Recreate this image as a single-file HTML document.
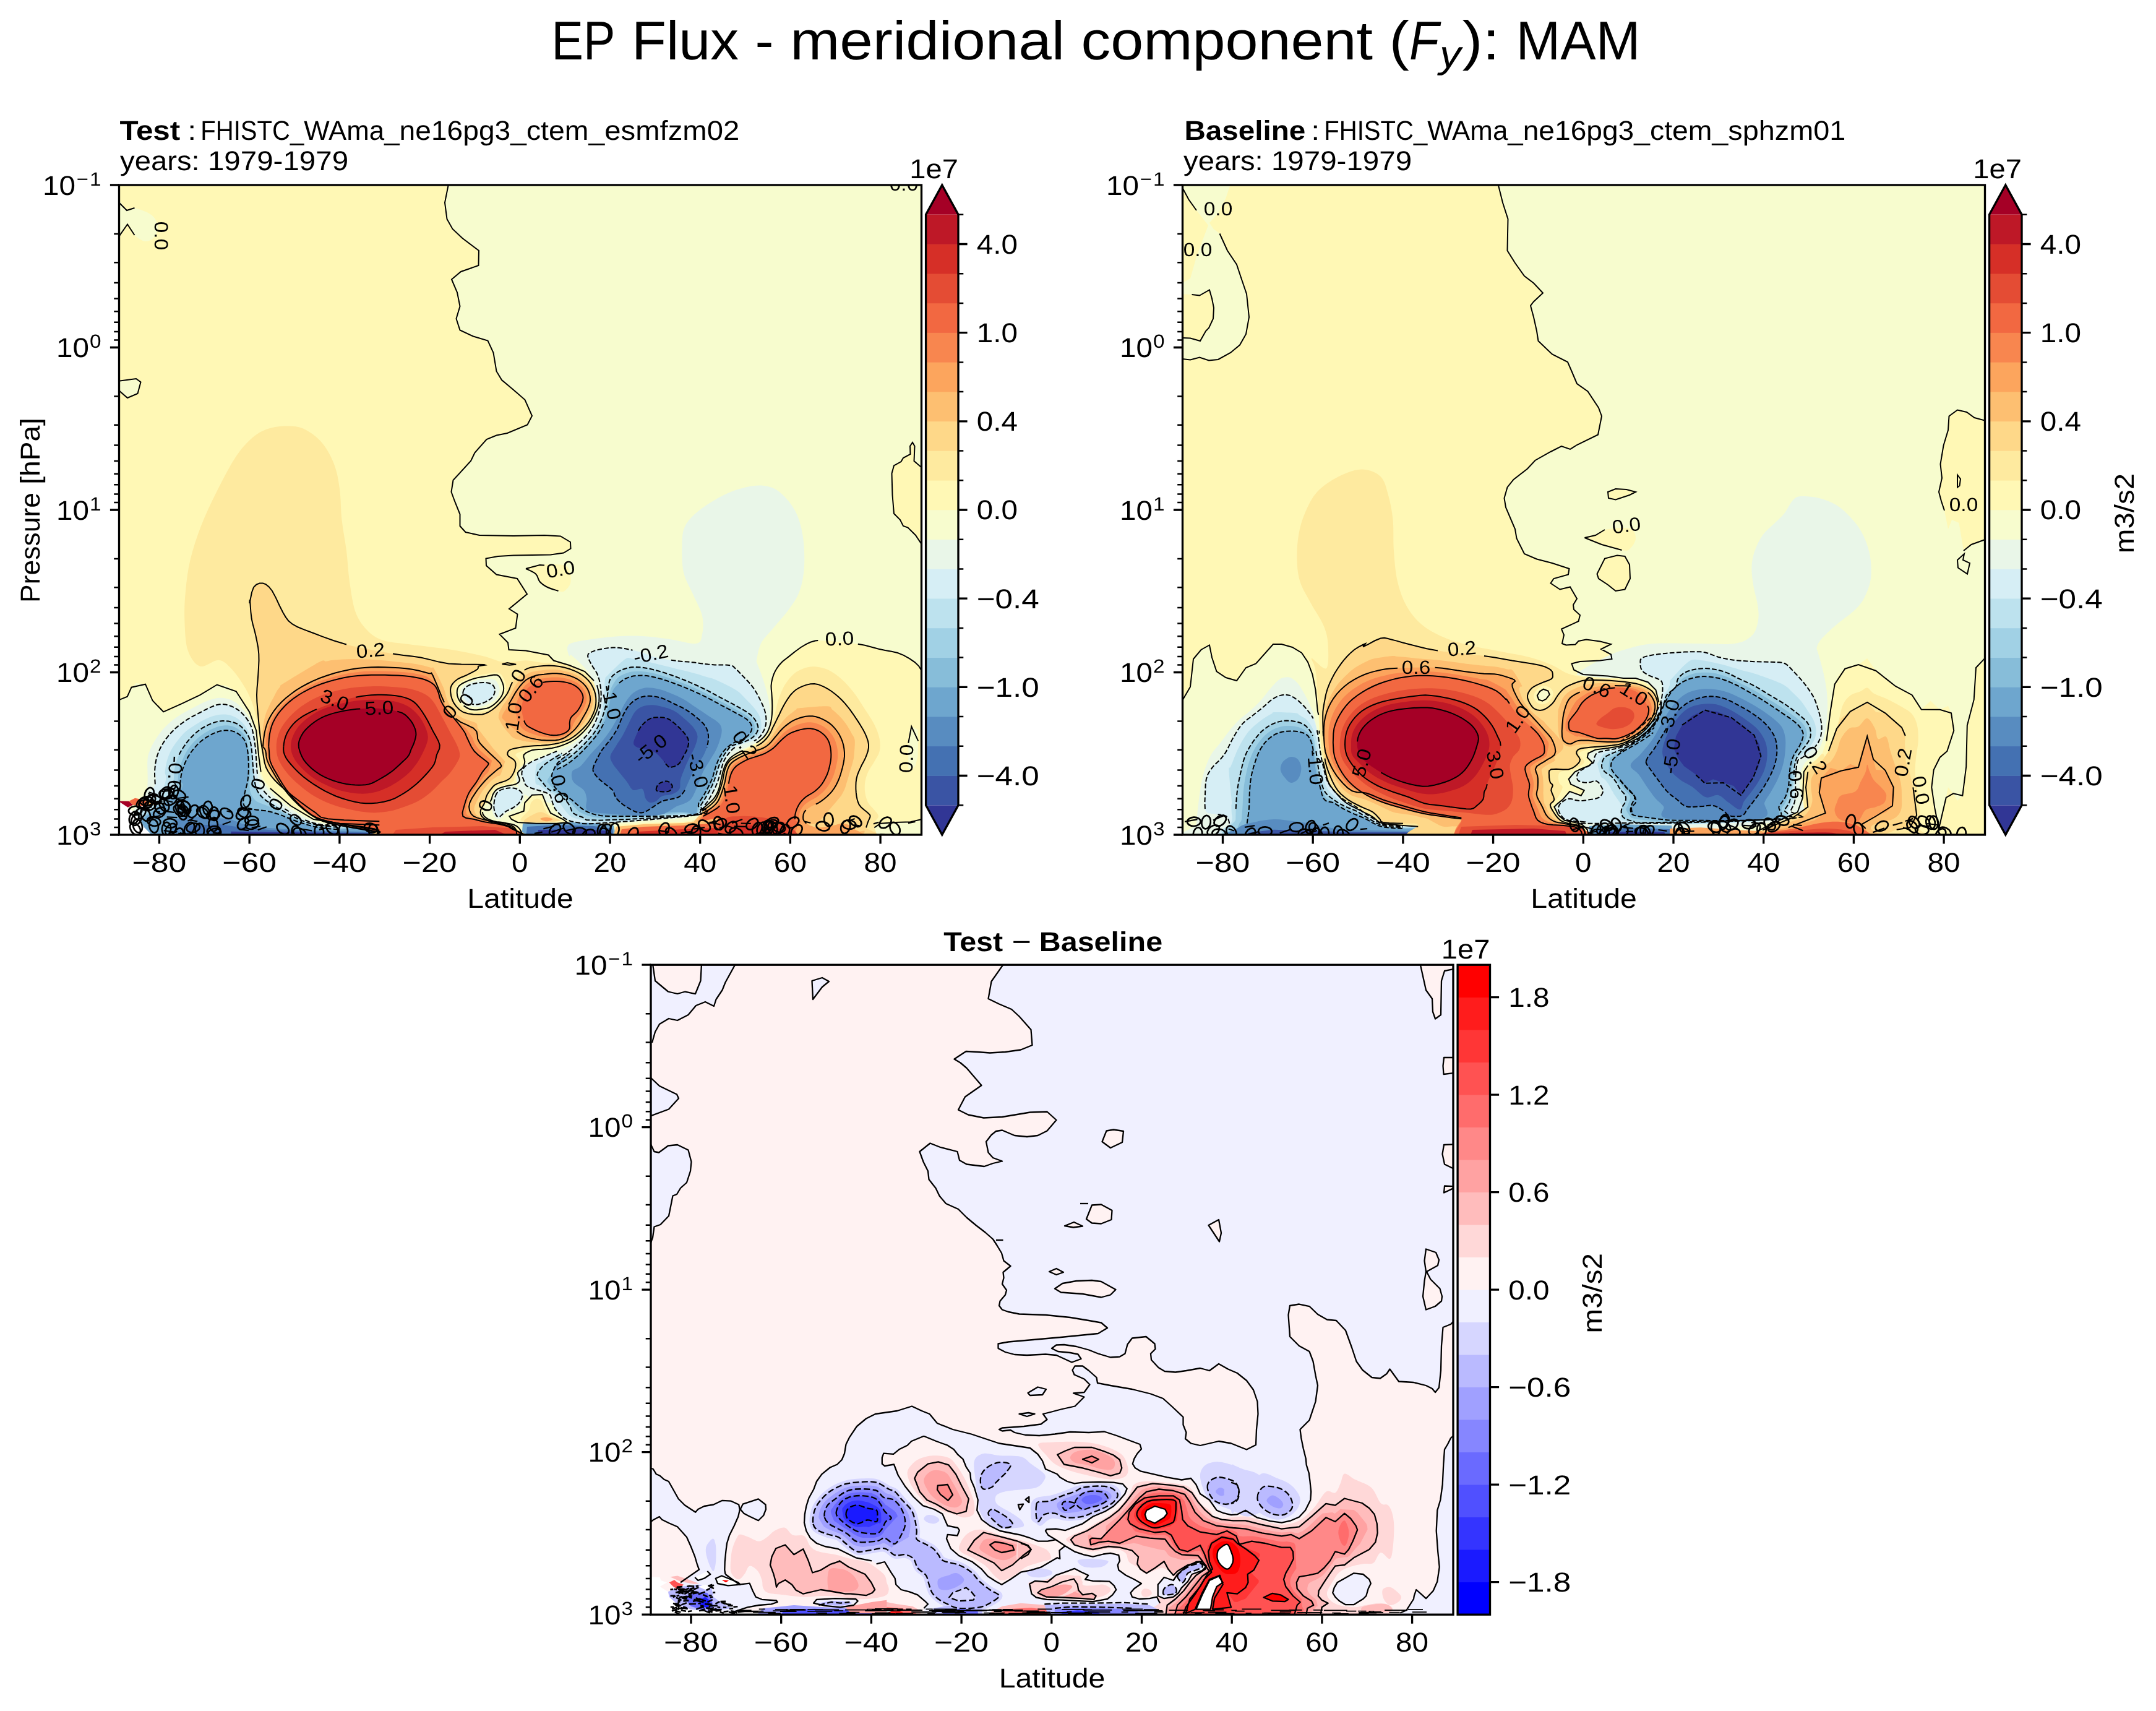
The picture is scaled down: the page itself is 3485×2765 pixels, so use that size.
<!DOCTYPE html>
<html><head><meta charset="utf-8"><title>EP Flux</title><style>html,body{margin:0;padding:0;background:#fff}svg{display:block;will-change:transform}</style></head><body>
<svg width="3485" height="2765" viewBox="0 0 3485 2765" font-family="'Liberation Sans', sans-serif" text-rendering="geometricPrecision">
<rect width="3485" height="2765" fill="#fff"/>
<defs>
<clipPath id="c0"><rect x="192.5" y="299.0" width="1297.0" height="1050.0"/></clipPath>
<clipPath id="c1"><rect x="1911.5" y="299.0" width="1297.0" height="1050.0"/></clipPath>
<clipPath id="c2"><rect x="1052.0" y="1559.2" width="1297.0" height="1050.0"/></clipPath>
</defs>
<text x="891.50" y="95.60" font-size="88.33" textLength="102.91" lengthAdjust="spacingAndGlyphs" fill="#000">EP</text>
<text x="1020.90" y="95.60" font-size="88.33" textLength="173.22" lengthAdjust="spacingAndGlyphs" fill="#000">Flux</text>
<text x="1220.60" y="95.60" font-size="88.33" textLength="30.07" lengthAdjust="spacingAndGlyphs" fill="#000">-</text>
<text x="1277.16" y="95.60" font-size="88.33" textLength="443.93" lengthAdjust="spacingAndGlyphs" fill="#000">meridional</text>
<text x="1747.58" y="95.60" font-size="88.33" textLength="471.44" lengthAdjust="spacingAndGlyphs" fill="#000">component</text>
<text x="2245.51" y="95.60" font-size="88.33" textLength="32.51" lengthAdjust="spacingAndGlyphs" fill="#000">(</text>
<text x="2278.02" y="95.60" font-size="88.33" font-style="italic" textLength="47.93" lengthAdjust="spacingAndGlyphs" fill="#000">F</text>
<text x="2326.96" y="108.60" font-size="61.83" font-style="italic" textLength="34.52" lengthAdjust="spacingAndGlyphs" fill="#000">y</text>
<text x="2363.48" y="95.60" font-size="88.33" textLength="60.59" lengthAdjust="spacingAndGlyphs" fill="#000">):</text>
<text x="2450.56" y="95.60" font-size="88.33" textLength="200.81" lengthAdjust="spacingAndGlyphs" fill="#000">MAM</text>
<g clip-path="url(#c0)">
<rect x="192.5" y="299.0" width="1297.0" height="1050.0" fill="#fff8b5"/>
<path d="M300.0 955.0C301.5 939.2 303.3 922.5 307.5 905.0C311.7 887.5 317.9 868.3 325.0 850.0C332.1 831.7 340.8 813.3 350.0 795.0C359.2 776.7 370.8 754.2 380.0 740.0C389.2 725.8 396.7 717.7 405.0 710.0C413.3 702.3 420.8 697.6 430.0 694.0C439.2 690.4 450.0 688.8 460.0 688.5C470.0 688.2 480.0 688.1 490.0 692.5C500.0 696.9 511.7 705.4 520.0 715.0C528.3 724.6 535.2 737.5 540.0 750.0C544.8 762.5 546.9 775.0 549.0 790.0C551.1 805.0 550.7 823.3 552.5 840.0C554.3 856.7 557.9 873.3 560.0 890.0C562.1 906.7 562.5 923.3 565.0 940.0C567.5 956.7 570.0 976.7 575.0 990.0C580.0 1003.3 587.5 1012.5 595.0 1020.0C602.5 1027.5 609.2 1031.5 620.0 1035.0C630.8 1038.5 641.7 1038.5 660.0 1041.0C678.3 1043.5 710.0 1046.8 730.0 1050.0C750.0 1053.2 765.8 1056.7 780.0 1060.0C794.2 1063.3 803.3 1068.8 815.0 1070.0C826.7 1071.2 840.0 1067.2 850.0 1067.3C860.0 1067.4 865.3 1069.8 875.0 1070.7C884.7 1071.5 898.6 1070.4 908.3 1072.3C918.1 1074.3 926.4 1078.7 933.3 1082.3C940.3 1085.9 945.6 1090.1 950.0 1094.0C954.4 1097.9 957.4 1101.2 960.0 1105.7C962.6 1110.1 964.8 1115.4 965.8 1120.7C966.9 1125.9 967.2 1131.8 966.3 1137.3C965.5 1142.9 963.4 1148.4 960.8 1154.0C958.2 1159.6 954.6 1165.5 950.8 1170.7C947.1 1175.8 943.2 1180.5 938.3 1184.8C933.5 1189.1 928.1 1193.2 921.7 1196.5C915.3 1199.8 907.5 1202.9 900.0 1204.8C892.5 1206.8 883.6 1207.5 876.7 1208.2C869.7 1208.9 863.9 1208.0 858.3 1209.0C852.8 1210.0 847.5 1212.2 843.3 1214.0C839.2 1215.8 833.9 1217.3 833.3 1219.8C832.8 1222.3 838.9 1225.5 840.0 1229.0C841.1 1232.5 841.2 1237.1 840.0 1240.7C838.8 1244.3 834.2 1247.1 832.5 1250.7C830.8 1254.3 832.6 1259.4 830.0 1262.3C827.4 1265.2 821.4 1266.6 816.7 1268.2C811.9 1269.7 805.3 1269.4 801.7 1271.5C798.1 1273.6 796.9 1277.2 795.0 1280.7C793.1 1284.1 792.2 1289.1 790.0 1292.3C787.8 1295.5 783.8 1296.2 781.7 1299.8C779.6 1303.4 777.2 1310.1 777.5 1314.0C777.8 1317.9 779.6 1320.7 783.3 1323.2C787.1 1325.7 794.4 1327.5 800.0 1329.0C805.6 1330.5 811.1 1330.9 816.7 1332.3C822.2 1333.7 829.7 1335.4 833.3 1337.3C836.9 1339.3 837.2 1340.9 838.3 1344.0C839.4 1347.1 877.5 1353.0 840.0 1355.7C802.5 1358.3 651.1 1364.3 613.3 1360.0C575.6 1355.7 626.7 1335.6 613.3 1330.0C600.0 1324.4 549.4 1328.3 533.3 1326.7C517.2 1325.0 522.2 1323.3 516.7 1320.0C511.1 1316.7 507.2 1312.2 500.0 1306.7C492.8 1301.1 481.7 1293.3 473.3 1286.7C465.0 1280.0 456.9 1273.3 450.0 1266.7C443.1 1260.0 435.8 1253.3 431.7 1246.7C427.5 1240.0 426.9 1235.0 425.0 1226.7C423.1 1218.3 421.7 1207.2 420.0 1196.7C418.3 1186.1 417.2 1173.9 415.0 1163.3C412.8 1152.8 410.3 1142.8 406.7 1133.3C403.1 1123.9 398.9 1115.6 393.3 1106.7C387.8 1097.8 380.0 1086.7 373.3 1080.0C366.7 1073.3 361.7 1067.2 353.3 1066.7C345.0 1066.1 331.7 1079.4 323.3 1076.7C315.0 1073.9 307.5 1062.8 303.3 1050.0C299.2 1037.2 298.9 1015.8 298.3 1000.0C297.8 984.2 298.5 970.8 300.0 955.0Z" fill="#feea9f"/>
<path d="M1131.7 1312.3C1133.9 1303.3 1139.6 1305.1 1143.3 1301.5C1147.1 1297.9 1151.2 1294.8 1154.2 1290.7C1157.1 1286.5 1159.0 1281.6 1160.8 1276.5C1162.6 1271.4 1163.6 1265.4 1165.0 1259.8C1166.4 1254.3 1167.2 1248.0 1169.2 1243.2C1171.1 1238.3 1173.5 1234.4 1176.7 1230.7C1179.9 1226.9 1183.9 1223.6 1188.3 1220.7C1192.8 1217.8 1198.1 1215.8 1203.3 1213.2C1208.6 1210.5 1215.0 1207.8 1220.0 1204.8C1225.0 1201.9 1229.4 1199.4 1233.3 1195.7C1237.2 1191.9 1241.0 1187.1 1243.3 1182.3C1245.7 1177.6 1246.1 1171.5 1247.5 1167.3C1248.9 1163.2 1249.9 1163.4 1251.7 1157.3C1253.5 1151.2 1255.6 1139.0 1258.3 1130.7C1261.1 1122.3 1264.2 1114.3 1268.3 1107.3C1272.5 1100.4 1278.1 1093.6 1283.3 1089.0C1288.6 1084.4 1294.4 1081.8 1300.0 1079.8C1305.6 1077.9 1310.3 1076.9 1316.7 1077.3C1323.1 1077.8 1331.1 1079.0 1338.3 1082.3C1345.6 1085.7 1353.1 1091.2 1360.0 1097.3C1366.9 1103.4 1373.9 1111.2 1380.0 1119.0C1386.1 1126.8 1391.1 1135.4 1396.7 1144.0C1402.2 1152.6 1409.2 1162.3 1413.3 1170.7C1417.5 1179.0 1420.3 1186.8 1421.7 1194.0C1423.1 1201.2 1423.1 1207.9 1421.7 1214.0C1420.3 1220.1 1416.4 1225.1 1413.3 1230.7C1410.3 1236.2 1405.8 1241.8 1403.3 1247.3C1400.8 1252.9 1399.2 1258.4 1398.3 1264.0C1397.5 1269.6 1397.5 1275.1 1398.3 1280.7C1399.2 1286.2 1400.8 1292.6 1403.3 1297.3C1405.8 1302.1 1410.6 1305.4 1413.3 1309.0C1416.1 1312.6 1420.0 1315.4 1420.0 1319.0C1420.0 1322.6 1414.7 1324.6 1413.3 1330.7C1411.9 1336.8 1458.9 1351.5 1411.7 1355.7C1364.4 1359.8 1176.7 1362.9 1130.0 1355.7C1083.3 1348.4 1129.4 1321.4 1131.7 1312.3Z" fill="#feea9f"/>
<path d="M725.0 297.5 L719.0 327.5 L722.5 354.0 L731.5 370.0 L747.5 385.0 L774.0 405.0 L773.5 429.0 L745.0 439.0 L730.0 451.5 L739.0 472.5 L743.5 495.0 L737.5 515.0 L743.5 533.5 L765.0 543.5 L788.5 550.5 L797.5 570.0 L802.5 600.0 L811.0 614.0 L830.0 630.0 L848.5 646.0 L860.0 672.0 L852.5 686.5 L820.0 700.0 L802.5 703.5 L786.5 710.0 L767.5 731.5 L761.0 745.0 L732.5 776.0 L729.5 795.0 L735.0 810.0 L743.5 831.0 L743.5 850.0 L752.5 860.0 L775.0 865.0 L830.0 866.0 L880.0 865.0 L906.0 866.5 L922.0 876.0 L922.5 886.5 L911.0 893.5 L890.0 896.5 L830.0 897.5 L805.0 899.0 L785.5 902.5 L786.0 914.0 L802.5 928.5 L836.0 935.0 L852.0 960.0 L823.0 984.0 L836.5 992.5 L833.5 1015.0 L807.5 1025.0 L821.0 1038.5 L822.5 1050.0 L850.0 1051.5 L886.5 1058.5 L895.0 1067.5 L920.0 1075.0 L945.0 1085.0 L960.0 1100.0 L965.0 1107.3 L968.3 1122.3 L967.5 1139.0 L961.7 1155.7 L951.7 1172.3 L938.3 1187.3 L921.7 1199.0 L900.0 1207.3 L876.7 1210.7 L860.0 1212.3 L846.7 1219.8 L848.3 1230.7 L845.0 1240.7 L836.7 1249.0 L840.0 1260.7 L833.3 1267.3 L816.7 1270.7 L803.3 1275.7 L796.7 1284.0 L793.3 1294.0 L783.3 1302.3 L780.0 1314.0 L786.7 1322.3 L800.0 1327.3 L816.7 1329.8 L833.3 1334.0 L841.7 1342.3 L845.0 1354.0 L985.0 1355.0 L989.0 1340.0 L999.0 1333.0 L1039.0 1330.0 L1105.0 1328.0 L1139.0 1323.0 L1133.3 1309.0 L1145.0 1299.0 L1155.0 1289.0 L1161.7 1275.7 L1165.8 1259.0 L1170.0 1242.3 L1176.7 1229.0 L1188.3 1219.0 L1203.3 1211.5 L1220.0 1202.3 L1233.3 1192.3 L1241.7 1180.7 L1246.7 1164.0 L1248.3 1144.0 L1247.5 1122.3 L1246.7 1105.7 L1251.7 1087.3 L1261.7 1072.3 L1273.3 1062.3 L1299.0 1043.3 L1322.3 1035.0 L1359.0 1037.3 L1392.3 1041.7 L1425.7 1050.0 L1455.7 1056.7 L1482.3 1073.3 L1492.3 1090.0 L1493.5 1090.0 L1493.5 295.0 L725.0 295.0Z" fill="#f7fcce"/>
<path d="M1495.0 760.0 L1477.5 745.0 L1478.5 721.0 L1475.0 715.0 L1471.0 721.0 L1471.5 734.0 L1460.0 740.0 L1456.5 746.0 L1445.0 752.5 L1441.5 765.0 L1442.5 800.0 L1445.0 830.0 L1455.0 840.0 L1460.0 850.0 L1467.5 852.5 L1480.0 865.0 L1495.0 887.5Z" fill="#fff8b5"/>
<path d="M850.0 919.0C851.1 916.6 861.7 913.7 872.5 913.0C883.3 912.3 906.7 910.5 915.0 915.0C923.3 919.5 922.9 933.3 922.5 940.0C922.1 946.7 915.8 952.5 912.5 955.0C909.2 957.5 907.1 956.0 902.5 955.0C897.9 954.0 890.0 951.5 885.0 949.0C880.0 946.5 875.7 943.6 872.5 940.0C869.3 936.4 869.8 931.0 866.0 927.5C862.2 924.0 848.9 921.4 850.0 919.0Z" fill="#fff8b5"/>
<path d="M190.0 325.0C192.5 317.5 200.4 338.2 205.0 340.0C209.6 341.8 210.8 334.8 217.5 336.0C224.2 337.2 238.8 342.7 245.0 347.5C251.2 352.3 254.2 359.2 255.0 365.0C255.8 370.8 253.3 378.3 250.0 382.5C246.7 386.7 240.4 390.4 235.0 390.0C229.6 389.6 222.3 384.6 217.5 380.0C212.7 375.4 210.6 361.7 206.0 362.5C201.4 363.3 192.7 391.2 190.0 385.0C187.3 378.8 187.5 332.5 190.0 325.0Z" fill="#f7fcce"/>
<path d="M191.0 616.0 L220.0 612.0 L227.5 617.5 L222.5 636.0 L206.0 643.0 L191.0 630.0Z" fill="#f7fcce"/>
<path d="M1102.5 880.0C1102.9 867.5 1102.9 859.2 1107.5 850.0C1112.1 840.8 1119.6 833.3 1130.0 825.0C1140.4 816.7 1157.5 806.2 1170.0 800.0C1182.5 793.8 1194.2 790.0 1205.0 787.5C1215.8 785.0 1225.8 783.8 1235.0 785.0C1244.2 786.2 1251.7 788.3 1260.0 795.0C1268.3 801.7 1278.8 813.3 1285.0 825.0C1291.2 836.7 1295.0 850.0 1297.5 865.0C1300.0 880.0 1300.8 900.0 1300.0 915.0C1299.2 930.0 1296.7 943.3 1292.5 955.0C1288.3 966.7 1282.1 975.0 1275.0 985.0C1267.9 995.0 1257.5 1005.8 1250.0 1015.0C1242.5 1024.2 1234.6 1030.8 1230.0 1040.0C1225.4 1049.2 1223.6 1064.9 1222.5 1070.0C1221.4 1075.1 1221.5 1066.1 1223.3 1070.7C1225.1 1075.2 1230.3 1087.9 1233.3 1097.3C1236.4 1106.8 1239.7 1118.4 1241.7 1127.3C1243.6 1136.2 1244.6 1143.4 1245.0 1150.7C1245.4 1157.9 1245.3 1165.1 1244.2 1170.7C1243.1 1176.2 1241.0 1179.8 1238.3 1184.0C1235.7 1188.2 1232.5 1192.2 1228.3 1195.7C1224.2 1199.1 1218.6 1202.1 1213.3 1204.8C1208.1 1207.6 1201.7 1209.7 1196.7 1212.3C1191.7 1215.0 1187.2 1217.3 1183.3 1220.7C1179.4 1224.0 1176.1 1227.9 1173.3 1232.3C1170.6 1236.8 1168.5 1242.1 1166.7 1247.3C1164.9 1252.6 1163.9 1258.7 1162.5 1264.0C1161.1 1269.3 1160.1 1274.3 1158.3 1279.0C1156.5 1283.7 1154.4 1288.2 1151.7 1292.3C1148.9 1296.5 1145.3 1300.4 1141.7 1304.0C1138.1 1307.6 1136.9 1311.0 1130.0 1314.0C1123.1 1317.0 1121.7 1320.0 1100.0 1322.0C1078.3 1324.0 1023.3 1328.0 1000.0 1326.0C976.7 1324.0 976.7 1314.3 960.0 1310.0C943.3 1305.7 918.3 1304.2 900.0 1300.0C881.7 1295.8 860.8 1291.3 850.0 1285.0C839.2 1278.7 836.3 1269.5 835.0 1262.0C833.7 1254.5 836.2 1246.2 842.0 1240.0C847.8 1233.8 857.0 1230.8 870.0 1225.0C883.0 1219.2 906.7 1212.5 920.0 1205.0C933.3 1197.5 942.5 1189.2 950.0 1180.0C957.5 1170.8 963.0 1161.7 965.0 1150.0C967.0 1138.3 964.5 1120.8 962.0 1110.0C959.5 1099.2 956.2 1093.3 950.0 1085.0C943.8 1076.7 930.0 1064.2 925.0 1060.0C920.0 1055.8 921.2 1062.5 920.0 1060.0C918.8 1057.5 915.8 1048.8 917.5 1045.0C919.2 1041.2 919.6 1040.0 930.0 1037.5C940.4 1035.0 963.3 1031.7 980.0 1030.0C996.7 1028.3 1013.3 1027.1 1030.0 1027.5C1046.7 1027.9 1064.2 1030.4 1080.0 1032.5C1095.8 1034.6 1115.8 1041.2 1125.0 1040.0C1134.2 1038.8 1133.3 1032.5 1135.0 1025.0C1136.7 1017.5 1137.5 1005.8 1135.0 995.0C1132.5 984.2 1125.0 971.7 1120.0 960.0C1115.0 948.3 1107.9 938.3 1105.0 925.0C1102.1 911.7 1102.1 892.5 1102.5 880.0Z" fill="#e9f6e8"/>
<path d="M900.0 1226.7C902.8 1227.1 911.1 1220.6 916.7 1216.7C922.2 1212.8 928.1 1208.1 933.3 1203.3C938.6 1198.6 943.9 1193.6 948.3 1188.3C952.8 1183.1 956.7 1178.1 960.0 1171.7C963.3 1165.3 966.4 1157.5 968.3 1150.0C970.3 1142.5 971.4 1134.2 971.7 1126.7C971.9 1119.2 971.1 1111.4 970.0 1105.0C968.9 1098.6 967.2 1093.3 965.0 1088.3C962.8 1083.3 959.2 1079.7 956.7 1075.0C954.2 1070.3 950.0 1063.6 950.0 1060.0C950.0 1056.4 952.5 1055.3 956.7 1053.3C960.8 1051.4 967.8 1049.4 975.0 1048.3C982.2 1047.2 990.3 1045.8 1000.0 1046.7C1009.7 1047.5 1023.6 1050.8 1033.3 1053.3C1043.1 1055.8 1048.9 1059.3 1058.3 1061.7C1067.8 1064.0 1080.3 1066.1 1090.0 1067.5C1099.7 1068.9 1106.7 1068.9 1116.7 1070.0C1126.7 1071.1 1139.4 1073.3 1150.0 1074.2C1160.6 1075.0 1173.6 1074.0 1180.0 1075.0C1186.4 1076.0 1185.0 1077.2 1188.3 1080.0C1191.7 1082.8 1195.3 1086.7 1200.0 1091.7C1204.7 1096.7 1211.9 1103.6 1216.7 1110.0C1221.4 1116.4 1225.0 1123.3 1228.3 1130.0C1231.7 1136.7 1235.0 1143.6 1236.7 1150.0C1238.3 1156.4 1238.9 1162.8 1238.3 1168.3C1237.8 1173.9 1235.8 1178.9 1233.3 1183.3C1230.8 1187.8 1227.5 1192.2 1223.3 1195.0C1219.2 1197.8 1213.9 1198.1 1208.3 1200.0C1202.8 1201.9 1194.7 1204.2 1190.0 1206.7C1185.3 1209.2 1183.3 1211.1 1180.0 1215.0C1176.7 1218.9 1172.5 1224.7 1170.0 1230.0C1167.5 1235.3 1166.7 1241.1 1165.0 1246.7C1163.3 1252.2 1161.9 1258.1 1160.0 1263.3C1158.1 1268.6 1155.8 1273.3 1153.3 1278.3C1150.8 1283.3 1147.8 1288.9 1145.0 1293.3C1142.2 1297.8 1138.9 1301.1 1136.7 1305.0C1134.4 1308.9 1137.8 1314.2 1131.7 1316.7C1125.6 1319.2 1119.2 1318.1 1100.0 1320.0C1080.8 1321.9 1038.9 1326.4 1016.7 1328.2C994.4 1329.9 980.6 1330.5 966.7 1330.7C952.8 1330.8 941.9 1330.1 933.3 1329.0C924.7 1327.9 920.6 1327.1 915.0 1324.0C909.4 1320.9 903.3 1314.3 900.0 1310.7C896.7 1307.1 896.4 1305.4 895.0 1302.3C893.6 1299.3 892.8 1295.4 891.7 1292.3C890.6 1289.3 890.8 1286.2 888.3 1284.0C885.8 1281.8 881.4 1280.7 876.7 1279.0C871.9 1277.3 864.4 1275.7 860.0 1274.0C855.6 1272.3 852.2 1271.2 850.0 1269.0C847.8 1266.8 847.8 1263.7 846.7 1260.7C845.6 1257.6 843.3 1254.0 843.3 1250.7C843.3 1247.3 843.9 1244.0 846.7 1240.7C849.4 1237.3 854.4 1233.7 860.0 1230.7C865.6 1227.6 873.3 1225.1 880.0 1222.3C886.7 1219.6 896.7 1213.3 900.0 1214.0C903.3 1214.7 897.2 1226.2 900.0 1226.7Z" fill="#d6eef5"/>
<path d="M900.0 1231.7C900.8 1231.7 903.7 1230.5 906.8 1228.5C909.9 1226.6 915.1 1222.9 918.8 1220.2C922.4 1217.4 925.4 1215.1 928.9 1212.2C932.3 1209.2 936.1 1205.8 939.6 1202.5C943.0 1199.1 946.5 1195.5 949.5 1192.1C952.5 1188.8 955.0 1185.9 957.4 1182.4C959.9 1179.0 962.1 1175.4 964.2 1171.5C966.2 1167.5 968.1 1163.2 969.7 1158.8C971.3 1154.3 972.7 1149.6 973.8 1144.9C974.9 1140.2 975.7 1135.3 976.3 1130.6C976.8 1125.9 977.0 1120.8 977.2 1116.6C977.4 1112.4 977.2 1108.7 977.3 1105.4C977.5 1102.2 977.5 1099.2 978.3 1096.9C979.0 1094.7 976.6 1097.1 981.9 1091.8C987.3 1086.5 1003.5 1069.8 1010.3 1065.3C1017.1 1060.8 1018.1 1064.5 1022.7 1064.8C1027.2 1065.1 1032.9 1066.2 1037.6 1067.1C1042.3 1068.0 1046.0 1069.2 1050.8 1070.3C1055.5 1071.5 1061.1 1072.8 1066.0 1074.0C1071.0 1075.2 1075.8 1076.4 1080.7 1077.6C1085.7 1078.9 1090.6 1080.1 1095.8 1081.4C1101.1 1082.7 1106.9 1083.8 1112.3 1085.2C1117.7 1086.6 1123.0 1088.1 1128.1 1089.6C1133.3 1091.2 1138.2 1092.8 1143.1 1094.3C1148.1 1095.9 1150.0 1095.4 1157.8 1098.9C1165.6 1102.4 1181.9 1110.0 1189.9 1115.2C1197.9 1120.4 1201.3 1125.5 1205.9 1129.9C1210.4 1134.4 1213.7 1137.7 1217.1 1141.7C1220.5 1145.7 1224.0 1150.2 1226.1 1154.1C1228.3 1158.1 1229.4 1161.8 1230.1 1165.3C1230.8 1168.8 1230.8 1172.3 1230.6 1175.2C1230.3 1178.0 1230.1 1179.7 1228.8 1182.2C1227.6 1184.8 1225.7 1188.2 1223.1 1190.5C1220.5 1192.8 1216.8 1194.6 1213.4 1196.3C1210.1 1197.9 1206.6 1199.0 1203.0 1200.3C1199.4 1201.6 1195.1 1202.7 1191.9 1204.0C1188.6 1205.2 1185.7 1206.4 1183.6 1207.8C1181.4 1209.2 1180.5 1210.5 1178.8 1212.4C1177.2 1214.4 1175.4 1216.7 1173.7 1219.3C1172.0 1221.8 1170.2 1224.6 1168.7 1227.7C1167.2 1230.7 1166.0 1234.1 1164.7 1237.6C1163.5 1241.1 1162.5 1245.0 1161.4 1248.5C1160.4 1252.0 1159.7 1255.3 1158.5 1258.6C1157.4 1262.0 1156.1 1265.4 1154.6 1268.7C1153.2 1271.9 1151.7 1275.0 1150.0 1278.2C1148.4 1281.5 1146.5 1285.0 1144.6 1288.1C1142.8 1291.2 1140.8 1294.1 1139.0 1296.8C1137.3 1299.5 1135.5 1301.2 1134.2 1304.2C1132.8 1307.2 1132.7 1312.4 1130.8 1314.7C1128.9 1317.0 1127.2 1317.3 1122.9 1317.8C1118.7 1318.3 1115.9 1317.0 1105.4 1317.7C1094.8 1318.4 1075.5 1320.5 1059.6 1322.0C1043.7 1323.5 1023.8 1325.5 1010.0 1326.6C996.2 1327.6 986.2 1328.0 976.9 1328.2C967.7 1328.3 960.4 1327.9 954.4 1327.4C948.4 1327.0 945.0 1326.0 940.9 1325.2C936.9 1324.4 933.4 1323.7 930.2 1322.6C927.1 1321.6 924.3 1320.5 921.9 1318.8C919.5 1317.2 917.7 1314.7 915.8 1312.6C914.0 1310.6 913.0 1309.3 911.0 1306.5C908.9 1303.7 905.9 1299.1 903.6 1295.8C901.4 1292.5 899.2 1289.0 897.3 1286.8C895.3 1284.5 893.8 1283.5 891.8 1282.1C889.9 1280.8 887.7 1280.1 885.5 1278.7C883.3 1277.3 880.7 1275.4 878.4 1273.8C876.1 1272.2 874.1 1270.6 871.9 1269.0C869.8 1267.4 866.4 1269.5 865.5 1264.3C864.7 1259.1 865.3 1243.1 866.7 1237.8C868.0 1232.5 871.4 1234.1 873.7 1232.5C876.1 1230.9 876.7 1229.5 880.6 1228.2C884.6 1226.9 892.5 1226.0 897.3 1224.5C902.1 1223.0 908.6 1218.6 909.4 1219.2C910.2 1219.8 903.8 1226.2 902.2 1228.2C900.6 1230.3 899.2 1231.6 900.0 1231.7Z" fill="#bde2ee"/>
<path d="M900.0 1236.7C901.4 1238.2 911.1 1230.6 916.7 1226.7C922.2 1222.8 927.8 1218.3 933.3 1213.3C938.9 1208.3 945.0 1202.2 950.0 1196.7C955.0 1191.1 959.4 1186.1 963.3 1180.0C967.2 1173.9 970.6 1167.2 973.3 1160.0C976.1 1152.8 978.3 1144.4 980.0 1136.7C981.7 1128.9 982.2 1120.0 983.3 1113.3C984.4 1106.7 983.9 1101.4 986.7 1096.7C989.4 1091.9 994.4 1088.1 1000.0 1085.0C1005.6 1081.9 1013.1 1079.3 1020.0 1078.3C1026.9 1077.4 1033.9 1078.1 1041.7 1079.2C1049.4 1080.3 1058.3 1082.6 1066.7 1085.0C1075.0 1087.4 1083.3 1090.3 1091.7 1093.3C1100.0 1096.4 1108.3 1099.7 1116.7 1103.3C1125.0 1106.9 1133.3 1110.8 1141.7 1115.0C1150.0 1119.2 1158.3 1123.9 1166.7 1128.3C1175.0 1132.8 1183.9 1137.2 1191.7 1141.7C1199.4 1146.1 1208.1 1150.6 1213.3 1155.0C1218.6 1159.4 1221.4 1164.2 1223.3 1168.3C1225.3 1172.5 1226.1 1176.1 1225.0 1180.0C1223.9 1183.9 1220.8 1188.3 1216.7 1191.7C1212.5 1195.0 1205.6 1197.8 1200.0 1200.0C1194.4 1202.2 1187.5 1202.8 1183.3 1205.0C1179.2 1207.2 1177.8 1209.7 1175.0 1213.3C1172.2 1216.9 1169.2 1221.7 1166.7 1226.7C1164.2 1231.7 1161.9 1237.8 1160.0 1243.3C1158.1 1248.9 1156.9 1254.7 1155.0 1260.0C1153.1 1265.3 1150.8 1270.0 1148.3 1275.0C1145.8 1280.0 1142.8 1285.3 1140.0 1290.0C1137.2 1294.7 1133.9 1298.9 1131.7 1303.3C1129.4 1307.8 1131.9 1314.6 1126.7 1316.7C1121.4 1318.8 1118.3 1314.8 1100.0 1316.0C1081.7 1317.2 1038.9 1322.4 1016.7 1324.0C994.4 1325.6 979.2 1326.2 966.7 1325.7C954.2 1325.1 948.3 1322.6 941.7 1320.7C935.0 1318.7 930.0 1316.8 926.7 1314.0C923.3 1311.2 923.6 1307.3 921.7 1304.0C919.7 1300.7 918.6 1297.6 915.0 1294.0C911.4 1290.4 904.7 1285.4 900.0 1282.3C895.3 1279.3 890.6 1278.7 886.7 1275.7C882.8 1272.6 879.7 1267.9 876.7 1264.0C873.6 1260.1 868.6 1256.2 868.3 1252.3C868.1 1248.4 871.9 1244.3 875.0 1240.7C878.1 1237.1 881.1 1234.6 886.7 1230.7C892.2 1226.8 906.1 1216.3 908.3 1217.3C910.6 1218.3 898.6 1235.1 900.0 1236.7Z" fill="#a1d1e5"/>
<path d="M900.3 1240.1C899.0 1241.6 901.8 1240.2 904.2 1239.0C906.5 1237.7 911.2 1234.7 914.3 1232.5C917.4 1230.4 920.1 1228.5 922.9 1226.2C925.7 1224.0 928.5 1221.8 931.2 1219.3C934.0 1216.9 936.8 1214.3 939.6 1211.6C942.4 1208.8 945.2 1206.0 948.0 1203.0C950.9 1199.9 954.0 1196.6 956.7 1193.3C959.5 1190.0 962.2 1186.6 964.5 1183.3C966.8 1179.9 968.7 1176.7 970.5 1173.3C972.3 1169.8 974.0 1166.5 975.5 1162.6C977.0 1158.6 978.4 1153.9 979.6 1149.7C980.8 1145.5 981.7 1141.3 982.5 1137.5C983.3 1133.7 983.7 1130.3 984.4 1126.7C985.0 1123.1 985.6 1119.0 986.5 1115.9C987.5 1112.7 988.0 1111.1 990.0 1107.7C992.0 1104.3 995.4 1098.5 998.4 1095.5C1001.4 1092.5 1004.5 1091.3 1007.8 1089.7C1011.1 1088.2 1014.5 1087.0 1018.2 1086.1C1022.0 1085.3 1026.3 1084.9 1030.4 1084.8C1034.5 1084.7 1038.5 1085.1 1042.6 1085.6C1046.8 1086.1 1050.7 1086.9 1055.0 1087.8C1059.4 1088.8 1064.4 1090.2 1068.8 1091.4C1073.1 1092.7 1077.1 1094.0 1081.2 1095.4C1085.4 1096.8 1089.6 1098.4 1093.8 1099.9C1097.9 1101.5 1102.1 1103.1 1106.2 1104.8C1110.4 1106.5 1114.6 1108.3 1118.8 1110.1C1122.9 1111.9 1127.1 1113.8 1131.2 1115.8C1135.4 1117.7 1139.6 1119.8 1143.8 1121.9C1147.9 1124.0 1152.1 1126.3 1156.2 1128.5C1160.4 1130.8 1164.5 1133.0 1168.8 1135.3C1173.0 1137.5 1177.3 1139.7 1181.6 1142.0C1185.9 1144.4 1190.9 1147.1 1194.6 1149.2C1198.4 1151.2 1201.3 1152.8 1204.1 1154.5C1206.9 1156.3 1209.4 1157.9 1211.5 1159.7C1213.5 1161.6 1215.3 1163.7 1216.6 1165.6C1217.9 1167.6 1218.9 1168.9 1219.4 1171.3C1219.9 1173.8 1220.2 1177.7 1219.7 1180.2C1219.3 1182.6 1217.9 1184.3 1216.5 1186.2C1215.0 1188.0 1213.2 1189.8 1211.2 1191.3C1209.2 1192.9 1207.1 1194.2 1204.6 1195.5C1202.1 1196.7 1199.0 1197.8 1196.2 1198.8C1193.3 1199.9 1190.1 1200.5 1187.5 1201.6C1184.8 1202.7 1182.2 1204.1 1180.1 1205.7C1178.0 1207.2 1176.6 1208.9 1174.8 1210.8C1173.1 1212.7 1171.3 1215.0 1169.7 1217.3C1168.1 1219.6 1166.7 1221.9 1165.3 1224.4C1164.0 1226.9 1162.8 1229.7 1161.7 1232.4C1160.6 1235.2 1159.5 1238.3 1158.6 1241.0C1157.7 1243.7 1157.0 1246.0 1156.2 1248.7C1155.4 1251.4 1154.7 1254.2 1153.8 1257.0C1152.8 1259.8 1151.6 1262.7 1150.5 1265.3C1149.3 1267.9 1148.2 1270.2 1147.0 1272.7C1145.7 1275.2 1144.3 1277.8 1143.0 1280.3C1141.6 1282.8 1140.1 1285.4 1138.7 1287.7C1137.2 1290.1 1135.7 1292.2 1134.3 1294.5C1132.9 1296.7 1131.2 1298.6 1130.3 1301.1C1129.3 1303.6 1129.8 1306.9 1128.6 1309.5C1127.4 1312.2 1125.1 1315.9 1123.1 1317.0C1121.1 1318.0 1120.2 1316.2 1116.4 1315.7C1112.5 1315.2 1109.6 1313.7 1100.0 1314.0C1090.4 1314.3 1072.7 1316.1 1058.9 1317.3C1045.0 1318.5 1025.5 1320.3 1016.7 1321.1C1007.8 1321.9 1008.3 1321.7 1005.7 1321.9C1003.0 1322.1 1004.3 1322.0 1000.6 1322.0C997.0 1322.1 989.4 1322.3 983.8 1322.2C978.1 1322.1 971.5 1322.0 966.7 1321.5C961.8 1321.0 958.3 1320.3 954.7 1319.3C951.1 1318.4 948.0 1317.1 945.0 1315.9C942.0 1314.7 939.7 1314.1 936.8 1312.0C934.0 1309.9 930.1 1305.6 927.9 1303.2C925.7 1300.8 925.0 1299.5 923.6 1297.8C922.1 1296.1 921.1 1294.9 919.1 1293.2C917.2 1291.6 914.5 1289.7 911.9 1287.9C909.3 1286.1 906.1 1284.0 903.8 1282.3C901.4 1280.6 899.6 1279.2 897.8 1277.7C896.0 1276.3 894.6 1275.4 892.9 1273.5C891.2 1271.7 888.7 1268.9 887.3 1266.7C886.0 1264.6 883.4 1264.8 884.9 1260.8C886.4 1256.9 894.2 1246.7 896.3 1243.2C898.4 1239.8 897.0 1241.4 897.5 1240.3C898.0 1239.3 898.3 1238.6 899.1 1237.1C900.0 1235.5 899.8 1233.2 902.7 1230.9C905.5 1228.7 912.8 1225.6 916.2 1223.6C919.7 1221.6 924.1 1217.8 923.3 1218.9C922.5 1219.9 915.3 1226.5 911.4 1230.1C907.6 1233.6 901.5 1238.6 900.3 1240.1Z" fill="#87bdd9"/>
<path d="M900.0 1243.3C899.2 1246.3 911.1 1238.6 916.7 1235.0C922.2 1231.4 927.8 1226.7 933.3 1221.7C938.9 1216.7 944.4 1211.1 950.0 1205.0C955.6 1198.9 961.9 1191.9 966.7 1185.0C971.4 1178.1 975.3 1171.1 978.3 1163.3C981.4 1155.6 983.1 1146.1 985.0 1138.3C986.9 1130.6 986.9 1122.8 990.0 1116.7C993.1 1110.6 998.3 1105.6 1003.3 1101.7C1008.3 1097.8 1013.6 1095.0 1020.0 1093.3C1026.4 1091.7 1033.9 1091.1 1041.7 1091.7C1049.4 1092.2 1058.3 1094.4 1066.7 1096.7C1075.0 1098.9 1083.3 1101.9 1091.7 1105.0C1100.0 1108.1 1108.3 1111.4 1116.7 1115.0C1125.0 1118.6 1133.3 1122.5 1141.7 1126.7C1150.0 1130.8 1158.3 1135.6 1166.7 1140.0C1175.0 1144.4 1184.7 1149.4 1191.7 1153.3C1198.6 1157.2 1204.4 1160.0 1208.3 1163.3C1212.2 1166.7 1214.2 1170.0 1215.0 1173.3C1215.8 1176.7 1215.3 1180.0 1213.3 1183.3C1211.4 1186.7 1207.8 1190.6 1203.3 1193.3C1198.9 1196.1 1191.7 1197.2 1186.7 1200.0C1181.7 1202.8 1177.2 1206.1 1173.3 1210.0C1169.4 1213.9 1166.1 1218.3 1163.3 1223.3C1160.6 1228.3 1158.6 1234.4 1156.7 1240.0C1154.7 1245.6 1153.6 1251.4 1151.7 1256.7C1149.7 1261.9 1147.5 1266.7 1145.0 1271.7C1142.5 1276.7 1139.4 1281.9 1136.7 1286.7C1133.9 1291.4 1130.6 1295.0 1128.3 1300.0C1126.1 1305.0 1128.1 1314.7 1123.3 1316.7C1118.6 1318.7 1117.8 1311.8 1100.0 1312.0C1082.2 1312.2 1033.3 1317.0 1016.7 1318.2C1000.0 1319.3 1008.3 1319.1 1000.0 1319.0C991.7 1318.9 975.6 1318.7 966.7 1317.3C957.8 1315.9 952.2 1313.4 946.7 1310.7C941.1 1307.9 937.5 1304.0 933.3 1300.7C929.2 1297.3 926.4 1294.0 921.7 1290.7C916.9 1287.3 909.4 1284.3 905.0 1280.7C900.6 1277.1 897.2 1273.2 895.0 1269.0C892.8 1264.8 891.7 1259.8 891.7 1255.7C891.7 1251.5 893.1 1248.2 895.0 1244.0C896.9 1239.8 898.9 1235.1 903.3 1230.7C907.8 1226.2 922.2 1215.2 921.7 1217.3C921.1 1219.4 900.8 1240.4 900.0 1243.3Z" fill="#6ea6ce"/>
<path d="M925.0 1246.7C926.9 1242.5 933.3 1243.1 938.3 1238.3C943.3 1233.6 949.4 1224.7 955.0 1218.3C960.6 1211.9 966.4 1206.4 971.7 1200.0C976.9 1193.6 981.9 1187.2 986.7 1180.0C991.4 1172.8 996.1 1163.9 1000.0 1156.7C1003.9 1149.4 1006.1 1142.8 1010.0 1136.7C1013.9 1130.6 1018.1 1124.2 1023.3 1120.0C1028.6 1115.8 1035.0 1112.8 1041.7 1111.7C1048.3 1110.6 1056.4 1111.9 1063.3 1113.3C1070.3 1114.7 1076.4 1117.2 1083.3 1120.0C1090.3 1122.8 1098.1 1126.1 1105.0 1130.0C1111.9 1133.9 1118.3 1138.9 1125.0 1143.3C1131.7 1147.8 1138.9 1152.5 1145.0 1156.7C1151.1 1160.8 1158.1 1164.4 1161.7 1168.3C1165.3 1172.2 1166.4 1175.3 1166.7 1180.0C1166.9 1184.7 1165.0 1191.1 1163.3 1196.7C1161.7 1202.2 1159.4 1207.8 1156.7 1213.3C1153.9 1218.9 1150.0 1224.4 1146.7 1230.0C1143.3 1235.6 1139.4 1241.1 1136.7 1246.7C1133.9 1252.2 1132.2 1257.8 1130.0 1263.3C1127.8 1268.9 1125.6 1275.3 1123.3 1280.0C1121.1 1284.7 1119.4 1288.6 1116.7 1291.7C1113.9 1294.7 1110.6 1296.4 1106.7 1298.3C1102.8 1300.3 1097.8 1301.1 1093.3 1303.3C1088.9 1305.6 1084.4 1309.4 1080.0 1311.7C1075.6 1313.9 1074.4 1315.6 1066.7 1316.7C1058.9 1317.8 1047.2 1318.6 1033.3 1318.3C1019.4 1318.1 997.2 1316.4 983.3 1315.0C969.4 1313.6 955.8 1314.2 950.0 1310.0C944.2 1305.8 949.4 1295.6 948.3 1290.0C947.2 1284.4 946.9 1281.1 943.3 1276.7C939.7 1272.2 929.7 1268.3 926.7 1263.3C923.6 1258.3 923.1 1250.8 925.0 1246.7Z" fill="#588cc0"/>
<path d="M958.3 1243.3C958.6 1238.9 962.5 1231.9 965.0 1226.7C967.5 1221.4 969.7 1216.9 973.3 1211.7C976.9 1206.4 982.5 1200.8 986.7 1195.0C990.8 1189.2 995.0 1183.1 998.3 1176.7C1001.7 1170.3 1003.6 1162.8 1006.7 1156.7C1009.7 1150.6 1012.5 1144.7 1016.7 1140.0C1020.8 1135.3 1026.1 1130.9 1031.7 1128.3C1037.2 1125.8 1043.6 1124.7 1050.0 1124.7C1056.4 1124.7 1063.6 1126.3 1070.0 1128.3C1076.4 1130.3 1081.9 1133.6 1088.3 1136.7C1094.7 1139.7 1101.9 1142.8 1108.3 1146.7C1114.7 1150.6 1121.4 1155.6 1126.7 1160.0C1131.9 1164.4 1136.9 1168.6 1140.0 1173.3C1143.1 1178.1 1144.4 1183.1 1145.0 1188.3C1145.6 1193.6 1144.7 1199.4 1143.3 1205.0C1141.9 1210.6 1139.7 1216.1 1136.7 1221.7C1133.6 1227.2 1128.3 1232.8 1125.0 1238.3C1121.7 1243.9 1119.2 1249.7 1116.7 1255.0C1114.2 1260.3 1111.9 1265.8 1110.0 1270.0C1108.1 1274.2 1107.2 1276.9 1105.0 1280.0C1102.8 1283.1 1100.3 1286.4 1096.7 1288.3C1093.1 1290.3 1087.8 1290.6 1083.3 1291.7C1078.9 1292.8 1074.4 1293.1 1070.0 1295.0C1065.6 1296.9 1061.1 1300.6 1056.7 1303.3C1052.2 1306.1 1047.2 1310.0 1043.3 1311.7C1039.4 1313.3 1036.7 1313.6 1033.3 1313.3C1030.0 1313.1 1027.8 1312.2 1023.3 1310.0C1018.9 1307.8 1011.4 1303.6 1006.7 1300.0C1001.9 1296.4 997.8 1292.2 995.0 1288.3C992.2 1284.4 993.6 1280.8 990.0 1276.7C986.4 1272.5 977.8 1267.2 973.3 1263.3C968.9 1259.4 965.8 1256.7 963.3 1253.3C960.8 1250.0 958.1 1247.8 958.3 1243.3Z" fill="#4471b2"/>
<path d="M986.7 1221.7C987.5 1217.2 991.7 1212.2 995.0 1206.7C998.3 1201.1 1003.1 1194.7 1006.7 1188.3C1010.3 1181.9 1013.3 1174.7 1016.7 1168.3C1020.0 1161.9 1023.1 1154.4 1026.7 1150.0C1030.3 1145.6 1033.6 1143.5 1038.3 1141.7C1043.1 1139.9 1048.9 1138.9 1055.0 1139.2C1061.1 1139.4 1068.9 1141.5 1075.0 1143.3C1081.1 1145.1 1086.1 1146.7 1091.7 1150.0C1097.2 1153.3 1103.3 1158.9 1108.3 1163.3C1113.3 1167.8 1118.5 1172.2 1121.7 1176.7C1124.9 1181.1 1127.2 1185.0 1127.5 1190.0C1127.8 1195.0 1125.4 1201.1 1123.3 1206.7C1121.2 1212.2 1117.8 1217.5 1115.0 1223.3C1112.2 1229.2 1109.2 1235.6 1106.7 1241.7C1104.2 1247.8 1101.4 1254.4 1100.0 1260.0C1098.6 1265.6 1100.6 1271.1 1098.3 1275.0C1096.1 1278.9 1091.4 1281.4 1086.7 1283.3C1081.9 1285.3 1074.4 1284.7 1070.0 1286.7C1065.6 1288.6 1063.3 1293.3 1060.0 1295.0C1056.7 1296.7 1052.8 1297.5 1050.0 1296.7C1047.2 1295.8 1045.3 1293.6 1043.3 1290.0C1041.4 1286.4 1041.7 1277.2 1038.3 1275.0C1035.0 1272.8 1027.5 1278.6 1023.3 1276.7C1019.2 1274.7 1017.2 1268.3 1013.3 1263.3C1009.4 1258.3 1003.9 1251.7 1000.0 1246.7C996.1 1241.7 992.2 1237.5 990.0 1233.3C987.8 1229.2 985.8 1226.1 986.7 1221.7Z" fill="#3a54a4"/>
<path d="M1024.2 1201.7C1023.6 1198.3 1026.2 1193.1 1028.3 1188.3C1030.4 1183.6 1033.1 1177.8 1036.7 1173.3C1040.3 1168.9 1045.3 1164.0 1050.0 1161.7C1054.7 1159.3 1060.0 1159.2 1065.0 1159.2C1070.0 1159.2 1075.3 1159.6 1080.0 1161.7C1084.7 1163.8 1089.2 1168.1 1093.3 1171.7C1097.5 1175.3 1101.8 1179.4 1105.0 1183.3C1108.2 1187.2 1111.4 1190.8 1112.5 1195.0C1113.6 1199.2 1112.9 1203.9 1111.7 1208.3C1110.4 1212.8 1107.5 1217.2 1105.0 1221.7C1102.5 1226.1 1100.3 1231.9 1096.7 1235.0C1093.1 1238.1 1086.7 1240.0 1083.3 1240.0C1080.0 1240.0 1078.9 1237.2 1076.7 1235.0C1074.4 1232.8 1072.8 1229.7 1070.0 1226.7C1067.2 1223.6 1063.9 1219.2 1060.0 1216.7C1056.1 1214.2 1051.4 1213.1 1046.7 1211.7C1041.9 1210.3 1035.4 1210.0 1031.7 1208.3C1027.9 1206.7 1024.7 1205.0 1024.2 1201.7Z" fill="#313695"/>
<path d="M1060.8 1276.7C1060.3 1274.6 1062.1 1269.0 1065.0 1266.7C1067.9 1264.3 1074.7 1261.9 1078.3 1262.5C1081.9 1263.1 1086.1 1267.4 1086.7 1270.0C1087.2 1272.6 1084.7 1276.8 1081.7 1278.3C1078.6 1279.9 1071.8 1279.4 1068.3 1279.2C1064.9 1278.9 1061.4 1278.8 1060.8 1276.7Z" fill="#313695"/>
<path d="M845.0 1331.0 L900.0 1328.0 L960.0 1330.0 L992.0 1334.0 L996.0 1355.0 L843.0 1355.0Z" fill="#6ea6ce"/>
<path d="M852.0 1336.0 L900.0 1333.0 L960.0 1335.0 L990.0 1339.0 L992.0 1355.0 L850.0 1355.0Z" fill="#4471b2"/>
<path d="M870.0 1341.0 L950.0 1340.0 L985.0 1343.0 L987.0 1355.0 L868.0 1355.0Z" fill="#313695"/>
<path d="M798.3 1285.7C800.0 1280.7 801.4 1278.2 805.0 1275.7C808.6 1273.2 815.0 1271.4 820.0 1270.7C825.0 1270.0 830.8 1270.2 835.0 1271.5C839.2 1272.8 842.9 1275.5 845.0 1278.2C847.1 1280.8 848.1 1283.9 847.5 1287.3C846.9 1290.8 844.3 1295.7 841.7 1299.0C839.0 1302.3 835.6 1304.8 831.7 1307.3C827.8 1309.8 822.2 1311.4 818.3 1314.0C814.4 1316.6 811.4 1322.1 808.3 1323.2C805.3 1324.3 802.2 1323.6 800.0 1320.7C797.8 1317.8 795.3 1311.5 795.0 1305.7C794.7 1299.8 796.7 1290.7 798.3 1285.7Z" fill="#e9f6e8"/>
<path d="M800.8 1286.5C802.2 1282.2 803.5 1280.3 806.7 1278.2C809.9 1276.0 815.6 1274.3 820.0 1273.7C824.4 1273.0 829.6 1273.3 833.3 1274.3C837.1 1275.4 840.7 1277.7 842.5 1279.8C844.3 1282.0 844.7 1284.4 844.2 1287.3C843.6 1290.2 841.5 1294.4 839.2 1297.3C836.8 1300.2 833.8 1302.4 830.0 1304.8C826.2 1307.3 820.4 1309.5 816.7 1312.0C812.9 1314.5 809.9 1318.9 807.5 1319.8C805.1 1320.7 803.5 1320.0 802.0 1317.3C800.5 1314.7 798.5 1309.1 798.3 1304.0C798.1 1298.9 799.4 1290.8 800.8 1286.5Z" fill="#d6eef5"/>
<path d="M846.7 1310.7 L848.3 1297.3 L860.0 1284.8 L876.7 1284.0 L883.3 1300.7 L890.0 1314.0 L910.0 1324.0 L916.7 1329.0 L900.0 1330.7 L866.7 1330.7 L836.7 1329.0 L826.7 1324.0 L823.3 1319.0Z" fill="#fff8b5"/>
<path d="M855.0 1309.0C857.8 1304.3 856.4 1300.4 858.3 1297.3C860.3 1294.3 863.9 1291.2 866.7 1290.7C869.4 1290.1 872.8 1291.5 875.0 1294.0C877.2 1296.5 878.1 1302.1 880.0 1305.7C881.9 1309.3 882.8 1312.3 886.7 1315.7C890.6 1319.0 906.7 1323.6 903.3 1325.7C900.0 1327.8 876.9 1328.2 866.7 1328.2C856.4 1328.2 843.6 1328.9 841.7 1325.7C839.7 1322.5 852.2 1313.7 855.0 1309.0Z" fill="#feea9f"/>
<path d="M860.0 1317.3C864.7 1314.8 869.7 1311.8 875.0 1312.3C880.3 1312.9 886.7 1318.3 891.7 1320.7C896.7 1323.0 909.2 1325.1 905.0 1326.5C900.8 1327.9 876.4 1328.9 866.7 1329.0C856.9 1329.1 847.8 1329.3 846.7 1327.3C845.6 1325.4 855.3 1319.8 860.0 1317.3Z" fill="#fed889"/>
<path d="M873.3 1323.2C873.3 1322.1 880.0 1320.5 883.3 1320.7C886.7 1320.8 893.3 1322.9 893.3 1324.0C893.3 1325.1 886.7 1327.5 883.3 1327.3C880.0 1327.2 873.3 1324.3 873.3 1323.2Z" fill="#fca55d"/>
<path d="M185.0 1134.0 L193.3 1131.5 L205.8 1125.7 L206.7 1122.3 L212.5 1110.7 L220.0 1104.0 L235.0 1105.7 L240.0 1119.0 L246.7 1132.3 L255.0 1142.3 L264.2 1150.3 L278.3 1147.3 L293.3 1137.3 L306.7 1130.7 L323.3 1123.2 L336.7 1115.7 L350.8 1106.5 L365.8 1107.7 L381.7 1117.3 L393.3 1134.0 L403.3 1150.7 L410.0 1164.0 L414.2 1180.7 L415.8 1197.3 L418.3 1222.3 L421.7 1247.3 L426.7 1260.7 L436.7 1274.0 L450.0 1287.3 L470.0 1302.3 L490.0 1315.7 L506.7 1324.0 L523.3 1329.0 L549.0 1330.7 L613.3 1333.2 L613.0 1355.0 L188.5 1355.0Z" fill="#f7fcce"/>
<path d="M238.3 1272.3C239.4 1251.5 237.8 1240.4 238.3 1230.7C238.9 1220.9 239.7 1219.6 241.7 1214.0C243.6 1208.4 246.7 1202.9 250.0 1197.3C253.3 1191.8 257.2 1185.9 261.7 1180.7C266.1 1175.4 271.4 1170.1 276.7 1165.7C281.9 1161.2 287.5 1157.6 293.3 1154.0C299.2 1150.4 305.3 1147.3 311.7 1144.0C318.1 1140.7 325.3 1136.6 331.7 1134.0C338.1 1131.4 344.2 1129.0 350.0 1128.2C355.8 1127.3 361.4 1127.8 366.7 1129.0C371.9 1130.2 376.9 1132.3 381.7 1135.7C386.4 1139.0 391.1 1144.3 395.0 1149.0C398.9 1153.7 402.4 1158.7 405.0 1164.0C407.6 1169.3 409.4 1175.1 410.8 1180.7C412.2 1186.2 412.5 1190.4 413.3 1197.3C414.2 1204.3 414.9 1214.0 415.8 1222.3C416.8 1230.7 417.6 1240.4 419.2 1247.3C420.7 1254.3 422.4 1259.0 425.0 1264.0C427.6 1269.0 431.1 1272.9 435.0 1277.3C438.9 1281.8 442.8 1285.9 448.3 1290.7C453.9 1295.4 461.4 1300.9 468.3 1305.7C475.3 1310.4 483.6 1315.5 490.0 1319.0C496.4 1322.5 501.1 1324.6 506.7 1326.5C512.2 1328.4 516.3 1329.7 523.3 1330.7C530.4 1331.6 534.0 1331.6 549.0 1332.3C564.0 1333.0 602.6 1330.9 613.3 1334.8C624.1 1338.7 676.9 1352.2 613.3 1355.7C549.7 1359.1 294.2 1369.6 231.7 1355.7C169.2 1341.8 237.2 1293.2 238.3 1272.3Z" fill="#e9f6e8"/>
<path d="M250.8 1267.3C253.9 1249.3 249.7 1254.0 250.0 1247.3C250.3 1240.7 251.1 1233.4 252.5 1227.3C253.9 1221.2 255.7 1216.2 258.3 1210.7C261.0 1205.1 264.2 1199.6 268.3 1194.0C272.5 1188.4 277.5 1182.6 283.3 1177.3C289.2 1172.1 296.7 1166.6 303.3 1162.3C310.0 1158.0 317.2 1154.7 323.3 1151.5C329.4 1148.3 334.7 1145.4 340.0 1143.2C345.3 1140.9 350.0 1138.7 355.0 1138.2C360.0 1137.6 365.0 1138.3 370.0 1139.8C375.0 1141.4 380.3 1143.9 385.0 1147.3C389.7 1150.8 394.7 1155.9 398.3 1160.7C401.9 1165.4 404.6 1170.1 406.7 1175.7C408.7 1181.2 409.7 1187.6 410.8 1194.0C411.9 1200.4 412.6 1206.5 413.3 1214.0C414.0 1221.5 414.3 1231.2 415.0 1239.0C415.7 1246.8 416.1 1254.8 417.5 1260.7C418.9 1266.5 420.7 1269.8 423.3 1274.0C426.0 1278.2 429.4 1281.8 433.3 1285.7C437.2 1289.6 441.7 1293.4 446.7 1297.3C451.7 1301.2 457.2 1305.1 463.3 1309.0C469.4 1312.9 476.7 1317.3 483.3 1320.7C490.0 1324.0 496.7 1326.9 503.3 1329.0C510.0 1331.1 515.7 1332.3 523.3 1333.2C530.9 1334.1 534.0 1334.1 549.0 1334.3C564.0 1334.6 602.6 1331.3 613.3 1334.8C624.1 1338.4 676.9 1352.2 613.3 1355.7C549.7 1359.1 292.1 1370.4 231.7 1355.7C171.2 1340.9 247.8 1285.4 250.8 1267.3Z" fill="#d6eef5"/>
<path d="M265.8 1269.0C271.7 1250.9 266.0 1254.0 266.7 1247.3C267.4 1240.7 268.3 1234.8 270.0 1229.0C271.7 1223.2 273.9 1217.6 276.7 1212.3C279.4 1207.1 282.8 1202.3 286.7 1197.3C290.6 1192.3 295.0 1186.8 300.0 1182.3C305.0 1177.9 311.1 1174.1 316.7 1170.7C322.2 1167.2 327.8 1164.0 333.3 1161.5C338.9 1159.0 344.4 1156.8 350.0 1155.7C355.6 1154.6 361.4 1154.1 366.7 1154.8C371.9 1155.5 377.1 1157.2 381.7 1159.8C386.2 1162.5 390.7 1166.6 394.2 1170.7C397.6 1174.7 400.4 1179.0 402.5 1184.0C404.6 1189.0 405.6 1194.3 406.7 1200.7C407.8 1207.1 408.6 1214.6 409.2 1222.3C409.7 1230.1 409.6 1240.4 410.0 1247.3C410.4 1254.3 410.3 1258.7 411.7 1264.0C413.1 1269.3 415.3 1274.6 418.3 1279.0C421.4 1283.4 425.6 1287.1 430.0 1290.7C434.4 1294.3 439.4 1297.1 445.0 1300.7C450.6 1304.3 456.9 1308.7 463.3 1312.3C469.7 1315.9 476.1 1319.3 483.3 1322.3C490.6 1325.4 495.7 1328.4 506.7 1330.7C517.6 1332.9 531.2 1335.3 549.0 1336.0C566.8 1336.7 602.6 1331.6 613.3 1334.8C624.1 1338.1 676.9 1352.2 613.3 1355.7C549.7 1359.1 289.6 1370.1 231.7 1355.7C173.8 1341.2 260.0 1287.1 265.8 1269.0Z" fill="#bde2ee"/>
<path d="M280.0 1277.3C288.2 1261.5 280.4 1266.8 280.8 1260.7C281.2 1254.6 281.2 1247.1 282.5 1240.7C283.8 1234.3 286.0 1227.9 288.3 1222.3C290.7 1216.8 293.3 1212.3 296.7 1207.3C300.0 1202.3 303.9 1197.1 308.3 1192.3C312.8 1187.6 318.1 1182.8 323.3 1179.0C328.6 1175.2 334.4 1172.1 340.0 1169.8C345.6 1167.5 351.4 1165.8 356.7 1165.2C361.9 1164.5 366.9 1165.1 371.7 1166.0C376.4 1166.9 381.0 1168.2 385.0 1170.7C389.0 1173.1 392.8 1176.8 395.8 1180.7C398.9 1184.6 401.5 1189.0 403.3 1194.0C405.1 1199.0 405.8 1204.6 406.7 1210.7C407.5 1216.8 407.8 1224.0 408.3 1230.7C408.9 1237.3 409.3 1244.6 410.0 1250.7C410.7 1256.8 411.2 1262.3 412.5 1267.3C413.8 1272.3 414.9 1276.5 417.5 1280.7C420.1 1284.8 423.8 1288.6 428.3 1292.3C432.9 1296.1 439.2 1299.6 445.0 1303.2C450.8 1306.8 456.9 1310.5 463.3 1314.0C469.7 1317.5 476.1 1321.0 483.3 1324.0C490.6 1327.0 495.7 1329.6 506.7 1331.8C517.6 1334.1 531.2 1336.8 549.0 1337.3C566.8 1337.8 602.6 1331.8 613.3 1334.8C624.1 1337.9 676.9 1352.2 613.3 1355.7C549.7 1359.1 287.2 1368.7 231.7 1355.7C176.1 1342.6 271.8 1293.2 280.0 1277.3Z" fill="#a1d1e5"/>
<path d="M286.7 1277.3C296.0 1261.5 286.9 1266.5 287.5 1260.7C288.1 1254.8 288.5 1248.4 290.0 1242.3C291.5 1236.2 294.2 1229.6 296.7 1224.0C299.2 1218.4 301.7 1213.7 305.0 1209.0C308.3 1204.3 312.2 1199.8 316.7 1195.7C321.1 1191.5 326.4 1187.3 331.7 1184.0C336.9 1180.7 343.1 1177.6 348.3 1175.7C353.6 1173.7 358.6 1172.6 363.3 1172.3C368.1 1172.1 372.5 1172.6 376.7 1174.0C380.8 1175.4 385.0 1177.9 388.3 1180.7C391.7 1183.4 394.6 1186.5 396.7 1190.7C398.7 1194.8 399.7 1200.1 400.8 1205.7C401.9 1211.2 402.8 1217.1 403.3 1224.0C403.9 1230.9 404.2 1240.7 404.2 1247.3C404.2 1254.0 403.2 1258.4 403.3 1264.0C403.5 1269.6 403.3 1275.7 405.0 1280.7C406.7 1285.7 409.4 1290.7 413.3 1294.0C417.2 1297.3 423.1 1298.4 428.3 1300.7C433.6 1302.9 439.2 1304.7 445.0 1307.3C450.8 1310.0 456.9 1313.4 463.3 1316.5C469.7 1319.6 476.1 1322.9 483.3 1325.7C490.6 1328.4 495.7 1331.0 506.7 1333.2C517.6 1335.3 531.2 1338.4 549.0 1338.7C566.8 1338.9 602.6 1332.0 613.3 1334.8C624.1 1337.7 676.9 1352.2 613.3 1355.7C549.7 1359.1 286.1 1368.7 231.7 1355.7C177.2 1342.6 277.4 1293.2 286.7 1277.3Z" fill="#87bdd9"/>
<path d="M290.8 1279.0C300.8 1263.2 291.0 1266.5 291.7 1260.7C292.4 1254.8 293.3 1249.6 295.0 1244.0C296.7 1238.4 299.2 1232.3 301.7 1227.3C304.2 1222.3 306.7 1218.4 310.0 1214.0C313.3 1209.6 317.5 1204.6 321.7 1200.7C325.8 1196.8 330.3 1193.6 335.0 1190.7C339.7 1187.8 345.0 1184.9 350.0 1183.2C355.0 1181.4 360.3 1180.5 365.0 1180.3C369.7 1180.2 374.3 1180.9 378.3 1182.3C382.4 1183.8 386.1 1186.2 389.2 1189.0C392.2 1191.8 394.8 1194.8 396.7 1199.0C398.5 1203.2 399.5 1208.7 400.3 1214.0C401.2 1219.3 401.4 1225.1 401.7 1230.7C401.9 1236.2 401.9 1241.8 401.7 1247.3C401.4 1252.9 401.0 1258.4 400.0 1264.0C399.0 1269.6 396.9 1275.4 395.8 1280.7C394.7 1285.9 393.2 1291.8 393.3 1295.7C393.5 1299.6 393.6 1301.9 396.7 1304.0C399.7 1306.1 405.8 1307.1 411.7 1308.2C417.5 1309.3 425.3 1309.4 431.7 1310.7C438.1 1311.9 444.2 1313.7 450.0 1315.7C455.8 1317.6 460.0 1319.8 466.7 1322.3C473.3 1324.8 481.9 1328.2 490.0 1330.7C498.1 1333.2 505.2 1335.7 515.0 1337.3C524.8 1339.0 532.6 1341.1 549.0 1340.7C565.4 1340.2 602.6 1332.3 613.3 1334.8C624.1 1337.3 676.9 1352.2 613.3 1355.7C549.7 1359.1 285.4 1368.4 231.7 1355.7C177.9 1342.9 280.8 1294.8 290.8 1279.0Z" fill="#6ea6ce"/>
<path d="M283.3 1324.0 L306.7 1319.0 L340.0 1320.7 L373.3 1324.0 L390.0 1330.7 L423.3 1337.3 L473.3 1340.7 L549.0 1343.2 L613.3 1344.0 L613.3 1355.7 L270.0 1355.7Z" fill="#588cc0"/>
<path d="M306.7 1334.0 L356.7 1332.3 L390.0 1337.3 L440.0 1341.5 L549.0 1344.5 L613.3 1345.7 L613.3 1355.7 L298.3 1355.7Z" fill="#4471b2"/>
<path d="M373.3 1343.7 L549.0 1346.0 L613.3 1347.0 L613.3 1355.7 L373.3 1355.7Z" fill="#313695"/>
<path d="M186.7 1294.0 L193.3 1294.8 L206.7 1297.3 L211.7 1302.3 L206.7 1304.8 L215.0 1310.7 L225.0 1324.0 L233.3 1337.3 L245.0 1349.0 L246.7 1357.3 L186.7 1357.3Z" fill="#fff"/>
<path d="M193.3 1294.5 L208.3 1294.8 L215.0 1300.7 L206.7 1304.8 L193.3 1296.0Z" fill="#a50026"/>
<path d="M208.3 1294.8 L218.3 1289.8 L235.0 1293.2 L245.0 1297.3 L236.7 1304.0 L215.0 1300.7Z" fill="#f26841"/>
<path d="M235.0 1293.2 L256.7 1294.8 L265.0 1299.0 L240.0 1302.0Z" fill="#fdbf71"/>
<path d="M403.5 975.0C404.5 971.5 406.4 954.4 410.0 949.0C413.6 943.6 420.0 941.5 425.0 942.5C430.0 943.5 434.6 947.1 440.0 955.0C445.4 962.9 452.1 981.1 457.5 990.0C462.9 998.9 464.6 1003.1 472.5 1008.5C480.4 1013.9 490.4 1017.0 505.0 1022.5C519.6 1028.0 538.3 1035.8 560.0 1041.5C581.7 1047.2 615.0 1053.0 635.0 1056.5C655.0 1060.0 665.0 1059.8 680.0 1062.5C695.0 1065.2 707.9 1070.6 725.0 1072.5C742.1 1074.4 774.4 1073.3 782.5 1074.0C790.6 1074.7 775.1 1075.2 773.3 1076.5C771.5 1077.8 774.7 1079.1 771.7 1081.5C768.6 1083.9 760.3 1088.0 755.0 1090.7C749.7 1093.3 744.2 1094.6 740.0 1097.3C735.8 1100.1 731.9 1103.7 730.0 1107.3C728.1 1110.9 727.8 1114.3 728.3 1119.0C728.9 1123.7 730.0 1130.4 733.3 1135.7C736.7 1140.9 741.7 1147.5 748.3 1150.7C755.0 1153.9 766.4 1154.8 773.3 1154.8C780.3 1154.8 784.4 1153.6 790.0 1150.7C795.6 1147.8 801.7 1142.3 806.7 1137.3C811.7 1132.3 816.4 1126.5 820.0 1120.7C823.6 1114.8 825.3 1107.1 828.3 1102.3C831.4 1097.6 834.7 1095.8 838.3 1092.3C841.9 1088.9 845.3 1084.0 850.0 1081.5C854.7 1079.0 859.7 1078.3 866.7 1077.3C873.6 1076.4 883.3 1075.2 891.7 1075.7C900.0 1076.1 908.9 1077.6 916.7 1079.8C924.4 1082.1 932.2 1085.2 938.3 1089.0C944.4 1092.8 949.4 1097.3 953.3 1102.3C957.2 1107.3 960.0 1113.4 961.7 1119.0C963.3 1124.6 963.6 1130.4 963.3 1135.7C963.1 1140.9 962.2 1145.1 960.0 1150.7C957.8 1156.2 954.4 1163.2 950.0 1169.0C945.6 1174.8 938.9 1181.1 933.3 1185.7C927.8 1190.2 923.6 1193.6 916.7 1196.5C909.7 1199.4 901.4 1201.6 891.7 1203.2C881.9 1204.7 867.2 1204.8 858.3 1205.7C849.4 1206.5 844.2 1207.1 838.3 1208.2C832.5 1209.3 826.2 1210.2 823.3 1212.3C820.4 1214.4 819.4 1217.9 820.8 1220.7C822.2 1223.4 829.6 1225.9 831.7 1229.0C833.8 1232.1 833.9 1235.1 833.3 1239.0C832.8 1242.9 830.6 1248.7 828.3 1252.3C826.1 1255.9 824.4 1258.2 820.0 1260.7C815.6 1263.2 806.1 1264.8 801.7 1267.3C797.2 1269.8 795.8 1272.6 793.3 1275.7C790.8 1278.7 788.3 1282.1 786.7 1285.7C785.0 1289.3 785.0 1293.2 783.3 1297.3C781.7 1301.5 777.2 1306.8 776.7 1310.7C776.1 1314.6 777.2 1317.9 780.0 1320.7C782.8 1323.4 787.2 1325.7 793.3 1327.3C799.4 1329.0 810.0 1328.7 816.7 1330.7C823.3 1332.6 830.3 1334.8 833.3 1339.0C836.4 1343.2 871.7 1352.2 835.0 1355.7C798.3 1359.2 650.3 1364.7 613.3 1360.0C576.4 1355.3 627.2 1333.4 613.3 1327.3C599.4 1321.2 547.2 1325.7 530.0 1323.3C512.8 1321.0 517.2 1317.8 510.0 1313.3C502.8 1308.9 494.4 1302.5 486.7 1296.7C478.9 1290.8 470.6 1284.4 463.3 1278.3C456.1 1272.2 448.9 1266.4 443.3 1260.0C437.8 1253.6 433.1 1247.2 430.0 1240.0C426.9 1232.8 426.6 1225.0 425.0 1216.7C423.4 1208.3 421.9 1200.0 420.7 1190.0C419.4 1180.0 418.3 1167.8 417.3 1156.7C416.4 1145.6 415.0 1134.4 415.0 1123.3C415.0 1112.2 416.8 1101.1 417.3 1090.0C417.9 1078.9 419.0 1067.2 418.3 1056.7C417.7 1046.1 415.3 1036.1 413.3 1026.7C411.4 1017.2 408.2 1009.4 406.7 1000.0C405.1 990.6 404.5 974.2 404.0 970.0C403.5 965.8 402.5 978.5 403.5 975.0Z" fill="#fed889"/>
<path d="M735.8 1111.5C737.4 1107.6 739.9 1104.6 745.0 1101.5C750.1 1098.4 759.7 1095.2 766.7 1093.2C773.6 1091.1 780.1 1090.0 786.7 1089.0C793.2 1088.0 801.1 1085.8 805.8 1087.3C810.6 1088.9 812.9 1094.0 815.0 1098.2C817.1 1102.3 818.3 1107.6 818.3 1112.3C818.3 1117.1 817.4 1121.9 815.0 1126.5C812.6 1131.1 808.1 1136.4 804.2 1139.8C800.3 1143.3 795.7 1145.7 791.7 1147.3C787.6 1149.0 784.4 1149.1 780.0 1149.8C775.6 1150.5 769.6 1151.9 765.0 1151.5C760.4 1151.1 756.4 1149.7 752.5 1147.3C748.6 1145.0 744.5 1141.1 741.7 1137.3C738.8 1133.6 736.3 1129.1 735.3 1124.8C734.4 1120.5 734.2 1115.4 735.8 1111.5Z" fill="#fff8b5"/>
<path d="M740.0 1111.5C741.5 1108.2 743.9 1106.5 748.3 1104.0C752.8 1101.5 760.3 1098.4 766.7 1096.5C773.1 1094.6 780.6 1093.6 786.7 1092.7C792.8 1091.7 799.3 1089.5 803.3 1090.7C807.4 1091.9 809.0 1096.2 810.8 1099.8C812.6 1103.4 814.2 1108.2 814.2 1112.3C814.2 1116.5 813.1 1120.8 810.8 1124.8C808.6 1128.9 804.3 1133.4 800.8 1136.5C797.4 1139.6 793.5 1142.1 790.0 1143.7C786.5 1145.2 783.9 1145.1 780.0 1145.7C776.1 1146.3 770.8 1147.6 766.7 1147.3C762.5 1147.1 758.6 1145.9 755.0 1144.0C751.4 1142.1 747.6 1139.0 745.0 1135.7C742.4 1132.3 740.0 1128.0 739.2 1124.0C738.3 1120.0 738.5 1114.8 740.0 1111.5Z" fill="#f7fcce"/>
<path d="M744.2 1117.3C744.9 1113.4 747.6 1109.4 751.7 1106.5C755.7 1103.6 762.5 1101.4 768.3 1099.8C774.2 1098.3 781.4 1097.5 786.7 1097.3C791.9 1097.2 796.8 1097.3 800.0 1099.0C803.2 1100.7 804.6 1104.6 805.8 1107.3C807.1 1110.1 807.9 1112.3 807.5 1115.7C807.1 1119.0 805.7 1124.0 803.3 1127.3C801.0 1130.7 797.2 1133.3 793.3 1135.7C789.4 1138.0 784.4 1140.4 780.0 1141.5C775.6 1142.6 770.7 1142.9 766.7 1142.3C762.6 1141.8 759.0 1140.2 755.8 1138.2C752.6 1136.1 749.4 1133.3 747.5 1129.8C745.6 1126.4 743.5 1121.2 744.2 1117.3Z" fill="#e9f6e8"/>
<path d="M748.3 1119.0C748.6 1115.1 751.4 1111.5 755.0 1109.0C758.6 1106.5 764.7 1105.0 770.0 1104.0C775.3 1103.0 782.2 1102.6 786.7 1103.2C791.1 1103.7 794.4 1105.2 796.7 1107.3C798.9 1109.4 800.0 1112.6 800.0 1115.7C800.0 1118.7 798.6 1122.9 796.7 1125.7C794.7 1128.4 791.7 1130.4 788.3 1132.3C785.0 1134.3 780.6 1136.4 776.7 1137.3C772.8 1138.3 768.9 1139.0 765.0 1138.2C761.1 1137.3 756.1 1135.5 753.3 1132.3C750.6 1129.1 748.1 1122.9 748.3 1119.0Z" fill="#d6eef5"/>
<path d="M424.1 1206.4C424.0 1205.0 423.8 1202.1 423.8 1199.6C423.8 1197.1 423.9 1194.4 424.0 1191.5C424.1 1188.6 424.1 1184.9 424.3 1182.2C424.5 1179.5 424.8 1177.8 425.2 1175.3C425.5 1172.7 425.9 1169.7 426.4 1166.9C426.9 1164.2 427.5 1161.4 428.3 1158.6C429.0 1155.8 429.8 1152.8 430.8 1150.3C431.7 1147.8 432.8 1145.9 433.9 1143.4C435.1 1140.9 436.3 1138.0 437.6 1135.4C439.0 1132.7 440.5 1130.5 442.0 1127.5C443.6 1124.5 445.3 1120.3 447.1 1117.4C448.8 1114.5 450.7 1112.3 452.7 1110.1C454.6 1107.9 448.1 1111.0 458.6 1104.3C469.1 1097.6 504.4 1076.0 515.7 1070.1C527.0 1064.2 523.1 1069.3 526.4 1068.8C529.7 1068.3 531.9 1067.5 535.5 1067.0C539.1 1066.6 543.7 1066.4 547.9 1066.1C552.2 1065.8 556.7 1065.5 561.0 1065.3C565.4 1065.1 569.9 1065.1 574.2 1065.1C578.6 1065.1 583.3 1065.4 587.1 1065.5C590.9 1065.6 593.1 1065.4 596.9 1065.6C600.7 1065.8 605.5 1066.2 609.8 1066.5C614.0 1066.8 618.2 1067.2 622.3 1067.6C626.3 1067.9 629.9 1068.3 634.1 1068.7C638.2 1069.1 643.0 1069.6 647.1 1070.0C651.3 1070.5 655.0 1070.8 659.1 1071.2C663.1 1071.7 667.3 1072.2 671.5 1072.9C675.7 1073.6 680.4 1074.6 684.2 1075.5C688.0 1076.4 691.8 1077.6 694.2 1078.2C696.6 1078.8 697.8 1079.1 698.6 1079.1C699.4 1079.2 698.6 1078.2 699.3 1078.7C699.9 1079.1 699.5 1076.4 702.4 1081.7C705.3 1087.0 713.3 1102.8 716.6 1110.7C720.0 1118.6 720.2 1123.8 722.3 1129.1C724.3 1134.5 726.9 1139.2 729.0 1142.8C731.2 1146.4 733.2 1148.6 735.1 1150.8C737.1 1153.0 738.5 1154.3 740.8 1156.0C743.2 1157.6 746.1 1159.5 749.2 1160.9C752.4 1162.4 756.5 1163.5 759.8 1164.7C763.0 1165.9 766.9 1166.9 768.9 1168.1C770.8 1169.3 771.0 1170.5 771.5 1171.8C772.0 1173.1 771.3 1174.4 771.7 1175.7C772.2 1177.0 769.7 1173.6 774.1 1179.4C778.5 1185.1 793.5 1204.5 798.1 1210.3C802.7 1216.1 800.2 1212.6 801.5 1214.1C802.8 1215.5 804.1 1217.2 805.8 1219.0C807.4 1220.8 809.8 1223.1 811.4 1224.9C813.0 1226.6 814.7 1228.4 815.4 1229.5C816.1 1230.7 816.8 1228.3 815.8 1231.9C814.7 1235.6 811.1 1247.8 809.2 1251.5C807.2 1255.3 806.0 1253.2 804.3 1254.3C802.6 1255.4 800.7 1256.6 798.9 1258.0C797.1 1259.3 795.1 1260.7 793.3 1262.4C791.5 1264.1 790.0 1265.9 788.1 1268.0C786.2 1270.2 783.9 1273.0 782.1 1275.3C780.3 1277.7 778.9 1279.7 777.5 1282.0C776.1 1284.3 775.3 1286.0 773.7 1289.1C772.2 1292.1 769.4 1297.6 768.2 1300.4C767.0 1303.3 766.8 1304.3 766.5 1306.0C766.3 1307.7 766.6 1309.2 766.9 1310.7C767.3 1312.2 767.9 1313.9 768.6 1315.1C769.4 1316.4 770.2 1317.2 771.3 1318.1C772.4 1319.0 773.8 1319.6 775.3 1320.4C776.9 1321.3 778.7 1322.2 780.7 1323.1C782.7 1324.0 785.1 1325.0 787.5 1325.8C789.9 1326.5 792.4 1327.2 794.9 1327.8C797.5 1328.3 800.0 1328.7 802.6 1329.2C805.3 1329.7 808.2 1330.0 810.8 1330.6C813.3 1331.1 815.9 1331.7 818.1 1332.3C820.3 1333.0 822.5 1333.8 824.2 1334.5C826.0 1335.2 827.3 1335.6 828.7 1336.6C830.1 1337.5 830.0 1338.4 832.4 1339.9C834.8 1341.4 840.2 1343.3 843.2 1345.4C846.1 1347.4 855.1 1350.4 850.0 1352.3C844.9 1354.3 833.4 1355.8 812.4 1357.2C791.5 1358.5 754.7 1359.8 724.1 1360.4C693.4 1361.0 649.3 1361.4 628.7 1360.8C608.1 1360.2 604.0 1358.9 600.3 1356.6C596.7 1354.3 604.8 1349.6 606.8 1346.8C608.8 1344.0 615.1 1342.4 612.4 1339.8C609.7 1337.2 598.9 1333.0 590.8 1331.2C582.6 1329.4 571.9 1329.7 563.5 1329.0C555.2 1328.3 547.1 1327.7 540.9 1327.0C534.6 1326.3 530.3 1325.7 526.0 1324.7C521.7 1323.7 518.7 1322.7 515.0 1320.9C511.3 1319.1 507.7 1316.4 504.1 1313.9C500.4 1311.4 496.4 1308.6 492.9 1305.9C489.4 1303.2 486.3 1300.6 483.0 1297.8C479.8 1295.1 476.5 1292.2 473.4 1289.3C470.3 1286.3 467.3 1283.4 464.3 1280.3C461.3 1277.2 458.0 1273.8 455.2 1270.8C452.5 1267.7 450.1 1264.8 447.9 1261.9C445.6 1258.9 443.6 1256.0 441.6 1253.0C439.6 1250.0 437.5 1246.8 435.9 1243.9C434.2 1241.0 433.0 1238.3 431.9 1235.7C430.9 1233.2 430.1 1230.7 429.5 1228.5C428.9 1226.3 428.7 1224.4 428.4 1222.4C428.1 1220.4 428.0 1218.2 427.7 1216.5C427.4 1214.8 427.1 1213.4 426.8 1212.3C426.4 1211.3 425.9 1211.1 425.5 1210.4C425.1 1209.7 424.7 1208.9 424.4 1208.2C424.2 1207.5 424.3 1207.9 424.1 1206.4Z" fill="#fdbf71"/>
<path d="M425.0 1206.7C424.7 1201.9 426.0 1192.2 427.5 1185.0C429.0 1177.8 430.7 1170.6 434.2 1163.3C437.6 1156.1 442.4 1148.6 448.3 1141.7C454.3 1134.7 461.9 1127.8 470.0 1121.7C478.1 1115.6 486.9 1110.0 496.7 1105.0C506.4 1100.0 516.7 1095.6 528.3 1091.7C540.0 1087.8 554.7 1083.9 566.7 1081.7C578.6 1079.4 588.9 1078.8 600.0 1078.3C611.1 1077.8 622.2 1078.1 633.3 1078.7C644.4 1079.2 656.7 1080.1 666.7 1081.7C676.7 1083.3 687.8 1086.6 693.3 1088.3C698.9 1090.1 695.3 1083.3 700.0 1092.3C704.7 1101.3 715.0 1130.4 721.7 1142.3C728.3 1154.3 732.2 1157.9 740.0 1164.0C747.8 1170.1 762.8 1173.4 768.3 1179.0C773.9 1184.6 770.0 1191.5 773.3 1197.3C776.7 1203.2 782.2 1207.6 788.3 1214.0C794.4 1220.4 807.5 1230.7 810.0 1235.7C812.5 1240.7 807.2 1240.1 803.3 1244.0C799.4 1247.9 792.2 1253.2 786.7 1259.0C781.1 1264.8 774.7 1272.1 770.0 1279.0C765.3 1285.9 759.4 1294.3 758.3 1300.7C757.2 1307.1 759.7 1313.4 763.3 1317.3C766.9 1321.2 773.9 1322.1 780.0 1324.0C786.1 1325.9 793.3 1327.3 800.0 1329.0C806.7 1330.7 814.7 1332.1 820.0 1334.0C825.3 1335.9 829.3 1337.1 831.7 1340.7C834.0 1344.3 870.6 1352.4 834.2 1355.7C797.8 1358.9 650.1 1362.3 613.3 1360.0C576.5 1357.7 624.4 1346.6 613.3 1341.7C602.2 1336.8 563.9 1334.2 546.7 1330.7C529.4 1327.2 520.8 1325.8 510.0 1320.7C499.2 1315.6 490.3 1307.8 481.7 1300.0C473.1 1292.2 465.0 1282.6 458.3 1274.0C451.7 1265.4 446.1 1255.9 441.7 1248.3C437.2 1240.7 433.7 1234.2 431.7 1228.3C429.6 1222.5 430.4 1216.9 429.3 1213.3C428.2 1209.7 425.3 1211.4 425.0 1206.7Z" fill="#fca55d"/>
<path d="M431.2 1209.0C430.9 1206.7 430.0 1201.0 430.1 1197.1C430.2 1193.3 431.0 1189.5 431.7 1185.8C432.3 1182.2 433.0 1178.9 434.1 1175.4C435.1 1171.9 436.3 1168.5 437.9 1165.0C439.6 1161.5 441.6 1158.0 443.9 1154.5C446.2 1151.0 448.8 1147.5 451.7 1144.2C454.6 1140.8 457.9 1137.5 461.3 1134.3C464.8 1131.1 468.6 1127.9 472.5 1125.0C476.4 1122.1 480.5 1119.3 484.8 1116.7C489.1 1114.0 493.6 1111.5 498.3 1109.2C503.0 1106.8 508.1 1104.5 513.0 1102.5C517.9 1100.5 522.2 1098.9 527.7 1097.2C533.2 1095.4 539.9 1093.5 546.1 1091.9C552.3 1090.4 558.9 1088.9 565.1 1087.8C571.4 1086.7 577.8 1086.0 583.6 1085.4C589.4 1084.9 594.5 1084.8 600.0 1084.6C605.5 1084.4 611.2 1084.4 616.8 1084.4C622.3 1084.5 627.8 1084.7 633.3 1084.9C638.8 1085.2 644.6 1085.5 649.7 1085.9C654.8 1086.3 659.1 1086.6 663.7 1087.3C668.4 1088.0 673.5 1089.0 677.6 1089.9C681.7 1090.8 684.8 1091.1 688.4 1092.8C692.0 1094.6 696.4 1097.9 699.0 1100.2C701.6 1102.5 702.6 1104.7 704.0 1106.7C705.3 1108.6 706.1 1110.0 706.9 1111.8C707.8 1113.6 708.5 1115.5 709.2 1117.3C709.9 1119.1 710.2 1120.4 711.0 1122.6C711.8 1124.8 713.0 1128.1 713.9 1130.4C714.8 1132.6 715.5 1134.0 716.6 1136.2C717.8 1138.4 719.1 1141.0 720.8 1143.7C722.5 1146.3 724.7 1149.3 726.9 1152.0C729.1 1154.7 731.3 1157.0 734.1 1159.9C736.8 1162.7 740.2 1166.2 743.3 1169.0C746.4 1171.8 750.5 1174.9 752.5 1176.7C754.5 1178.5 753.4 1177.4 755.2 1179.9C757.1 1182.4 761.5 1188.4 763.4 1191.8C765.3 1195.1 765.1 1197.2 766.6 1200.1C768.1 1202.9 769.9 1206.0 772.6 1209.1C775.3 1212.2 779.7 1215.9 782.8 1218.7C785.9 1221.5 789.5 1224.4 791.4 1226.0C793.3 1227.6 793.5 1227.7 794.0 1228.4C794.6 1229.2 795.6 1227.5 794.8 1230.5C794.1 1233.5 791.4 1242.9 789.7 1246.4C788.1 1250.0 786.5 1249.7 784.8 1251.7C783.1 1253.8 781.4 1256.1 779.5 1258.7C777.6 1261.3 775.3 1264.5 773.3 1267.1C771.3 1269.8 769.5 1272.0 767.6 1274.7C765.7 1277.4 763.4 1280.6 761.7 1283.5C760.0 1286.4 758.6 1289.2 757.4 1292.2C756.2 1295.2 755.2 1298.6 754.5 1301.5C753.8 1304.4 753.3 1307.2 753.3 1309.6C753.3 1312.0 753.2 1314.2 754.3 1315.9C755.3 1317.5 757.2 1318.3 759.4 1319.3C761.5 1320.4 764.7 1321.3 767.3 1322.2C769.9 1323.0 772.2 1323.6 775.0 1324.4C777.7 1325.2 780.5 1326.0 784.0 1326.8C787.6 1327.6 792.1 1328.3 796.2 1329.1C800.3 1330.0 804.8 1330.8 808.5 1331.7C812.3 1332.5 815.5 1333.1 818.6 1334.2C821.8 1335.3 822.9 1335.9 827.3 1338.1C831.6 1340.3 843.7 1344.2 844.8 1347.2C845.9 1350.1 853.9 1353.6 833.8 1355.7C813.6 1357.8 760.6 1359.1 723.8 1359.9C687.1 1360.6 633.4 1361.2 613.3 1360.0C593.3 1358.8 603.8 1355.0 603.7 1352.6C603.7 1350.3 616.7 1348.2 613.1 1345.6C609.5 1343.1 593.3 1339.5 582.2 1337.2C571.1 1335.0 555.7 1333.6 546.7 1332.0C537.7 1330.4 533.8 1329.5 528.2 1327.9C522.6 1326.3 517.8 1324.8 513.0 1322.6C508.2 1320.4 504.0 1317.7 499.6 1314.6C495.1 1311.4 490.6 1307.5 486.3 1303.6C482.0 1299.7 477.8 1295.4 473.8 1291.1C469.9 1286.7 466.0 1282.0 462.6 1277.5C459.1 1273.0 456.0 1268.5 453.1 1264.1C450.2 1259.7 447.7 1255.1 445.3 1251.1C443.0 1247.2 440.9 1243.6 439.1 1240.2C437.4 1236.8 435.8 1233.8 434.7 1230.7C433.7 1227.5 433.2 1223.9 432.8 1221.1C432.3 1218.3 432.5 1215.4 432.3 1213.8C432.1 1212.2 431.9 1212.2 431.7 1211.4C431.5 1210.6 431.5 1211.4 431.2 1209.0Z" fill="#f8864f"/>
<path d="M434.2 1206.7C434.3 1202.2 434.6 1193.3 435.8 1186.7C437.1 1180.0 438.5 1173.3 441.7 1166.7C444.9 1160.0 449.4 1153.1 455.0 1146.7C460.6 1140.3 467.5 1133.9 475.0 1128.3C482.5 1122.8 490.8 1117.8 500.0 1113.3C509.2 1108.9 518.9 1105.0 530.0 1101.7C541.1 1098.3 555.0 1095.1 566.7 1093.3C578.3 1091.5 588.9 1091.2 600.0 1090.8C611.1 1090.5 622.8 1090.8 633.3 1091.2C643.9 1091.6 654.4 1092.1 663.3 1093.3C672.2 1094.5 680.3 1096.1 686.7 1098.3C693.1 1100.6 698.1 1103.3 701.7 1106.7C705.3 1110.0 706.7 1114.4 708.3 1118.3C710.0 1122.2 709.7 1125.6 711.7 1130.0C713.6 1134.4 716.4 1140.0 720.0 1145.0C723.6 1150.0 728.3 1153.9 733.3 1160.0C738.3 1166.1 746.4 1176.3 750.0 1181.7C753.6 1187.1 752.2 1186.9 755.0 1192.3C757.8 1197.7 761.4 1207.6 766.7 1214.0C771.9 1220.4 782.9 1227.1 786.7 1230.7C790.4 1234.3 790.3 1232.9 789.2 1235.7C788.1 1238.4 783.2 1242.6 780.0 1247.3C776.8 1252.1 773.6 1258.4 770.0 1264.0C766.4 1269.6 761.5 1274.6 758.3 1280.7C755.1 1286.8 752.5 1294.3 750.8 1300.7C749.2 1307.1 745.7 1315.1 748.3 1319.0C751.0 1322.9 760.8 1322.5 766.7 1324.0C772.5 1325.5 776.4 1326.8 783.3 1328.2C790.3 1329.6 801.1 1330.5 808.3 1332.3C815.6 1334.1 822.5 1335.1 826.7 1339.0C830.8 1342.9 868.9 1352.2 833.3 1355.7C797.8 1359.2 650.0 1361.8 613.3 1360.0C576.7 1358.2 624.4 1349.4 613.3 1345.0C602.2 1340.6 563.3 1336.9 546.7 1333.3C530.0 1329.7 523.3 1328.3 513.3 1323.3C503.3 1318.3 495.0 1311.1 486.7 1303.3C478.3 1295.6 470.0 1285.6 463.3 1276.7C456.7 1267.8 451.1 1257.8 446.7 1250.0C442.2 1242.2 438.6 1236.1 436.7 1230.0C434.7 1223.9 435.4 1217.2 435.0 1213.3C434.6 1209.4 434.0 1211.1 434.2 1206.7Z" fill="#f26841"/>
<path d="M446.7 1206.7C446.7 1200.0 447.8 1193.1 450.0 1186.7C452.2 1180.3 455.6 1174.4 460.0 1168.3C464.4 1162.2 470.0 1155.8 476.7 1150.0C483.3 1144.2 491.1 1138.3 500.0 1133.3C508.9 1128.3 518.9 1123.6 530.0 1120.0C541.1 1116.4 555.0 1113.5 566.7 1111.7C578.3 1109.9 588.9 1109.4 600.0 1109.2C611.1 1108.9 622.8 1109.3 633.3 1110.0C643.9 1110.7 654.4 1111.4 663.3 1113.3C672.2 1115.3 680.6 1118.3 686.7 1121.7C692.8 1125.0 695.8 1128.1 700.0 1133.3C704.2 1138.6 707.2 1145.3 711.7 1153.3C716.1 1161.4 722.2 1173.3 726.7 1181.7C731.1 1190.0 735.6 1196.9 738.3 1203.3C741.1 1209.7 743.3 1215.0 743.3 1220.0C743.3 1225.0 741.1 1228.3 738.3 1233.3C735.6 1238.3 730.8 1245.0 726.7 1250.0C722.5 1255.0 718.3 1258.3 713.3 1263.3C708.3 1268.3 703.1 1274.7 696.7 1280.0C690.3 1285.3 682.8 1290.8 675.0 1295.0C667.2 1299.2 657.5 1302.4 650.0 1305.0C642.5 1307.6 638.3 1309.4 630.0 1310.8C621.7 1312.2 610.6 1313.8 600.0 1313.3C589.4 1312.9 577.2 1310.6 566.7 1308.3C556.1 1306.1 546.4 1303.6 536.7 1300.0C526.9 1296.4 517.2 1291.9 508.3 1286.7C499.4 1281.4 490.8 1274.7 483.3 1268.3C475.8 1261.9 468.9 1255.3 463.3 1248.3C457.8 1241.4 452.8 1233.6 450.0 1226.7C447.2 1219.7 446.7 1213.3 446.7 1206.7Z" fill="#e44c34"/>
<path d="M458.3 1206.7C458.6 1201.7 459.7 1195.3 461.7 1190.0C463.6 1184.7 466.4 1179.7 470.0 1175.0C473.6 1170.3 477.2 1166.1 483.3 1161.7C489.4 1157.2 496.9 1152.8 506.7 1148.3C516.4 1143.9 530.3 1138.6 541.7 1135.0C553.1 1131.4 565.3 1128.6 575.0 1126.7C584.7 1124.7 593.1 1124.0 600.0 1123.3C606.9 1122.7 610.0 1122.7 616.7 1122.8C623.3 1123.0 632.8 1123.1 640.0 1124.2C647.2 1125.2 654.4 1126.8 660.0 1129.2C665.6 1131.5 668.9 1133.8 673.3 1138.3C677.8 1142.9 682.2 1149.4 686.7 1156.7C691.1 1163.9 696.0 1173.8 700.0 1181.7C704.0 1189.6 709.9 1197.8 710.8 1204.2C711.8 1210.6 707.4 1214.9 705.8 1220.0C704.3 1225.1 704.3 1230.0 701.7 1235.0C699.0 1240.0 694.7 1244.7 690.0 1250.0C685.3 1255.3 679.4 1261.4 673.3 1266.7C667.2 1271.9 660.6 1277.2 653.3 1281.7C646.1 1286.1 638.9 1290.6 630.0 1293.3C621.1 1296.1 609.4 1297.9 600.0 1298.3C590.6 1298.8 582.8 1297.8 573.3 1295.8C563.9 1293.9 552.8 1290.4 543.3 1286.7C533.9 1282.9 525.6 1278.6 516.7 1273.3C507.8 1268.1 497.8 1261.4 490.0 1255.0C482.2 1248.6 475.0 1240.8 470.0 1235.0C465.0 1229.2 461.9 1224.7 460.0 1220.0C458.1 1215.3 458.1 1211.7 458.3 1206.7Z" fill="#d62f27"/>
<path d="M470.0 1206.7C469.9 1201.1 471.1 1195.6 473.3 1190.0C475.6 1184.4 478.9 1178.6 483.3 1173.3C487.8 1168.1 493.9 1162.8 500.0 1158.3C506.1 1153.9 512.2 1150.0 520.0 1146.7C527.8 1143.3 537.5 1140.7 546.7 1138.3C555.8 1136.0 564.7 1133.8 575.0 1132.5C585.3 1131.2 598.1 1130.7 608.3 1130.8C618.6 1131.0 628.1 1131.5 636.7 1133.3C645.3 1135.1 653.3 1137.8 660.0 1141.7C666.7 1145.6 672.2 1151.4 676.7 1156.7C681.1 1161.9 684.2 1167.8 686.7 1173.3C689.2 1178.9 691.3 1185.0 691.7 1190.0C692.1 1195.0 690.6 1198.9 689.2 1203.3C687.8 1207.8 685.7 1211.9 683.3 1216.7C681.0 1221.4 678.6 1226.4 675.0 1231.7C671.4 1236.9 666.7 1243.3 661.7 1248.3C656.7 1253.3 651.1 1257.5 645.0 1261.7C638.9 1265.8 631.9 1270.1 625.0 1273.3C618.1 1276.5 610.8 1279.3 603.3 1280.8C595.8 1282.4 588.3 1282.9 580.0 1282.5C571.7 1282.1 562.2 1280.7 553.3 1278.3C544.4 1276.0 535.0 1272.2 526.7 1268.3C518.3 1264.4 510.3 1260.0 503.3 1255.0C496.4 1250.0 489.9 1243.6 485.0 1238.3C480.1 1233.1 476.7 1228.6 474.2 1223.3C471.7 1218.1 470.1 1212.2 470.0 1206.7Z" fill="#be1827"/>
<path d="M482.8 1206.7C482.1 1201.4 483.2 1197.8 485.0 1193.3C486.8 1188.9 489.4 1184.4 493.3 1180.0C497.2 1175.6 502.8 1170.6 508.3 1166.7C513.9 1162.8 519.7 1159.4 526.7 1156.7C533.6 1153.9 541.7 1151.8 550.0 1150.0C558.3 1148.2 566.1 1146.7 576.7 1145.8C587.2 1145.0 601.7 1144.2 613.3 1145.0C625.0 1145.8 638.9 1148.3 646.7 1150.8C654.4 1153.3 656.4 1156.5 660.0 1160.0C663.6 1163.5 666.2 1167.5 668.3 1171.7C670.4 1175.8 672.2 1180.6 672.5 1185.0C672.8 1189.4 671.2 1194.2 670.0 1198.3C668.8 1202.5 666.7 1206.1 665.0 1210.0C663.3 1213.9 662.8 1217.8 660.0 1221.7C657.2 1225.6 652.8 1229.2 648.3 1233.3C643.9 1237.5 638.9 1242.5 633.3 1246.7C627.8 1250.8 620.8 1255.0 615.0 1258.3C609.2 1261.7 603.6 1264.9 598.3 1266.7C593.1 1268.4 589.2 1268.5 583.3 1268.7C577.5 1268.8 570.3 1268.5 563.3 1267.5C556.4 1266.5 548.9 1264.9 541.7 1262.5C534.4 1260.1 526.7 1257.1 520.0 1253.3C513.3 1249.6 506.8 1244.7 501.7 1240.0C496.5 1235.3 492.3 1230.6 489.2 1225.0C486.0 1219.4 483.5 1211.9 482.8 1206.7Z" fill="#a50026"/>
<path d="M640.0 1341.0 L700.0 1337.0 L780.0 1335.0 L830.0 1339.0 L840.0 1355.0 L630.0 1355.0Z" fill="#e44c34"/>
<path d="M720.0 1344.0 L800.0 1341.0 L834.0 1355.0 L700.0 1355.0Z" fill="#be1827"/>
<path d="M805.9 1158.2C806.1 1156.8 805.9 1154.7 806.9 1151.8C808.0 1148.9 810.7 1143.6 812.3 1141.0C813.8 1138.3 815.0 1137.3 816.1 1135.8C817.2 1134.3 818.0 1133.2 818.9 1132.0C819.8 1130.7 820.7 1129.5 821.6 1128.1C822.5 1126.8 823.4 1125.4 824.4 1123.7C825.4 1122.1 826.5 1120.1 827.6 1118.1C828.7 1116.0 829.4 1114.1 830.9 1111.6C832.4 1109.2 834.5 1105.5 836.4 1103.2C838.2 1100.8 840.1 1099.4 841.9 1097.7C843.7 1096.0 844.6 1094.9 846.9 1093.1C849.3 1091.3 853.1 1088.5 856.0 1087.2C858.9 1085.8 861.9 1085.5 864.1 1085.0C866.2 1084.4 867.7 1084.1 869.2 1083.9C870.7 1083.6 871.6 1083.6 873.2 1083.4C874.8 1083.2 876.8 1083.1 878.9 1082.9C881.0 1082.7 883.1 1082.4 885.8 1082.3C888.5 1082.1 892.2 1082.0 895.2 1082.1C898.2 1082.1 900.6 1082.3 903.5 1082.7C906.5 1083.1 910.0 1083.8 912.9 1084.5C915.8 1085.1 918.3 1085.8 920.8 1086.6C923.4 1087.4 925.7 1088.3 928.1 1089.3C930.6 1090.4 933.3 1091.7 935.5 1093.0C937.7 1094.2 939.3 1095.4 941.2 1096.8C943.1 1098.3 945.1 1100.1 946.8 1101.9C948.5 1103.7 950.1 1105.6 951.5 1107.6C952.8 1109.6 954.0 1111.6 955.0 1113.9C956.0 1116.2 956.9 1119.0 957.6 1121.3C958.2 1123.7 958.5 1125.9 958.7 1128.0C958.8 1130.2 958.8 1132.3 958.6 1134.4C958.4 1136.6 958.0 1138.8 957.4 1141.0C956.9 1143.2 956.1 1145.3 955.3 1147.5C954.4 1149.7 953.3 1151.9 952.3 1154.0C951.2 1156.1 950.1 1158.0 949.0 1160.0C947.8 1161.9 946.6 1163.8 945.3 1165.7C944.1 1167.6 942.6 1169.5 941.3 1171.2C940.0 1172.9 938.9 1174.3 937.6 1175.8C936.3 1177.3 935.0 1178.7 933.4 1180.2C931.9 1181.7 930.1 1183.3 928.5 1184.7C926.8 1186.2 925.3 1187.5 923.6 1188.7C921.9 1189.9 920.3 1191.1 918.4 1192.1C916.6 1193.2 914.4 1194.3 912.5 1195.2C910.6 1196.0 908.8 1196.6 906.9 1197.2C904.9 1197.8 902.8 1198.3 900.8 1198.6C898.9 1199.0 897.7 1199.1 895.3 1199.4C892.8 1199.6 889.2 1200.0 886.2 1200.1C883.1 1200.3 880.2 1200.3 876.9 1200.2C873.6 1200.2 869.2 1200.1 866.3 1200.0C863.4 1199.8 861.9 1199.6 859.7 1199.3C857.4 1199.1 854.9 1198.9 852.7 1198.6C850.6 1198.3 850.4 1198.5 846.6 1197.5C842.8 1196.4 833.9 1194.3 830.0 1192.4C826.1 1190.4 825.3 1187.9 823.2 1185.8C821.1 1183.6 819.3 1181.6 817.4 1179.3C815.5 1176.9 813.4 1174.0 811.9 1171.7C810.4 1169.4 809.2 1166.9 808.3 1165.3C807.4 1163.7 807.0 1162.9 806.6 1162.1C806.2 1161.2 806.0 1160.8 805.9 1160.1C805.8 1159.5 805.7 1159.6 805.9 1158.2Z" fill="#fdbf71"/>
<path d="M811.7 1157.3C812.5 1153.7 817.5 1146.8 820.0 1142.3C822.5 1137.9 823.9 1135.4 826.7 1130.7C829.4 1125.9 832.8 1119.3 836.7 1114.0C840.6 1108.7 845.0 1102.8 850.0 1099.0C855.0 1095.2 861.8 1093.0 866.7 1091.5C871.5 1090.0 873.6 1090.4 879.2 1089.8C884.7 1089.3 892.9 1087.8 900.0 1088.2C907.1 1088.6 915.3 1090.2 921.7 1092.3C928.1 1094.4 933.6 1097.1 938.3 1100.7C943.1 1104.3 947.4 1109.0 950.0 1114.0C952.6 1119.0 954.2 1125.4 954.2 1130.7C954.2 1135.9 952.1 1140.7 950.0 1145.7C947.9 1150.7 944.4 1155.9 941.7 1160.7C938.9 1165.4 936.7 1169.8 933.3 1174.0C930.0 1178.2 925.8 1182.3 921.7 1185.7C917.5 1189.0 913.3 1192.2 908.3 1194.0C903.3 1195.8 898.6 1196.4 891.7 1196.5C884.7 1196.6 874.2 1196.1 866.7 1194.8C859.2 1193.6 852.8 1191.9 846.7 1189.0C840.6 1186.1 835.3 1181.5 830.0 1177.3C824.7 1173.2 818.1 1167.3 815.0 1164.0C811.9 1160.7 810.8 1160.9 811.7 1157.3Z" fill="#fca55d"/>
<path d="M839.8 1123.5C840.5 1121.8 841.5 1119.7 842.1 1118.3C842.8 1116.8 843.0 1116.0 843.7 1114.8C844.4 1113.6 845.3 1112.2 846.4 1110.8C847.5 1109.5 848.9 1107.9 850.3 1106.6C851.7 1105.3 853.1 1104.2 854.9 1103.1C856.6 1102.1 858.8 1101.0 860.9 1100.2C862.9 1099.4 864.9 1098.7 867.2 1098.1C869.5 1097.6 872.6 1097.0 874.8 1096.7C876.9 1096.3 878.2 1096.2 880.1 1096.0C882.1 1095.7 884.3 1095.4 886.5 1095.2C888.6 1095.0 890.8 1094.7 893.2 1094.6C895.6 1094.5 898.6 1094.5 900.9 1094.6C903.2 1094.7 904.7 1094.8 906.8 1095.1C908.9 1095.4 911.3 1095.8 913.7 1096.3C916.1 1096.8 918.9 1097.6 921.2 1098.3C923.4 1098.9 925.1 1099.6 927.1 1100.5C929.1 1101.4 931.1 1102.5 933.0 1103.6C934.8 1104.8 936.5 1106.2 938.0 1107.6C939.5 1108.9 940.6 1110.0 941.8 1111.6C943.1 1113.3 944.6 1115.6 945.6 1117.5C946.5 1119.3 947.0 1120.7 947.4 1122.5C947.9 1124.3 948.3 1126.3 948.3 1128.3C948.3 1130.2 948.0 1132.5 947.6 1134.4C947.2 1136.3 946.4 1138.0 945.8 1139.6C945.1 1141.3 944.5 1142.8 943.7 1144.4C942.9 1145.9 942.0 1147.5 941.1 1149.1C940.1 1150.7 939.1 1152.2 938.0 1153.7C936.9 1155.2 935.6 1156.6 934.5 1158.0C933.4 1159.4 932.2 1160.9 931.3 1162.1C930.4 1163.4 929.9 1164.3 929.2 1165.4C928.6 1166.6 927.8 1168.0 927.3 1169.0C926.8 1170.1 926.6 1170.6 926.2 1171.7C925.8 1172.8 925.3 1174.2 924.8 1175.4C924.4 1176.6 924.0 1178.0 923.4 1179.2C922.7 1180.4 922.0 1181.4 920.9 1182.5C919.8 1183.6 918.4 1184.7 916.8 1185.7C915.3 1186.8 913.4 1188.0 911.6 1188.8C909.8 1189.7 907.9 1190.4 905.8 1190.9C903.7 1191.5 901.1 1191.9 898.8 1192.1C896.4 1192.4 893.9 1192.4 891.7 1192.3C889.5 1192.3 887.7 1192.1 885.6 1191.8C883.5 1191.5 881.5 1191.2 879.2 1190.8C876.9 1190.4 874.0 1189.9 871.8 1189.3C869.6 1188.8 868.0 1188.3 865.9 1187.7C863.9 1187.0 861.7 1186.3 859.7 1185.6C857.8 1184.9 855.9 1184.2 854.2 1183.4C852.4 1182.6 850.7 1181.9 849.2 1180.9C847.6 1180.0 846.0 1178.8 844.7 1177.7C843.4 1176.5 842.5 1175.2 841.5 1173.9C840.4 1172.6 839.4 1171.0 838.6 1169.7C837.8 1168.3 837.6 1170.1 836.6 1165.9C835.7 1161.6 833.4 1148.6 832.9 1144.2C832.5 1139.7 833.6 1140.7 834.0 1139.0C834.5 1137.3 835.0 1135.8 835.6 1134.0C836.2 1132.2 837.1 1130.1 837.8 1128.4C838.5 1126.6 839.1 1125.2 839.8 1123.5Z" fill="#f8864f"/>
<path d="M846.7 1127.3C847.8 1122.9 847.8 1119.0 850.0 1115.7C852.2 1112.3 855.8 1109.4 860.0 1107.3C864.2 1105.2 869.7 1104.2 875.0 1103.2C880.3 1102.1 886.1 1101.3 891.7 1101.0C897.2 1100.7 902.8 1100.7 908.3 1101.5C913.9 1102.3 920.3 1103.6 925.0 1105.7C929.7 1107.8 933.8 1110.7 936.7 1114.0C939.6 1117.3 941.9 1121.8 942.5 1125.7C943.1 1129.6 941.5 1133.4 940.0 1137.3C938.5 1141.2 936.1 1145.4 933.3 1149.0C930.6 1152.6 925.4 1155.9 923.3 1159.0C921.2 1162.1 921.4 1164.0 920.8 1167.3C920.3 1170.7 922.1 1175.8 920.0 1179.0C917.9 1182.2 913.1 1185.0 908.3 1186.5C903.6 1188.0 897.2 1188.6 891.7 1188.2C886.1 1187.8 880.3 1185.8 875.0 1184.0C869.7 1182.2 864.2 1179.6 860.0 1177.3C855.8 1175.1 852.5 1174.0 850.0 1170.7C847.5 1167.3 846.1 1162.1 845.0 1157.3C843.9 1152.6 843.1 1147.3 843.3 1142.3C843.6 1137.3 845.6 1131.8 846.7 1127.3Z" fill="#f26841"/>
<path d="M1135.0 1310.7C1136.9 1301.8 1143.1 1305.4 1146.7 1302.3C1150.3 1299.3 1153.9 1296.5 1156.7 1292.3C1159.4 1288.2 1161.4 1282.6 1163.3 1277.3C1165.3 1272.1 1166.9 1266.2 1168.3 1260.7C1169.7 1255.1 1170.0 1249.0 1171.7 1244.0C1173.3 1239.0 1175.3 1234.3 1178.3 1230.7C1181.4 1227.1 1185.6 1225.0 1190.0 1222.3C1194.4 1219.7 1200.0 1217.3 1205.0 1214.8C1210.0 1212.3 1215.3 1210.0 1220.0 1207.3C1224.7 1204.7 1229.4 1202.3 1233.3 1199.0C1237.2 1195.7 1240.6 1191.5 1243.3 1187.3C1246.1 1183.2 1247.5 1179.0 1250.0 1174.0C1252.5 1169.0 1255.3 1163.4 1258.3 1157.3C1261.4 1151.2 1264.7 1143.4 1268.3 1137.3C1271.9 1131.2 1275.8 1125.1 1280.0 1120.7C1284.2 1116.2 1287.8 1113.3 1293.3 1110.7C1298.9 1108.0 1307.2 1105.1 1313.3 1104.8C1319.4 1104.6 1324.4 1106.6 1330.0 1109.0C1335.6 1111.4 1341.1 1114.8 1346.7 1119.0C1352.2 1123.2 1358.3 1128.7 1363.3 1134.0C1368.3 1139.3 1372.2 1144.6 1376.7 1150.7C1381.1 1156.8 1386.1 1164.3 1390.0 1170.7C1393.9 1177.1 1397.6 1183.2 1400.0 1189.0C1402.4 1194.8 1404.2 1200.1 1404.2 1205.7C1404.2 1211.2 1402.1 1216.8 1400.0 1222.3C1397.9 1227.9 1394.2 1233.4 1391.7 1239.0C1389.2 1244.6 1386.4 1250.1 1385.0 1255.7C1383.6 1261.2 1383.3 1266.8 1383.3 1272.3C1383.3 1277.9 1383.9 1284.0 1385.0 1289.0C1386.1 1294.0 1386.9 1298.2 1390.0 1302.3C1393.1 1306.5 1400.6 1311.2 1403.3 1314.0C1406.1 1316.8 1406.7 1316.8 1406.7 1319.0C1406.7 1321.2 1404.4 1324.3 1403.3 1327.3C1402.2 1330.4 1400.0 1332.6 1400.0 1337.3C1400.0 1342.1 1447.5 1352.6 1403.3 1355.7C1359.2 1358.7 1179.7 1363.2 1135.0 1355.7C1090.3 1348.2 1133.1 1319.6 1135.0 1310.7Z" fill="#fed889"/>
<path d="M1135.2 1313.6C1139.1 1308.9 1140.4 1307.5 1142.6 1305.9C1144.8 1304.3 1146.5 1305.1 1148.3 1304.0C1150.2 1302.9 1152.1 1301.0 1153.7 1299.4C1155.3 1297.8 1156.6 1296.5 1158.0 1294.5C1159.3 1292.5 1160.6 1290.0 1161.7 1287.6C1162.8 1285.1 1163.8 1282.3 1164.8 1279.7C1165.7 1277.0 1166.7 1274.1 1167.5 1271.5C1168.3 1268.8 1169.0 1266.4 1169.6 1263.7C1170.3 1261.0 1170.8 1258.0 1171.4 1255.2C1171.9 1252.4 1172.3 1249.5 1173.0 1247.0C1173.6 1244.4 1174.4 1242.1 1175.3 1240.1C1176.1 1238.0 1176.8 1236.4 1178.1 1234.6C1179.4 1232.8 1181.3 1230.9 1183.1 1229.4C1184.8 1227.8 1186.7 1226.8 1188.9 1225.5C1191.1 1224.2 1193.5 1222.9 1196.0 1221.6C1198.4 1220.3 1201.2 1219.1 1203.7 1218.0C1206.3 1216.8 1208.8 1215.7 1211.3 1214.6C1213.8 1213.5 1216.5 1212.3 1218.8 1211.3C1221.1 1210.3 1223.2 1209.4 1225.3 1208.5C1227.3 1207.5 1229.5 1206.5 1231.3 1205.5C1233.0 1204.5 1234.5 1203.6 1235.9 1202.5C1237.3 1201.5 1238.3 1200.7 1239.7 1199.3C1241.1 1198.0 1242.8 1196.1 1244.3 1194.2C1245.8 1192.3 1247.5 1190.1 1249.0 1188.0C1250.5 1185.8 1251.7 1183.7 1253.3 1181.4C1254.9 1179.0 1256.7 1176.1 1258.5 1173.7C1260.2 1171.4 1261.9 1169.3 1263.8 1167.2C1265.6 1165.0 1267.6 1162.7 1269.6 1160.7C1271.5 1158.8 1273.4 1156.9 1275.3 1155.4C1277.1 1153.8 1278.8 1152.9 1280.7 1151.4C1282.7 1150.0 1285.1 1147.8 1287.1 1146.6C1289.1 1145.4 1284.4 1145.2 1292.7 1144.3C1301.0 1143.4 1328.3 1140.9 1337.1 1141.3C1345.8 1141.8 1342.5 1144.7 1345.4 1146.8C1348.2 1149.0 1351.5 1152.0 1354.0 1154.4C1356.5 1156.7 1358.1 1158.3 1360.3 1160.7C1362.4 1163.2 1364.9 1166.4 1366.9 1169.1C1368.9 1171.9 1370.7 1174.6 1372.3 1177.4C1374.0 1180.1 1375.2 1182.2 1376.7 1185.4C1378.3 1188.6 1381.1 1190.4 1381.7 1196.5C1382.3 1202.6 1380.8 1216.4 1380.4 1221.9C1379.9 1227.3 1379.6 1226.7 1379.0 1229.3C1378.4 1231.9 1377.6 1234.7 1376.8 1237.4C1376.0 1240.1 1375.0 1242.9 1374.2 1245.4C1373.5 1247.9 1372.9 1250.1 1372.2 1252.4C1371.6 1254.7 1371.0 1257.0 1370.3 1259.3C1369.6 1261.6 1368.9 1263.9 1368.2 1266.3C1367.4 1268.8 1366.7 1271.7 1365.8 1273.9C1365.0 1276.1 1364.1 1277.7 1363.2 1279.5C1362.2 1281.4 1361.3 1283.3 1360.3 1284.8C1359.3 1286.4 1363.3 1281.7 1357.2 1288.9C1351.1 1296.1 1329.9 1321.2 1323.7 1328.0C1317.6 1334.8 1321.4 1329.2 1320.3 1329.7C1319.2 1330.3 1320.3 1330.7 1317.0 1331.3C1313.8 1332.0 1303.8 1332.8 1300.7 1333.5C1297.7 1334.3 1299.1 1334.9 1298.6 1335.8C1298.1 1336.7 1297.9 1337.8 1297.7 1338.8C1297.6 1339.7 1297.7 1340.8 1297.8 1341.6C1297.9 1342.4 1298.0 1342.9 1298.4 1343.4C1298.8 1344.0 1297.1 1344.4 1300.3 1345.0C1303.5 1345.5 1313.9 1346.1 1317.7 1346.7C1321.4 1347.2 1321.0 1347.9 1322.9 1348.0C1324.8 1348.2 1325.0 1347.8 1329.2 1347.5C1333.3 1347.2 1344.0 1346.4 1347.9 1346.0C1351.7 1345.6 1349.2 1345.2 1352.4 1344.9C1355.6 1344.5 1364.2 1343.9 1367.3 1344.0C1370.4 1344.0 1369.9 1344.4 1371.0 1344.9C1372.1 1345.5 1369.5 1347.7 1373.9 1347.3C1378.4 1346.9 1397.4 1341.2 1397.6 1342.8C1397.9 1344.3 1397.9 1353.7 1375.6 1356.5C1353.3 1359.2 1303.9 1359.7 1264.0 1359.5C1224.0 1359.4 1160.0 1359.8 1135.8 1355.7C1111.7 1351.5 1119.2 1341.5 1119.1 1334.5C1119.0 1327.5 1131.3 1318.4 1135.2 1313.6Z" fill="#fdbf71"/>
<path d="M1136.7 1314.0C1138.9 1305.7 1146.1 1308.7 1150.0 1305.7C1153.9 1302.6 1157.2 1299.8 1160.0 1295.7C1162.8 1291.5 1164.7 1285.9 1166.7 1280.7C1168.6 1275.4 1170.3 1269.6 1171.7 1264.0C1173.1 1258.4 1173.6 1252.1 1175.0 1247.3C1176.4 1242.6 1177.5 1239.0 1180.0 1235.7C1182.5 1232.3 1185.8 1230.0 1190.0 1227.3C1194.2 1224.7 1200.0 1222.1 1205.0 1219.8C1210.0 1217.6 1215.3 1215.8 1220.0 1214.0C1224.7 1212.2 1229.4 1210.9 1233.3 1209.0C1237.2 1207.1 1240.0 1205.4 1243.3 1202.3C1246.7 1199.3 1249.7 1194.8 1253.3 1190.7C1256.9 1186.5 1260.6 1181.5 1265.0 1177.3C1269.4 1173.2 1274.7 1168.7 1280.0 1165.7C1285.3 1162.6 1291.1 1160.4 1296.7 1159.0C1302.2 1157.6 1307.8 1156.8 1313.3 1157.3C1318.9 1157.9 1324.7 1159.8 1330.0 1162.3C1335.3 1164.8 1340.6 1168.2 1345.0 1172.3C1349.4 1176.5 1353.6 1182.1 1356.7 1187.3C1359.7 1192.6 1361.9 1198.2 1363.3 1204.0C1364.7 1209.8 1365.3 1216.2 1365.0 1222.3C1364.7 1228.4 1363.1 1234.8 1361.7 1240.7C1360.3 1246.5 1358.9 1251.8 1356.7 1257.3C1354.4 1262.9 1351.7 1269.0 1348.3 1274.0C1345.0 1279.0 1340.8 1283.4 1336.7 1287.3C1332.5 1291.2 1327.8 1294.6 1323.3 1297.3C1318.9 1300.1 1313.9 1301.5 1310.0 1304.0C1306.1 1306.5 1301.9 1309.0 1300.0 1312.3C1298.1 1315.7 1297.8 1320.9 1298.3 1324.0C1298.9 1327.1 1299.4 1328.4 1303.3 1330.7C1307.2 1332.9 1314.4 1336.8 1321.7 1337.3C1328.9 1337.9 1339.7 1335.1 1346.7 1334.0C1353.6 1332.9 1358.3 1330.1 1363.3 1330.7C1368.3 1331.2 1373.9 1333.2 1376.7 1337.3C1379.4 1341.5 1420.0 1352.6 1380.0 1355.7C1340.0 1358.7 1177.2 1362.6 1136.7 1355.7C1096.1 1348.7 1134.4 1322.3 1136.7 1314.0Z" fill="#fca55d"/>
<path d="M1136.0 1317.7C1137.9 1314.9 1137.5 1314.3 1139.3 1313.0C1141.2 1311.6 1145.1 1310.5 1147.2 1309.6C1149.2 1308.7 1150.2 1308.5 1151.7 1307.7C1153.1 1306.9 1154.5 1305.8 1155.8 1304.7C1157.1 1303.7 1158.4 1302.7 1159.5 1301.5C1160.7 1300.3 1161.8 1299.0 1162.9 1297.5C1163.9 1296.1 1164.8 1294.5 1165.7 1292.8C1166.6 1291.1 1167.4 1289.3 1168.2 1287.5C1168.9 1285.7 1169.6 1283.9 1170.3 1281.8C1170.9 1279.8 1171.7 1277.3 1172.3 1275.2C1172.9 1273.1 1173.4 1271.2 1173.9 1269.2C1174.3 1267.2 1174.8 1265.2 1175.2 1263.1C1175.6 1261.1 1175.9 1259.1 1176.3 1257.2C1176.7 1255.3 1177.1 1253.4 1177.6 1251.7C1178.0 1250.0 1178.5 1248.6 1179.1 1247.0C1179.7 1245.5 1180.2 1244.0 1181.0 1242.5C1181.9 1240.9 1183.0 1239.1 1184.1 1237.7C1185.3 1236.3 1186.6 1235.3 1188.0 1234.1C1189.4 1233.0 1190.6 1232.1 1192.4 1231.0C1194.3 1229.8 1196.8 1228.4 1198.8 1227.4C1200.8 1226.3 1202.5 1225.5 1204.4 1224.6C1206.4 1223.7 1208.4 1222.8 1210.5 1222.0C1212.5 1221.3 1214.6 1220.6 1216.5 1219.9C1218.3 1219.3 1219.9 1218.8 1221.7 1218.2C1223.4 1217.6 1225.5 1216.9 1227.1 1216.3C1228.8 1215.7 1230.3 1215.2 1231.8 1214.6C1233.4 1214.0 1234.8 1213.3 1236.3 1212.5C1237.8 1211.7 1239.5 1210.8 1241.0 1209.8C1242.5 1208.9 1244.1 1207.8 1245.5 1206.6C1246.9 1205.5 1248.1 1204.3 1249.4 1203.0C1250.7 1201.7 1251.9 1200.3 1253.2 1198.8C1254.6 1197.3 1256.1 1195.5 1257.5 1194.0C1258.9 1192.5 1260.1 1191.2 1261.4 1189.8C1262.8 1188.4 1264.0 1187.1 1265.5 1185.6C1267.0 1184.2 1268.9 1182.6 1270.6 1181.3C1272.3 1180.0 1273.8 1179.0 1275.7 1177.8C1277.6 1176.7 1279.7 1175.4 1281.9 1174.3C1284.1 1173.2 1286.5 1172.1 1288.9 1171.2C1291.4 1170.3 1294.0 1169.5 1296.4 1168.9C1298.8 1168.3 1301.3 1167.9 1303.6 1167.6C1306.0 1167.3 1308.1 1167.1 1310.4 1167.3C1312.8 1167.4 1315.6 1167.9 1317.8 1168.4C1320.0 1168.9 1321.7 1169.6 1323.6 1170.4C1325.5 1171.1 1327.4 1172.1 1329.2 1173.1C1331.0 1174.1 1332.7 1175.2 1334.5 1176.5C1336.3 1177.9 1338.3 1179.7 1339.8 1181.2C1341.3 1182.7 1342.4 1184.0 1343.5 1185.5C1344.7 1187.0 1345.7 1188.4 1346.7 1190.2C1347.7 1191.9 1348.7 1193.9 1349.6 1195.8C1350.4 1197.8 1351.1 1199.7 1351.7 1201.9C1352.4 1204.0 1353.0 1206.6 1353.4 1208.9C1353.8 1211.2 1354.0 1213.2 1354.1 1215.5C1354.3 1217.9 1354.3 1220.6 1354.2 1223.0C1354.0 1225.4 1353.7 1227.6 1353.4 1229.7C1353.0 1231.8 1352.6 1233.7 1352.2 1235.6C1351.8 1237.5 1351.4 1239.3 1350.9 1241.3C1350.4 1243.2 1349.9 1245.4 1349.3 1247.3C1348.8 1249.1 1348.3 1250.5 1347.6 1252.4C1346.9 1254.3 1346.0 1256.5 1345.1 1258.6C1344.1 1260.7 1343.1 1262.8 1341.8 1265.0C1340.6 1267.2 1339.1 1269.6 1337.6 1271.6C1336.1 1273.7 1334.4 1275.6 1332.7 1277.4C1331.0 1279.3 1329.1 1281.0 1327.4 1282.6C1325.6 1284.1 1324.2 1285.3 1322.3 1286.7C1320.3 1288.0 1317.8 1289.6 1315.8 1290.7C1313.8 1291.9 1311.9 1292.6 1310.3 1293.5C1308.8 1294.4 1307.8 1295.0 1306.4 1295.9C1305.1 1296.8 1303.7 1298.0 1302.5 1299.0C1301.3 1299.9 1300.3 1300.8 1299.3 1301.9C1298.3 1302.9 1297.4 1304.0 1296.6 1305.2C1295.7 1306.4 1295.0 1307.6 1294.3 1308.9C1293.7 1310.2 1293.2 1311.5 1292.8 1312.9C1292.3 1314.3 1292.0 1315.7 1291.8 1317.1C1291.6 1318.5 1291.5 1320.1 1291.5 1321.2C1291.5 1322.4 1291.5 1323.3 1291.8 1324.2C1292.1 1325.1 1292.9 1325.9 1293.3 1326.6C1293.8 1327.3 1294.5 1327.7 1294.5 1328.2C1294.6 1328.7 1294.3 1329.3 1293.8 1329.6C1293.3 1329.9 1292.0 1329.8 1291.3 1330.3C1290.7 1330.7 1290.7 1328.7 1289.6 1332.2C1288.5 1335.8 1285.1 1347.7 1284.7 1351.6C1284.2 1355.5 1290.4 1354.5 1286.8 1355.6C1283.2 1356.7 1276.3 1357.5 1263.3 1358.1C1250.2 1358.7 1227.7 1359.4 1208.6 1359.3C1189.6 1359.1 1163.0 1359.0 1149.0 1357.4C1134.9 1355.8 1127.8 1354.2 1124.3 1349.6C1120.8 1345.0 1126.0 1334.9 1128.0 1329.6C1129.9 1324.3 1134.2 1320.5 1136.0 1317.7Z" fill="#f8864f"/>
<path d="M1136.7 1319.0C1139.2 1311.5 1147.2 1313.4 1151.7 1310.7C1156.1 1307.9 1160.0 1305.9 1163.3 1302.3C1166.7 1298.7 1169.4 1294.0 1171.7 1289.0C1173.9 1284.0 1175.3 1277.9 1176.7 1272.3C1178.1 1266.8 1178.6 1260.4 1180.0 1255.7C1181.4 1250.9 1182.8 1247.3 1185.0 1244.0C1187.2 1240.7 1189.4 1238.4 1193.3 1235.7C1197.2 1232.9 1203.3 1229.6 1208.3 1227.3C1213.3 1225.1 1218.6 1224.0 1223.3 1222.3C1228.1 1220.7 1232.2 1219.6 1236.7 1217.3C1241.1 1215.1 1245.8 1212.3 1250.0 1209.0C1254.2 1205.7 1257.8 1200.9 1261.7 1197.3C1265.6 1193.7 1268.9 1190.1 1273.3 1187.3C1277.8 1184.6 1283.1 1182.3 1288.3 1180.7C1293.6 1179.0 1300.0 1177.6 1305.0 1177.3C1310.0 1177.1 1314.2 1177.6 1318.3 1179.0C1322.5 1180.4 1326.7 1182.9 1330.0 1185.7C1333.3 1188.4 1336.2 1191.8 1338.3 1195.7C1340.4 1199.6 1341.7 1204.3 1342.5 1209.0C1343.3 1213.7 1343.6 1219.0 1343.3 1224.0C1343.1 1229.0 1341.9 1234.3 1340.8 1239.0C1339.7 1243.7 1338.8 1247.6 1336.7 1252.3C1334.6 1257.1 1331.7 1262.9 1328.3 1267.3C1325.0 1271.8 1320.8 1275.7 1316.7 1279.0C1312.5 1282.3 1307.2 1284.3 1303.3 1287.3C1299.4 1290.4 1296.1 1293.4 1293.3 1297.3C1290.6 1301.2 1288.1 1306.2 1286.7 1310.7C1285.3 1315.1 1284.4 1320.7 1285.0 1324.0C1285.6 1327.3 1290.8 1328.4 1290.0 1330.7C1289.2 1332.9 1281.7 1333.2 1280.0 1337.3C1278.3 1341.5 1303.9 1352.6 1280.0 1355.7C1256.1 1358.7 1160.6 1361.8 1136.7 1355.7C1112.8 1349.6 1134.2 1326.5 1136.7 1319.0Z" fill="#f26841"/>
<path d="M1171.7 1324.0C1177.2 1317.9 1186.9 1319.6 1196.7 1319.0C1206.4 1318.4 1218.9 1319.3 1230.0 1320.7C1241.1 1322.1 1255.0 1324.6 1263.3 1327.3C1271.7 1330.1 1277.2 1332.6 1280.0 1337.3C1282.8 1342.1 1299.4 1352.6 1280.0 1355.7C1260.6 1358.7 1181.4 1360.9 1163.3 1355.7C1145.3 1350.4 1166.1 1330.1 1171.7 1324.0Z" fill="#e44c34"/>
<path d="M1188.3 1337.3C1196.7 1333.7 1217.5 1333.4 1230.0 1334.0C1242.5 1334.6 1257.2 1337.1 1263.3 1340.7C1269.4 1344.3 1280.6 1353.2 1266.7 1355.7C1252.8 1358.2 1193.1 1358.7 1180.0 1355.7C1166.9 1352.6 1180.0 1340.9 1188.3 1337.3Z" fill="#d62f27"/>
<path d="M996.0 1336.0 L1040.0 1332.0 L1105.0 1330.0 L1139.0 1326.0 L1160.0 1322.0 L1160.0 1355.0 L990.0 1355.0Z" fill="#fdbf71"/>
<path d="M1005.0 1340.0 L1040.0 1336.0 L1105.0 1334.0 L1160.0 1330.0 L1160.0 1355.0 L1000.0 1355.0Z" fill="#f26841"/>
<path d="M1030.0 1344.0 L1105.0 1340.0 L1160.0 1338.0 L1160.0 1355.0 L1020.0 1355.0Z" fill="#d62f27"/>
<path d="M1413.3 1337.3 L1423.3 1330.7 L1446.7 1329.0 L1471.7 1328.2 L1490.0 1324.0 L1490.0 1355.7 L1420.0 1355.7Z" fill="#f7fcce"/>
<path d="M1468.3 1200.7 L1470.0 1180.7 L1473.3 1174.0 L1483.3 1179.0 L1484.2 1197.3 L1483.3 1222.3 L1480.0 1237.3 L1475.0 1242.3 L1468.3 1242.3Z" fill="#f7fcce"/>
<path d="M1495.0 760.0 L1477.5 745.0 L1478.5 721.0 L1475.0 715.0 L1471.0 721.0 L1471.5 734.0 L1460.0 740.0 L1456.5 746.0 L1445.0 752.5 L1441.5 765.0 L1442.5 800.0 L1445.0 830.0 L1455.0 840.0 L1460.0 850.0 L1467.5 852.5 L1480.0 865.0 L1495.0 887.5" fill="none" stroke="#000" stroke-width="2.00"/>
<path d="M725.0 297.5 L719.0 327.5 L722.5 354.0 L731.5 370.0 L747.5 385.0 L774.0 405.0 L773.5 429.0 L745.0 439.0 L730.0 451.5 L739.0 472.5 L743.5 495.0 L737.5 515.0 L743.5 533.5 L765.0 543.5 L788.5 550.5 L797.5 570.0 L802.5 600.0 L811.0 614.0 L830.0 630.0 L848.5 646.0 L860.0 672.0 L852.5 686.5 L820.0 700.0 L802.5 703.5 L786.5 710.0 L767.5 731.5 L761.0 745.0 L732.5 776.0 L729.5 795.0 L735.0 810.0 L743.5 831.0 L743.5 850.0 L752.5 860.0 L775.0 865.0 L830.0 866.0 L880.0 865.0 L906.0 866.5 L922.0 876.0 L922.5 886.5 L911.0 893.5 L890.0 896.5 L830.0 897.5 L805.0 899.0 L785.5 902.5 L786.0 914.0 L802.5 928.5 L836.0 935.0 L852.0 960.0 L823.0 984.0 L836.5 992.5 L833.5 1015.0 L807.5 1025.0 L821.0 1038.5 L822.5 1050.0 L850.0 1051.5 L886.5 1058.5 L895.0 1067.5 L920.0 1075.0 L945.0 1085.0 L960.0 1100.0" fill="none" stroke="#000" stroke-width="2.00"/>
<path d="M965.0 1107.3 L966.0 1111.2 L967.4 1116.7 L968.3 1122.3 L968.5 1127.8 L968.3 1133.4 L967.5 1139.0 L966.1 1144.6 L964.1 1150.1 L961.7 1155.7 L958.8 1161.3 L955.4 1166.9 L951.7 1172.3 L947.6 1177.6 L943.1 1182.6 L938.3 1187.3 L933.2 1191.6 L927.7 1195.5 L921.7 1199.0 L914.9 1202.2 L907.5 1205.0 L900.0 1207.3 L892.1 1208.9 L884.0 1209.9 L876.7 1210.7 L870.5 1211.1 L865.1 1211.4 L860.0 1212.3 L854.8 1214.3 L849.9 1216.9 L846.7 1219.8 L846.3 1223.2 L847.6 1227.0 L848.3 1230.7 L847.8 1234.1 L846.7 1237.5 L845.0 1240.7 L842.2 1243.4 L838.8 1246.0 L836.7 1249.0 L837.3 1252.8 L839.2 1257.0 L840.0 1260.7 L838.9 1263.4 L836.7 1265.5 L833.3 1267.3 L828.4 1268.6 L822.3 1269.6 L816.7 1270.7 L811.7 1272.1 L807.2 1273.7 L803.3 1275.7 L800.5 1278.1 L798.4 1281.0 L796.7 1284.0 L795.6 1287.3 L794.8 1290.7 L793.3 1294.0 L792.0 1295.4 M779.9 1312.2 L780.5 1315.6 L782.3 1318.6 L785.1 1321.2 L788.5 1323.4 L792.7 1325.2 L797.5 1326.7 L802.6 1327.9 L808.1 1328.6 L813.9 1329.3 L819.5 1330.4 L825.5 1331.6 L831.0 1333.0 L835.3 1335.1 L838.3 1337.7 L840.7 1340.7 L842.6 1344.2 L843.9 1348.7 L844.7 1352.7 L845.0 1354.0" fill="none" stroke="#000" stroke-width="2.00"/>
<path d="M1133.3 1309.0 L1136.4 1306.4 L1140.8 1302.7 L1145.0 1299.0 L1148.6 1295.8 L1152.0 1292.6 L1155.0 1289.0 L1157.6 1284.9 L1159.8 1280.5 L1161.7 1275.7 L1163.2 1270.4 L1164.5 1264.7 L1165.8 1259.0 L1167.1 1253.3 L1168.4 1247.6 L1170.0 1242.3 L1171.9 1237.5 L1174.0 1233.1 L1176.7 1229.0 L1180.1 1225.3 L1184.0 1222.0 L1188.3 1219.0 L1193.0 1216.4 L1198.1 1214.0 L1200.7 1212.8 M1222.5 1200.7 L1227.2 1197.5 L1231.4 1194.1 L1235.1 1190.5 L1238.0 1186.9 L1240.5 1182.9 L1242.7 1178.2 L1244.6 1172.9 L1246.1 1167.0 L1247.2 1160.9 L1247.9 1154.3 L1248.2 1147.5 L1248.3 1140.4 L1248.1 1133.0 L1247.7 1125.7 L1247.3 1119.3 L1246.7 1113.8 L1246.5 1108.5 L1247.1 1102.7 L1248.5 1096.4 L1250.5 1090.2 L1253.0 1084.6 L1256.2 1079.3 L1259.8 1074.5 L1263.4 1070.5 L1266.5 1067.6 L1270.6 1064.5 L1276.8 1059.6 L1285.4 1052.7 L1294.7 1046.0 L1302.9 1041.2 L1310.0 1037.8 L1317.7 1035.6 L1322.3 1035.0 M1386.8 1040.7 L1397.9 1042.8 L1409.2 1045.7 L1420.3 1048.7 L1430.9 1051.1 L1441.1 1052.8 L1450.9 1055.0 L1460.5 1058.9 L1470.3 1064.4 L1478.9 1070.4 L1485.1 1076.3 L1489.0 1082.7 L1491.4 1088.2 L1492.3 1090.0" fill="none" stroke="#000" stroke-width="2.00"/>
<path d="M850.0 919.0 L872.5 913.0 L880.0 913.5" fill="none" stroke="#000" stroke-width="2.00"/>
<path d="M850.0 919.0C852.7 920.4 862.2 924.0 866.0 927.5C869.8 931.0 869.3 936.4 872.5 940.0C875.7 943.6 880.0 946.5 885.0 949.0C890.0 951.5 899.6 954.0 902.5 955.0" fill="none" stroke="#000" stroke-width="2.00"/>
<path d="M191.0 326.0 L205.0 340.0 L217.5 336.0" fill="none" stroke="#000" stroke-width="2.00"/>
<path d="M191.0 384.0 L206.0 362.5 L217.5 380.0" fill="none" stroke="#000" stroke-width="2.00"/>
<path d="M191.0 616.0 L220.0 612.0 L227.5 617.5 L222.5 636.0 L206.0 643.0 L191.0 630.0" fill="none" stroke="#000" stroke-width="2.00"/>
<path d="M900.0 1226.7 L904.3 1224.2 L910.5 1220.6 L916.7 1216.7 L922.3 1212.5 L927.9 1208.0 L933.3 1203.3 L938.6 1198.5 L943.6 1193.5 L948.3 1188.3 L952.6 1183.1 L956.5 1177.7 L960.0 1171.7 L963.2 1164.9 L966.0 1157.5 L968.3 1150.0 L970.0 1142.3 L971.1 1134.4 L971.7 1126.7 L971.6 1119.1 L971.0 1111.8 L970.0 1105.0 L968.7 1099.0 L967.0 1093.5 L965.0 1088.3 L962.4 1083.7 L959.4 1079.4 L956.7 1075.0 L953.8 1069.8 L951.2 1064.4 L950.0 1060.0 L950.8 1057.1 L953.1 1055.1 L956.7 1053.3 L961.7 1051.4 L968.0 1049.7 L975.0 1048.3 L982.5 1047.2 L990.8 1046.5 L1000.0 1046.7 L1010.8 1048.2 L1022.5 1050.7 L1022.5 1050.7 M1084.9 1066.7 L1094.7 1068.1 L1103.2 1068.9 L1111.9 1069.5 L1121.9 1070.6 L1133.1 1072.2 L1144.6 1073.6 L1155.4 1074.5 L1166.6 1074.5 L1176.3 1074.7 L1182.6 1075.5 L1185.3 1076.8 L1187.0 1078.7 L1190.0 1081.5 L1193.6 1085.0 L1197.7 1089.3 L1202.5 1094.3 L1208.3 1100.3 L1214.1 1106.8 L1218.9 1113.2 L1223.0 1119.9 L1226.6 1126.6 L1230.0 1133.4 L1233.1 1140.1 L1235.7 1146.8 L1237.4 1153.2 L1238.3 1159.5 L1238.5 1165.5 L1237.9 1171.1 L1236.6 1176.2 L1234.5 1181.1 L1232.0 1185.5 L1229.0 1189.8 L1225.3 1193.5 L1221.2 1196.2 L1218.8 1197.1 M1187.9 1207.9 L1184.5 1210.3 L1181.6 1213.2 L1178.3 1217.1 L1174.7 1222.0 L1171.4 1227.3 L1168.9 1232.7 L1167.2 1238.2 L1165.8 1243.9 L1164.2 1249.5 L1162.6 1255.1 L1160.9 1260.7 L1159.0 1265.9 L1156.9 1270.9 L1154.6 1275.9 L1152.0 1280.9 L1149.3 1286.0 L1146.4 1291.0 L1143.6 1295.5 L1140.6 1299.4 L1137.9 1303.1 L1137.5 1306.9 L1144.0 1310.7 L1141.7 1314.6 L1111.9 1319.0 L1050.9 1324.5 L988.4 1329.2 L953.3 1331.3 L940.8 1331.0 L936.5 1329.7 L929.4 1328.5 L923.0 1327.2 L917.7 1325.4 L912.2 1322.2 L906.7 1317.5 L901.9 1312.7 L898.6 1309.0 L896.8 1306.3 L895.6 1303.8 L894.3 1300.7 L893.2 1297.3 L892.2 1293.9 L891.2 1290.8 L890.5 1287.9 L889.4 1285.2 L886.9 1283.0 L883.3 1281.3 L879.0 1279.8 L874.1 1278.2 L868.2 1276.5 L862.4 1274.8 L857.9 1273.2 L854.2 1271.7 L851.2 1270.0 L849.1 1267.8 L847.9 1265.1 L847.1 1262.2 L846.0 1259.1 L844.6 1255.8 L843.5 1252.4 L843.4 1249.0 L844.0 1245.7 L845.5 1242.3 L848.2 1239.0 L852.3 1235.6 L857.3 1232.2 L862.9 1229.2 L869.6 1226.4 L876.6 1223.7 L883.6 1220.8 L891.2 1217.6 L897.8 1214.9 L900.0 1214.0" fill="none" stroke="#000" stroke-width="2.00" stroke-dasharray="7.7 3.3"/>
<path d="M900.0 1236.7 L904.3 1234.2 L910.5 1230.6 L916.7 1226.7 L922.2 1222.6 L927.8 1218.1 L933.3 1213.3 L939.0 1208.0 L944.7 1202.3 L950.0 1196.7 L954.8 1191.2 L959.3 1185.8 L963.3 1180.0 L967.0 1173.7 L970.4 1167.0 L973.3 1160.0 L975.9 1152.5 L978.1 1144.6 L980.0 1136.7 L981.4 1128.6 L982.3 1120.6 L983.3 1113.3 L984.1 1107.1 L984.8 1101.6 L986.7 1096.7 L990.1 1092.2 L994.7 1088.3 L1000.0 1085.0 L1006.1 1082.1 L1013.0 1079.8 L1020.0 1078.3 L1027.0 1077.9 L1034.1 1078.2 L1041.7 1079.2 L1049.8 1080.6 L1058.2 1082.7 L1066.7 1085.0 L1075.0 1087.5 L1083.3 1090.3 L1091.7 1093.3 L1100.0 1096.5 L1108.3 1099.8 L1116.7 1103.3 L1125.0 1107.0 L1133.3 1110.9 L1141.7 1115.0 L1150.0 1119.3 L1158.3 1123.8 L1166.7 1128.3 L1175.1 1132.8 L1183.6 1137.2 L1191.7 1141.7 L1199.6 1146.1 L1207.1 1150.6 L1213.3 1155.0 L1217.8 1159.5 L1221.0 1164.0 L1223.3 1168.3 L1224.9 1172.3 L1225.5 1176.2 L1225.0 1180.0 L1223.3 1184.0 L1220.4 1188.0 L1216.7 1191.7 L1211.7 1194.8 L1205.9 1197.6 L1200.0 1200.0 L1194.1 1201.8 L1188.3 1203.2 L1183.3 1205.0 L1179.9 1207.3 L1177.5 1210.1 L1175.0 1213.3 L1172.2 1217.3 L1169.3 1221.8 L1166.7 1226.7 L1164.3 1232.0 L1162.0 1237.7 L1160.0 1243.3 L1158.3 1249.0 L1156.7 1254.6 L1155.0 1260.0 L1153.0 1265.1 L1150.7 1270.1 L1148.3 1275.0 L1145.7 1280.1 L1142.8 1285.1 L1140.0 1290.0 L1137.1 1294.6 L1134.2 1299.0 L1131.7 1303.3 L1135.5 1307.9 L1139.7 1312.5 L1126.7 1316.7 L1079.8 1320.5 L1015.7 1323.9 L966.7 1325.7 L948.0 1325.1 L944.3 1323.0 L941.7 1320.7 L935.6 1318.7 L930.6 1316.5 L926.7 1314.0 L924.3 1310.9 L923.1 1307.5 L921.7 1304.0 L919.9 1300.7 L917.9 1297.5 L915.0 1294.0 L910.6 1290.0 L910.6 1290.0 M890.8 1278.1 L886.7 1275.7 L883.0 1272.1 L879.8 1268.1 L876.7 1264.0 L873.2 1260.1 L869.9 1256.2 L868.3 1252.3 L869.3 1248.4 L871.9 1244.4 L875.0 1240.7 L878.1 1237.3 L881.9 1234.2 L886.7 1230.7 L894.0 1226.0 L902.3 1220.9 L908.3 1217.3 L908.3 1217.3" fill="none" stroke="#000" stroke-width="2.00" stroke-dasharray="7.7 3.3"/>
<path d="M900.0 1243.3 L904.3 1241.4 L910.5 1238.5 L916.7 1235.0 L922.2 1231.0 L927.8 1226.5 L933.3 1221.7 L938.9 1216.5 L944.4 1210.9 L950.0 1205.0 L955.7 1198.6 L961.5 1191.9 L966.7 1185.0 L971.1 1178.0 L975.0 1170.9 L976.7 1167.2 M1000.8 1103.7 L1005.9 1099.8 L1011.1 1096.7 L1016.9 1094.3 L1023.3 1092.6 L1030.3 1091.7 L1037.8 1091.5 L1045.6 1092.1 L1054.0 1093.5 L1062.5 1095.6 L1070.8 1097.8 L1079.2 1100.5 L1087.5 1103.5 L1095.8 1106.6 L1104.2 1109.8 L1112.5 1113.2 L1120.8 1116.8 L1129.2 1120.6 L1137.5 1124.6 L1145.8 1128.8 L1154.2 1133.2 L1162.5 1137.8 L1170.9 1142.3 L1179.7 1146.9 L1188.0 1151.3 L1195.0 1155.2 L1201.1 1158.5 L1206.2 1161.7 L1210.1 1165.0 L1212.8 1168.3 L1214.5 1171.7 L1215.3 1175.0 L1215.2 1178.3 L1214.2 1181.7 L1212.2 1185.0 L1209.3 1188.5 L1205.5 1191.9 L1200.9 1194.6 L1195.2 1196.7 L1189.3 1198.7 L1184.2 1201.4 L1179.6 1204.6 L1175.3 1208.1 L1171.4 1212.0 L1167.9 1216.3 L1164.8 1220.9 L1162.0 1225.9 L1159.7 1231.5 L1157.6 1237.2 L1155.8 1242.8 L1154.2 1248.4 L1152.6 1254.0 L1150.7 1259.3 L1148.5 1264.3 L1146.2 1269.2 L1143.7 1274.2 L1140.9 1279.3 L1138.1 1284.3 L1135.2 1288.9 L1132.3 1293.2 L1129.5 1297.6 L1128.7 1302.8 L1133.0 1309.0 L1131.0 1314.7 L1108.6 1317.9 L1063.4 1319.0 L1016.7 1319.0 L989.1 1319.0 L976.9 1318.7 L970.4 1317.9 L962.5 1316.6 L955.4 1314.5 L949.5 1312.0 L944.0 1309.2 L939.5 1305.9 L935.4 1302.4 L931.4 1299.0 L927.7 1295.7 L923.9 1292.3 L919.1 1289.0 L913.2 1285.8 L907.4 1282.4 L902.9 1278.8 L899.2 1275.0 L896.2 1271.1 L894.0 1266.9 L892.5 1262.3 L891.8 1257.8 L891.8 1253.6 L892.6 1249.8 L894.1 1246.0 L896.0 1241.9 L898.2 1237.4 L901.3 1232.9 L906.0 1228.3 L913.0 1223.2 L919.6 1218.8 L921.7 1217.3" fill="none" stroke="#000" stroke-width="2.00" stroke-dasharray="7.7 3.3"/>
<path d="M958.3 1243.3 L959.6 1238.2 L962.2 1232.3 L965.0 1226.7 L967.5 1221.6 L970.1 1216.7 L973.3 1211.7 L977.5 1206.3 L982.2 1200.7 L986.7 1195.0 L990.8 1189.1 L994.8 1183.0 L998.3 1176.7 L1001.3 1170.0 L1003.9 1163.1 L1006.7 1156.7 L1009.7 1150.7 L1012.9 1145.1 L1016.7 1140.0 L1021.2 1135.4 L1026.2 1131.4 L1031.7 1128.3 L1037.5 1126.2 L1043.6 1125.0 L1050.0 1124.7 L1056.6 1125.2 L1063.4 1126.5 L1070.0 1128.3 L1076.2 1130.7 L1082.2 1133.6 L1088.3 1136.7 L1094.9 1139.8 L1101.7 1143.0 L1108.3 1146.7 L1114.8 1150.9 L1121.0 1155.4 L1126.7 1160.0 L1131.8 1164.4 L1136.4 1168.8 L1140.0 1173.3 L1142.5 1178.1 L1144.1 1183.1 L1145.0 1188.3 L1145.1 1193.8 L1144.5 1199.4 L1143.3 1205.0 L1142.6 1207.8 M1106.9 1277.0 L1105.0 1280.0 L1102.7 1283.1 L1099.9 1286.0 L1096.7 1288.3 L1092.6 1289.8 L1088.0 1290.7 L1083.3 1291.7 L1078.9 1292.6 L1074.4 1293.5 L1070.0 1295.0 L1065.6 1297.4 L1061.1 1300.4 L1056.7 1303.3 L1052.1 1306.4 L1047.5 1309.4 L1043.3 1311.7 L1039.8 1312.9 L1036.5 1313.4 L1033.3 1313.3 L1030.2 1312.8 L1027.2 1311.8 L1023.3 1310.0 L1018.1 1307.2 L1012.1 1303.7 L1006.7 1300.0 L1002.2 1296.2 L998.2 1292.3 L995.0 1288.3 L993.3 1284.5 L992.3 1280.7 L990.0 1276.7 L985.1 1272.2 L978.8 1267.6 L973.3 1263.3 L969.3 1259.8 L966.0 1256.5 L963.3 1253.3 L960.9 1250.2 L959.0 1247.2 L958.3 1243.3 L958.3 1243.3" fill="none" stroke="#000" stroke-width="2.00" stroke-dasharray="7.7 3.3"/>
<path d="M1031.9 1180.7 L1034.9 1175.7 L1038.6 1171.1 L1042.9 1166.7 L1047.6 1163.0 L1052.4 1160.7 L1057.4 1159.5 L1062.5 1159.2 L1067.5 1159.2 L1072.6 1159.6 L1077.6 1160.8 L1082.3 1162.9 L1086.9 1166.1 L1091.2 1169.8 L1095.4 1173.5 L1099.5 1177.4 L1103.3 1181.4 L1106.6 1185.3 L1109.5 1189.1 L1111.8 1193.0 L1112.9 1197.1 L1113.0 1201.6 L1112.2 1206.1 L1110.9 1210.6 L1108.8 1215.0 L1106.3 1219.4 L1103.8 1224.0 L1101.2 1228.9 L1098.4 1233.3 L1094.7 1236.4 L1089.9 1238.6 L1085.2 1239.8 L1081.8 1239.8 L1079.6 1238.3 L1077.7 1236.1 L1075.6 1233.8 L1073.5 1231.1 L1073.5 1231.1" fill="none" stroke="#000" stroke-width="2.00" stroke-dasharray="7.7 3.3"/>
<path d="M1060.8 1276.7C1060.3 1274.6 1062.1 1269.0 1065.0 1266.7C1067.9 1264.3 1074.7 1261.9 1078.3 1262.5C1081.9 1263.1 1086.1 1267.4 1086.7 1270.0C1087.2 1272.6 1084.7 1276.8 1081.7 1278.3C1078.6 1279.9 1071.8 1279.4 1068.3 1279.2C1064.9 1278.9 1061.4 1278.8 1060.8 1276.7Z" fill="none" stroke="#000" stroke-width="2.00" stroke-dasharray="7.7 3.3"/>
<path d="M800.8 1286.5C802.2 1282.2 803.5 1280.3 806.7 1278.2C809.9 1276.0 815.6 1274.3 820.0 1273.7C824.4 1273.0 829.6 1273.3 833.3 1274.3C837.1 1275.4 840.7 1277.7 842.5 1279.8C844.3 1282.0 844.7 1284.4 844.2 1287.3C843.6 1290.2 841.5 1294.4 839.2 1297.3C836.8 1300.2 833.8 1302.4 830.0 1304.8C826.2 1307.3 820.4 1309.5 816.7 1312.0C812.9 1314.5 809.9 1318.9 807.5 1319.8C805.1 1320.7 803.5 1320.0 802.0 1317.3C800.5 1314.7 798.5 1309.1 798.3 1304.0C798.1 1298.9 799.4 1290.8 800.8 1286.5Z" fill="none" stroke="#000" stroke-width="2.00" stroke-dasharray="7.7 3.3"/>
<path d="M846.7 1310.7 L848.3 1297.3 L860.0 1284.8 L876.7 1284.0 L883.3 1300.7 L890.0 1314.0 L910.0 1324.0 L916.7 1329.0 L900.0 1330.7 L866.7 1330.7 L836.7 1329.0 L826.7 1324.0 L823.3 1319.0Z" fill="none" stroke="#000" stroke-width="2.00"/>
<path d="M185.0 1134.0 L205.8 1125.7 L212.5 1110.7 L235.0 1105.7 L246.7 1132.3 L264.2 1150.3 L293.3 1137.3 L323.3 1123.2 L350.8 1106.5 L381.7 1117.3 L403.3 1150.7 L414.2 1180.7 L418.3 1222.3 L421.7 1247.3 M436.7 1274.0 L470.0 1302.3 L506.7 1324.0 L549.0 1330.7 L613.3 1333.2" fill="none" stroke="#000" stroke-width="2.00"/>
<path d="M250.8 1267.3 L250.5 1262.1 L250.1 1254.7 L250.0 1247.3 L250.5 1240.5 L251.3 1233.8 L252.5 1227.3 L254.0 1221.5 L256.0 1216.1 L258.3 1210.7 L261.2 1205.1 L264.5 1199.6 L268.3 1194.0 L272.8 1188.4 L277.8 1182.8 L283.3 1177.3 L289.6 1172.1 L296.5 1167.0 L303.3 1162.3 L310.1 1158.3 L316.9 1154.8 L323.3 1151.5 L329.2 1148.4 L334.7 1145.6 L340.0 1143.2 L345.1 1141.0 L350.1 1139.2 L355.0 1138.2 L360.0 1138.0 L365.0 1138.6 L370.0 1139.8 L375.1 1141.7 L380.1 1144.2 L385.0 1147.3 L389.8 1151.3 L394.3 1155.9 L398.3 1160.7 L401.6 1165.4 L404.4 1170.4 L406.7 1175.7 L408.4 1181.5 L409.7 1187.6 L410.8 1194.0 L411.8 1200.4 L412.6 1206.9 L413.3 1214.0 L413.9 1222.1 L414.4 1230.7 L415.0 1239.0 L415.6 1246.8 L416.0 1250.6 M426.2 1278.0 L429.6 1281.8 L433.3 1285.7 L437.4 1289.6 L437.4 1289.6 M460.3 1307.1 L466.5 1311.0 L469.8 1313.0 M493.3 1325.3 L500.0 1327.9 L506.6 1330.0 L513.0 1331.5 L519.7 1332.7 L527.6 1333.5 L537.4 1334.0 L546.1 1334.2 L549.0 1334.3" fill="none" stroke="#000" stroke-width="2.00" stroke-dasharray="7.7 3.3"/>
<path d="M289.5 1219.6 L292.1 1214.6 L295.1 1209.8 L298.4 1204.8 L302.1 1199.7 L306.2 1194.7 L310.6 1190.0 L315.5 1185.3 L320.7 1181.0 L326.0 1177.2 L331.6 1173.9 L337.2 1171.1 L342.8 1168.7 L348.4 1166.9 L354.0 1165.6 L359.3 1164.9 L364.4 1165.0 L369.3 1165.6 L374.0 1166.5 L378.6 1167.8 L382.9 1169.5 L387.0 1172.0 L390.8 1175.1 L394.2 1178.7 L397.3 1182.7 L400.1 1186.9 L402.4 1191.5 L404.1 1196.5 L405.4 1201.9 L406.3 1207.7 L407.0 1213.8 L407.6 1220.5 L408.1 1227.3 L408.6 1234.0 L409.1 1240.9 L409.7 1247.5 L410.3 1253.7 L411.0 1259.4 L411.9 1264.8 L413.1 1269.8 L414.5 1274.3 L416.3 1278.6 L418.9 1282.7 L422.2 1286.7 L426.1 1290.5 L430.8 1294.2 L436.2 1297.8 L442.1 1301.4 L447.9 1305.0 L454.0 1308.6 L460.2 1312.2 L466.5 1315.7 L473.0 1319.2 L479.8 1322.5 L486.8 1325.5 L493.6 1328.2 L501.6 1330.7 L513.1 1332.9 L529.3 1335.1 L544.2 1336.8 L549.0 1337.3" fill="none" stroke="#000" stroke-width="2.00" stroke-dasharray="7.7 3.3"/>
<path d="M290.8 1279.0C291.0 1275.9 291.0 1266.5 291.7 1260.7C292.4 1254.8 293.3 1249.6 295.0 1244.0C296.7 1238.4 299.2 1232.3 301.7 1227.3C304.2 1222.3 306.7 1218.4 310.0 1214.0C313.3 1209.6 317.5 1204.6 321.7 1200.7C325.8 1196.8 330.3 1193.6 335.0 1190.7C339.7 1187.8 345.0 1184.9 350.0 1183.2C355.0 1181.4 360.3 1180.5 365.0 1180.3C369.7 1180.2 374.3 1180.9 378.3 1182.3C382.4 1183.8 386.1 1186.2 389.2 1189.0C392.2 1191.8 394.8 1194.8 396.7 1199.0C398.5 1203.2 399.5 1208.7 400.3 1214.0C401.2 1219.3 401.4 1225.1 401.7 1230.7C401.9 1236.2 401.9 1241.8 401.7 1247.3C401.4 1252.9 401.0 1258.4 400.0 1264.0C399.0 1269.6 396.9 1275.4 395.8 1280.7C394.7 1285.9 393.2 1291.8 393.3 1295.7C393.5 1299.6 393.6 1301.9 396.7 1304.0C399.7 1306.1 405.8 1307.1 411.7 1308.2C417.5 1309.3 425.3 1309.4 431.7 1310.7C438.1 1311.9 444.2 1313.7 450.0 1315.7C455.8 1317.6 460.0 1319.8 466.7 1322.3C473.3 1324.8 481.9 1328.2 490.0 1330.7C498.1 1333.2 505.2 1335.7 515.0 1337.3C524.8 1339.0 543.3 1340.1 549.0 1340.7" fill="none" stroke="#000" stroke-width="2.00" stroke-dasharray="7.7 3.3"/>
<path d="M403.5 975.0 L404.9 967.5 L407.0 957.2 L410.0 949.0 L414.4 944.7 L419.7 942.5 L425.0 942.5 L429.9 944.4 L434.8 948.5 L440.0 955.0 L445.7 965.6 L451.8 978.7 L457.5 990.0 L462.0 997.6 L466.3 1003.3 L472.5 1008.5 L481.2 1013.3 L491.9 1017.6 L505.0 1022.5 L520.9 1028.6 L539.4 1035.3 L560.0 1041.5 L560.0 1041.5 M635.0 1056.5 L652.2 1059.0 L666.1 1060.5 L680.0 1062.5 L694.5 1065.9 L709.1 1069.6 L725.0 1072.5 L745.7 1073.6 L767.8 1073.7 L782.5 1074.0 L784.1 1074.7 L778.3 1075.4 L773.3 1076.5 L772.8 1077.8 L773.1 1079.4 L771.7 1081.5 L767.2 1084.3 L761.0 1087.6 L755.0 1090.7 L749.7 1093.0 L744.6 1095.0 L740.0 1097.3 L736.0 1100.4 L732.5 1103.8 L730.0 1107.3 L728.6 1110.9 L728.1 1114.7 L728.3 1119.0 L729.1 1124.2 L730.7 1130.0 L733.3 1135.7 L737.2 1141.2 L742.2 1146.5 L748.3 1150.7 L756.2 1153.2 L765.2 1154.5 L773.3 1154.8 L779.5 1154.4 L784.8 1153.0 L790.0 1150.7 L795.7 1147.0 L801.4 1142.4 L806.7 1137.3 L811.5 1132.1 L816.0 1126.5 L820.0 1120.7 L823.1 1114.4 L825.6 1107.9 L828.3 1102.3 L828.3 1102.3 M847.7 1082.9 L852.4 1080.4 L857.5 1078.8 L863.3 1077.8 L870.4 1076.8 L878.6 1076.0 L887.4 1075.6 L895.9 1076.0 L904.4 1077.1 L912.7 1078.8 L920.5 1081.0 L928.1 1083.8 L935.1 1087.2 L941.3 1090.9 L946.7 1095.2 L951.3 1099.9 L955.2 1104.9 L958.3 1110.5 L960.7 1116.2 L962.4 1121.8 L963.2 1127.4 L963.4 1133.0 L963.1 1138.2 L962.4 1143.1 L961.0 1148.0 L958.8 1153.5 L955.8 1159.7 L952.1 1166.0 L947.6 1171.9 L942.1 1177.8 L936.2 1183.2 L930.7 1187.9 L925.5 1191.7 L919.9 1195.0 L913.1 1197.9 L905.2 1200.4 L896.4 1202.3 L886.4 1203.8 L874.7 1204.7 L863.2 1205.3 L854.2 1206.1 L847.2 1206.8 L841.2 1207.7 L835.4 1208.7 L829.7 1209.9 L825.1 1211.4 L822.0 1213.5 L820.5 1216.2 L820.3 1219.2 L822.0 1222.0 L826.0 1224.7 L830.2 1227.5 L832.6 1230.5 L833.5 1233.7 L833.5 1237.1 L832.9 1241.1 L831.5 1245.8 L829.4 1250.4 L827.3 1254.0 L825.0 1256.9 L822.0 1259.4 L817.4 1261.9 L810.8 1264.0 L804.3 1266.1 L799.7 1268.6 L796.8 1271.3 L794.5 1274.2 L792.1 1277.2 L789.7 1280.5 L787.6 1283.9 L786.0 1287.5 L785.0 1291.3 L784.0 1295.3 L782.3 1299.5 L779.6 1304.1 L777.2 1308.6 L776.5 1312.6 L777.1 1316.1 L778.8 1319.2 L781.5 1322.0 L785.4 1324.4 L790.4 1326.5 L796.7 1328.0 L804.8 1328.9 L813.0 1329.9 L820.0 1331.7 L826.4 1334.0 L831.5 1337.1 L834.5 1341.5 L835.2 1347.9 L835.0 1353.8 L835.0 1355.7" fill="none" stroke="#000" stroke-width="2.00"/>
<path d="M613.3 1327.3 L589.4 1326.5 L556.2 1325.3 L530.0 1323.3 L518.8 1320.7 L514.6 1317.4 L510.0 1313.3 L502.5 1308.3 L494.6 1302.6 L486.7 1296.7 L478.8 1290.7 L470.9 1284.5 L463.3 1278.3 L456.2 1272.3 L449.4 1266.2 L443.3 1260.0 L438.1 1253.6 L433.6 1247.0 L430.0 1240.0 L427.7 1232.6 L426.3 1224.8 L425.0 1216.7 L423.5 1208.3 L422.0 1199.5 L420.7 1190.0 L419.4 1179.4 L418.3 1168.0 L417.3 1156.7 L416.3 1145.6 L415.4 1134.4 L415.0 1123.3 L415.5 1112.2 L416.5 1101.1 L417.3 1090.0 L418.0 1078.8 L418.5 1067.5 L418.3 1056.7 L417.2 1046.3 L415.3 1036.3 L413.3 1026.7 L411.1 1017.7 L408.7 1009.0 L406.7 1000.0 L405.4 989.0 L404.6 977.5 L404.0 970.0 L403.7 969.3 L403.5 972.4 L403.5 975.0 L403.5 975.0" fill="none" stroke="#000" stroke-width="2.00"/>
<path d="M740.0 1111.5 L741.9 1108.6 L744.5 1106.3 L748.3 1104.0 L753.6 1101.4 L760.1 1098.7 L766.7 1096.5 L773.3 1094.9 L780.2 1093.7 L786.7 1092.7 L792.8 1091.5 L798.6 1090.4 L803.3 1090.7 L806.7 1092.8 L809.0 1096.1 L810.8 1099.8 L812.5 1103.8 L813.7 1108.0 L814.2 1112.3 L813.8 1116.5 L812.7 1120.7 L810.8 1124.8 L808.0 1129.0 L804.5 1133.0 L800.8 1136.5 L797.3 1139.4 L793.6 1141.8 L790.0 1143.7 L786.7 1144.7 L783.5 1145.2 L780.0 1145.7 L775.7 1146.4 L771.1 1147.2 L766.7 1147.3 L762.6 1146.8 L758.7 1145.7 L755.0 1144.0 L751.4 1141.7 L749.6 1140.4 M745.0 1135.7 L742.5 1132.1 L740.5 1128.1 L739.2 1124.0 L738.7 1119.7 L738.9 1115.3 L740.0 1111.5 L740.0 1111.5" fill="none" stroke="#000" stroke-width="2.00"/>
<path d="M748.3 1119.0 L749.4 1115.2 L751.7 1111.8 L755.0 1109.0 L759.3 1106.8 L764.6 1105.2 L770.0 1104.0 L775.7 1103.2 L781.5 1102.9 L786.7 1103.2 L790.7 1104.0 L794.1 1105.5 L796.7 1107.3 L798.5 1109.7 L799.6 1112.6 L800.0 1115.7 L799.6 1119.0 L798.4 1122.5 L796.7 1125.7 L794.4 1128.2 L791.5 1130.4 L788.3 1132.3 L784.7 1134.3 L780.7 1136.0 L776.7 1137.3 L772.8 1138.2 L768.9 1138.5 L765.0 1138.2 L763.0 1137.7 M748.4 1121.1 L748.3 1119.0" fill="none" stroke="#000" stroke-width="2.00" stroke-dasharray="7.7 3.3"/>
<path d="M811.7 1073.2 L820.0 1071.0 L834.2 1073.7 L823.3 1074.8Z" fill="none" stroke="#000" stroke-width="2.00"/>
<path d="M434.2 1206.7 L434.4 1201.5 L434.9 1194.1 L435.8 1186.7 L437.2 1180.0 L439.0 1173.3 L441.7 1166.7 L445.3 1159.9 L449.8 1153.2 L455.0 1146.7 L461.0 1140.3 L467.7 1134.1 L475.0 1128.3 L482.8 1123.0 L491.1 1118.0 L500.0 1113.3 L509.4 1109.1 L519.3 1105.2 L530.0 1101.7 L541.9 1098.4 L554.4 1095.6 L566.7 1093.3 L578.0 1092.0 L589.0 1091.2 L600.0 1090.8 L611.2 1090.7 L622.5 1090.8 L633.3 1091.2 L643.8 1091.6 L654.0 1092.3 L663.3 1093.3 L671.9 1094.7 L679.8 1096.3 L686.7 1098.3 L692.6 1100.7 L697.6 1103.5 L701.7 1106.7 L704.6 1110.3 L706.7 1114.3 L708.3 1118.3 L709.5 1122.1 L710.3 1125.9 L711.7 1130.0 L713.9 1134.8 L716.7 1139.9 L720.0 1145.0 L724.0 1149.8 L728.5 1154.5 L733.3 1160.0 L739.1 1167.1 L745.2 1175.0 L750.0 1181.7 L752.3 1185.6 L753.3 1188.4 L755.0 1192.3 L758.1 1198.9 L761.9 1206.7 L766.7 1214.0 L773.4 1220.4 L781.0 1226.2 L786.7 1230.7 L789.2 1233.0 L789.8 1233.9 L789.2 1235.7 L787.0 1238.9 L783.5 1242.8 L780.0 1247.3 L776.8 1252.5 L773.5 1258.3 L770.0 1264.0 L766.1 1269.4 L762.0 1274.9 L758.3 1280.7 L755.3 1287.1 L752.8 1294.0 L750.8 1300.7 L748.9 1307.4 L747.4 1313.9 L748.3 1319.0 L753.0 1321.7 L759.9 1322.9 L766.7 1324.0 L772.0 1325.5 L777.2 1326.8 L783.3 1328.2 L791.3 1329.5 L800.2 1330.8 L808.3 1332.3 L815.4 1334.0 L821.7 1335.9 L826.7 1339.0 L838.1 1344.3 L848.3 1350.7 L833.3 1355.7 L768.6 1358.7 L678.8 1360.4 L613.3 1360.0 L599.5 1356.3 L610.1 1350.5 L613.3 1345.0 L594.8 1340.8 L568.9 1337.0 L546.7 1333.3 L532.8 1330.2 L522.7 1327.3 L513.3 1323.3 L503.0 1316.7 L493.3 1308.9 L486.7 1303.3 L486.7 1303.3" fill="none" stroke="#000" stroke-width="2.00"/>
<path d="M613.3 1345.0 L594.8 1341.9 L568.9 1337.5 L546.7 1333.3 L532.8 1330.2 L522.7 1327.3 L513.3 1323.3 L503.8 1317.7 L495.1 1310.9 L486.7 1303.3 L478.4 1294.9 L470.5 1285.8 L463.3 1276.7 L457.0 1267.5 L451.5 1258.4 L446.7 1250.0 L442.5 1242.7 L439.1 1236.2 L436.7 1230.0 L435.5 1223.8 L435.2 1218.0 L435.0 1213.3 L434.6 1210.1 L434.4 1208.0 L434.2 1206.7 L434.2 1206.7" fill="none" stroke="#000" stroke-width="2.00"/>
<path d="M425.0 1206.7 L425.5 1201.0 L426.3 1193.0 L427.5 1185.0 L429.1 1177.8 L431.2 1170.6 L434.2 1163.3 L438.1 1156.0 L442.8 1148.8 L448.3 1141.7 L454.8 1134.8 L462.1 1128.0 L470.0 1121.7 L478.3 1115.7 L487.2 1110.2 L496.7 1105.0 L506.6 1100.2 L517.1 1095.7 L528.3 1091.7 L540.8 1087.8 L554.0 1084.4 L566.7 1081.7 L578.1 1079.9 L589.1 1078.9 L600.0 1078.3 L611.1 1078.1 L622.2 1078.2 L633.3 1078.7 L644.7 1079.3 L656.0 1080.3 L666.7 1081.7 L676.8 1083.7 L686.2 1086.2 L693.3 1088.3 L696.5 1088.2 L697.4 1087.7 L700.0 1092.3 L706.2 1106.6 L714.1 1126.1 L718.1 1135.1 M736.4 1161.1 L744.4 1166.8 L755.0 1171.7 L764.8 1176.4 L770.4 1181.9 L771.7 1188.1 L772.2 1194.3 L775.2 1200.1 L779.8 1205.5 L785.3 1211.0 L791.9 1217.5 L800.5 1225.4 L808.0 1232.8 L810.6 1237.8 L809.1 1240.2 L805.4 1242.4 L801.1 1246.1 L795.6 1250.8 L789.6 1256.1 L783.8 1262.0 L778.0 1268.6 L772.5 1275.5 L767.6 1282.6 L762.8 1290.0 L759.3 1297.3 L758.1 1303.8 L759.1 1309.9 L761.6 1315.2 L765.4 1319.0 L770.7 1321.4 L776.9 1323.1 L783.1 1324.9 L789.8 1326.6 L796.6 1328.2 L803.4 1329.8 L810.5 1331.4 L817.1 1333.1 L822.5 1334.9 L826.9 1336.7 L830.3 1339.1 L835.2 1342.8 L847.4 1348.3 L846.8 1353.7 L807.7 1357.3 L723.9 1359.9 L639.9 1360.7 L601.3 1358.2 L603.7 1351.8 L614.6 1344.6 L605.7 1339.4 L582.3 1335.6 L556.8 1332.4 L538.7 1329.1 L525.9 1326.3 L515.3 1322.9 L504.5 1317.6 L493.5 1309.7 L484.7 1302.4 L481.7 1300.0" fill="none" stroke="#000" stroke-width="2.00"/>
<path d="M613.3 1341.7 L594.9 1338.8 L569.1 1334.7 L546.7 1330.7 L531.9 1327.7 L520.5 1324.8 L510.0 1320.7 L499.8 1314.8 L490.4 1307.7 L481.7 1300.0 L473.3 1291.7 L465.4 1282.8 L458.3 1274.0 L452.0 1265.2 L446.5 1256.5 L441.7 1248.3 L437.6 1241.1 L434.2 1234.4 L431.7 1228.3 L430.4 1222.7 L430.0 1217.5 L429.3 1213.3 L427.9 1210.2 L426.2 1208.1 L425.0 1206.7 L425.0 1206.7" fill="none" stroke="#000" stroke-width="2.00"/>
<path d="M458.3 1206.7 L458.9 1201.3 L460.0 1195.6 L461.7 1190.0 L463.9 1184.8 L466.7 1179.8 L470.0 1175.0 L473.7 1170.4 L478.0 1166.0 L483.3 1161.7 L489.9 1157.2 L497.7 1152.8 L506.7 1148.3 L511.8 1146.1 M575.0 1126.7 L584.3 1125.1 L592.6 1124.0 L600.0 1123.3 L605.9 1122.9 L610.9 1122.8 L616.7 1122.8 L624.1 1123.0 L632.2 1123.4 L640.0 1124.2 L647.2 1125.4 L654.0 1127.1 L660.0 1129.2 L664.9 1131.6 L669.1 1134.4 L673.3 1138.3 L677.8 1143.5 L682.2 1149.7 L686.7 1156.7 L691.2 1164.6 L695.7 1173.3 L700.0 1181.7 L704.4 1189.6 L708.5 1197.3 L710.8 1204.2 L710.3 1210.0 L708.0 1215.0 L705.8 1220.0 L704.7 1225.1 L703.6 1230.0 L701.7 1235.0 L698.5 1239.9 L694.5 1244.9 L690.0 1250.0 L684.9 1255.5 L679.3 1261.2 L673.3 1266.7 L667.0 1271.9 L660.4 1277.0 L653.3 1281.7 L646.0 1286.0 L638.4 1290.1 L630.0 1293.3 L620.4 1295.8 L610.0 1297.5 L600.0 1298.3 L591.0 1298.3 L582.3 1297.4 L573.3 1295.8 L563.5 1293.4 L553.2 1290.3 L543.3 1286.7 L534.2 1282.7 L525.4 1278.3 L516.7 1273.3 L507.5 1267.7 L498.4 1261.4 L490.0 1255.0 L482.5 1248.3 L475.7 1241.4 L470.0 1235.0 L465.6 1229.6 L462.3 1224.7 L460.0 1220.0 L458.6 1215.6 L458.2 1211.3 L458.3 1206.7 L458.3 1206.7" fill="none" stroke="#000" stroke-width="2.00"/>
<path d="M482.8 1206.7 L482.7 1201.9 L483.5 1197.6 L485.0 1193.3 L487.1 1188.9 L489.8 1184.4 L493.3 1180.0 L497.7 1175.4 L502.8 1170.9 L508.3 1166.7 L514.0 1163.0 L520.1 1159.6 L526.7 1156.7 L534.0 1154.1 L541.8 1151.9 L550.0 1150.0 L558.3 1148.3 L566.9 1146.9 L576.7 1145.8 L582.2 1145.4 M642.3 1149.6 L650.1 1152.1 L654.9 1155.1 L658.3 1158.3 L661.7 1161.8 L664.7 1165.6 L667.2 1169.6 L669.3 1173.8 L671.1 1178.2 L672.2 1182.8 L672.5 1187.2 L671.8 1191.8 L670.6 1196.2 L669.3 1200.4 L667.7 1204.3 L665.9 1208.1 L664.2 1211.9 L662.9 1215.8 L661.2 1219.7 L658.5 1223.6 L654.8 1227.4 L650.5 1231.3 L646.1 1235.5 L641.2 1240.0 L636.1 1244.5 L630.5 1248.7 L624.3 1252.8 L618.0 1256.6 L612.1 1260.0 L606.5 1263.1 L601.0 1265.7 L595.8 1267.4 L591.0 1268.3 L586.1 1268.6 L580.3 1268.7 L573.8 1268.5 L566.8 1268.0 L559.8 1266.9 L552.6 1265.5 L545.3 1263.6 L538.0 1261.3 L530.6 1258.4 L523.4 1255.2 L516.7 1251.4 L510.3 1247.0 L504.3 1242.4 L499.2 1237.6 L494.7 1232.8 L490.8 1227.7 L487.7 1222.1 L485.1 1215.7 L483.3 1209.5 L482.8 1206.7" fill="none" stroke="#000" stroke-width="2.00"/>
<path d="M877.7 1102.7 L883.2 1101.8 L888.9 1101.2 L894.4 1100.9 L900.0 1100.9 L905.6 1101.2 L911.2 1101.9 L917.0 1103.1 L922.5 1104.7 L927.3 1106.8 L931.5 1109.4 L935.1 1112.4 L938.1 1115.8 L940.5 1119.6 L942.1 1123.7 L942.6 1127.6 L942.0 1131.5 L940.8 1135.4 L939.2 1139.3 L937.1 1143.3 L934.7 1147.2 L931.8 1150.8 L928.1 1154.2 L924.6 1157.4 L922.5 1160.4 L921.5 1163.1 L921.1 1165.8 L920.7 1169.1 L921.0 1173.2 L920.7 1177.3 L918.7 1180.6 L915.2 1183.4 L910.7 1185.6 L905.8 1187.2 L900.3 1188.1 L894.5 1188.3 L888.9 1187.8 L883.2 1186.6 L877.7 1184.9 L872.3 1183.0 L867.1 1180.8 L862.2 1178.5 L858.0 1176.3 L854.4 1174.4 L851.3 1172.2 L848.8 1168.8 L847.0 1164.5 L847.0 1164.5" fill="none" stroke="#000" stroke-width="2.00"/>
<path d="M822.2 1138.4 L824.3 1134.8 L826.7 1130.7 L829.6 1125.4 L833.0 1119.6 L836.7 1114.0 L840.7 1108.6 L845.2 1103.4 L850.0 1099.0 L855.5 1095.7 L861.3 1093.3 L866.7 1091.5 L870.8 1090.5 L874.5 1090.2 L879.2 1089.8 L885.5 1089.1 L892.7 1088.3 L900.0 1088.2 L907.3 1089.0 L914.8 1090.4 L921.7 1092.3 L927.8 1094.6 L933.3 1097.4 L938.3 1100.7 L942.9 1104.6 L946.9 1109.1 L950.0 1114.0 L952.3 1119.4 L953.7 1125.1 L954.2 1130.7 L953.5 1135.8 L952.0 1140.7 L950.0 1145.7 L947.5 1150.7 L944.6 1155.8 L941.7 1160.7 L939.0 1165.3 L936.4 1169.7 L933.3 1174.0 L929.8 1178.1 L925.8 1182.1 L921.7 1185.7 L917.5 1188.9 L913.1 1191.8 L908.3 1194.0 L903.3 1195.4 L898.0 1196.2 L891.7 1196.5 L883.8 1196.4 L874.9 1195.9 L866.7 1194.8 L859.5 1193.4 L852.9 1191.5 L846.7 1189.0 L840.8 1185.6 L835.3 1181.6 L835.3 1181.6" fill="none" stroke="#000" stroke-width="2.00"/>
<path d="M1135.0 1310.7 L1138.1 1308.6 L1142.5 1305.5 L1146.7 1302.3 L1150.2 1299.3 L1153.6 1296.1 L1156.7 1292.3 L1159.2 1287.8 L1161.4 1282.6 L1163.3 1277.3 L1165.2 1271.9 L1166.9 1266.3 L1168.3 1260.7 L1169.4 1255.0 L1170.4 1249.3 L1171.7 1244.0 L1173.5 1239.1 L1175.6 1234.6 L1178.3 1230.7 L1181.7 1227.5 L1185.7 1224.9 L1190.0 1222.3 L1194.8 1219.8 L1199.9 1217.3 L1202.5 1216.1 M1222.4 1206.0 L1227.0 1203.4 L1231.3 1200.6 L1235.2 1197.3 L1238.8 1193.5 L1241.9 1189.4 L1244.6 1185.2 L1246.8 1181.0 L1248.8 1176.4 L1251.3 1171.5 L1254.0 1166.1 L1256.8 1160.3 L1259.9 1154.2 L1263.1 1147.3 L1266.6 1140.5 L1270.2 1134.3 L1274.0 1128.4 L1277.9 1123.0 L1282.0 1118.6 L1286.1 1115.0 L1290.7 1112.0 L1296.3 1109.3 L1303.1 1106.9 L1310.1 1105.2 L1316.3 1104.9 L1321.9 1105.9 L1327.3 1107.9 L1332.8 1110.3 L1338.3 1113.3 L1343.9 1117.0 L1349.5 1121.2 L1355.2 1126.1 L1360.7 1131.3 L1365.7 1136.6 L1370.2 1142.0 L1374.5 1147.7 L1378.9 1153.8 L1383.5 1160.6 L1388.0 1167.4 L1391.9 1173.8 L1395.6 1180.0 L1398.7 1186.1 L1401.1 1191.9 L1403.0 1197.4 L1404.0 1202.9 L1404.0 1208.4 L1402.9 1214.0 L1401.0 1219.6 L1398.8 1225.1 L1396.0 1230.7 L1393.0 1236.2 L1390.4 1241.8 L1387.9 1247.3 L1385.8 1252.9 L1384.4 1258.4 L1383.6 1264.0 L1383.4 1269.6 L1383.4 1275.1 L1383.8 1280.9 L1384.5 1286.4 L1385.5 1291.4 L1386.8 1296.0 L1388.6 1300.2 L1391.9 1304.5 L1396.8 1308.7 L1401.6 1312.5 L1404.5 1315.2 L1406.0 1316.7 L1406.6 1318.1 L1406.5 1320.2 L1405.4 1322.9 L1404.0 1325.8 L1402.7 1329.0 L1401.5 1332.9 L1400.4 1336.2 L1400.0 1337.3" fill="none" stroke="#000" stroke-width="2.00"/>
<path d="M1136.7 1314.0 L1140.2 1311.9 L1145.3 1308.9 L1150.0 1305.7 L1153.7 1302.6 L1157.0 1299.4 L1160.0 1295.7 L1162.5 1291.1 L1164.7 1286.0 L1166.7 1280.7 L1168.5 1275.2 L1170.2 1269.6 L1171.7 1264.0 L1172.8 1258.3 L1173.8 1252.5 L1175.0 1247.3 L1176.4 1243.0 L1177.9 1239.1 L1180.0 1235.7 L1182.8 1232.6 L1186.1 1229.9 L1190.0 1227.3 L1194.6 1224.7 L1199.8 1222.2 L1205.0 1219.8 L1210.1 1217.7 L1215.1 1215.8 L1220.0 1214.0 L1224.7 1212.3 L1229.2 1210.8 L1233.3 1209.0 L1236.9 1207.1 L1240.1 1205.0 L1243.3 1202.3 L1246.6 1198.9 L1249.9 1194.9 L1253.3 1190.7 L1257.0 1186.3 L1260.8 1181.7 L1265.0 1177.3 L1269.7 1173.1 L1274.8 1169.1 L1280.0 1165.7 L1285.4 1162.9 L1291.0 1160.7 L1296.7 1159.0 L1302.2 1157.8 L1307.8 1157.2 L1313.3 1157.3 L1319.0 1158.3 L1324.6 1160.0 L1330.0 1162.3 L1335.2 1165.1 L1340.3 1168.4 L1345.0 1172.3 L1349.3 1176.9 L1353.3 1182.0 L1356.7 1187.3 L1359.4 1192.7 L1361.7 1198.3 L1363.3 1204.0 L1364.4 1210.0 L1365.0 1216.2 L1365.0 1222.3 L1364.3 1228.5 L1363.1 1234.7 L1361.7 1240.7 L1360.2 1246.3 L1358.6 1251.8 L1356.7 1257.3 L1354.3 1263.0 L1351.5 1268.7 L1348.3 1274.0 L1344.8 1278.8 L1340.8 1283.3 L1336.7 1287.3 L1332.3 1291.0 L1327.8 1294.4 L1323.3 1297.3 L1318.8 1299.7 L1318.8 1299.7 M1302.6 1309.2 L1300.0 1312.3 L1298.6 1316.2 L1298.1 1320.4 L1298.3 1324.0 L1299.7 1326.8 L1301.8 1329.1 L1303.3 1330.7 L1303.3 1330.7" fill="none" stroke="#000" stroke-width="2.00"/>
<path d="M1136.7 1319.0 L1140.7 1316.8 L1146.4 1313.8 L1151.7 1310.7 L1155.9 1308.1 L1159.8 1305.5 L1163.3 1302.3 L1163.3 1302.3 M1177.8 1266.6 L1178.8 1260.9 L1180.0 1255.7 L1181.4 1251.3 L1183.0 1247.5 L1185.0 1244.0 L1187.3 1241.0 L1189.9 1238.3 L1193.3 1235.7 L1197.8 1232.8 L1203.1 1229.9 L1208.3 1227.3 L1213.4 1225.4 L1218.5 1223.9 L1223.3 1222.3 L1227.9 1220.8 L1232.3 1219.2 L1236.7 1217.3 L1241.2 1214.9 L1245.7 1212.1 L1250.0 1209.0 L1254.0 1205.3 L1257.8 1201.2 L1261.7 1197.3 L1265.4 1193.8 L1269.2 1190.4 L1273.3 1187.3 L1278.0 1184.7 L1283.1 1182.5 L1288.3 1180.7 L1293.9 1179.1 L1299.6 1178.0 L1305.0 1177.3 L1309.8 1177.3 L1314.1 1177.9 L1318.3 1179.0 L1322.5 1180.7 L1326.4 1183.0 L1330.0 1185.7 L1333.2 1188.6 L1336.0 1192.0 L1338.3 1195.7 L1340.2 1199.8 L1341.5 1204.3 L1342.5 1209.0 L1343.1 1213.9 L1343.4 1218.9 L1343.3 1224.0 L1342.8 1229.1 L1341.9 1234.1 L1340.8 1239.0 L1339.7 1243.5 L1338.4 1247.8 L1336.7 1252.3 L1334.3 1257.3 L1331.5 1262.5 L1328.3 1267.3 L1324.8 1271.6 L1320.8 1275.5 L1316.7 1279.0 L1312.2 1282.0 L1307.6 1284.6 L1303.3 1287.3 L1299.6 1290.4 L1296.3 1293.7 L1293.3 1297.3 L1290.7 1301.5 L1288.4 1306.1 L1286.7 1310.7 L1285.5 1315.4 L1284.9 1320.0 L1285.0 1324.0 L1285.0 1324.0" fill="none" stroke="#000" stroke-width="2.00"/>
<path d="M1413.3 1337.3 L1423.3 1330.7 L1446.7 1329.0 L1471.7 1328.2 L1490.0 1324.0" fill="none" stroke="#000" stroke-width="2.00"/>
<path d="M1468.3 1200.7 L1473.3 1174.0 L1484.2 1197.3 L1484.2 1197.3" fill="none" stroke="#000" stroke-width="2.00"/>
<g transform="translate(906.0 920.0) rotate(-10.0)"><text x="-23.22" y="10.66" font-size="30.95" textLength="46.44" lengthAdjust="spacingAndGlyphs" fill="#000">0.0</text></g>
<g transform="translate(260.5 381.0) rotate(90.0)"><text x="-23.22" y="10.66" font-size="30.95" textLength="46.44" lengthAdjust="spacingAndGlyphs" fill="#000">0.0</text></g>
<g transform="translate(1052.0 1057.0) rotate(-12.0)"><text x="-28.49" y="10.66" font-size="30.95" textLength="56.97" lengthAdjust="spacingAndGlyphs" fill="#000">-0.2</text></g>
<g transform="translate(988.0 1135.0) rotate(78.0)"><text x="-28.49" y="10.66" font-size="30.95" textLength="56.97" lengthAdjust="spacingAndGlyphs" fill="#000">-1.0</text></g>
<g transform="translate(1052.0 1210.0) rotate(-38.0)"><text x="-28.49" y="10.66" font-size="30.95" textLength="56.97" lengthAdjust="spacingAndGlyphs" fill="#000">-5.0</text></g>
<g transform="translate(1128.0 1245.0) rotate(75.0)"><text x="-28.49" y="10.66" font-size="30.95" textLength="56.97" lengthAdjust="spacingAndGlyphs" fill="#000">-3.0</text></g>
<g transform="translate(1204.0 1203.0) rotate(55.0)"><text x="-23.22" y="10.66" font-size="30.95" textLength="46.44" lengthAdjust="spacingAndGlyphs" fill="#000">0.2</text></g>
<g transform="translate(905.0 1275.0) rotate(80.0)"><text x="-23.22" y="10.66" font-size="30.95" textLength="46.44" lengthAdjust="spacingAndGlyphs" fill="#000">0.6</text></g>
<g transform="translate(283.0 1250.0) rotate(93.0)"><text x="-28.49" y="10.66" font-size="30.95" textLength="56.97" lengthAdjust="spacingAndGlyphs" fill="#000">-0.6</text></g>
<g transform="translate(599.0 1051.0) rotate(-5.0)"><text x="-23.22" y="10.66" font-size="30.95" textLength="46.44" lengthAdjust="spacingAndGlyphs" fill="#000">0.2</text></g>
<g transform="translate(417.0 1267.0) rotate(-75.0)"><text x="-9.29" y="10.66" font-size="30.95" textLength="18.58" lengthAdjust="spacingAndGlyphs" fill="#000">0</text></g>
<g transform="translate(446.0 1300.0) rotate(-60.0)"><text x="-9.29" y="10.66" font-size="30.95" textLength="18.58" lengthAdjust="spacingAndGlyphs" fill="#000">0</text></g>
<g transform="translate(478.0 1325.0) rotate(-50.0)"><text x="-9.29" y="10.66" font-size="30.95" textLength="18.58" lengthAdjust="spacingAndGlyphs" fill="#000">0</text></g>
<g transform="translate(838.0 1092.0) rotate(-60.0)"><text x="-9.29" y="10.66" font-size="30.95" textLength="18.58" lengthAdjust="spacingAndGlyphs" fill="#000">0</text></g>
<g transform="translate(785.0 1302.0) rotate(-70.0)"><text x="-9.29" y="10.66" font-size="30.95" textLength="18.58" lengthAdjust="spacingAndGlyphs" fill="#000">0</text></g>
<g transform="translate(727.0 1150.0) rotate(-50.0)"><text x="-9.29" y="10.66" font-size="30.95" textLength="18.58" lengthAdjust="spacingAndGlyphs" fill="#000">0</text></g>
<g transform="translate(754.0 1131.0) rotate(-55.0)"><text x="-9.29" y="10.66" font-size="30.95" textLength="18.58" lengthAdjust="spacingAndGlyphs" fill="#000">0</text></g>
<g transform="translate(541.0 1131.0) rotate(22.0)"><text x="-23.22" y="10.66" font-size="30.95" textLength="46.44" lengthAdjust="spacingAndGlyphs" fill="#000">3.0</text></g>
<g transform="translate(613.0 1144.0) rotate(-3.0)"><text x="-23.22" y="10.66" font-size="30.95" textLength="46.44" lengthAdjust="spacingAndGlyphs" fill="#000">5.0</text></g>
<g transform="translate(858.0 1113.0) rotate(-52.0)"><text x="-23.22" y="10.66" font-size="30.95" textLength="46.44" lengthAdjust="spacingAndGlyphs" fill="#000">0.6</text></g>
<g transform="translate(830.0 1158.0) rotate(-82.0)"><text x="-23.22" y="10.66" font-size="30.95" textLength="46.44" lengthAdjust="spacingAndGlyphs" fill="#000">1.0</text></g>
<g transform="translate(1183.0 1292.0) rotate(82.0)"><text x="-23.22" y="10.66" font-size="30.95" textLength="46.44" lengthAdjust="spacingAndGlyphs" fill="#000">1.0</text></g>
<g transform="translate(1465.0 1226.0) rotate(-88.0)"><text x="-23.22" y="10.66" font-size="30.95" textLength="46.44" lengthAdjust="spacingAndGlyphs" fill="#000">0.0</text></g>
<g transform="translate(1357.0 1032.0) rotate(-3.0)"><text x="-23.22" y="10.66" font-size="30.95" textLength="46.44" lengthAdjust="spacingAndGlyphs" fill="#000">0.0</text></g>
<g transform="translate(1461.0 297.0) rotate(0.0)"><text x="-23.22" y="10.66" font-size="30.95" textLength="46.44" lengthAdjust="spacingAndGlyphs" fill="#000">0.0</text></g>
<g fill="none" stroke="#000" stroke-width="2.7"><ellipse cx="235.2" cy="1316.6" rx="7.2" ry="10.8" transform="rotate(-23 235.2 1316.6)"/><ellipse cx="268.2" cy="1282.7" rx="7.2" ry="10.8" transform="rotate(-88 268.2 1282.7)"/><ellipse cx="237.0" cy="1294.6" rx="7.2" ry="10.8" transform="rotate(89 237.0 1294.6)"/><ellipse cx="269.0" cy="1339.6" rx="7.2" ry="10.8" transform="rotate(4 269.0 1339.6)"/><ellipse cx="272.1" cy="1282.5" rx="7.2" ry="10.8" transform="rotate(46 272.1 1282.5)"/><ellipse cx="276.1" cy="1340.4" rx="7.2" ry="10.8" transform="rotate(39 276.1 1340.4)"/><ellipse cx="248.6" cy="1334.9" rx="7.2" ry="10.8" transform="rotate(-10 248.6 1334.9)"/><ellipse cx="289.7" cy="1284.9" rx="7.2" ry="10.8" transform="rotate(-66 289.7 1284.9)"/><ellipse cx="258.1" cy="1305.4" rx="7.2" ry="10.8" transform="rotate(-27 258.1 1305.4)"/><ellipse cx="287.8" cy="1348.4" rx="7.2" ry="10.8" transform="rotate(31 287.8 1348.4)"/><ellipse cx="275.7" cy="1293.0" rx="7.2" ry="10.8" transform="rotate(60 275.7 1293.0)"/><ellipse cx="222.5" cy="1334.8" rx="7.2" ry="10.8" transform="rotate(-16 222.5 1334.8)"/><ellipse cx="267.2" cy="1281.2" rx="7.2" ry="10.8" transform="rotate(39 267.2 1281.2)"/><ellipse cx="241.3" cy="1283.5" rx="7.2" ry="10.8" transform="rotate(18 241.3 1283.5)"/><ellipse cx="218.6" cy="1339.6" rx="7.2" ry="10.8" transform="rotate(-34 218.6 1339.6)"/><ellipse cx="291.2" cy="1304.8" rx="7.2" ry="10.8" transform="rotate(-7 291.2 1304.8)"/><ellipse cx="295.0" cy="1314.0" rx="7.2" ry="10.8" transform="rotate(-12 295.0 1314.0)"/><ellipse cx="235.2" cy="1299.4" rx="7.2" ry="10.8" transform="rotate(86 235.2 1299.4)"/><ellipse cx="216.7" cy="1321.7" rx="7.2" ry="10.8" transform="rotate(24 216.7 1321.7)"/><ellipse cx="275.1" cy="1330.4" rx="7.2" ry="10.8" transform="rotate(-86 275.1 1330.4)"/><ellipse cx="265.4" cy="1300.7" rx="7.2" ry="10.8" transform="rotate(-24 265.4 1300.7)"/><ellipse cx="280.6" cy="1279.9" rx="7.2" ry="10.8" transform="rotate(12 280.6 1279.9)"/><ellipse cx="241.4" cy="1293.8" rx="7.2" ry="10.8" transform="rotate(55 241.4 1293.8)"/><ellipse cx="242.4" cy="1301.7" rx="7.2" ry="10.8" transform="rotate(60 242.4 1301.7)"/><ellipse cx="290.2" cy="1310.0" rx="7.2" ry="10.8" transform="rotate(-49 290.2 1310.0)"/><ellipse cx="230.6" cy="1297.8" rx="7.2" ry="10.8" transform="rotate(55 230.6 1297.8)"/><ellipse cx="394.8" cy="1313.6" rx="7.2" ry="10.8" transform="rotate(-67 394.8 1313.6)"/><ellipse cx="344.6" cy="1317.1" rx="7.2" ry="10.8" transform="rotate(76 344.6 1317.1)"/><ellipse cx="346.5" cy="1346.3" rx="7.2" ry="10.8" transform="rotate(77 346.5 1346.3)"/><ellipse cx="327.6" cy="1313.4" rx="7.2" ry="10.8" transform="rotate(-49 327.6 1313.4)"/><ellipse cx="407.5" cy="1332.5" rx="7.2" ry="10.8" transform="rotate(76 407.5 1332.5)"/><ellipse cx="407.0" cy="1326.2" rx="7.2" ry="10.8" transform="rotate(-88 407.0 1326.2)"/><ellipse cx="312.3" cy="1311.2" rx="7.2" ry="10.8" transform="rotate(29 312.3 1311.2)"/><ellipse cx="322.8" cy="1341.5" rx="7.2" ry="10.8" transform="rotate(-4 322.8 1341.5)"/><ellipse cx="335.7" cy="1305.7" rx="7.2" ry="10.8" transform="rotate(6 335.7 1305.7)"/><ellipse cx="312.3" cy="1337.8" rx="7.2" ry="10.8" transform="rotate(76 312.3 1337.8)"/><ellipse cx="397.1" cy="1295.4" rx="7.2" ry="10.8" transform="rotate(23 397.1 1295.4)"/><ellipse cx="296.5" cy="1309.7" rx="7.2" ry="10.8" transform="rotate(-42 296.5 1309.7)"/><ellipse cx="297.1" cy="1301.9" rx="7.2" ry="10.8" transform="rotate(-68 297.1 1301.9)"/><ellipse cx="331.1" cy="1312.0" rx="7.2" ry="10.8" transform="rotate(-27 331.1 1312.0)"/><ellipse cx="366.3" cy="1314.5" rx="7.2" ry="10.8" transform="rotate(-56 366.3 1314.5)"/><ellipse cx="300.4" cy="1304.6" rx="7.2" ry="10.8" transform="rotate(-23 300.4 1304.6)"/><ellipse cx="391.7" cy="1315.5" rx="7.2" ry="10.8" transform="rotate(54 391.7 1315.5)"/><ellipse cx="346.1" cy="1315.1" rx="7.2" ry="10.8" transform="rotate(-1 346.1 1315.1)"/><ellipse cx="344.7" cy="1332.5" rx="7.2" ry="10.8" transform="rotate(-7 344.7 1332.5)"/><ellipse cx="345.4" cy="1342.5" rx="7.2" ry="10.8" transform="rotate(79 345.4 1342.5)"/><ellipse cx="306.0" cy="1338.9" rx="7.2" ry="10.8" transform="rotate(29 306.0 1338.9)"/><ellipse cx="393.0" cy="1331.0" rx="7.2" ry="10.8" transform="rotate(42 393.0 1331.0)"/><ellipse cx="249.8" cy="1291.8" rx="7.2" ry="10.8" transform="rotate(-73 249.8 1291.8)"/><ellipse cx="220.5" cy="1323.8" rx="7.2" ry="10.8" transform="rotate(31 220.5 1323.8)"/><ellipse cx="257.9" cy="1313.2" rx="7.2" ry="10.8" transform="rotate(54 257.9 1313.2)"/><ellipse cx="248.7" cy="1327.4" rx="7.2" ry="10.8" transform="rotate(-79 248.7 1327.4)"/><ellipse cx="226.2" cy="1314.6" rx="7.2" ry="10.8" transform="rotate(46 226.2 1314.6)"/><ellipse cx="218.7" cy="1310.0" rx="7.2" ry="10.8" transform="rotate(85 218.7 1310.0)"/><ellipse cx="554.8" cy="1342.7" rx="7.2" ry="10.8" transform="rotate(-3 554.8 1342.7)"/><ellipse cx="599.5" cy="1337.9" rx="7.2" ry="10.8" transform="rotate(-73 599.5 1337.9)"/><ellipse cx="603.3" cy="1342.7" rx="7.2" ry="10.8" transform="rotate(-10 603.3 1342.7)"/><ellipse cx="457.2" cy="1339.5" rx="7.2" ry="10.8" transform="rotate(-54 457.2 1339.5)"/><ellipse cx="479.2" cy="1345.2" rx="7.2" ry="10.8" transform="rotate(-16 479.2 1345.2)"/><ellipse cx="536.9" cy="1339.5" rx="7.2" ry="10.8" transform="rotate(-51 536.9 1339.5)"/><ellipse cx="484.4" cy="1346.1" rx="7.2" ry="10.8" transform="rotate(-64 484.4 1346.1)"/><ellipse cx="515.9" cy="1343.8" rx="7.2" ry="10.8" transform="rotate(-6 515.9 1343.8)"/><ellipse cx="973.2" cy="1343.2" rx="7.2" ry="10.8" transform="rotate(-3 973.2 1343.2)"/><ellipse cx="978.5" cy="1341.2" rx="7.2" ry="10.8" transform="rotate(42 978.5 1341.2)"/><ellipse cx="920.1" cy="1339.0" rx="7.2" ry="10.8" transform="rotate(-48 920.1 1339.0)"/><ellipse cx="951.3" cy="1348.5" rx="7.2" ry="10.8" transform="rotate(64 951.3 1348.5)"/><ellipse cx="978.8" cy="1347.7" rx="7.2" ry="10.8" transform="rotate(-44 978.8 1347.7)"/><ellipse cx="897.0" cy="1341.5" rx="7.2" ry="10.8" transform="rotate(41 897.0 1341.5)"/><ellipse cx="937.0" cy="1344.8" rx="7.2" ry="10.8" transform="rotate(-89 937.0 1344.8)"/><ellipse cx="993.3" cy="1341.1" rx="7.2" ry="10.8" transform="rotate(8 993.3 1341.1)"/><ellipse cx="1118.1" cy="1339.1" rx="7.2" ry="10.8" transform="rotate(79 1118.1 1339.1)"/><ellipse cx="1085.0" cy="1346.9" rx="7.2" ry="10.8" transform="rotate(-42 1085.0 1346.9)"/><ellipse cx="1125.0" cy="1345.4" rx="7.2" ry="10.8" transform="rotate(7 1125.0 1345.4)"/><ellipse cx="1073.6" cy="1340.0" rx="7.2" ry="10.8" transform="rotate(26 1073.6 1340.0)"/><ellipse cx="1023.3" cy="1347.8" rx="7.2" ry="10.8" transform="rotate(28 1023.3 1347.8)"/><ellipse cx="1231.6" cy="1338.8" rx="7.2" ry="10.8" transform="rotate(27 1231.6 1338.8)"/><ellipse cx="1258.3" cy="1338.5" rx="7.2" ry="10.8" transform="rotate(43 1258.3 1338.5)"/><ellipse cx="1215.8" cy="1331.7" rx="7.2" ry="10.8" transform="rotate(48 1215.8 1331.7)"/><ellipse cx="1190.0" cy="1345.5" rx="7.2" ry="10.8" transform="rotate(-70 1190.0 1345.5)"/><ellipse cx="1161.4" cy="1330.4" rx="7.2" ry="10.8" transform="rotate(-15 1161.4 1330.4)"/><ellipse cx="1268.7" cy="1343.2" rx="7.2" ry="10.8" transform="rotate(17 1268.7 1343.2)"/><ellipse cx="1164.4" cy="1331.8" rx="7.2" ry="10.8" transform="rotate(51 1164.4 1331.8)"/><ellipse cx="1223.9" cy="1339.4" rx="7.2" ry="10.8" transform="rotate(24 1223.9 1339.4)"/><ellipse cx="1246.7" cy="1332.9" rx="7.2" ry="10.8" transform="rotate(65 1246.7 1332.9)"/><ellipse cx="1242.5" cy="1337.3" rx="7.2" ry="10.8" transform="rotate(4 1242.5 1337.3)"/><ellipse cx="1239.8" cy="1336.2" rx="7.2" ry="10.8" transform="rotate(12 1239.8 1336.2)"/><ellipse cx="1281.6" cy="1329.1" rx="7.2" ry="10.8" transform="rotate(53 1281.6 1329.1)"/><ellipse cx="1138.6" cy="1334.3" rx="7.2" ry="10.8" transform="rotate(-48 1138.6 1334.3)"/><ellipse cx="1248.1" cy="1329.1" rx="7.2" ry="10.8" transform="rotate(64 1248.1 1329.1)"/><ellipse cx="1287.6" cy="1342.5" rx="7.2" ry="10.8" transform="rotate(43 1287.6 1342.5)"/><ellipse cx="1258.7" cy="1337.2" rx="7.2" ry="10.8" transform="rotate(-70 1258.7 1337.2)"/><ellipse cx="1248.9" cy="1338.4" rx="7.2" ry="10.8" transform="rotate(-14 1248.9 1338.4)"/><ellipse cx="1181.8" cy="1336.7" rx="7.2" ry="10.8" transform="rotate(46 1181.8 1336.7)"/><ellipse cx="1366.8" cy="1336.3" rx="7.2" ry="10.8" transform="rotate(17 1366.8 1336.3)"/><ellipse cx="1382.8" cy="1327.3" rx="7.2" ry="10.8" transform="rotate(-52 1382.8 1327.3)"/><ellipse cx="1330.3" cy="1335.2" rx="7.2" ry="10.8" transform="rotate(-79 1330.3 1335.2)"/><ellipse cx="1372.6" cy="1332.7" rx="7.2" ry="10.8" transform="rotate(-85 1372.6 1332.7)"/><ellipse cx="1339.4" cy="1324.5" rx="7.2" ry="10.8" transform="rotate(-5 1339.4 1324.5)"/><ellipse cx="1431.0" cy="1329.4" rx="7.2" ry="10.8" transform="rotate(52 1431.0 1329.4)"/><ellipse cx="1446.6" cy="1339.0" rx="7.2" ry="10.8" transform="rotate(-28 1446.6 1339.0)"/></g>
<path d="M286.1 1311.8 l10.0 1.1 M240.6 1280.2 l14.0 4.2 M297.1 1309.0 l12.2 1.2 M264.7 1342.2 l20.8 3.0 M288.2 1346.5 l15.1 5.1 M239.2 1282.5 l21.0 6.1 M240.0 1332.6 l8.2 2.5 M289.9 1347.6 l22.0 0.1 M231.8 1307.0 l10.1 0.9 M269.7 1320.3 l16.7 0.8 M261.6 1278.8 l16.1 -1.1 M268.3 1311.1 l12.8 1.8 M272.5 1346.4 l14.1 -2.8 M246.4 1320.3 l13.1 -2.1 M230.9 1308.9 l9.3 1.5 M287.7 1290.0 l17.0 -2.2 M260.0 1291.5 l19.1 4.8 M393.2 1309.6 l13.7 -1.7 M290.6 1345.9 l20.8 6.5 M386.9 1340.2 l15.1 2.0 M366.5 1310.5 l8.4 2.1 M343.8 1345.7 l12.7 1.1 M345.0 1320.5 l7.8 1.8 M416.7 1341.1 l14.2 -4.9 M306.1 1325.0 l13.1 2.3 M359.7 1332.5 l13.1 -4.7 M406.7 1337.7 l14.2 -2.7 M303.4 1326.7 l9.2 -3.9 M254.6 1297.2 l18.4 -7.4 M249.5 1310.5 l9.4 1.6 M240.4 1323.1 l10.3 -2.2 M231.5 1305.9 l13.8 -1.7 M248.6 1296.4 l18.4 2.8 M483.0 1339.0 l21.1 3.3 M515.9 1341.0 l12.6 -3.4 M878.4 1339.4 l17.3 -4.4 M863.9 1346.8 l12.8 -2.2 M915.4 1342.3 l15.8 -3.7 M891.2 1344.7 l19.4 -6.2 M1100.4 1346.3 l17.2 -2.8 M1064.2 1341.9 l17.2 3.0 M1121.1 1339.6 l17.9 -2.4 M1183.1 1330.1 l17.0 -6.1 M1175.2 1334.8 l8.2 2.5 M1186.6 1335.3 l18.8 0.6 M1146.9 1328.6 l17.7 4.0 M1197.7 1330.5 l16.0 0.4 M1266.5 1346.5 l12.5 4.7 M1232.2 1342.7 l17.3 -7.3 M1162.9 1338.2 l14.0 -5.4 M1221.6 1347.4 l20.0 -2.8 M1267.1 1347.4 l13.5 4.0 M1143.3 1330.6 l14.4 -4.0 M1160.7 1346.7 l12.9 2.3 M1300.5 1327.6 l9.8 2.2 M1372.7 1326.5 l8.9 -3.5 M1380.6 1333.0 l8.6 1.4 M1412.0 1331.4 l8.3 -2.6 M1467.9 1330.1 l11.5 -2.3 M1422.8 1348.2 l8.0 0.6" fill="none" stroke="#000" stroke-width="2.2"/>
</g>
<rect x="192.5" y="299.0" width="1297.0" height="1050.0" fill="none" stroke="#000" stroke-width="3.33"/>
<text x="213.53" y="1409.00" font-size="44.17" textLength="87.93" lengthAdjust="spacingAndGlyphs" fill="#000">−80</text>
<text x="359.23" y="1409.00" font-size="44.17" textLength="87.93" lengthAdjust="spacingAndGlyphs" fill="#000">−60</text>
<text x="504.93" y="1409.00" font-size="44.17" textLength="87.93" lengthAdjust="spacingAndGlyphs" fill="#000">−40</text>
<text x="650.63" y="1409.00" font-size="44.17" textLength="87.93" lengthAdjust="spacingAndGlyphs" fill="#000">−20</text>
<text x="827.05" y="1409.00" font-size="44.17" textLength="26.51" lengthAdjust="spacingAndGlyphs" fill="#000">0</text>
<text x="959.49" y="1409.00" font-size="44.17" textLength="53.02" lengthAdjust="spacingAndGlyphs" fill="#000">20</text>
<text x="1105.19" y="1409.00" font-size="44.17" textLength="53.02" lengthAdjust="spacingAndGlyphs" fill="#000">40</text>
<text x="1250.89" y="1409.00" font-size="44.17" textLength="53.02" lengthAdjust="spacingAndGlyphs" fill="#000">60</text>
<text x="1396.59" y="1409.00" font-size="44.17" textLength="53.02" lengthAdjust="spacingAndGlyphs" fill="#000">80</text>
<path d="M257.5 1349.0 v14.6 M403.2 1349.0 v14.6 M548.9 1349.0 v14.6 M694.6 1349.0 v14.6 M840.3 1349.0 v14.6 M986.0 1349.0 v14.6 M1131.7 1349.0 v14.6 M1277.4 1349.0 v14.6 M1423.1 1349.0 v14.6" stroke="#000" stroke-width="3.33" fill="none"/>
<text x="68.98" y="314.50" font-size="44.17" textLength="53.02" lengthAdjust="spacingAndGlyphs" fill="#000">10</text>
<text x="123.70" y="299.50" font-size="30.92" textLength="19.10" lengthAdjust="spacingAndGlyphs" fill="#000">−</text>
<text x="145.00" y="299.50" font-size="30.92" textLength="18.56" lengthAdjust="spacingAndGlyphs" fill="#000">1</text>
<text x="90.98" y="577.00" font-size="44.17" textLength="53.02" lengthAdjust="spacingAndGlyphs" fill="#000">10</text>
<text x="145.00" y="562.00" font-size="30.92" textLength="18.56" lengthAdjust="spacingAndGlyphs" fill="#000">0</text>
<text x="90.98" y="839.50" font-size="44.17" textLength="53.02" lengthAdjust="spacingAndGlyphs" fill="#000">10</text>
<text x="145.00" y="824.50" font-size="30.92" textLength="18.56" lengthAdjust="spacingAndGlyphs" fill="#000">1</text>
<text x="90.98" y="1102.00" font-size="44.17" textLength="53.02" lengthAdjust="spacingAndGlyphs" fill="#000">10</text>
<text x="145.00" y="1087.00" font-size="30.92" textLength="18.56" lengthAdjust="spacingAndGlyphs" fill="#000">2</text>
<text x="90.98" y="1364.50" font-size="44.17" textLength="53.02" lengthAdjust="spacingAndGlyphs" fill="#000">10</text>
<text x="145.00" y="1349.50" font-size="30.92" textLength="18.56" lengthAdjust="spacingAndGlyphs" fill="#000">3</text>
<path d="M192.5 299.0 h-14.6 M192.5 561.5 h-14.6 M192.5 824.0 h-14.6 M192.5 1086.5 h-14.6 M192.5 1349.0 h-14.6" stroke="#000" stroke-width="3.33" fill="none"/>
<path d="M192.5 378.0 h-8.3 M192.5 424.2 h-8.3 M192.5 457.0 h-8.3 M192.5 482.5 h-8.3 M192.5 503.3 h-8.3 M192.5 520.8 h-8.3 M192.5 536.1 h-8.3 M192.5 549.5 h-8.3 M192.5 640.5 h-8.3 M192.5 686.7 h-8.3 M192.5 719.5 h-8.3 M192.5 745.0 h-8.3 M192.5 765.8 h-8.3 M192.5 783.3 h-8.3 M192.5 798.6 h-8.3 M192.5 812.0 h-8.3 M192.5 903.0 h-8.3 M192.5 949.2 h-8.3 M192.5 982.0 h-8.3 M192.5 1007.5 h-8.3 M192.5 1028.3 h-8.3 M192.5 1045.8 h-8.3 M192.5 1061.1 h-8.3 M192.5 1074.5 h-8.3 M192.5 1165.5 h-8.3 M192.5 1211.7 h-8.3 M192.5 1244.5 h-8.3 M192.5 1270.0 h-8.3 M192.5 1290.8 h-8.3 M192.5 1308.3 h-8.3 M192.5 1323.6 h-8.3 M192.5 1337.0 h-8.3" stroke="#000" stroke-width="2.50" fill="none"/>
<text x="755.26" y="1466.90" font-size="44.17" textLength="171.49" lengthAdjust="spacingAndGlyphs" fill="#000">Latitude</text>
<rect x="1496.6" y="1253.25" width="52.4" height="48.33" fill="#3a54a4"/>
<rect x="1496.6" y="1205.52" width="52.4" height="48.33" fill="#4471b2"/>
<rect x="1496.6" y="1157.79" width="52.4" height="48.33" fill="#588cc0"/>
<rect x="1496.6" y="1110.06" width="52.4" height="48.33" fill="#6ea6ce"/>
<rect x="1496.6" y="1062.34" width="52.4" height="48.33" fill="#87bdd9"/>
<rect x="1496.6" y="1014.61" width="52.4" height="48.33" fill="#a1d1e5"/>
<rect x="1496.6" y="966.88" width="52.4" height="48.33" fill="#bde2ee"/>
<rect x="1496.6" y="919.15" width="52.4" height="48.33" fill="#d6eef5"/>
<rect x="1496.6" y="871.43" width="52.4" height="48.33" fill="#e9f6e8"/>
<rect x="1496.6" y="823.70" width="52.4" height="48.33" fill="#f7fcce"/>
<rect x="1496.6" y="775.97" width="52.4" height="48.33" fill="#fff8b5"/>
<rect x="1496.6" y="728.25" width="52.4" height="48.33" fill="#feea9f"/>
<rect x="1496.6" y="680.52" width="52.4" height="48.33" fill="#fed889"/>
<rect x="1496.6" y="632.79" width="52.4" height="48.33" fill="#fdbf71"/>
<rect x="1496.6" y="585.06" width="52.4" height="48.33" fill="#fca55d"/>
<rect x="1496.6" y="537.34" width="52.4" height="48.33" fill="#f8864f"/>
<rect x="1496.6" y="489.61" width="52.4" height="48.33" fill="#f26841"/>
<rect x="1496.6" y="441.88" width="52.4" height="48.33" fill="#e44c34"/>
<rect x="1496.6" y="394.15" width="52.4" height="48.33" fill="#d62f27"/>
<rect x="1496.6" y="346.43" width="52.4" height="48.33" fill="#be1827"/>
<path d="M1496.6 1301.6 L1549.0 1301.6 L1522.8 1349.0 Z" fill="#313695"/>
<path d="M1496.6 346.4 L1549.0 346.4 L1522.8 299.0 Z" fill="#a50026"/>
<path d="M1496.6 1301.3 L1522.8 1349.0 L1549.0 1301.3 L1549.0 346.7 L1522.8 299.0 L1496.6 346.7 Z" fill="none" stroke="#000" stroke-width="3.33" stroke-linejoin="miter"/>
<text x="1578.67" y="1268.95" font-size="44.17" textLength="101.18" lengthAdjust="spacingAndGlyphs" fill="#000">−4.0</text>
<text x="1578.67" y="1125.76" font-size="44.17" textLength="101.18" lengthAdjust="spacingAndGlyphs" fill="#000">−1.0</text>
<text x="1578.67" y="982.58" font-size="44.17" textLength="101.18" lengthAdjust="spacingAndGlyphs" fill="#000">−0.4</text>
<text x="1578.67" y="839.40" font-size="44.17" textLength="66.26" lengthAdjust="spacingAndGlyphs" fill="#000">0.0</text>
<text x="1578.67" y="696.22" font-size="44.17" textLength="66.26" lengthAdjust="spacingAndGlyphs" fill="#000">0.4</text>
<text x="1578.67" y="553.04" font-size="44.17" textLength="66.26" lengthAdjust="spacingAndGlyphs" fill="#000">1.0</text>
<text x="1578.67" y="409.85" font-size="44.17" textLength="66.26" lengthAdjust="spacingAndGlyphs" fill="#000">4.0</text>
<path d="M1549.0 1253.5 h14.6 M1549.0 1110.4 h14.6 M1549.0 967.2 h14.6 M1549.0 824.0 h14.6 M1549.0 680.8 h14.6 M1549.0 537.6 h14.6 M1549.0 394.5 h14.6" stroke="#000" stroke-width="3.33" fill="none"/>
<path d="M1549.0 1301.3 h8.3 M1549.0 1205.8 h8.3 M1549.0 1158.1 h8.3 M1549.0 1062.6 h8.3 M1549.0 1014.9 h8.3 M1549.0 919.5 h8.3 M1549.0 871.7 h8.3 M1549.0 776.3 h8.3 M1549.0 728.5 h8.3 M1549.0 633.1 h8.3 M1549.0 585.4 h8.3 M1549.0 489.9 h8.3 M1549.0 442.2 h8.3 M1549.0 346.7 h8.3" stroke="#000" stroke-width="2.50" fill="none"/>
<text x="1470.35" y="288.40" font-size="44.17" textLength="78.65" lengthAdjust="spacingAndGlyphs" fill="#000">1e7</text>
<g clip-path="url(#c1)">
<rect x="1911.5" y="299.0" width="1297.0" height="1050.0" fill="#fff8b5"/>
<path d="M2096.5 905.0C2096.1 892.5 2096.9 877.5 2099.0 865.0C2101.1 852.5 2104.0 841.7 2109.0 830.0C2114.0 818.3 2119.8 805.0 2129.0 795.0C2138.2 785.0 2151.9 776.1 2164.0 770.0C2176.1 763.9 2190.2 758.5 2201.5 758.5C2212.8 758.5 2224.4 763.1 2231.5 770.0C2238.6 776.9 2240.7 788.3 2244.0 800.0C2247.3 811.7 2250.0 825.0 2251.5 840.0C2253.0 855.0 2251.8 873.3 2253.0 890.0C2254.2 906.7 2255.5 925.0 2259.0 940.0C2262.5 955.0 2267.3 968.3 2274.0 980.0C2280.7 991.7 2289.0 1001.7 2299.0 1010.0C2309.0 1018.3 2321.5 1024.6 2334.0 1030.0C2346.5 1035.4 2359.0 1038.8 2374.0 1042.5C2389.0 1046.2 2407.3 1049.2 2424.0 1052.5C2440.7 1055.8 2459.8 1058.8 2474.0 1062.5C2488.2 1066.2 2498.7 1070.6 2509.0 1075.0C2519.3 1079.4 2525.7 1085.6 2535.7 1089.0C2545.7 1092.4 2557.9 1094.3 2569.0 1095.7C2580.1 1097.1 2591.2 1096.5 2602.3 1097.3C2613.4 1098.2 2626.5 1099.1 2635.7 1100.7C2644.8 1102.2 2651.2 1104.0 2657.3 1106.5C2663.4 1109.0 2668.4 1111.9 2672.3 1115.7C2676.2 1119.4 2679.0 1124.3 2680.7 1129.0C2682.3 1133.7 2682.6 1139.0 2682.3 1144.0C2682.1 1149.0 2681.2 1154.0 2679.0 1159.0C2676.8 1164.0 2672.9 1169.3 2669.0 1174.0C2665.1 1178.7 2660.7 1183.4 2655.7 1187.3C2650.7 1191.2 2645.1 1194.3 2639.0 1197.3C2632.9 1200.4 2626.8 1203.9 2619.0 1205.7C2611.2 1207.5 2600.7 1207.3 2592.3 1208.2C2584.0 1209.0 2574.8 1209.7 2569.0 1210.7C2563.2 1211.6 2560.1 1212.6 2557.3 1214.0C2554.6 1215.4 2551.8 1216.2 2552.3 1219.0C2552.9 1221.8 2560.7 1227.3 2560.7 1230.7C2560.7 1234.0 2555.9 1236.6 2552.3 1239.0C2548.7 1241.4 2544.0 1243.4 2539.0 1244.8C2534.0 1246.2 2525.7 1245.5 2522.3 1247.3C2519.0 1249.1 2519.3 1252.6 2519.0 1255.7C2518.7 1258.7 2519.6 1262.9 2520.7 1265.7C2521.8 1268.4 2525.9 1268.7 2525.7 1272.3C2525.4 1275.9 2521.5 1283.2 2519.0 1287.3C2516.5 1291.5 2512.3 1294.6 2510.7 1297.3C2509.0 1300.1 2508.2 1300.7 2509.0 1304.0C2509.8 1307.3 2512.9 1313.6 2515.7 1317.3C2518.4 1321.1 2521.5 1324.4 2525.7 1326.5C2529.8 1328.6 2535.9 1328.7 2540.7 1329.8C2545.4 1330.9 2550.4 1331.4 2554.0 1333.2C2557.6 1335.0 2560.4 1336.9 2562.3 1340.7C2564.3 1344.4 2613.4 1353.2 2565.7 1355.7C2517.9 1358.2 2324.0 1359.0 2275.7 1355.7C2227.3 1352.3 2278.4 1339.4 2275.7 1335.7C2272.9 1331.9 2265.9 1334.3 2259.0 1333.2C2252.1 1332.1 2240.9 1331.6 2234.0 1329.0C2227.1 1326.4 2223.2 1320.7 2217.3 1317.3C2211.5 1314.0 2205.9 1312.6 2199.0 1309.0C2192.1 1305.4 2182.3 1300.7 2175.7 1295.7C2169.0 1290.7 2163.7 1284.6 2159.0 1279.0C2154.3 1273.4 2150.2 1269.0 2147.3 1262.3C2144.4 1255.7 2143.3 1247.1 2141.5 1239.0C2139.7 1230.9 2137.8 1223.7 2136.5 1214.0C2135.2 1204.3 2134.7 1190.1 2134.0 1180.7C2133.3 1171.2 2132.9 1164.8 2132.3 1157.3C2131.8 1149.8 2131.2 1143.4 2130.7 1135.7C2130.1 1127.9 2129.6 1118.4 2129.0 1110.7C2128.4 1102.9 2128.2 1095.1 2127.3 1089.0C2126.5 1082.9 2125.1 1078.2 2124.0 1074.0C2122.9 1069.8 2117.3 1063.0 2120.7 1064.0C2124.0 1065.0 2139.7 1084.0 2144.0 1080.0C2148.3 1076.0 2147.3 1051.7 2146.5 1040.0C2145.7 1028.3 2143.6 1020.8 2139.0 1010.0C2134.4 999.2 2125.2 986.7 2119.0 975.0C2112.8 963.3 2105.2 951.7 2101.5 940.0C2097.8 928.3 2096.9 917.5 2096.5 905.0Z" fill="#feea9f"/>
<path d="M2421.5 297.5 L2429.0 327.5 L2437.5 354.0 L2436.5 405.0 L2449.0 425.0 L2464.0 446.0 L2479.0 457.5 L2494.0 473.5 L2479.0 487.5 L2474.0 494.0 L2479.0 512.5 L2484.0 535.0 L2486.5 551.0 L2509.0 572.5 L2534.0 585.0 L2540.5 600.0 L2549.0 620.0 L2566.5 632.5 L2584.0 659.0 L2589.0 672.5 L2583.0 702.5 L2549.0 719.0 L2538.0 726.0 L2524.0 721.0 L2506.5 730.0 L2481.5 744.0 L2469.0 757.5 L2446.5 775.0 L2436.5 787.5 L2431.5 805.0 L2434.0 820.0 L2441.5 837.5 L2449.0 855.0 L2451.5 870.0 L2464.0 895.0 L2484.0 903.5 L2509.0 910.0 L2536.5 919.0 L2535.0 928.5 L2511.5 935.0 L2506.5 942.5 L2521.5 952.5 L2538.0 948.5 L2549.0 967.5 L2543.0 977.5 L2544.0 985.0 L2554.0 994.0 L2551.5 1004.0 L2524.0 1016.5 L2528.0 1026.0 L2525.0 1040.0 L2531.5 1042.5 L2546.5 1041.5 L2551.5 1036.0 L2564.0 1033.5 L2586.5 1036.5 L2604.0 1041.0 L2588.0 1049.0 L2604.0 1057.5 L2605.5 1065.0 L2586.5 1067.5 L2554.0 1069.0 L2540.5 1072.5 L2544.0 1082.5 L2559.0 1090.0 L2599.0 1092.5 L2624.0 1096.0 L2644.0 1096.0 L2664.0 1102.5 L2676.5 1115.0 L2681.5 1135.0 L2685.7 1134.0 L2684.0 1150.7 L2675.7 1167.3 L2664.0 1180.7 L2649.0 1192.3 L2632.3 1200.7 L2615.7 1206.5 L2599.0 1209.0 L2579.0 1211.5 L2567.3 1217.3 L2565.7 1224.0 L2574.0 1232.3 L2569.0 1237.3 L2555.7 1242.3 L2545.7 1247.3 L2535.7 1259.0 L2539.0 1267.3 L2560.7 1277.3 L2555.7 1285.7 L2537.3 1279.0 L2525.7 1292.3 L2517.3 1299.0 L2512.3 1304.0 L2519.0 1317.3 L2529.0 1325.7 L2545.7 1329.0 L2557.3 1332.3 L2565.7 1340.7 L2569.0 1355.7 L3212.5 1355.0 L3212.5 295.0 L2421.5 295.0Z" fill="#f7fcce"/>
<path d="M2599.0 795.0 L2611.5 790.0 L2629.0 791.0 L2644.0 795.0 L2634.0 800.0 L2611.5 807.5 L2600.0 805.0Z" fill="#fff8b5"/>
<path d="M2581.5 927.5 L2594.0 902.5 L2614.0 897.5 L2626.5 899.0 L2634.0 912.5 L2635.0 935.0 L2626.5 952.5 L2611.5 955.0 L2599.0 945.0 L2584.0 935.0Z" fill="#fff8b5"/>
<path d="M2561.5 869.0C2559.8 866.5 2573.6 867.2 2579.0 865.0C2584.4 862.8 2584.8 857.8 2594.0 856.0C2603.2 854.2 2625.7 851.7 2634.0 854.0C2642.3 856.3 2644.0 864.4 2644.0 870.0C2644.0 875.6 2637.8 884.3 2634.0 887.5C2630.2 890.7 2629.0 890.2 2621.5 889.0C2614.0 887.8 2599.0 883.3 2589.0 880.0C2579.0 876.7 2563.2 871.5 2561.5 869.0Z" fill="#fff8b5"/>
<path d="M2842.3 1342.3 L2849.0 1339.0 L2865.7 1330.7 L2890.7 1320.7 L2905.7 1312.3 L2912.3 1305.7 L2914.0 1289.0 L2912.3 1264.0 L2915.7 1247.3 L2922.3 1237.3 L2935.7 1227.3 L2945.7 1217.3 L2952.3 1197.3 L2955.7 1172.3 L2959.0 1147.3 L2962.3 1122.3 L2965.7 1105.7 L2972.3 1090.7 L2982.3 1080.7 L2990.7 1076.5 L3004.0 1074.0 L3018.2 1064.0 L3032.3 1084.0 L3049.0 1095.7 L3064.0 1109.0 L3079.0 1117.3 L3090.7 1123.2 L3099.0 1135.7 L3105.7 1146.5 L3120.7 1132.7 L3135.7 1146.8 L3149.0 1140.7 L3154.0 1152.3 L3158.2 1167.3 L3158.2 1180.7 L3154.0 1197.3 L3147.3 1214.0 L3142.3 1220.7 L3135.7 1224.0 L3130.7 1232.3 L3125.7 1244.0 L3122.3 1257.3 L3122.3 1272.3 L3124.0 1289.0 L3127.3 1305.7 L3130.7 1322.3 L3134.0 1339.0 L3134.8 1357.3 L2842.3 1357.3Z" fill="#fff8b5"/>
<path d="M3134.0 1339.0 L3139.0 1314.0 L3145.7 1289.0 L3149.0 1272.3 L3157.3 1282.3 L3164.0 1294.0 L3172.3 1285.7 L3175.7 1264.0 L3178.2 1239.0 L3178.2 1205.7 L3179.8 1172.3 L3185.7 1155.7 L3190.7 1130.7 L3193.2 1105.7 L3194.0 1079.0 L3202.3 1074.0 L3209.8 1062.3 L3210.7 1357.3 L3134.0 1357.3Z" fill="#fff8b5"/>
<path d="M3214.0 681.0 L3191.5 675.0 L3179.0 666.0 L3164.0 662.5 L3150.5 672.5 L3149.0 695.0 L3141.5 720.0 L3136.5 750.0 L3139.0 772.5 L3134.0 795.0 L3138.0 810.0 L3143.0 825.0 L3149.0 855.0 L3155.0 840.0 L3166.5 845.0 L3174.0 890.0 L3186.5 880.0 L3214.0 870.0Z" fill="#fff8b5"/>
<path d="M1906.5 297.5 L1989.0 297.5 L1981.5 320.0 L1969.0 345.0 L1955.0 360.0 L1961.5 370.0 L1971.5 377.5 L1984.0 405.0 L1999.0 427.5 L2006.5 450.0 L2015.0 475.0 L2019.0 512.5 L2014.0 540.0 L2004.0 557.5 L1989.0 570.0 L1969.0 581.0 L1954.0 582.5 L1939.0 577.5 L1924.0 581.5 L1906.5 580.0 L1906.5 546.0 L1924.0 546.5 L1940.0 551.0 L1949.0 535.0 L1954.0 530.0 L1961.0 515.0 L1962.0 497.5 L1959.0 482.5 L1955.0 468.5 L1939.0 477.5 L1926.5 476.0 L1906.5 475.0 L1906.5 460.0 L1924.0 450.0 L1934.0 415.0 L1953.0 364.0 L1934.0 340.0 L1921.5 322.5 L1910.0 301.0Z" fill="#f7fcce"/>
<path d="M2831.5 915.0C2831.9 905.8 2833.6 898.3 2836.5 890.0C2839.4 881.7 2843.6 872.5 2849.0 865.0C2854.4 857.5 2863.2 850.8 2869.0 845.0C2874.8 839.2 2878.6 836.7 2884.0 830.0C2889.4 823.3 2894.8 809.6 2901.5 805.0C2908.2 800.4 2916.1 802.1 2924.0 802.5C2931.9 802.9 2940.7 804.6 2949.0 807.5C2957.3 810.4 2965.7 813.8 2974.0 820.0C2982.3 826.2 2992.3 836.7 2999.0 845.0C3005.7 853.3 3010.0 860.8 3014.0 870.0C3018.0 879.2 3021.3 889.2 3023.0 900.0C3024.7 910.8 3025.5 924.2 3024.0 935.0C3022.5 945.8 3018.2 956.7 3014.0 965.0C3009.8 973.3 3005.7 978.3 2999.0 985.0C2992.3 991.7 2981.5 998.8 2974.0 1005.0C2966.5 1011.2 2959.8 1016.7 2954.0 1022.5C2948.2 1028.3 2942.3 1033.8 2939.0 1040.0C2935.7 1046.2 2934.6 1058.9 2934.0 1060.0C2933.4 1061.1 2933.7 1043.3 2935.7 1046.7C2937.6 1050.0 2942.9 1068.9 2945.7 1080.0C2948.4 1091.1 2950.9 1102.2 2952.3 1113.3C2953.7 1124.4 2954.3 1135.6 2954.0 1146.7C2953.7 1157.8 2952.6 1170.0 2950.7 1180.0C2948.7 1190.0 2945.7 1199.7 2942.3 1206.7C2939.0 1213.6 2934.8 1217.2 2930.7 1221.7C2926.5 1226.1 2920.7 1228.6 2917.3 1233.3C2914.0 1238.1 2912.1 1243.6 2910.7 1250.0C2909.3 1256.4 2908.7 1265.0 2909.0 1271.7C2909.3 1278.3 2911.2 1284.4 2912.3 1290.0C2913.4 1295.6 2915.4 1299.4 2915.7 1305.0C2915.9 1310.6 2971.8 1314.6 2914.0 1323.3C2856.2 1332.1 2627.1 1354.4 2569.0 1357.3C2510.9 1360.2 2567.3 1344.7 2565.7 1340.7C2564.0 1336.6 2562.3 1335.0 2559.0 1333.2C2555.7 1331.4 2550.7 1330.9 2545.7 1329.8C2540.7 1328.7 2533.4 1328.4 2529.0 1326.5C2524.6 1324.6 2521.6 1321.9 2519.0 1318.2C2516.4 1314.4 2513.2 1307.5 2513.2 1304.0C2513.2 1300.5 2516.6 1299.4 2519.0 1297.3C2521.4 1295.2 2524.0 1294.4 2527.3 1291.5C2530.7 1288.6 2534.3 1280.8 2539.0 1279.8C2543.7 1278.9 2552.1 1286.1 2555.7 1285.7C2559.3 1285.2 2563.2 1280.4 2560.7 1277.3C2558.2 1274.3 2544.6 1270.4 2540.7 1267.3C2536.8 1264.3 2536.2 1262.3 2537.3 1259.0C2538.4 1255.7 2544.0 1250.1 2547.3 1247.3C2550.7 1244.6 2553.7 1244.0 2557.3 1242.3C2560.9 1240.7 2566.2 1239.0 2569.0 1237.3C2571.8 1235.7 2574.4 1234.6 2574.0 1232.3C2573.6 1230.1 2567.5 1226.4 2566.5 1224.0C2565.5 1221.6 2566.1 1220.0 2568.2 1218.2C2570.2 1216.4 2573.9 1214.6 2579.0 1213.2C2584.1 1211.8 2592.9 1210.8 2599.0 1209.8C2605.1 1208.9 2610.1 1208.7 2615.7 1207.3C2621.2 1205.9 2626.8 1203.9 2632.3 1201.5C2637.9 1199.1 2643.7 1196.5 2649.0 1193.2C2654.3 1189.8 2659.6 1185.7 2664.0 1181.5C2668.4 1177.3 2672.6 1173.3 2675.7 1168.2C2678.7 1163.0 2680.9 1156.4 2682.3 1150.7C2683.7 1145.0 2684.4 1139.0 2684.0 1134.0C2683.6 1129.0 2682.3 1124.8 2679.8 1120.7C2677.3 1116.5 2673.6 1112.5 2669.0 1109.0C2664.4 1105.5 2659.3 1101.9 2652.3 1099.8C2645.4 1097.8 2635.7 1097.2 2627.3 1096.5C2619.0 1095.8 2610.7 1096.1 2602.3 1095.7C2594.0 1095.2 2584.3 1094.6 2577.3 1094.0C2570.4 1093.4 2565.1 1093.4 2560.7 1092.3C2556.2 1091.2 2544.3 1092.7 2550.7 1087.3C2557.1 1081.9 2585.1 1066.6 2599.0 1060.0C2612.9 1053.4 2621.5 1050.8 2634.0 1047.5C2646.5 1044.2 2654.8 1041.2 2674.0 1040.0C2693.2 1038.8 2727.3 1040.0 2749.0 1040.0C2770.7 1040.0 2790.2 1042.1 2804.0 1040.0C2817.8 1037.9 2825.2 1033.3 2831.5 1027.5C2837.8 1021.7 2839.8 1012.9 2841.5 1005.0C2843.2 997.1 2842.8 990.0 2841.5 980.0C2840.2 970.0 2835.7 955.8 2834.0 945.0C2832.3 934.2 2831.1 924.2 2831.5 915.0Z" fill="#e9f6e8"/>
<path d="M2619.0 1198.3C2611.2 1204.1 2632.1 1190.3 2639.0 1185.0C2645.9 1179.7 2654.3 1172.5 2660.7 1166.7C2667.1 1160.8 2673.2 1156.1 2677.3 1150.0C2681.5 1143.9 2684.0 1137.2 2685.7 1130.0C2687.3 1122.8 2687.9 1111.9 2687.3 1106.7C2686.8 1101.4 2685.9 1100.8 2682.3 1098.3C2678.7 1095.8 2670.4 1094.2 2665.7 1091.7C2660.9 1089.2 2656.4 1086.7 2654.0 1083.3C2651.6 1080.0 2651.5 1075.0 2651.5 1071.7C2651.5 1068.3 2650.5 1065.6 2654.0 1063.3C2657.5 1061.1 2664.3 1059.7 2672.3 1058.3C2680.4 1056.9 2692.3 1055.8 2702.3 1055.0C2712.3 1054.2 2723.4 1053.5 2732.3 1053.3C2741.2 1053.2 2748.2 1052.8 2755.7 1054.2C2763.2 1055.6 2769.6 1059.6 2777.3 1061.7C2785.1 1063.8 2792.6 1065.4 2802.3 1066.7C2812.1 1067.9 2824.6 1068.6 2835.7 1069.2C2846.8 1069.7 2860.7 1069.4 2869.0 1070.0C2877.3 1070.6 2880.7 1070.0 2885.7 1072.5C2890.7 1075.0 2894.0 1079.9 2899.0 1085.0C2904.0 1090.1 2910.4 1096.7 2915.7 1103.3C2920.9 1110.0 2926.8 1117.8 2930.7 1125.0C2934.6 1132.2 2936.8 1139.4 2939.0 1146.7C2941.2 1153.9 2943.2 1161.9 2944.0 1168.3C2944.8 1174.7 2944.8 1179.7 2944.0 1185.0C2943.2 1190.3 2941.8 1195.3 2939.0 1200.0C2936.2 1204.7 2931.8 1209.2 2927.3 1213.3C2922.9 1217.5 2915.9 1222.2 2912.3 1225.0C2908.7 1227.8 2907.3 1225.0 2905.7 1230.0C2904.0 1235.0 2902.9 1246.7 2902.3 1255.0C2901.8 1263.3 2902.6 1273.1 2902.3 1280.0C2902.1 1286.9 2902.1 1291.4 2900.7 1296.7C2899.3 1301.9 2895.4 1307.2 2894.0 1311.7C2892.6 1316.1 2916.3 1319.9 2892.3 1323.3C2868.3 1326.7 2801.1 1330.8 2750.0 1332.0C2698.9 1333.2 2617.2 1331.3 2585.7 1330.7C2554.1 1330.0 2569.0 1329.0 2560.7 1328.2C2552.3 1327.3 2541.5 1326.9 2535.7 1325.7C2529.8 1324.4 2528.4 1323.4 2525.7 1320.7C2522.9 1317.9 2519.8 1312.3 2519.0 1309.0C2518.2 1305.7 2519.6 1302.9 2520.7 1300.7C2521.8 1298.4 2523.2 1297.3 2525.7 1295.7C2528.2 1294.0 2531.2 1290.9 2535.7 1290.7C2540.1 1290.4 2546.8 1293.7 2552.3 1294.0C2557.9 1294.3 2563.7 1293.2 2569.0 1292.3C2574.3 1291.5 2580.4 1290.9 2584.0 1289.0C2587.6 1287.1 2589.8 1283.4 2590.7 1280.7C2591.5 1277.9 2590.7 1275.4 2589.0 1272.3C2587.3 1269.3 2584.6 1263.6 2580.7 1262.3C2576.8 1261.1 2570.4 1264.8 2565.7 1264.8C2560.9 1264.8 2555.1 1263.9 2552.3 1262.3C2549.6 1260.8 2549.0 1258.2 2549.0 1255.7C2549.0 1253.2 2549.6 1250.1 2552.3 1247.3C2555.1 1244.6 2561.8 1241.5 2565.7 1239.0C2569.6 1236.5 2573.7 1234.8 2575.7 1232.3C2577.6 1229.8 2576.2 1226.6 2577.3 1224.0C2578.4 1221.4 2578.7 1218.4 2582.3 1216.5C2585.9 1214.6 2593.4 1213.6 2599.0 1212.3C2604.6 1211.1 2609.8 1210.7 2615.7 1209.0C2621.5 1207.3 2628.2 1205.1 2634.0 1202.3C2639.8 1199.6 2645.4 1195.9 2650.7 1192.3C2655.9 1188.7 2661.2 1184.8 2665.7 1180.7C2670.1 1176.5 2674.0 1172.3 2677.3 1167.3C2680.7 1162.3 2695.4 1145.5 2685.7 1150.7C2675.9 1155.8 2626.8 1192.6 2619.0 1198.3Z" fill="#d6eef5"/>
<path d="M2618.8 1207.4C2617.2 1208.2 2624.3 1205.0 2628.8 1202.4C2633.4 1199.8 2641.8 1196.1 2646.0 1191.7C2650.3 1187.4 2650.8 1180.7 2654.3 1176.6C2657.7 1172.4 2662.9 1170.0 2666.8 1166.8C2670.7 1163.6 2674.8 1161.3 2677.7 1157.3C2680.6 1153.4 2682.3 1147.3 2684.0 1142.9C2685.8 1138.5 2687.3 1134.4 2688.4 1131.0C2689.4 1127.6 2689.3 1125.4 2690.5 1122.6C2691.7 1119.8 2694.2 1116.7 2695.7 1114.2C2697.1 1111.6 2698.3 1109.6 2698.9 1107.4C2699.5 1105.1 2698.5 1102.7 2699.1 1100.9C2699.7 1099.1 2697.3 1101.9 2702.4 1096.5C2707.6 1091.1 2722.4 1073.6 2730.1 1068.7C2737.9 1063.7 2742.4 1066.6 2749.1 1066.9C2755.8 1067.2 2763.9 1069.4 2770.3 1070.7C2776.7 1072.0 2781.9 1073.3 2787.4 1074.7C2792.9 1076.2 2798.1 1078.0 2803.2 1079.5C2808.2 1081.0 2812.5 1082.4 2817.7 1083.8C2822.9 1085.3 2829.1 1086.5 2834.1 1087.9C2839.1 1089.4 2839.7 1089.5 2847.8 1092.6C2855.9 1095.6 2874.3 1101.9 2882.7 1106.4C2891.1 1111.0 2893.6 1115.3 2898.4 1119.8C2903.2 1124.3 2907.8 1128.9 2911.7 1133.6C2915.6 1138.3 2918.9 1144.0 2921.8 1148.2C2924.6 1152.4 2926.8 1155.5 2928.8 1158.8C2930.7 1162.2 2932.2 1165.1 2933.3 1168.4C2934.5 1171.6 2935.1 1174.9 2935.4 1178.4C2935.6 1181.8 2935.5 1185.6 2934.8 1189.1C2934.0 1192.5 2932.6 1196.1 2930.8 1199.2C2929.0 1202.4 2926.6 1205.0 2924.1 1207.8C2921.7 1210.5 2919.1 1213.1 2916.2 1215.9C2913.3 1218.6 2908.8 1221.7 2906.7 1224.3C2904.6 1226.8 2904.5 1228.1 2903.6 1231.4C2902.8 1234.7 2902.2 1238.9 2901.7 1243.9C2901.2 1248.8 2901.0 1256.3 2900.7 1261.0C2900.4 1265.7 2900.2 1268.8 2899.9 1272.2C2899.6 1275.7 2899.2 1278.4 2898.8 1281.9C2898.4 1285.4 2898.3 1289.8 2897.4 1293.4C2896.4 1297.1 2894.4 1300.9 2893.1 1303.8C2891.7 1306.7 2889.4 1308.0 2889.0 1310.8C2888.6 1313.7 2896.1 1318.5 2890.7 1321.1C2885.3 1323.6 2875.6 1324.7 2856.4 1326.2C2837.2 1327.8 2800.2 1329.4 2775.5 1330.3C2750.7 1331.2 2727.0 1331.5 2708.0 1331.7C2689.0 1331.8 2671.9 1331.5 2661.4 1331.2C2651.0 1331.0 2650.2 1330.5 2645.4 1330.1C2640.5 1329.7 2635.1 1329.2 2632.3 1328.6C2629.4 1328.1 2630.4 1327.7 2628.3 1327.0C2626.2 1326.2 2621.1 1325.3 2619.5 1324.4C2618.0 1323.4 2619.0 1322.5 2619.0 1321.4C2619.0 1320.4 2618.2 1319.2 2619.7 1318.2C2621.2 1317.3 2626.3 1316.6 2627.9 1315.7C2629.5 1314.8 2632.4 1318.3 2629.3 1313.0C2626.2 1307.8 2613.0 1289.5 2609.4 1284.1C2605.9 1278.7 2608.6 1281.9 2607.8 1280.6C2607.1 1279.4 2605.8 1278.2 2605.0 1276.8C2604.1 1275.4 2603.6 1273.8 2602.7 1272.1C2601.9 1270.5 2600.9 1268.6 2599.7 1266.8C2598.5 1265.0 2597.1 1262.9 2595.7 1261.4C2594.4 1259.8 2592.8 1258.8 2591.5 1257.7C2590.2 1256.6 2589.3 1258.3 2587.8 1254.9C2586.3 1251.4 2583.4 1240.7 2582.6 1236.9C2581.8 1233.1 2581.5 1235.0 2583.0 1232.2C2584.4 1229.4 2588.8 1222.4 2591.1 1219.9C2593.4 1217.4 2594.3 1218.1 2596.8 1217.1C2599.3 1216.2 2602.5 1215.3 2606.2 1214.1C2610.0 1212.9 2614.9 1211.5 2619.2 1210.0C2623.5 1208.4 2627.6 1206.8 2631.8 1204.8C2636.0 1202.8 2640.5 1200.3 2644.3 1198.0C2648.0 1195.8 2650.4 1194.1 2654.2 1191.3C2657.9 1188.5 2663.6 1184.1 2666.7 1181.4C2669.9 1178.7 2677.7 1172.3 2673.0 1175.0C2668.2 1177.7 2647.5 1192.4 2638.5 1197.8C2629.5 1203.2 2620.4 1206.6 2618.8 1207.4Z" fill="#bde2ee"/>
<path d="M2619.0 1206.7C2613.2 1209.6 2632.3 1198.3 2639.0 1193.3C2645.7 1188.3 2652.9 1181.9 2659.0 1176.7C2665.1 1171.4 2670.7 1168.1 2675.7 1161.7C2680.7 1155.3 2685.9 1144.7 2689.0 1138.3C2692.1 1131.9 2690.7 1128.1 2694.0 1123.3C2697.3 1118.6 2705.9 1114.4 2709.0 1110.0C2712.1 1105.6 2709.3 1100.8 2712.3 1096.7C2715.4 1092.5 2720.1 1087.8 2727.3 1085.0C2734.6 1082.2 2745.9 1080.0 2755.7 1080.0C2765.4 1080.0 2776.5 1082.2 2785.7 1085.0C2794.8 1087.8 2802.3 1092.8 2810.7 1096.7C2819.0 1100.6 2827.3 1103.9 2835.7 1108.3C2844.0 1112.8 2852.3 1118.3 2860.7 1123.3C2869.0 1128.3 2878.2 1133.3 2885.7 1138.3C2893.2 1143.3 2899.8 1148.6 2905.7 1153.3C2911.5 1158.1 2917.2 1162.2 2920.7 1166.7C2924.1 1171.1 2925.7 1175.6 2926.5 1180.0C2927.3 1184.4 2927.2 1188.9 2925.7 1193.3C2924.1 1197.8 2920.7 1201.9 2917.3 1206.7C2914.0 1211.4 2908.4 1216.4 2905.7 1221.7C2902.9 1226.9 2901.8 1231.4 2900.7 1238.3C2899.6 1245.3 2899.8 1256.4 2899.0 1263.3C2898.2 1270.3 2896.8 1274.4 2895.7 1280.0C2894.6 1285.6 2894.3 1291.7 2892.3 1296.7C2890.4 1301.7 2886.2 1305.6 2884.0 1310.0C2881.8 1314.4 2899.7 1320.0 2879.0 1323.3C2858.3 1326.7 2795.0 1328.8 2760.0 1330.0C2725.0 1331.2 2688.9 1331.1 2669.0 1330.7C2649.1 1330.2 2647.9 1328.7 2640.7 1327.3C2633.4 1325.9 2629.0 1324.6 2625.7 1322.3C2622.3 1320.1 2621.2 1317.1 2620.7 1314.0C2620.1 1310.9 2621.2 1307.1 2622.3 1304.0C2623.4 1300.9 2626.5 1298.7 2627.3 1295.7C2628.2 1292.6 2628.7 1289.0 2627.3 1285.7C2625.9 1282.3 2621.5 1279.3 2619.0 1275.7C2616.5 1272.1 2614.8 1267.6 2612.3 1264.0C2609.8 1260.4 2607.1 1256.8 2604.0 1254.0C2600.9 1251.2 2596.5 1249.8 2594.0 1247.3C2591.5 1244.8 2589.3 1242.6 2589.0 1239.0C2588.7 1235.4 2590.1 1229.0 2592.3 1225.7C2594.6 1222.3 2597.3 1221.5 2602.3 1219.0C2607.3 1216.5 2615.7 1213.7 2622.3 1210.7C2629.0 1207.6 2636.2 1204.3 2642.3 1200.7C2648.4 1197.1 2653.7 1193.2 2659.0 1189.0C2664.3 1184.8 2680.7 1172.7 2674.0 1175.7C2667.3 1178.6 2624.8 1203.7 2619.0 1206.7Z" fill="#a1d1e5"/>
<path d="M2618.0 1214.0C2614.6 1215.8 2620.9 1212.4 2624.6 1210.2C2628.4 1208.0 2636.2 1203.7 2640.7 1200.8C2645.2 1197.9 2648.7 1195.7 2651.8 1192.9C2654.9 1190.0 2656.7 1186.5 2659.4 1183.8C2662.1 1181.2 2665.8 1179.9 2668.0 1177.2C2670.3 1174.4 2671.4 1169.6 2672.9 1167.1C2674.4 1164.7 2675.7 1164.1 2677.0 1162.3C2678.4 1160.6 2679.4 1159.2 2680.9 1156.4C2682.4 1153.7 2684.4 1149.6 2686.2 1145.7C2687.9 1141.8 2689.8 1137.0 2691.6 1133.0C2693.5 1129.0 2694.9 1125.1 2697.3 1121.9C2699.6 1118.6 2703.2 1116.0 2705.8 1113.3C2708.3 1110.6 2710.0 1108.5 2712.3 1105.7C2714.7 1102.8 2716.3 1098.9 2720.0 1096.2C2723.7 1093.5 2729.9 1090.9 2734.7 1089.4C2739.4 1087.8 2743.6 1087.2 2748.6 1086.9C2753.5 1086.5 2759.4 1086.7 2764.4 1087.1C2769.5 1087.6 2774.5 1088.6 2779.1 1089.7C2783.8 1090.9 2788.0 1092.4 2792.2 1094.1C2796.4 1095.7 2800.3 1097.9 2804.4 1099.8C2808.6 1101.8 2812.6 1103.7 2816.9 1105.9C2821.3 1108.0 2826.1 1110.4 2830.5 1112.8C2834.8 1115.1 2838.8 1117.5 2843.0 1120.0C2847.1 1122.5 2851.3 1125.1 2855.5 1127.7C2859.7 1130.3 2863.8 1132.9 2868.2 1135.6C2872.5 1138.4 2877.3 1141.4 2881.5 1144.2C2885.7 1147.0 2889.9 1149.9 2893.5 1152.5C2897.1 1155.1 2900.2 1157.5 2903.1 1159.8C2905.9 1162.0 2908.4 1163.9 2910.6 1166.1C2912.9 1168.3 2914.9 1170.3 2916.5 1172.8C2918.0 1175.3 2919.5 1178.3 2920.2 1181.1C2920.9 1183.9 2921.2 1186.7 2920.6 1189.7C2920.0 1192.7 2918.2 1196.2 2916.7 1199.2C2915.2 1202.2 2913.4 1205.0 2911.7 1207.6C2910.1 1210.2 2908.2 1212.4 2906.6 1214.9C2904.9 1217.5 2903.0 1220.3 2901.7 1223.0C2900.4 1225.6 2899.6 1228.5 2898.9 1231.0C2898.2 1233.6 2897.7 1235.8 2897.3 1238.3C2896.9 1240.9 2896.7 1243.7 2896.4 1246.5C2896.2 1249.3 2896.1 1252.2 2895.9 1255.2C2895.7 1258.1 2895.6 1261.3 2895.2 1264.2C2894.9 1267.1 2894.4 1269.8 2893.9 1272.6C2893.4 1275.3 2892.7 1278.0 2892.0 1280.8C2891.4 1283.5 2891.0 1286.2 2889.9 1289.1C2888.8 1292.1 2887.0 1295.7 2885.4 1298.5C2883.8 1301.3 2881.0 1303.8 2880.1 1306.1C2879.2 1308.5 2882.4 1309.6 2879.9 1312.6C2877.5 1315.6 2875.1 1321.8 2865.6 1324.1C2856.0 1326.5 2838.6 1326.1 2822.6 1326.7C2806.7 1327.3 2783.2 1327.6 2769.6 1327.8C2756.1 1328.1 2750.2 1328.2 2741.5 1328.3C2732.9 1328.4 2724.7 1328.3 2718.0 1328.3C2711.2 1328.2 2706.2 1328.1 2700.9 1328.0C2695.6 1327.9 2690.8 1327.7 2686.2 1327.5C2681.6 1327.2 2677.6 1326.9 2673.3 1326.6C2669.1 1326.3 2664.8 1326.0 2660.6 1325.5C2656.4 1325.1 2651.6 1324.5 2648.1 1324.0C2644.6 1323.4 2641.9 1322.8 2639.8 1322.2C2637.7 1321.5 2637.4 1322.4 2635.6 1320.2C2633.7 1317.9 2629.4 1311.5 2628.6 1308.5C2627.8 1305.6 2630.3 1303.9 2630.9 1302.2C2631.5 1300.6 2631.7 1300.0 2632.2 1298.5C2632.7 1297.1 2633.6 1295.1 2634.1 1293.6C2634.6 1292.1 2635.2 1290.7 2635.3 1289.5C2635.3 1288.2 2634.8 1287.0 2634.3 1286.0C2633.8 1284.9 2633.1 1284.2 2632.3 1283.2C2631.6 1282.2 2630.8 1281.2 2629.6 1280.0C2628.5 1278.7 2627.1 1277.6 2625.5 1275.7C2623.9 1273.9 2621.8 1271.0 2620.2 1268.8C2618.6 1266.7 2617.6 1265.0 2616.0 1262.8C2614.3 1260.6 2612.0 1257.9 2610.2 1255.9C2608.4 1253.8 2606.6 1251.9 2605.3 1250.3C2603.9 1248.8 2603.0 1247.7 2602.2 1246.6C2601.4 1245.4 2600.6 1246.8 2600.5 1243.4C2600.5 1240.1 2601.0 1229.9 2601.9 1226.5C2602.7 1223.0 2604.0 1224.1 2605.5 1222.9C2607.0 1221.6 2608.9 1220.4 2611.0 1219.1C2613.1 1217.8 2615.2 1216.6 2618.0 1215.1C2620.9 1213.6 2624.7 1211.7 2628.0 1209.9C2631.4 1208.1 2635.1 1206.3 2638.3 1204.5C2641.5 1202.7 2644.4 1201.0 2647.2 1199.3C2649.9 1197.6 2651.3 1196.7 2654.7 1194.4C2658.1 1192.0 2664.9 1187.1 2667.5 1185.2C2670.2 1183.2 2674.3 1180.3 2670.6 1182.7C2666.9 1185.0 2654.1 1194.1 2645.3 1199.3C2636.6 1204.5 2621.5 1212.1 2618.0 1214.0Z" fill="#87bdd9"/>
<path d="M2619.0 1215.0C2613.7 1217.7 2633.7 1205.3 2640.7 1200.0C2647.6 1194.7 2655.1 1188.6 2660.7 1183.3C2666.2 1178.1 2670.4 1172.8 2674.0 1168.3C2677.6 1163.9 2679.3 1162.5 2682.3 1156.7C2685.4 1150.8 2688.4 1140.6 2692.3 1133.3C2696.2 1126.1 2700.4 1118.9 2705.7 1113.3C2710.9 1107.8 2716.8 1103.3 2724.0 1100.0C2731.2 1096.7 2740.1 1094.0 2749.0 1093.3C2757.9 1092.6 2768.4 1093.9 2777.3 1095.8C2786.2 1097.8 2794.0 1101.2 2802.3 1105.0C2810.7 1108.8 2819.0 1113.6 2827.3 1118.3C2835.7 1123.1 2844.0 1128.1 2852.3 1133.3C2860.7 1138.6 2869.6 1144.7 2877.3 1150.0C2885.1 1155.3 2893.4 1160.6 2899.0 1165.0C2904.6 1169.4 2908.0 1172.8 2910.7 1176.7C2913.3 1180.6 2915.1 1183.6 2914.8 1188.3C2914.6 1193.1 2911.6 1199.4 2909.0 1205.0C2906.4 1210.6 2901.5 1216.1 2899.0 1221.7C2896.5 1227.2 2895.1 1232.8 2894.0 1238.3C2892.9 1243.9 2892.9 1249.4 2892.3 1255.0C2891.8 1260.6 2891.8 1266.1 2890.7 1271.7C2889.6 1277.2 2888.2 1283.1 2885.7 1288.3C2883.2 1293.6 2879.0 1297.5 2875.7 1303.3C2872.3 1309.2 2883.3 1319.6 2865.7 1323.3C2848.1 1327.1 2794.4 1325.6 2770.0 1326.0C2745.6 1326.4 2733.1 1326.0 2719.0 1325.7C2704.9 1325.3 2695.4 1324.8 2685.7 1324.0C2675.9 1323.2 2668.2 1321.8 2660.7 1320.7C2653.2 1319.6 2644.8 1319.0 2640.7 1317.3C2636.5 1315.7 2636.2 1313.4 2635.7 1310.7C2635.1 1307.9 2636.2 1304.3 2637.3 1300.7C2638.4 1297.1 2642.3 1292.3 2642.3 1289.0C2642.3 1285.7 2639.6 1283.4 2637.3 1280.7C2635.1 1277.9 2632.1 1275.7 2629.0 1272.3C2625.9 1269.0 2622.6 1264.8 2619.0 1260.7C2615.4 1256.5 2609.8 1251.2 2607.3 1247.3C2604.8 1243.4 2604.0 1240.7 2604.0 1237.3C2604.0 1234.0 2604.8 1230.7 2607.3 1227.3C2609.8 1224.0 2613.7 1220.9 2619.0 1217.3C2624.3 1213.7 2632.9 1209.3 2639.0 1205.7C2645.1 1202.1 2650.1 1199.3 2655.7 1195.7C2661.2 1192.1 2678.4 1180.8 2672.3 1184.0C2666.2 1187.2 2624.3 1212.3 2619.0 1215.0Z" fill="#6ea6ce"/>
<path d="M2635.7 1236.7C2636.2 1231.1 2646.2 1225.6 2652.3 1218.3C2658.4 1211.1 2666.2 1202.5 2672.3 1193.3C2678.4 1184.2 2683.4 1172.5 2689.0 1163.3C2694.6 1154.2 2699.3 1145.6 2705.7 1138.3C2712.1 1131.1 2719.0 1124.2 2727.3 1120.0C2735.7 1115.8 2745.9 1113.9 2755.7 1113.3C2765.4 1112.8 2776.5 1114.4 2785.7 1116.7C2794.8 1118.9 2802.3 1122.8 2810.7 1126.7C2819.0 1130.6 2827.3 1135.0 2835.7 1140.0C2844.0 1145.0 2853.4 1151.1 2860.7 1156.7C2867.9 1162.2 2874.8 1167.5 2879.0 1173.3C2883.2 1179.2 2884.6 1185.0 2885.7 1191.7C2886.8 1198.3 2886.2 1206.1 2885.7 1213.3C2885.1 1220.6 2884.3 1227.5 2882.3 1235.0C2880.4 1242.5 2877.3 1250.8 2874.0 1258.3C2870.7 1265.8 2865.9 1273.6 2862.3 1280.0C2858.7 1286.4 2855.4 1289.4 2852.3 1296.7C2849.3 1303.9 2869.6 1318.9 2844.0 1323.3C2818.4 1327.8 2724.8 1326.7 2699.0 1323.3C2673.2 1320.0 2692.9 1308.9 2689.0 1303.3C2685.1 1297.8 2680.1 1295.3 2675.7 1290.0C2671.2 1284.7 2666.8 1278.1 2662.3 1271.7C2657.9 1265.3 2653.4 1257.5 2649.0 1251.7C2644.6 1245.8 2635.1 1242.2 2635.7 1236.7Z" fill="#588cc0"/>
<path d="M2660.7 1230.0C2661.5 1224.2 2669.3 1217.5 2674.0 1210.0C2678.7 1202.5 2684.3 1193.1 2689.0 1185.0C2693.7 1176.9 2697.9 1168.3 2702.3 1161.7C2706.8 1155.0 2710.1 1150.0 2715.7 1145.0C2721.2 1140.0 2728.2 1134.9 2735.7 1131.7C2743.2 1128.4 2752.3 1126.1 2760.7 1125.5C2769.0 1124.9 2777.3 1125.9 2785.7 1128.3C2794.0 1130.8 2802.3 1135.6 2810.7 1140.0C2819.0 1144.4 2828.2 1149.7 2835.7 1155.0C2843.2 1160.3 2850.1 1165.6 2855.7 1171.7C2861.2 1177.8 2866.2 1184.7 2869.0 1191.7C2871.8 1198.6 2872.3 1206.1 2872.3 1213.3C2872.3 1220.6 2870.9 1228.1 2869.0 1235.0C2867.1 1241.9 2864.0 1248.3 2860.7 1255.0C2857.3 1261.7 2853.2 1268.6 2849.0 1275.0C2844.8 1281.4 2839.8 1287.8 2835.7 1293.3C2831.5 1298.9 2827.3 1304.2 2824.0 1308.3C2820.7 1312.5 2820.4 1316.7 2815.7 1318.3C2810.9 1320.0 2800.7 1319.7 2795.7 1318.3C2790.7 1316.9 2790.1 1312.8 2785.7 1310.0C2781.2 1307.2 2775.1 1302.8 2769.0 1301.7C2762.9 1300.6 2756.2 1303.1 2749.0 1303.3C2741.8 1303.6 2731.8 1305.0 2725.7 1303.3C2719.6 1301.7 2717.3 1297.2 2712.3 1293.3C2707.3 1289.4 2700.7 1285.0 2695.7 1280.0C2690.7 1275.0 2686.8 1269.2 2682.3 1263.3C2677.9 1257.5 2672.6 1250.6 2669.0 1245.0C2665.4 1239.4 2659.8 1235.8 2660.7 1230.0Z" fill="#4471b2"/>
<path d="M2687.3 1218.3C2686.2 1210.0 2689.3 1201.7 2692.3 1193.3C2695.4 1185.0 2700.1 1176.1 2705.7 1168.3C2711.2 1160.6 2718.4 1151.7 2725.7 1146.7C2732.9 1141.7 2740.9 1139.7 2749.0 1138.3C2757.1 1136.9 2765.7 1136.7 2774.0 1138.3C2782.3 1140.0 2790.9 1144.2 2799.0 1148.3C2807.1 1152.5 2815.1 1158.1 2822.3 1163.3C2829.6 1168.6 2837.1 1173.9 2842.3 1180.0C2847.6 1186.1 2851.6 1193.1 2854.0 1200.0C2856.4 1206.9 2856.8 1214.4 2856.5 1221.7C2856.2 1228.9 2854.7 1236.4 2852.3 1243.3C2850.0 1250.3 2845.9 1257.2 2842.3 1263.3C2838.7 1269.4 2834.6 1274.7 2830.7 1280.0C2826.8 1285.3 2822.1 1290.3 2819.0 1295.0C2815.9 1299.7 2816.5 1308.1 2812.3 1308.3C2808.2 1308.6 2799.8 1300.6 2794.0 1296.7C2788.2 1292.8 2783.4 1286.4 2777.3 1285.0C2771.2 1283.6 2764.3 1290.6 2757.3 1288.3C2750.4 1286.1 2742.6 1276.4 2735.7 1271.7C2728.7 1266.9 2721.8 1264.7 2715.7 1260.0C2709.6 1255.3 2703.7 1250.3 2699.0 1243.3C2694.3 1236.4 2688.4 1226.7 2687.3 1218.3Z" fill="#3a54a4"/>
<path d="M2705.7 1210.0 L2709.0 1190.0 L2719.0 1171.7 L2735.7 1156.7 L2755.7 1147.5 L2775.7 1150.0 L2799.0 1160.0 L2819.0 1173.3 L2835.7 1188.3 L2844.0 1203.3 L2846.5 1221.7 L2842.3 1240.0 L2834.0 1256.7 L2824.0 1271.7 L2814.0 1285.0 L2802.3 1270.0 L2785.7 1265.0 L2769.0 1259.2 L2755.7 1265.8 L2739.0 1250.0 L2722.3 1238.3 L2712.3 1225.0Z" fill="#313695"/>
<path d="M2569.0 1335.0 L2620.0 1332.0 L2702.0 1334.0 L2706.0 1355.0 L2567.0 1355.0Z" fill="#6ea6ce"/>
<path d="M2580.0 1340.0 L2640.0 1338.0 L2700.0 1340.0 L2702.0 1355.0 L2578.0 1355.0Z" fill="#4471b2"/>
<path d="M2600.0 1344.0 L2690.0 1344.0 L2695.0 1355.0 L2598.0 1355.0Z" fill="#313695"/>
<path d="M1906.5 1140.0 L1924.0 1110.0 L1929.0 1065.0 L1941.5 1050.0 L1955.0 1042.5 L1959.0 1062.5 L1966.5 1085.0 L1981.5 1095.0 L1999.0 1100.0 L2014.0 1079.0 L2030.0 1072.5 L2058.0 1041.0 L2071.5 1041.0 L2089.0 1046.0 L2104.0 1055.0 L2114.0 1070.0 L2121.5 1090.0 L2126.5 1115.0 L2130.0 1150.0 L2131.5 1157.3 L2132.3 1180.7 L2135.7 1214.0 L2140.7 1239.0 L2147.3 1264.0 L2159.0 1280.7 L2175.7 1297.3 L2200.7 1310.7 L2217.3 1319.0 L2225.7 1325.7 L2235.7 1330.7 L2268.0 1334.0 L2292.3 1335.7 L2292.0 1355.0 L1907.5 1355.0 L1907.5 1164.0Z" fill="#f7fcce"/>
<path d="M1934.0 1357.3C1874.3 1352.9 1933.4 1340.7 1934.0 1330.7C1934.6 1320.7 1935.9 1308.4 1937.3 1297.3C1938.7 1286.2 1940.4 1273.7 1942.3 1264.0C1944.3 1254.3 1946.2 1246.8 1949.0 1239.0C1951.8 1231.2 1955.1 1223.7 1959.0 1217.3C1962.9 1210.9 1967.6 1206.8 1972.3 1200.7C1977.1 1194.6 1982.3 1186.8 1987.3 1180.7C1992.3 1174.6 1996.5 1169.6 2002.3 1164.0C2008.2 1158.4 2016.2 1152.9 2022.3 1147.3C2028.4 1141.8 2034.0 1136.2 2039.0 1130.7C2044.0 1125.1 2047.9 1119.1 2052.3 1114.0C2056.8 1108.9 2061.8 1103.0 2065.7 1099.8C2069.6 1096.6 2072.1 1095.5 2075.7 1094.8C2079.3 1094.1 2083.4 1093.9 2087.3 1095.7C2091.2 1097.5 2095.4 1101.2 2099.0 1105.7C2102.6 1110.1 2105.9 1116.8 2109.0 1122.3C2112.1 1127.9 2114.8 1133.2 2117.3 1139.0C2119.8 1144.8 2122.1 1150.4 2124.0 1157.3C2125.9 1164.3 2127.5 1171.2 2129.0 1180.7C2130.5 1190.1 2131.6 1204.3 2133.2 1214.0C2134.7 1223.7 2136.2 1230.7 2138.2 1239.0C2140.1 1247.3 2141.6 1256.8 2144.8 1264.0C2148.0 1271.2 2152.5 1276.5 2157.3 1282.3C2162.2 1288.2 2167.1 1294.0 2174.0 1299.0C2180.9 1304.0 2191.8 1308.7 2199.0 1312.3C2206.2 1315.9 2211.2 1317.5 2217.3 1320.7C2223.4 1323.9 2227.2 1329.1 2235.7 1331.5C2244.1 1333.9 2258.6 1334.0 2268.0 1334.8C2277.4 1335.7 2288.3 1332.8 2292.3 1336.5C2296.4 1340.2 2352.1 1353.9 2292.3 1357.3C2232.6 1360.8 1993.7 1361.8 1934.0 1357.3Z" fill="#e9f6e8"/>
<path d="M1989.0 1357.3C1938.2 1352.9 1988.4 1337.1 1987.3 1330.7C1986.2 1324.3 1985.9 1321.5 1982.3 1319.0C1978.7 1316.5 1971.2 1317.1 1965.7 1315.7C1960.1 1314.3 1951.9 1316.5 1949.0 1310.7C1946.1 1304.8 1947.9 1289.8 1948.2 1280.7C1948.4 1271.5 1948.6 1262.6 1950.7 1255.7C1952.8 1248.7 1957.1 1243.7 1960.7 1239.0C1964.3 1234.3 1968.7 1231.5 1972.3 1227.3C1975.9 1223.2 1979.0 1219.6 1982.3 1214.0C1985.7 1208.4 1988.2 1201.2 1992.3 1194.0C1996.5 1186.8 2001.8 1177.1 2007.3 1170.7C2012.9 1164.3 2019.8 1160.4 2025.7 1155.7C2031.5 1150.9 2037.3 1146.5 2042.3 1142.3C2047.3 1138.2 2051.2 1133.7 2055.7 1130.7C2060.1 1127.6 2064.6 1125.2 2069.0 1124.0C2073.4 1122.8 2078.2 1122.3 2082.3 1123.2C2086.5 1124.0 2090.1 1126.4 2094.0 1129.0C2097.9 1131.6 2102.1 1135.4 2105.7 1139.0C2109.3 1142.6 2112.6 1146.5 2115.7 1150.7C2118.7 1154.8 2121.5 1157.6 2124.0 1164.0C2126.5 1170.4 2129.0 1180.7 2130.7 1189.0C2132.3 1197.3 2132.6 1205.7 2134.0 1214.0C2135.4 1222.3 2137.1 1230.9 2139.0 1239.0C2140.9 1247.1 2142.6 1255.7 2145.7 1262.3C2148.7 1269.0 2152.9 1274.0 2157.3 1279.0C2161.8 1284.0 2166.5 1288.2 2172.3 1292.3C2178.2 1296.5 2186.8 1300.4 2192.3 1304.0C2197.9 1307.6 2201.2 1310.9 2205.7 1314.0C2210.1 1317.1 2214.0 1319.3 2219.0 1322.3C2224.0 1325.4 2227.5 1330.1 2235.7 1332.3C2243.8 1334.6 2258.6 1334.8 2268.0 1335.7C2277.4 1336.5 2288.3 1333.7 2292.3 1337.3C2296.4 1340.9 2342.9 1354.0 2292.3 1357.3C2241.8 1360.7 2039.8 1361.8 1989.0 1357.3Z" fill="#d6eef5"/>
<path d="M2001.0 1357.8C1992.8 1355.4 1976.4 1348.9 1974.3 1344.5C1972.3 1340.2 1985.9 1335.4 1988.8 1331.7C1991.7 1328.0 1991.4 1325.0 1991.7 1322.3C1992.1 1319.6 1991.2 1317.6 1991.0 1315.6C1990.8 1313.5 1990.7 1311.9 1990.6 1310.1C1990.5 1308.3 1990.5 1306.7 1990.5 1305.0C1990.4 1303.3 1990.3 1301.6 1990.4 1300.0C1990.5 1298.4 1991.7 1304.4 1991.0 1295.4C1990.3 1286.4 1986.8 1255.4 1986.4 1246.1C1986.0 1236.9 1987.8 1242.2 1988.7 1239.9C1989.7 1237.7 1990.9 1235.1 1991.9 1232.7C1992.9 1230.3 1993.7 1228.0 1994.6 1225.6C1995.6 1223.2 1996.5 1220.7 1997.6 1218.2C1998.6 1215.7 1999.6 1213.4 2000.9 1210.6C2002.3 1207.8 2004.1 1204.2 2005.7 1201.2C2007.4 1198.2 2009.2 1195.3 2011.0 1192.4C2012.9 1189.5 2014.5 1186.7 2016.9 1183.7C2019.4 1180.7 2023.1 1177.0 2025.7 1174.5C2028.3 1172.0 2030.6 1170.3 2032.6 1168.7C2034.6 1167.0 2036.0 1165.9 2037.9 1164.5C2039.7 1163.1 2041.9 1161.6 2043.9 1160.3C2045.9 1159.0 2048.0 1157.7 2050.0 1156.5C2051.9 1155.4 2054.0 1154.2 2055.9 1153.3C2057.8 1152.3 2054.7 1151.1 2061.1 1151.0C2067.4 1150.8 2087.3 1151.5 2093.8 1152.2C2100.3 1152.9 2098.0 1154.3 2099.8 1155.3C2101.7 1156.3 2103.5 1157.5 2105.0 1158.4C2106.6 1159.2 2107.6 1159.4 2109.1 1160.6C2110.7 1161.8 2112.8 1163.8 2114.2 1165.4C2115.7 1167.0 2116.7 1168.5 2117.8 1170.1C2118.8 1171.7 2119.7 1173.5 2120.6 1175.0C2121.4 1176.6 2122.1 1177.9 2122.8 1179.3C2123.5 1180.8 2124.1 1182.1 2124.7 1183.8C2125.4 1185.5 2126.1 1187.6 2126.7 1189.6C2127.2 1191.5 2127.7 1193.4 2128.1 1195.7C2128.6 1198.0 2128.9 1201.0 2129.3 1203.4C2129.6 1205.9 2129.8 1207.9 2130.2 1210.5C2130.5 1213.1 2130.9 1216.0 2131.4 1219.0C2131.9 1222.1 2132.5 1225.9 2133.0 1229.1C2133.5 1232.2 2134.0 1234.8 2134.6 1238.0C2135.2 1241.1 2136.0 1244.8 2136.6 1247.9C2137.3 1251.1 2137.9 1254.0 2138.6 1256.7C2139.4 1259.5 2140.2 1262.2 2141.0 1264.4C2141.8 1266.7 2142.5 1268.3 2143.3 1270.1C2144.2 1271.9 2144.9 1273.4 2146.1 1275.1C2147.2 1276.8 2148.8 1278.7 2150.1 1280.2C2151.5 1281.8 2152.7 1282.9 2154.3 1284.3C2155.8 1285.7 2157.6 1287.2 2159.4 1288.6C2161.1 1290.0 2163.1 1291.5 2164.8 1292.7C2166.6 1294.0 2168.1 1295.0 2170.1 1296.2C2172.1 1297.4 2174.4 1298.7 2176.8 1299.9C2179.1 1301.1 2181.6 1302.2 2184.2 1303.4C2186.7 1304.6 2189.5 1305.9 2191.8 1307.2C2194.1 1308.5 2196.0 1309.8 2198.0 1311.1C2199.9 1312.4 2201.4 1313.6 2203.4 1314.9C2205.4 1316.2 2207.6 1317.6 2210.0 1319.1C2212.5 1320.6 2215.2 1322.2 2218.2 1324.1C2221.2 1326.0 2224.6 1328.7 2227.9 1330.4C2231.2 1332.0 2234.0 1333.0 2237.9 1333.9C2241.7 1334.7 2246.7 1335.1 2251.2 1335.5C2255.7 1335.9 2260.8 1336.1 2264.8 1336.3C2268.9 1336.5 2271.8 1336.6 2275.3 1336.6C2278.8 1336.6 2283.0 1336.1 2285.9 1336.4C2288.7 1336.6 2288.6 1336.7 2292.3 1338.2C2296.1 1339.7 2304.6 1342.9 2308.2 1345.4C2311.8 1348.0 2320.0 1351.3 2313.9 1353.5C2307.9 1355.6 2300.7 1357.1 2272.1 1358.3C2243.6 1359.4 2184.2 1360.3 2142.8 1360.4C2101.4 1360.5 2047.5 1359.5 2023.9 1359.1C2000.2 1358.7 2009.3 1360.3 2001.0 1357.8Z" fill="#bde2ee"/>
<path d="M1997.3 1357.3C1948.2 1351.8 1997.2 1334.0 1997.3 1324.0C1997.5 1314.0 1997.6 1305.9 1998.2 1297.3C1998.7 1288.7 1999.4 1280.7 2000.7 1272.3C2001.9 1264.0 2003.7 1255.7 2005.7 1247.3C2007.6 1239.0 2009.3 1230.1 2012.3 1222.3C2015.4 1214.6 2019.6 1207.3 2024.0 1200.7C2028.4 1194.0 2033.7 1187.3 2039.0 1182.3C2044.3 1177.3 2049.8 1173.6 2055.7 1170.7C2061.5 1167.8 2067.9 1165.7 2074.0 1164.8C2080.1 1164.0 2086.8 1164.7 2092.3 1165.7C2097.9 1166.6 2103.2 1168.2 2107.3 1170.7C2111.5 1173.2 2114.6 1176.8 2117.3 1180.7C2120.1 1184.6 2122.3 1188.4 2124.0 1194.0C2125.7 1199.6 2126.2 1206.5 2127.3 1214.0C2128.4 1221.5 2129.3 1230.7 2130.7 1239.0C2132.1 1247.3 2133.7 1257.1 2135.7 1264.0C2137.6 1270.9 2139.0 1275.9 2142.3 1280.7C2145.7 1285.4 2150.7 1288.7 2155.7 1292.3C2160.7 1295.9 2166.2 1299.3 2172.3 1302.3C2178.4 1305.4 2186.2 1307.6 2192.3 1310.7C2198.4 1313.7 2202.1 1316.8 2209.0 1320.7C2215.9 1324.6 2224.2 1331.2 2234.0 1334.0C2243.8 1336.8 2258.3 1336.5 2268.0 1337.3C2277.7 1338.2 2288.3 1335.7 2292.3 1339.0C2296.4 1342.3 2341.5 1354.3 2292.3 1357.3C2243.2 1360.4 2046.5 1362.9 1997.3 1357.3Z" fill="#a1d1e5"/>
<path d="M2014.1 1357.9C2000.4 1356.8 1998.2 1357.6 1996.3 1353.3C1994.4 1349.0 2000.9 1336.8 2002.7 1332.2C2004.4 1327.7 2005.9 1328.2 2006.6 1325.7C2007.4 1323.3 2007.1 1320.3 2007.4 1317.4C2007.6 1314.6 2007.9 1311.6 2008.2 1308.4C2008.4 1305.2 2008.6 1301.5 2008.8 1298.4C2008.9 1295.2 2009.0 1292.6 2009.1 1289.5C2009.3 1286.3 2009.5 1282.9 2009.8 1279.6C2010.1 1276.3 2010.5 1273.0 2010.9 1269.7C2011.3 1266.4 2011.8 1263.0 2012.4 1259.8C2012.9 1256.7 2013.4 1254.1 2014.1 1251.0C2014.8 1247.8 2015.6 1244.2 2016.4 1240.9C2017.3 1237.5 2018.2 1234.1 2019.2 1231.0C2020.2 1227.8 2021.2 1224.8 2022.4 1221.9C2023.6 1219.0 2024.9 1216.1 2026.2 1213.5C2027.5 1210.9 2028.6 1208.9 2030.1 1206.5C2031.6 1204.1 2033.4 1201.4 2035.3 1199.0C2037.1 1196.6 2039.0 1194.1 2041.0 1192.0C2043.0 1189.9 2044.9 1188.0 2047.1 1186.2C2049.3 1184.3 2051.8 1182.5 2054.3 1181.0C2056.8 1179.5 2059.3 1178.2 2061.9 1177.1C2064.5 1176.0 2067.0 1175.1 2069.8 1174.4C2072.6 1173.8 2075.9 1173.3 2078.8 1173.1C2081.6 1172.9 2084.3 1173.1 2086.8 1173.3C2089.3 1173.4 2091.2 1173.5 2093.7 1173.9C2096.2 1174.4 2099.4 1175.0 2101.9 1175.9C2104.3 1176.8 2106.7 1178.3 2108.5 1179.4C2110.3 1180.5 2111.4 1181.5 2112.7 1182.5C2114.0 1183.6 2115.0 1184.5 2116.1 1185.7C2117.1 1187.0 2118.2 1188.6 2119.1 1190.3C2120.0 1192.0 2120.8 1194.0 2121.5 1196.0C2122.2 1197.9 2122.7 1199.8 2123.1 1202.0C2123.6 1204.1 2124.0 1206.4 2124.4 1208.8C2124.7 1211.2 2125.1 1213.7 2125.4 1216.4C2125.8 1219.0 2126.1 1221.6 2126.5 1224.6C2126.9 1227.7 2127.3 1231.5 2127.7 1234.6C2128.2 1237.8 2128.5 1240.7 2129.1 1243.7C2129.6 1246.8 2130.2 1249.7 2130.9 1252.9C2131.6 1256.0 2132.4 1259.6 2133.3 1262.8C2134.1 1266.0 2135.1 1269.3 2136.0 1272.1C2136.9 1274.9 2137.6 1277.3 2138.5 1279.6C2139.4 1281.8 2140.1 1283.9 2141.3 1285.7C2142.4 1287.5 2143.8 1289.1 2145.3 1290.3C2146.7 1291.4 2148.2 1291.8 2149.8 1292.6C2151.5 1293.4 2153.7 1294.1 2155.4 1294.9C2157.1 1295.8 2158.3 1296.5 2159.9 1297.5C2161.6 1298.5 2163.5 1299.8 2165.1 1300.8C2166.8 1301.8 2168.1 1302.6 2169.9 1303.6C2171.7 1304.6 2174.0 1305.7 2176.0 1306.6C2178.0 1307.6 2179.5 1308.2 2181.8 1309.2C2184.0 1310.2 2186.9 1311.4 2189.4 1312.5C2191.8 1313.6 2194.1 1314.6 2196.4 1315.8C2198.8 1317.0 2201.0 1318.1 2203.6 1319.5C2206.2 1320.9 2209.1 1322.4 2212.1 1324.2C2215.2 1325.9 2218.4 1328.3 2222.0 1330.1C2225.5 1331.9 2229.3 1333.7 2233.2 1334.8C2237.1 1336.0 2240.8 1336.3 2245.3 1336.8C2249.7 1337.3 2255.3 1337.4 2259.8 1337.7C2264.3 1337.9 2268.6 1338.3 2272.3 1338.4C2276.1 1338.4 2279.3 1338.0 2282.3 1338.1C2285.4 1338.2 2287.8 1338.1 2290.9 1339.0C2293.9 1339.9 2296.8 1341.4 2300.7 1343.5C2304.7 1345.6 2315.8 1349.5 2314.4 1351.8C2313.0 1354.1 2311.3 1356.0 2292.3 1357.3C2273.4 1358.7 2236.5 1359.4 2200.8 1359.8C2165.1 1360.3 2109.4 1360.4 2078.3 1360.0C2047.2 1359.7 2027.8 1359.1 2014.1 1357.9Z" fill="#87bdd9"/>
<path d="M2015.7 1357.3C1969.6 1352.9 2015.1 1339.3 2015.7 1330.7C2016.2 1322.1 2018.3 1314.0 2019.0 1305.7C2019.7 1297.3 2019.3 1289.0 2019.8 1280.7C2020.4 1272.3 2020.8 1264.0 2022.3 1255.7C2023.9 1247.3 2026.5 1238.2 2029.0 1230.7C2031.5 1223.2 2033.7 1216.8 2037.3 1210.7C2040.9 1204.6 2045.7 1198.4 2050.7 1194.0C2055.7 1189.6 2061.5 1186.1 2067.3 1184.0C2073.2 1181.9 2079.8 1181.6 2085.7 1181.5C2091.5 1181.4 2097.6 1181.9 2102.3 1183.2C2107.1 1184.4 2110.9 1185.8 2114.0 1189.0C2117.1 1192.2 2119.0 1196.8 2120.7 1202.3C2122.3 1207.9 2122.9 1214.8 2124.0 1222.3C2125.1 1229.8 2125.7 1239.0 2127.3 1247.3C2129.0 1255.7 2131.8 1264.8 2134.0 1272.3C2136.2 1279.8 2137.1 1288.2 2140.7 1292.3C2144.3 1296.5 2150.9 1295.1 2155.7 1297.3C2160.4 1299.6 2164.0 1302.9 2169.0 1305.7C2174.0 1308.4 2179.6 1311.2 2185.7 1314.0C2191.8 1316.8 2197.9 1318.7 2205.7 1322.3C2213.4 1325.9 2221.9 1332.9 2232.3 1335.7C2242.7 1338.4 2258.0 1338.2 2268.0 1339.0C2278.0 1339.8 2288.3 1337.6 2292.3 1340.7C2296.4 1343.7 2338.4 1354.6 2292.3 1357.3C2246.2 1360.1 2061.8 1361.8 2015.7 1357.3Z" fill="#6ea6ce"/>
<path d="M2069.8 1240.7C2070.2 1237.6 2071.4 1233.6 2074.0 1230.7C2076.6 1227.8 2081.8 1223.9 2085.7 1223.2C2089.6 1222.5 2094.4 1223.9 2097.3 1226.5C2100.2 1229.1 2102.5 1234.7 2103.2 1239.0C2103.9 1243.3 2102.8 1248.6 2101.5 1252.3C2100.2 1256.1 2098.3 1259.4 2095.7 1261.5C2093.0 1263.6 2088.7 1265.5 2085.7 1264.8C2082.6 1264.1 2079.7 1260.0 2077.3 1257.3C2075.0 1254.7 2072.8 1251.8 2071.5 1249.0C2070.2 1246.2 2069.4 1243.7 2069.8 1240.7Z" fill="#588cc0"/>
<path d="M2002.3 1337.3C2007.3 1332.6 2016.2 1331.2 2025.7 1329.0C2035.1 1326.8 2047.9 1324.3 2059.0 1324.0C2070.1 1323.7 2081.2 1325.9 2092.3 1327.3C2103.4 1328.7 2114.6 1330.4 2125.7 1332.3C2136.8 1334.3 2145.1 1337.5 2159.0 1339.0C2172.9 1340.5 2190.8 1340.9 2209.0 1341.5C2227.2 1342.1 2254.1 1342.4 2268.0 1342.7C2281.9 1343.0 2288.3 1340.9 2292.3 1343.3C2296.4 1345.8 2341.8 1355.0 2292.3 1357.3C2242.9 1359.7 2044.0 1360.7 1995.7 1357.3C1947.3 1354.0 1997.3 1342.1 2002.3 1337.3Z" fill="#588cc0"/>
<path d="M2017.3 1345.7 L2059.0 1340.7 L2109.0 1342.3 L2159.0 1344.0 L2268.0 1345.0 L2292.3 1345.3 L2292.3 1357.3 L2012.3 1357.3Z" fill="#3a54a4"/>
<path d="M2012.3 1347.3 L2292.3 1347.0 L2292.3 1357.3 L2009.0 1357.3Z" fill="#313695"/>
<path d="M2139.0 1190.0C2139.0 1188.8 2138.0 1165.0 2138.2 1156.7C2138.3 1148.3 2138.6 1147.2 2139.8 1140.0C2141.1 1132.8 2142.8 1121.9 2145.7 1113.3C2148.6 1104.7 2152.9 1096.1 2157.3 1088.3C2161.8 1080.6 2167.1 1073.1 2172.3 1066.7C2177.6 1060.3 2183.2 1054.4 2189.0 1050.0C2194.8 1045.6 2204.8 1040.8 2207.3 1040.0C2209.8 1039.2 2200.0 1046.4 2204.0 1045.0C2208.0 1043.6 2224.0 1033.4 2231.5 1031.5C2239.0 1029.6 2241.1 1031.8 2249.0 1033.5C2256.9 1035.2 2266.5 1038.5 2279.0 1041.5C2291.5 1044.5 2304.0 1048.4 2324.0 1051.5C2344.0 1054.6 2379.0 1057.3 2399.0 1060.0C2419.0 1062.7 2429.0 1065.0 2444.0 1067.5C2459.0 1070.0 2478.6 1072.5 2489.0 1075.0C2499.4 1077.5 2503.0 1079.9 2506.5 1082.5C2510.0 1085.1 2509.7 1088.2 2509.8 1090.7C2510.0 1093.1 2510.8 1095.0 2507.3 1097.3C2503.9 1099.7 2494.3 1102.3 2489.0 1104.8C2483.7 1107.3 2479.0 1109.1 2475.7 1112.3C2472.3 1115.5 2469.6 1120.1 2469.0 1124.0C2468.4 1127.9 2470.4 1132.1 2472.3 1135.7C2474.3 1139.3 2477.1 1143.7 2480.7 1145.7C2484.3 1147.6 2489.3 1148.7 2494.0 1147.3C2498.7 1145.9 2504.8 1141.5 2509.0 1137.3C2513.2 1133.2 2515.4 1126.8 2519.0 1122.3C2522.6 1117.9 2525.1 1114.1 2530.7 1110.7C2536.2 1107.2 2545.9 1103.4 2552.3 1101.5C2558.7 1099.6 2560.7 1099.3 2569.0 1099.0C2577.3 1098.7 2591.2 1099.1 2602.3 1099.8C2613.4 1100.5 2626.8 1101.8 2635.7 1103.2C2644.6 1104.6 2649.8 1105.8 2655.7 1108.2C2661.5 1110.5 2666.9 1113.6 2670.7 1117.3C2674.4 1121.1 2676.8 1126.2 2678.2 1130.7C2679.6 1135.1 2679.4 1139.6 2679.0 1144.0C2678.6 1148.4 2677.9 1152.6 2675.7 1157.3C2673.4 1162.1 2669.6 1167.6 2665.7 1172.3C2661.8 1177.1 2657.3 1181.8 2652.3 1185.7C2647.3 1189.6 2641.8 1192.8 2635.7 1195.7C2629.6 1198.6 2624.0 1201.4 2615.7 1203.2C2607.3 1205.0 2594.0 1205.7 2585.7 1206.5C2577.3 1207.3 2571.2 1207.5 2565.7 1208.2C2560.1 1208.9 2555.2 1209.1 2552.3 1210.7C2549.4 1212.2 2547.9 1214.6 2548.2 1217.3C2548.4 1220.1 2553.9 1224.3 2554.0 1227.3C2554.1 1230.4 2552.1 1233.0 2549.0 1235.7C2545.9 1238.3 2542.6 1241.9 2535.7 1243.2C2528.7 1244.4 2512.6 1241.6 2507.3 1243.2C2502.1 1244.7 2504.3 1248.9 2504.0 1252.3C2503.7 1255.8 2504.7 1261.2 2505.7 1264.0C2506.6 1266.8 2509.6 1266.8 2509.8 1269.0C2510.1 1271.2 2506.9 1273.4 2507.3 1277.3C2507.8 1281.2 2512.6 1288.4 2512.3 1292.3C2512.1 1296.2 2505.7 1297.1 2505.7 1300.7C2505.7 1304.3 2509.6 1309.8 2512.3 1314.0C2515.1 1318.2 2518.4 1322.9 2522.3 1325.7C2526.2 1328.4 2530.7 1329.3 2535.7 1330.7C2540.7 1332.1 2548.2 1332.3 2552.3 1334.0C2556.5 1335.7 2558.7 1337.1 2560.7 1340.7C2562.6 1344.3 2608.7 1353.2 2564.0 1355.7C2519.3 1358.2 2337.6 1359.4 2292.3 1355.7C2247.1 1351.9 2296.4 1337.3 2292.3 1333.2C2288.3 1329.0 2277.4 1331.4 2268.0 1330.7C2258.6 1330.0 2241.9 1330.1 2235.7 1329.0C2229.4 1327.9 2233.4 1326.8 2230.7 1324.0C2227.9 1321.2 2224.0 1315.7 2219.0 1312.3C2214.0 1309.0 2207.3 1307.3 2200.7 1304.0C2194.0 1300.7 2185.4 1296.8 2179.0 1292.3C2172.6 1287.9 2167.1 1283.4 2162.3 1277.3C2157.6 1271.2 2154.0 1263.4 2150.7 1255.7C2147.3 1247.9 2144.3 1240.4 2142.3 1230.7C2140.4 1220.9 2139.7 1208.4 2139.0 1197.3C2138.3 1186.2 2138.2 1165.2 2138.2 1164.0C2138.2 1162.8 2139.0 1191.2 2139.0 1190.0Z" fill="#fed889"/>
<path d="M2479.0 1124.8C2479.1 1121.4 2482.2 1116.8 2484.8 1114.0C2487.5 1111.2 2491.2 1108.4 2494.8 1108.2C2498.4 1107.9 2503.9 1110.0 2506.5 1112.3C2509.1 1114.7 2511.2 1118.7 2510.7 1122.3C2510.1 1125.9 2506.1 1131.4 2503.2 1134.0C2500.2 1136.6 2496.4 1138.0 2493.2 1138.2C2490.0 1138.3 2486.4 1137.1 2484.0 1134.8C2481.6 1132.6 2478.9 1128.3 2479.0 1124.8Z" fill="#fff8b5"/>
<path d="M2484.8 1124.0 L2489.0 1117.3 L2494.8 1113.7 L2502.3 1116.5 L2504.8 1122.3 L2499.0 1129.8 L2493.2 1132.7 L2487.3 1130.7Z" fill="#f7fcce"/>
<path d="M2139.5 1190.0C2139.3 1186.0 2139.2 1182.7 2139.2 1178.8C2139.2 1174.9 2139.3 1170.4 2139.5 1166.4C2139.8 1162.4 2140.2 1158.8 2141.0 1154.8C2141.7 1150.8 2142.7 1146.6 2143.8 1142.6C2145.0 1138.6 2146.4 1134.8 2148.0 1131.0C2149.6 1127.2 2151.1 1123.8 2153.3 1119.9C2155.5 1116.1 2158.2 1111.5 2160.9 1107.8C2163.7 1104.0 2166.5 1100.9 2169.7 1097.5C2172.9 1094.1 2176.3 1090.7 2180.0 1087.4C2183.7 1084.2 2186.5 1081.4 2191.9 1078.1C2197.3 1074.7 2207.2 1069.7 2212.4 1067.3C2217.5 1065.0 2216.9 1065.1 2222.8 1064.0C2228.8 1062.8 2242.3 1060.7 2248.3 1060.2C2254.3 1059.7 2254.5 1060.6 2258.9 1061.0C2263.2 1061.3 2268.6 1061.7 2274.4 1062.2C2280.1 1062.7 2287.3 1063.6 2293.4 1064.2C2299.4 1064.8 2304.9 1065.2 2310.6 1065.6C2316.3 1066.1 2321.5 1066.4 2327.3 1067.1C2333.1 1067.7 2339.8 1068.6 2345.4 1069.3C2351.0 1070.0 2355.3 1070.7 2361.0 1071.4C2366.7 1072.2 2373.8 1073.0 2379.6 1073.7C2385.5 1074.3 2391.2 1075.1 2396.2 1075.6C2401.3 1076.1 2405.6 1076.4 2409.7 1076.8C2413.8 1077.2 2417.5 1077.5 2421.0 1078.0C2424.4 1078.5 2427.7 1079.3 2430.5 1079.9C2433.3 1080.5 2435.3 1081.1 2437.8 1081.8C2440.3 1082.5 2441.9 1079.6 2445.6 1083.9C2449.2 1088.1 2457.6 1102.8 2459.6 1107.1C2461.7 1111.4 2458.5 1108.6 2457.8 1109.5C2457.2 1110.5 2455.9 1111.3 2455.8 1113.0C2455.7 1114.7 2456.4 1117.3 2457.1 1119.6C2457.8 1121.9 2458.9 1124.5 2459.8 1126.7C2460.7 1128.9 2461.5 1130.6 2462.7 1132.7C2463.9 1134.9 2465.3 1137.4 2467.1 1139.7C2468.8 1142.1 2470.9 1144.8 2473.0 1147.1C2475.1 1149.4 2477.4 1151.4 2479.7 1153.4C2482.0 1155.4 2484.5 1157.2 2486.7 1159.0C2489.0 1160.8 2491.1 1162.4 2492.9 1164.1C2494.8 1165.7 2492.3 1162.2 2498.0 1168.9C2503.7 1175.5 2524.3 1194.9 2526.9 1204.0C2529.4 1213.0 2515.4 1218.9 2513.2 1223.0C2511.0 1227.1 2514.4 1227.2 2513.6 1228.7C2512.7 1230.3 2510.2 1231.2 2508.3 1232.4C2506.4 1233.5 2504.2 1234.4 2502.2 1235.6C2500.2 1236.7 2498.0 1237.9 2496.3 1239.2C2494.6 1240.4 2492.7 1241.7 2492.0 1243.2C2491.4 1244.6 2492.0 1245.8 2492.3 1247.9C2492.6 1249.9 2493.6 1253.0 2493.9 1255.5C2494.3 1257.9 2494.3 1260.3 2494.4 1262.5C2494.5 1264.7 2494.6 1266.0 2494.7 1268.6C2494.7 1271.2 2494.7 1275.9 2494.7 1278.2C2494.7 1280.6 2494.4 1279.3 2494.6 1282.4C2494.8 1285.4 2495.1 1293.2 2495.8 1296.5C2496.4 1299.8 2497.5 1300.0 2498.4 1302.0C2499.3 1304.1 2500.1 1306.5 2501.3 1308.8C2502.4 1311.1 2503.8 1313.8 2505.3 1315.8C2506.7 1317.8 2508.2 1319.4 2509.9 1320.9C2511.5 1322.5 2513.4 1324.0 2515.2 1325.1C2516.9 1326.2 2518.4 1326.8 2520.5 1327.6C2522.6 1328.4 2524.6 1329.0 2527.9 1329.8C2531.2 1330.6 2535.9 1331.4 2540.0 1332.3C2544.2 1333.2 2549.8 1334.1 2552.8 1335.1C2555.8 1336.1 2556.8 1337.0 2558.2 1338.1C2559.6 1339.3 2558.4 1340.4 2561.3 1342.0C2564.1 1343.7 2575.0 1345.8 2575.3 1348.0C2575.6 1350.3 2582.3 1353.5 2563.1 1355.7C2543.8 1357.9 2492.4 1360.2 2459.8 1361.2C2427.1 1362.2 2385.5 1363.6 2367.1 1361.8C2348.8 1360.0 2349.7 1354.2 2349.7 1350.2C2349.7 1346.2 2367.1 1340.4 2367.1 1338.0C2367.1 1335.5 2355.5 1335.8 2349.5 1335.4C2343.5 1335.0 2337.9 1337.4 2330.9 1335.3C2323.9 1333.3 2312.8 1325.5 2307.2 1323.1C2301.6 1320.7 2301.0 1321.8 2297.3 1320.9C2293.6 1320.1 2289.9 1318.8 2285.1 1317.8C2280.3 1316.9 2274.2 1316.1 2268.6 1315.2C2262.9 1314.2 2258.0 1314.4 2251.3 1312.2C2244.7 1310.0 2234.4 1304.4 2228.7 1301.8C2223.1 1299.2 2221.4 1298.4 2217.3 1296.6C2213.3 1294.9 2208.6 1292.7 2204.5 1291.3C2200.4 1289.9 2196.6 1289.4 2192.8 1288.2C2189.1 1287.0 2185.7 1286.4 2182.0 1284.1C2178.2 1281.9 2173.9 1278.4 2170.4 1274.7C2166.9 1271.1 2163.5 1266.2 2160.9 1262.4C2158.2 1258.6 2156.5 1255.5 2154.5 1251.9C2152.6 1248.3 2150.8 1244.8 2149.2 1240.8C2147.5 1236.8 2145.8 1232.3 2144.5 1228.0C2143.2 1223.6 2142.1 1219.0 2141.4 1214.8C2140.6 1210.6 2140.3 1206.8 2139.9 1202.7C2139.6 1198.5 2139.6 1194.0 2139.5 1190.0Z" fill="#fdbf71"/>
<path d="M2139.8 1190.0C2139.6 1181.9 2139.4 1174.4 2140.7 1166.7C2141.9 1158.9 2144.0 1150.8 2147.3 1143.3C2150.7 1135.8 2155.1 1128.3 2160.7 1121.7C2166.2 1115.0 2173.2 1108.6 2180.7 1103.3C2188.2 1098.1 2197.1 1093.5 2205.7 1090.0C2214.3 1086.5 2224.3 1084.2 2232.3 1082.5C2240.4 1080.8 2244.6 1080.6 2254.0 1080.0C2263.4 1079.4 2277.1 1078.8 2289.0 1078.7C2300.9 1078.5 2313.7 1078.2 2325.7 1079.2C2337.6 1080.1 2349.3 1082.6 2360.7 1084.2C2372.1 1085.7 2384.3 1087.4 2394.0 1088.3C2403.7 1089.2 2412.1 1088.7 2419.0 1089.7C2425.9 1090.6 2430.7 1092.3 2435.7 1094.0C2440.7 1095.7 2447.6 1097.6 2449.0 1099.8C2450.4 1102.1 2443.4 1102.8 2444.0 1107.3C2444.6 1111.9 2449.3 1121.5 2452.3 1127.3C2455.4 1133.2 2458.2 1137.1 2462.3 1142.3C2466.5 1147.6 2472.1 1153.2 2477.3 1159.0C2482.6 1164.8 2488.7 1171.2 2494.0 1177.3C2499.3 1183.4 2505.7 1189.0 2509.0 1195.7C2512.3 1202.3 2515.7 1211.8 2514.0 1217.3C2512.3 1222.9 2504.3 1225.1 2499.0 1229.0C2493.7 1232.9 2484.6 1236.2 2482.3 1240.7C2480.1 1245.1 2485.1 1250.4 2485.7 1255.7C2486.2 1260.9 2485.9 1267.3 2485.7 1272.3C2485.4 1277.3 2482.9 1280.7 2484.0 1285.7C2485.1 1290.7 2489.6 1296.8 2492.3 1302.3C2495.1 1307.9 2497.3 1314.8 2500.7 1319.0C2504.0 1323.2 2507.9 1325.4 2512.3 1327.3C2516.8 1329.3 2520.7 1329.3 2527.3 1330.7C2534.0 1332.1 2546.8 1333.7 2552.3 1335.7C2557.9 1337.6 2559.0 1339.0 2560.7 1342.3C2562.3 1345.7 2595.4 1351.9 2562.3 1355.7C2529.3 1359.4 2395.7 1370.7 2362.3 1365.0C2329.0 1359.3 2366.8 1329.6 2362.3 1321.7C2357.9 1313.8 2345.7 1319.2 2335.7 1317.5C2325.7 1315.8 2313.4 1314.2 2302.3 1311.7C2291.2 1309.2 2280.1 1305.7 2269.0 1302.5C2257.9 1299.3 2245.7 1296.0 2235.7 1292.5C2225.7 1289.0 2217.3 1284.0 2209.0 1281.7C2200.7 1279.3 2192.9 1281.9 2185.7 1278.3C2178.4 1274.7 2171.2 1266.4 2165.7 1260.0C2160.1 1253.6 2156.2 1247.5 2152.3 1240.0C2148.4 1232.5 2144.4 1223.3 2142.3 1215.0C2140.2 1206.7 2140.1 1198.1 2139.8 1190.0Z" fill="#fca55d"/>
<path d="M2147.5 1200.1C2147.3 1196.0 2147.3 1192.1 2147.4 1188.1C2147.4 1184.2 2147.5 1180.5 2148.1 1176.5C2148.7 1172.5 2149.5 1168.4 2150.8 1164.2C2152.1 1160.0 2153.7 1155.4 2155.7 1151.1C2157.7 1146.8 2160.0 1142.5 2162.8 1138.4C2165.5 1134.4 2168.7 1130.3 2172.1 1126.7C2175.5 1123.1 2178.9 1120.0 2183.0 1116.9C2187.0 1113.7 2191.9 1110.4 2196.5 1107.7C2201.1 1105.0 2205.4 1102.8 2210.4 1100.6C2215.3 1098.4 2220.8 1096.4 2226.4 1094.7C2231.9 1093.0 2238.0 1091.5 2243.5 1090.4C2249.1 1089.2 2254.3 1088.5 2259.9 1087.8C2265.4 1087.0 2271.2 1086.4 2277.0 1086.0C2282.7 1085.6 2288.9 1085.3 2294.5 1085.1C2300.1 1085.0 2305.0 1085.0 2310.5 1085.2C2316.1 1085.4 2322.2 1085.8 2328.0 1086.4C2333.8 1087.0 2339.5 1087.8 2345.1 1088.7C2350.8 1089.5 2356.4 1090.5 2362.1 1091.4C2367.8 1092.4 2373.8 1093.5 2379.3 1094.5C2384.8 1095.5 2390.5 1096.7 2395.2 1097.6C2399.9 1098.5 2401.5 1097.5 2407.6 1100.2C2413.7 1102.8 2426.9 1110.1 2431.8 1113.3C2436.7 1116.6 2435.5 1117.3 2437.2 1119.5C2438.9 1121.6 2441.1 1125.1 2441.9 1126.2C2442.8 1127.3 2442.1 1125.8 2442.3 1126.1C2442.5 1126.3 2442.1 1125.6 2443.2 1127.4C2444.3 1129.2 2446.6 1133.3 2449.1 1136.9C2451.5 1140.5 2454.6 1145.0 2457.9 1148.8C2461.1 1152.6 2465.0 1156.3 2468.4 1159.7C2471.8 1163.1 2475.6 1166.7 2478.4 1169.5C2481.2 1172.3 2483.4 1174.5 2485.3 1176.5C2487.2 1178.5 2488.2 1179.6 2489.8 1181.5C2491.4 1183.4 2493.3 1185.6 2495.0 1187.8C2496.6 1190.1 2498.6 1192.5 2500.0 1194.9C2501.4 1197.3 2503.2 1198.3 2503.3 1202.1C2503.4 1206.0 2501.2 1215.0 2500.7 1218.1C2500.1 1221.2 2500.5 1219.9 2499.9 1220.9C2499.3 1221.8 2499.1 1222.6 2497.2 1223.9C2495.3 1225.3 2491.4 1227.5 2488.7 1229.0C2486.0 1230.6 2483.3 1231.9 2481.2 1233.3C2479.2 1234.6 2477.6 1236.0 2476.3 1237.2C2475.1 1238.4 2474.2 1239.1 2473.8 1240.4C2473.3 1241.7 2473.5 1243.2 2473.6 1244.7C2473.8 1246.3 2474.2 1247.1 2474.9 1249.5C2475.6 1251.8 2477.3 1255.9 2478.0 1259.0C2478.7 1262.1 2479.1 1264.8 2479.1 1267.8C2479.1 1270.9 2478.3 1274.8 2478.0 1277.4C2477.6 1280.0 2477.2 1281.7 2477.2 1283.6C2477.2 1285.6 2477.7 1287.2 2478.1 1288.9C2478.6 1290.7 2479.3 1292.3 2480.0 1294.2C2480.8 1296.0 2481.7 1298.1 2482.7 1300.3C2483.7 1302.5 2485.0 1304.8 2486.0 1307.2C2487.0 1309.6 2487.9 1312.6 2488.9 1314.9C2490.0 1317.2 2490.9 1319.4 2492.4 1321.2C2493.8 1322.9 2495.6 1324.2 2497.6 1325.4C2499.7 1326.6 2501.8 1327.6 2504.7 1328.5C2507.6 1329.4 2511.2 1330.2 2515.0 1330.9C2518.7 1331.5 2523.1 1331.8 2527.3 1332.3C2531.6 1332.9 2536.3 1333.4 2540.6 1334.3C2544.9 1335.1 2548.2 1335.5 2553.0 1337.6C2557.8 1339.7 2568.1 1343.7 2569.4 1346.7C2570.6 1349.8 2578.6 1352.8 2560.7 1355.7C2542.7 1358.5 2494.8 1362.4 2461.8 1363.9C2428.7 1365.5 2380.7 1368.2 2362.3 1365.0C2344.0 1361.8 2351.6 1351.5 2351.6 1344.6C2351.6 1337.7 2362.6 1328.1 2362.5 1323.7C2362.4 1319.3 2355.6 1319.1 2351.1 1318.3C2346.6 1317.5 2340.9 1319.1 2335.7 1318.8C2330.4 1318.4 2325.0 1317.3 2319.4 1316.4C2313.9 1315.5 2308.0 1314.5 2302.3 1313.3C2296.7 1312.1 2291.2 1310.7 2285.7 1309.2C2280.1 1307.8 2274.6 1306.2 2269.0 1304.6C2263.4 1303.0 2257.5 1301.4 2251.9 1299.7C2246.4 1298.1 2240.5 1296.3 2235.7 1294.6C2230.8 1292.9 2227.3 1291.3 2222.8 1289.5C2218.4 1287.6 2213.3 1285.1 2209.0 1283.3C2204.7 1281.6 2201.2 1280.8 2196.8 1278.8C2192.5 1276.9 2186.9 1274.4 2183.0 1271.6C2179.1 1268.8 2176.4 1265.4 2173.4 1262.0C2170.3 1258.5 2167.4 1254.8 2164.8 1251.0C2162.2 1247.2 2159.9 1243.2 2157.8 1238.9C2155.7 1234.7 2153.5 1229.9 2152.0 1225.6C2150.5 1221.3 2149.5 1217.5 2148.8 1213.3C2148.1 1209.0 2147.8 1204.3 2147.5 1200.1Z" fill="#f8864f"/>
<path d="M2154.8 1200.0C2154.7 1192.2 2154.7 1184.2 2156.5 1176.7C2158.3 1169.2 2161.6 1161.9 2165.7 1155.0C2169.7 1148.1 2174.6 1141.1 2180.7 1135.0C2186.8 1128.9 2194.3 1123.3 2202.3 1118.3C2210.4 1113.3 2219.3 1108.8 2229.0 1105.0C2238.7 1101.2 2249.8 1098.1 2260.7 1095.8C2271.5 1093.6 2282.9 1092.1 2294.0 1091.7C2305.1 1091.2 2316.2 1092.2 2327.3 1093.3C2338.4 1094.4 2349.6 1096.1 2360.7 1098.3C2371.8 1100.6 2384.3 1103.6 2394.0 1106.7C2403.7 1109.7 2412.3 1112.8 2419.0 1116.7C2425.7 1120.6 2431.2 1127.7 2434.0 1130.0C2436.8 1132.3 2432.6 1126.7 2435.7 1130.7C2438.7 1134.7 2445.9 1146.8 2452.3 1154.0C2458.7 1161.2 2468.4 1168.7 2474.0 1174.0C2479.6 1179.3 2482.3 1181.5 2485.7 1185.7C2489.0 1189.8 2492.2 1194.8 2494.0 1199.0C2495.8 1203.2 2496.5 1207.2 2496.5 1210.7C2496.5 1214.1 2497.2 1216.8 2494.0 1219.8C2490.8 1222.9 2482.1 1225.8 2477.3 1229.0C2472.6 1232.2 2467.3 1235.1 2465.7 1239.0C2464.0 1242.9 2466.2 1247.6 2467.3 1252.3C2468.4 1257.1 2471.8 1262.1 2472.3 1267.3C2472.9 1272.6 2470.4 1279.0 2470.7 1284.0C2470.9 1289.0 2472.6 1292.9 2474.0 1297.3C2475.4 1301.8 2477.1 1305.9 2479.0 1310.7C2480.9 1315.4 2481.8 1322.1 2485.7 1325.7C2489.6 1329.3 2495.4 1330.9 2502.3 1332.3C2509.3 1333.7 2519.0 1332.9 2527.3 1334.0C2535.7 1335.1 2547.1 1335.4 2552.3 1339.0C2557.6 1342.6 2590.7 1351.3 2559.0 1355.7C2527.3 1360.0 2395.1 1370.4 2362.3 1365.0C2329.6 1359.6 2366.8 1330.8 2362.3 1323.3C2357.9 1315.8 2345.7 1321.4 2335.7 1320.0C2325.7 1318.6 2313.4 1317.2 2302.3 1315.0C2291.2 1312.8 2280.1 1309.7 2269.0 1306.7C2257.9 1303.6 2245.7 1300.3 2235.7 1296.7C2225.7 1293.1 2217.3 1289.7 2209.0 1285.0C2200.7 1280.3 2192.3 1274.4 2185.7 1268.3C2179.0 1262.2 2173.7 1255.8 2169.0 1248.3C2164.3 1240.8 2159.7 1231.4 2157.3 1223.3C2155.0 1215.3 2155.0 1207.8 2154.8 1200.0Z" fill="#f26841"/>
<path d="M2165.7 1203.3C2165.9 1196.7 2166.8 1187.2 2169.0 1180.0C2171.2 1172.8 2174.6 1166.4 2179.0 1160.0C2183.4 1153.6 2189.0 1146.9 2195.7 1141.7C2202.3 1136.4 2209.6 1132.2 2219.0 1128.3C2228.4 1124.4 2241.2 1120.8 2252.3 1118.3C2263.4 1115.8 2274.6 1114.3 2285.7 1113.3C2296.8 1112.4 2307.9 1111.9 2319.0 1112.5C2330.1 1113.1 2341.8 1114.6 2352.3 1116.7C2362.9 1118.8 2373.4 1121.7 2382.3 1125.0C2391.2 1128.3 2398.7 1131.9 2405.7 1136.7C2412.6 1141.4 2418.4 1147.8 2424.0 1153.3C2429.6 1158.9 2434.3 1164.4 2439.0 1170.0C2443.7 1175.6 2449.3 1181.9 2452.3 1186.7C2455.4 1191.4 2456.8 1194.2 2457.3 1198.3C2457.9 1202.5 2457.6 1207.5 2455.7 1211.7C2453.7 1215.8 2448.2 1219.2 2445.7 1223.3C2443.2 1227.5 2441.2 1231.7 2440.7 1236.7C2440.1 1241.7 2441.5 1247.2 2442.3 1253.3C2443.2 1259.4 2445.4 1266.7 2445.7 1273.3C2445.9 1280.0 2445.7 1287.8 2444.0 1293.3C2442.3 1298.9 2439.8 1303.1 2435.7 1306.7C2431.5 1310.3 2424.6 1313.3 2419.0 1315.0C2413.4 1316.7 2410.7 1316.9 2402.3 1316.7C2394.0 1316.4 2380.1 1314.4 2369.0 1313.3C2357.9 1312.2 2346.8 1311.1 2335.7 1310.0C2324.6 1308.9 2313.4 1308.9 2302.3 1306.7C2291.2 1304.4 2279.0 1300.0 2269.0 1296.7C2259.0 1293.3 2251.2 1290.6 2242.3 1286.7C2233.4 1282.8 2223.7 1278.3 2215.7 1273.3C2207.6 1268.3 2200.7 1262.8 2194.0 1256.7C2187.3 1250.6 2180.1 1242.8 2175.7 1236.7C2171.2 1230.6 2169.0 1225.6 2167.3 1220.0C2165.7 1214.4 2165.4 1210.0 2165.7 1203.3Z" fill="#e44c34"/>
<path d="M2174.0 1203.3C2173.9 1196.9 2174.6 1189.7 2176.5 1183.3C2178.4 1176.9 2181.4 1170.8 2185.7 1165.0C2190.0 1159.2 2195.7 1153.1 2202.3 1148.3C2209.0 1143.6 2217.3 1139.7 2225.7 1136.7C2234.0 1133.6 2243.4 1131.8 2252.3 1130.0C2261.2 1128.2 2270.4 1126.9 2279.0 1125.8C2287.6 1124.7 2295.1 1123.2 2304.0 1123.3C2312.9 1123.5 2323.2 1125.0 2332.3 1126.7C2341.5 1128.3 2350.7 1130.6 2359.0 1133.3C2367.3 1136.1 2375.7 1139.4 2382.3 1143.3C2389.0 1147.2 2394.0 1151.7 2399.0 1156.7C2404.0 1161.7 2408.7 1167.8 2412.3 1173.3C2415.9 1178.9 2418.4 1184.7 2420.7 1190.0C2422.9 1195.3 2425.9 1198.1 2425.7 1205.0C2425.4 1211.9 2422.3 1222.2 2419.0 1231.7C2415.7 1241.1 2408.4 1254.7 2405.7 1261.7C2402.9 1268.6 2403.4 1270.3 2402.3 1273.3C2401.2 1276.4 2399.8 1276.9 2399.0 1280.0C2398.2 1283.1 2399.3 1288.1 2397.3 1291.7C2395.4 1295.3 2390.7 1299.0 2387.3 1301.7C2384.0 1304.3 2383.2 1306.9 2377.3 1307.5C2371.5 1308.1 2360.7 1306.0 2352.3 1305.0C2344.0 1304.0 2335.7 1302.8 2327.3 1301.7C2319.0 1300.6 2310.7 1300.6 2302.3 1298.3C2294.0 1296.1 2285.7 1291.4 2277.3 1288.3C2269.0 1285.3 2260.7 1283.1 2252.3 1280.0C2244.0 1276.9 2235.1 1273.9 2227.3 1270.0C2219.6 1266.1 2212.1 1261.7 2205.7 1256.7C2199.3 1251.7 2193.7 1245.8 2189.0 1240.0C2184.3 1234.2 2179.8 1227.8 2177.3 1221.7C2174.8 1215.6 2174.1 1209.7 2174.0 1203.3Z" fill="#d62f27"/>
<path d="M2184.0 1206.7C2184.0 1201.1 2183.7 1193.1 2185.7 1186.7C2187.6 1180.3 2191.2 1173.9 2195.7 1168.3C2200.1 1162.8 2205.7 1157.8 2212.3 1153.3C2219.0 1148.9 2226.8 1144.7 2235.7 1141.7C2244.6 1138.6 2254.6 1136.7 2265.7 1135.0C2276.8 1133.3 2291.2 1131.7 2302.3 1131.7C2313.4 1131.7 2322.9 1133.1 2332.3 1135.0C2341.8 1136.9 2350.7 1139.7 2359.0 1143.3C2367.3 1146.9 2375.9 1151.7 2382.3 1156.7C2388.7 1161.7 2393.4 1167.8 2397.3 1173.3C2401.2 1178.9 2404.0 1184.4 2405.7 1190.0C2407.3 1195.6 2407.9 1201.1 2407.3 1206.7C2406.8 1212.2 2404.6 1217.8 2402.3 1223.3C2400.1 1228.9 2397.3 1234.4 2394.0 1240.0C2390.7 1245.6 2387.1 1251.7 2382.3 1256.7C2377.6 1261.7 2372.1 1266.4 2365.7 1270.0C2359.3 1273.6 2351.8 1276.1 2344.0 1278.3C2336.2 1280.6 2327.3 1282.8 2319.0 1283.3C2310.7 1283.9 2302.9 1283.3 2294.0 1281.7C2285.1 1280.0 2274.8 1276.4 2265.7 1273.3C2256.5 1270.3 2247.3 1267.2 2239.0 1263.3C2230.7 1259.4 2222.9 1255.3 2215.7 1250.0C2208.4 1244.7 2200.7 1236.7 2195.7 1231.7C2190.7 1226.7 2187.6 1224.2 2185.7 1220.0C2183.7 1215.8 2184.0 1212.2 2184.0 1206.7Z" fill="#be1827"/>
<path d="M2194.0 1206.7C2193.4 1201.4 2194.0 1195.3 2195.7 1190.0C2197.3 1184.7 2200.1 1179.7 2204.0 1175.0C2207.9 1170.3 2213.2 1165.6 2219.0 1161.7C2224.8 1157.8 2231.2 1154.3 2239.0 1151.7C2246.8 1149.0 2255.1 1147.2 2265.7 1145.8C2276.2 1144.4 2292.1 1143.2 2302.3 1143.3C2312.6 1143.5 2319.0 1144.7 2327.3 1146.7C2335.7 1148.6 2344.8 1151.7 2352.3 1155.0C2359.8 1158.3 2367.1 1162.8 2372.3 1166.7C2377.6 1170.6 2381.1 1174.2 2384.0 1178.3C2386.9 1182.5 2389.3 1187.2 2389.8 1191.7C2390.4 1196.1 2388.6 1200.3 2387.3 1205.0C2386.1 1209.7 2384.3 1215.3 2382.3 1220.0C2380.4 1224.7 2378.4 1228.9 2375.7 1233.3C2372.9 1237.8 2369.6 1242.8 2365.7 1246.7C2361.8 1250.6 2357.9 1253.6 2352.3 1256.7C2346.8 1259.7 2340.4 1262.6 2332.3 1265.0C2324.3 1267.4 2313.2 1270.6 2304.0 1270.8C2294.8 1271.1 2285.9 1268.8 2277.3 1266.7C2268.7 1264.6 2259.8 1261.4 2252.3 1258.3C2244.8 1255.3 2239.0 1252.2 2232.3 1248.3C2225.7 1244.4 2217.9 1239.4 2212.3 1235.0C2206.8 1230.6 2202.1 1226.4 2199.0 1221.7C2195.9 1216.9 2194.6 1211.9 2194.0 1206.7Z" fill="#a50026"/>
<path d="M2362.0 1336.0 L2450.0 1333.0 L2540.0 1335.0 L2558.0 1340.0 L2562.0 1355.0 L2355.0 1355.0Z" fill="#e44c34"/>
<path d="M2380.0 1341.0 L2480.0 1339.0 L2530.0 1343.0 L2535.0 1355.0 L2375.0 1355.0Z" fill="#be1827"/>
<path d="M2518.1 1168.8C2518.0 1166.3 2518.0 1163.4 2518.0 1160.8C2518.1 1158.2 2518.2 1155.6 2518.4 1153.1C2518.6 1150.6 2518.1 1149.5 2519.2 1145.8C2520.2 1142.1 2523.6 1134.0 2524.9 1130.8C2526.3 1127.7 2526.1 1128.4 2527.2 1126.8C2528.3 1125.2 2529.7 1123.2 2531.5 1121.5C2533.3 1119.8 2535.8 1118.1 2537.9 1116.8C2540.0 1115.4 2542.0 1114.6 2544.3 1113.5C2546.6 1112.4 2548.8 1111.3 2551.7 1110.2C2554.7 1109.1 2558.8 1107.7 2562.1 1106.9C2565.4 1106.0 2568.3 1105.7 2571.6 1105.2C2574.8 1104.8 2578.4 1104.6 2581.6 1104.3C2584.7 1104.1 2587.7 1103.9 2590.8 1103.9C2593.8 1103.8 2596.6 1103.7 2599.8 1103.8C2603.0 1103.8 2607.1 1104.1 2610.0 1104.2C2612.9 1104.3 2614.6 1104.4 2617.1 1104.6C2619.6 1104.7 2622.6 1104.9 2625.1 1105.1C2627.6 1105.3 2630.2 1105.5 2632.3 1105.7C2634.5 1105.9 2635.8 1106.1 2637.8 1106.4C2639.9 1106.7 2642.6 1107.1 2644.8 1107.6C2646.9 1108.0 2648.8 1108.4 2650.9 1109.1C2653.0 1109.8 2655.3 1110.8 2657.3 1111.7C2659.2 1112.6 2660.8 1113.4 2662.6 1114.6C2664.3 1115.7 2666.1 1117.0 2667.7 1118.5C2669.3 1120.1 2670.9 1122.1 2672.1 1123.9C2673.3 1125.8 2674.2 1127.6 2675.0 1129.5C2675.8 1131.4 2676.4 1133.5 2676.8 1135.4C2677.2 1137.2 2677.2 1138.9 2677.3 1140.6C2677.3 1142.4 2677.2 1144.1 2676.9 1145.9C2676.7 1147.7 2676.4 1149.4 2675.8 1151.3C2675.3 1153.3 2674.3 1155.7 2673.4 1157.6C2672.6 1159.6 2671.7 1161.1 2670.6 1162.9C2669.4 1164.8 2668.0 1166.9 2666.7 1168.7C2665.4 1170.5 2664.2 1172.0 2662.8 1173.6C2661.4 1175.2 2660.1 1176.7 2658.4 1178.3C2656.7 1179.9 2654.6 1181.7 2652.7 1183.2C2650.9 1184.7 2649.2 1185.9 2647.2 1187.3C2645.2 1188.6 2642.9 1190.0 2640.8 1191.2C2638.7 1192.4 2636.8 1193.3 2634.7 1194.4C2632.5 1195.4 2629.8 1196.6 2627.7 1197.4C2625.6 1198.2 2624.4 1198.7 2622.3 1199.3C2620.3 1199.8 2617.9 1200.5 2615.5 1200.9C2613.2 1201.3 2611.2 1201.5 2608.3 1201.7C2605.4 1201.9 2601.4 1202.1 2598.2 1202.2C2595.1 1202.3 2592.5 1202.2 2589.4 1202.2C2586.4 1202.2 2582.8 1202.4 2579.9 1202.4C2576.9 1202.4 2574.1 1202.3 2571.6 1202.3C2569.1 1202.3 2566.9 1202.2 2564.8 1202.3C2562.7 1202.4 2560.8 1202.6 2558.9 1202.8C2557.1 1203.0 2555.6 1203.3 2553.6 1203.5C2551.7 1203.7 2549.1 1203.9 2547.3 1204.3C2545.6 1204.6 2544.6 1205.2 2543.2 1205.6C2541.8 1206.0 2540.6 1206.5 2539.0 1206.6C2537.4 1206.7 2535.7 1206.8 2533.5 1206.0C2531.4 1205.2 2527.8 1203.4 2526.0 1201.7C2524.1 1200.1 2523.3 1198.8 2522.3 1196.4C2521.2 1193.9 2520.3 1190.5 2519.7 1187.1C2519.1 1183.6 2518.7 1178.8 2518.4 1175.8C2518.1 1172.7 2518.1 1171.3 2518.1 1168.8Z" fill="#fdbf71"/>
<path d="M2525.7 1167.3C2526.2 1159.6 2527.3 1153.4 2529.0 1147.3C2530.7 1141.2 2532.6 1135.0 2535.7 1130.7C2538.7 1126.4 2541.8 1124.6 2547.3 1121.5C2552.9 1118.4 2561.2 1114.6 2569.0 1112.3C2576.8 1110.1 2585.9 1108.9 2594.0 1108.2C2602.1 1107.5 2610.4 1108.0 2617.3 1108.2C2624.3 1108.3 2629.8 1108.3 2635.7 1109.0C2641.5 1109.7 2647.3 1110.4 2652.3 1112.3C2657.3 1114.3 2662.1 1117.1 2665.7 1120.7C2669.3 1124.3 2672.5 1129.6 2674.0 1134.0C2675.5 1138.4 2675.7 1142.6 2674.8 1147.3C2674.0 1152.1 2671.6 1157.6 2669.0 1162.3C2666.4 1167.1 2663.2 1171.5 2659.0 1175.7C2654.8 1179.8 2649.3 1184.0 2644.0 1187.3C2638.7 1190.7 2632.9 1193.7 2627.3 1195.7C2621.8 1197.6 2617.6 1198.6 2610.7 1199.0C2603.7 1199.4 2593.4 1198.6 2585.7 1198.2C2577.9 1197.8 2570.1 1196.6 2564.0 1196.5C2557.9 1196.4 2553.4 1196.4 2549.0 1197.3C2544.6 1198.3 2541.2 1202.9 2537.3 1202.3C2533.4 1201.8 2527.6 1199.8 2525.7 1194.0C2523.7 1188.2 2525.1 1175.1 2525.7 1167.3Z" fill="#fca55d"/>
<path d="M2531.7 1163.8C2532.2 1162.2 2533.1 1159.9 2534.0 1157.7C2535.0 1155.6 2536.3 1153.1 2537.3 1150.8C2538.4 1148.6 2538.8 1147.1 2540.5 1144.2C2542.2 1141.4 2545.5 1136.0 2547.3 1133.5C2549.2 1131.0 2550.2 1130.7 2551.7 1129.3C2553.3 1128.0 2555.2 1126.7 2556.8 1125.6C2558.5 1124.4 2560.1 1123.4 2561.8 1122.4C2563.5 1121.4 2565.3 1120.5 2567.0 1119.6C2568.8 1118.8 2570.5 1118.0 2572.3 1117.4C2574.1 1116.7 2575.9 1116.1 2577.8 1115.5C2579.8 1114.9 2581.9 1114.3 2584.0 1113.7C2586.2 1113.1 2588.1 1112.5 2590.7 1111.9C2593.4 1111.3 2596.9 1110.7 2599.8 1110.4C2602.7 1110.0 2605.2 1109.9 2608.2 1109.8C2611.2 1109.7 2614.5 1109.7 2617.7 1109.8C2620.8 1109.9 2624.0 1110.0 2627.1 1110.4C2630.3 1110.7 2633.6 1111.1 2636.6 1111.8C2639.5 1112.4 2642.1 1112.9 2644.9 1114.0C2647.8 1115.1 2650.7 1116.2 2653.6 1118.3C2656.5 1120.4 2660.0 1123.5 2662.4 1126.6C2664.8 1129.7 2666.9 1133.9 2668.2 1136.8C2669.4 1139.8 2669.6 1142.5 2669.9 1144.4C2670.1 1146.4 2669.9 1147.2 2669.7 1148.5C2669.6 1149.8 2669.4 1150.7 2669.0 1152.1C2668.6 1153.5 2668.0 1155.3 2667.4 1156.8C2666.8 1158.4 2666.0 1160.0 2665.2 1161.5C2664.4 1163.0 2663.6 1164.5 2662.6 1165.9C2661.7 1167.3 2660.5 1168.7 2659.5 1170.0C2658.4 1171.2 2657.5 1172.2 2656.3 1173.4C2655.1 1174.6 2653.6 1176.0 2652.1 1177.3C2650.6 1178.7 2649.0 1180.0 2647.4 1181.3C2645.7 1182.5 2644.1 1183.7 2642.3 1184.8C2640.6 1186.0 2638.9 1187.0 2636.9 1188.0C2635.0 1189.1 2632.5 1190.2 2630.5 1191.1C2628.5 1192.0 2626.8 1192.7 2624.9 1193.3C2622.9 1194.0 2620.9 1194.7 2618.8 1195.2C2616.7 1195.7 2614.4 1196.1 2612.4 1196.3C2610.5 1196.6 2608.7 1196.6 2607.1 1196.6C2605.5 1196.6 2604.3 1196.5 2602.6 1196.3C2600.9 1196.2 2598.6 1196.0 2596.8 1196.0C2595.0 1195.9 2593.7 1196.0 2591.9 1195.9C2590.1 1195.9 2587.9 1195.9 2586.0 1195.8C2584.0 1195.7 2582.1 1195.6 2580.1 1195.3C2578.1 1195.0 2576.2 1194.5 2574.1 1194.1C2572.0 1193.7 2569.6 1193.1 2567.4 1192.7C2565.3 1192.3 2563.3 1192.0 2561.4 1191.7C2559.5 1191.3 2557.6 1191.0 2556.0 1190.7C2554.3 1190.4 2553.0 1190.1 2551.5 1190.0C2550.1 1189.8 2550.3 1191.2 2547.2 1189.8C2544.0 1188.4 2535.3 1183.3 2532.6 1181.5C2529.9 1179.8 2531.4 1180.2 2531.1 1179.4C2530.7 1178.6 2530.6 1177.8 2530.5 1176.6C2530.4 1175.5 2530.5 1173.6 2530.5 1172.5C2530.5 1171.4 2530.5 1170.7 2530.5 1169.9C2530.6 1169.1 2530.5 1168.5 2530.7 1167.5C2530.9 1166.5 2531.1 1165.4 2531.7 1163.8Z" fill="#f8864f"/>
<path d="M2537.3 1164.0C2539.6 1160.1 2545.7 1153.7 2549.0 1149.0C2552.3 1144.3 2554.0 1139.6 2557.3 1135.7C2560.7 1131.8 2564.8 1128.4 2569.0 1125.7C2573.2 1122.9 2576.8 1121.2 2582.3 1119.0C2587.9 1116.8 2594.8 1113.4 2602.3 1112.3C2609.8 1111.2 2619.6 1110.9 2627.3 1112.3C2635.1 1113.7 2643.0 1115.9 2649.0 1120.7C2655.0 1125.4 2660.5 1135.7 2663.2 1140.7C2665.8 1145.7 2665.2 1147.1 2664.8 1150.7C2664.4 1154.3 2662.8 1158.7 2660.7 1162.3C2658.6 1165.9 2655.7 1169.0 2652.3 1172.3C2649.0 1175.7 2645.1 1179.4 2640.7 1182.3C2636.2 1185.2 2630.7 1187.9 2625.7 1189.8C2620.7 1191.8 2615.4 1193.4 2610.7 1194.0C2605.9 1194.6 2602.1 1193.3 2597.3 1193.2C2592.6 1193.0 2587.6 1194.0 2582.3 1193.2C2577.1 1192.3 2570.9 1189.8 2565.7 1188.2C2560.4 1186.5 2555.2 1184.4 2550.7 1183.2C2546.1 1181.9 2540.7 1182.5 2538.2 1180.7C2535.7 1178.9 2535.8 1175.1 2535.7 1172.3C2535.5 1169.6 2535.1 1167.9 2537.3 1164.0Z" fill="#f26841"/>
<path d="M2580.7 1170.7C2579.6 1168.4 2582.6 1165.4 2585.7 1162.3C2588.7 1159.3 2594.8 1155.4 2599.0 1152.3C2603.2 1149.3 2605.9 1145.5 2610.7 1144.0C2615.4 1142.5 2622.6 1142.3 2627.3 1143.2C2632.1 1144.0 2636.6 1146.4 2639.0 1149.0C2641.4 1151.6 2642.1 1155.7 2641.5 1159.0C2640.9 1162.3 2638.6 1166.2 2635.7 1169.0C2632.8 1171.8 2628.7 1174.1 2624.0 1175.7C2619.3 1177.2 2612.6 1178.2 2607.3 1178.2C2602.1 1178.2 2596.8 1176.9 2592.3 1175.7C2587.9 1174.4 2581.8 1172.9 2580.7 1170.7Z" fill="#e44c34"/>
<path d="M2915.7 1314.0C2917.3 1303.0 2914.6 1260.0 2915.7 1247.3C2916.8 1234.7 2919.0 1241.4 2922.3 1238.2C2925.7 1235.0 2931.6 1231.5 2935.7 1228.2C2939.7 1224.8 2943.2 1217.8 2946.5 1218.2C2949.8 1218.6 2952.5 1235.5 2955.7 1230.7C2958.9 1225.8 2962.9 1200.1 2965.7 1189.0C2968.4 1177.9 2970.1 1172.3 2972.3 1164.0C2974.6 1155.7 2975.9 1145.7 2979.0 1139.0C2982.1 1132.3 2985.9 1127.6 2990.7 1124.0C2995.4 1120.4 3002.8 1119.4 3007.3 1117.3C3011.9 1115.2 3014.6 1110.9 3018.2 1111.5C3021.8 1112.1 3023.9 1117.8 3029.0 1120.7C3034.1 1123.6 3041.5 1125.4 3049.0 1129.0C3056.5 1132.6 3067.1 1138.2 3074.0 1142.3C3080.9 1146.5 3086.5 1149.0 3090.7 1154.0C3094.8 1159.0 3097.3 1165.1 3099.0 1172.3C3100.7 1179.6 3100.9 1189.0 3100.7 1197.3C3100.4 1205.7 3098.2 1214.0 3097.3 1222.3C3096.5 1230.7 3095.4 1239.0 3095.7 1247.3C3095.9 1255.7 3097.9 1264.0 3099.0 1272.3C3100.1 1280.7 3101.5 1289.0 3102.3 1297.3C3103.2 1305.7 3104.0 1315.4 3104.0 1322.3C3104.0 1329.3 3103.2 1333.2 3102.3 1339.0C3101.5 1344.8 3141.2 1354.3 3099.0 1357.3C3056.8 1360.4 2890.7 1360.2 2849.0 1357.3C2807.3 1354.4 2846.2 1344.1 2849.0 1339.8C2851.8 1335.5 2858.7 1334.6 2865.7 1331.5C2872.6 1328.4 2884.0 1324.6 2890.7 1321.5C2897.3 1318.4 2901.5 1314.4 2905.7 1313.2C2909.8 1311.9 2914.0 1325.0 2915.7 1314.0Z" fill="#feea9f"/>
<path d="M2849.0 1341.5 L2874.0 1330.7 L2899.0 1320.7 L2912.3 1310.7 L2922.3 1304.0 L2922.3 1289.0 L2919.0 1272.3 L2917.3 1259.0 L2922.3 1247.3 L2932.3 1237.3 L2945.7 1229.0 L2955.7 1214.0 L2962.3 1197.3 L2969.0 1177.3 L2975.7 1160.7 L2990.7 1149.8 L3004.0 1145.7 L3018.2 1134.8 L3032.3 1150.7 L3047.3 1152.3 L3062.3 1164.0 L3074.0 1175.7 L3079.8 1189.0 L3079.0 1202.3 L3080.7 1230.7 L3087.3 1250.7 L3092.3 1272.3 L3095.7 1297.3 L3098.2 1317.3 L3097.3 1330.7 L3087.3 1337.3 L3065.7 1340.7 L3049.0 1347.3 L3049.0 1357.3 L2849.0 1357.3Z" fill="#fed889"/>
<path d="M2849.0 1344.0C2854.6 1339.8 2871.2 1336.5 2882.3 1332.3C2893.4 1328.2 2907.9 1324.8 2915.7 1319.0C2923.4 1313.2 2927.1 1305.1 2929.0 1297.3C2930.9 1289.6 2927.3 1279.3 2927.3 1272.3C2927.3 1265.4 2926.5 1260.9 2929.0 1255.7C2931.5 1250.4 2937.3 1244.8 2942.3 1240.7C2947.3 1236.5 2954.6 1235.1 2959.0 1230.7C2963.4 1226.2 2966.2 1220.1 2969.0 1214.0C2971.8 1207.9 2972.3 1200.1 2975.7 1194.0C2979.0 1187.9 2984.3 1180.7 2989.0 1177.3C2993.7 1174.0 2999.1 1176.8 3004.0 1174.0C3008.9 1171.2 3013.7 1160.1 3018.2 1160.7C3022.6 1161.2 3027.8 1171.8 3030.7 1177.3C3033.6 1182.9 3032.6 1191.8 3035.7 1194.0C3038.7 1196.2 3045.7 1187.3 3049.0 1190.7C3052.3 1194.0 3053.2 1205.9 3055.7 1214.0C3058.2 1222.1 3061.2 1230.7 3064.0 1239.0C3066.8 1247.3 3070.7 1255.7 3072.3 1264.0C3074.0 1272.3 3074.0 1281.2 3074.0 1289.0C3074.0 1296.8 3074.8 1304.8 3072.3 1310.7C3069.8 1316.5 3065.7 1320.7 3059.0 1324.0C3052.3 1327.3 3038.2 1328.2 3032.3 1330.7C3026.5 1333.2 3024.0 1334.6 3024.0 1339.0C3024.0 1343.4 3061.5 1354.3 3032.3 1357.3C3003.2 1360.4 2879.6 1359.6 2849.0 1357.3C2818.4 1355.1 2843.4 1348.2 2849.0 1344.0Z" fill="#fdbf71"/>
<path d="M2849.0 1346.5 L2890.7 1337.3 L2932.3 1325.7 L2950.7 1314.0 L2945.7 1297.3 L2940.7 1280.7 L2939.0 1267.3 L2944.0 1257.3 L2959.0 1240.7 L2975.7 1245.7 L2990.7 1234.8 L3004.0 1239.8 L3009.0 1214.0 L3018.2 1189.8 L3024.0 1205.7 L3028.2 1227.3 L3032.3 1244.0 L3047.3 1244.8 L3054.0 1259.0 L3060.7 1272.3 L3062.3 1289.0 L3059.0 1302.3 L3049.0 1312.3 L3032.3 1319.0 L3015.7 1325.7 L3009.0 1332.3 L3015.7 1339.0 L3024.0 1357.3 L2849.0 1357.3Z" fill="#fca55d"/>
<path d="M2969.0 1297.3C2970.7 1293.2 2970.7 1288.7 2975.7 1285.7C2980.7 1282.6 2993.7 1282.6 2999.0 1279.0C3004.3 1275.4 3004.6 1269.3 3007.3 1264.0C3010.1 1258.7 3013.9 1252.1 3015.7 1247.3C3017.5 1242.6 3017.1 1235.7 3018.2 1235.7C3019.3 1235.7 3020.5 1243.2 3022.3 1247.3C3024.1 1251.5 3025.9 1256.5 3029.0 1260.7C3032.1 1264.8 3037.3 1268.4 3040.7 1272.3C3044.0 1276.2 3048.2 1279.8 3049.0 1284.0C3049.8 1288.2 3048.4 1294.0 3045.7 1297.3C3042.9 1300.7 3037.3 1302.1 3032.3 1304.0C3027.3 1305.9 3019.8 1305.9 3015.7 1309.0C3011.5 1312.1 3010.1 1318.7 3007.3 1322.3C3004.6 1325.9 3004.6 1330.4 2999.0 1330.7C2993.4 1330.9 2979.6 1327.3 2974.0 1324.0C2968.4 1320.7 2966.5 1315.1 2965.7 1310.7C2964.8 1306.2 2967.3 1301.5 2969.0 1297.3Z" fill="#f8864f"/>
<path d="M2849.0 1347.3C2857.3 1344.3 2882.3 1342.1 2899.0 1339.0C2915.7 1335.9 2935.1 1330.7 2949.0 1329.0C2962.9 1327.3 2972.6 1327.6 2982.3 1329.0C2992.1 1330.4 3001.8 1332.6 3007.3 1337.3C3012.9 1342.1 3042.1 1354.0 3015.7 1357.3C2989.3 1360.7 2876.8 1359.0 2849.0 1357.3C2821.2 1355.7 2840.7 1350.4 2849.0 1347.3Z" fill="#f26841"/>
<path d="M2732.3 1345.7C2751.8 1343.7 2821.2 1346.2 2849.0 1345.7C2876.8 1345.2 2882.3 1343.8 2899.0 1342.7C2915.7 1341.6 2935.1 1339.2 2949.0 1339.0C2962.9 1338.8 2974.0 1340.1 2982.3 1341.5C2990.7 1342.9 2995.7 1344.7 2999.0 1347.3C3002.3 1350.0 3046.8 1355.7 3002.3 1357.3C2957.9 1359.0 2777.3 1359.3 2732.3 1357.3C2687.3 1355.4 2712.9 1347.6 2732.3 1345.7Z" fill="#e44c34"/>
<path d="M2749.0 1348.2C2765.7 1346.5 2821.2 1347.8 2849.0 1347.3C2876.8 1346.9 2896.2 1345.8 2915.7 1345.7C2935.1 1345.5 2954.6 1344.6 2965.7 1346.5C2976.8 1348.4 3018.4 1355.5 2982.3 1357.3C2946.2 1359.1 2787.9 1358.9 2749.0 1357.3C2710.1 1355.8 2732.3 1349.8 2749.0 1348.2Z" fill="#be1827"/>
<path d="M2699.0 1339.0 L2749.0 1337.3 L2799.0 1340.7 L2849.0 1343.2 L2849.0 1357.3 L2699.0 1357.3Z" fill="#fca55d"/>
<path d="M2421.5 297.5 L2429.0 327.5 L2437.5 354.0 L2436.5 405.0 L2449.0 425.0 L2464.0 446.0 L2479.0 457.5 L2494.0 473.5 L2479.0 487.5 L2474.0 494.0 L2479.0 512.5 L2484.0 535.0 L2486.5 551.0 L2509.0 572.5 L2534.0 585.0 L2540.5 600.0 L2549.0 620.0 L2566.5 632.5 L2584.0 659.0 L2589.0 672.5 L2583.0 702.5 L2549.0 719.0 L2538.0 726.0 L2524.0 721.0 L2506.5 730.0 L2481.5 744.0 L2469.0 757.5 L2446.5 775.0 L2436.5 787.5 L2431.5 805.0 L2434.0 820.0 L2441.5 837.5 L2449.0 855.0 L2451.5 870.0 L2464.0 895.0 L2484.0 903.5 L2509.0 910.0 L2536.5 919.0 L2535.0 928.5 L2511.5 935.0 L2506.5 942.5 L2521.5 952.5 L2538.0 948.5 L2549.0 967.5 L2543.0 977.5 L2544.0 985.0 L2554.0 994.0 L2551.5 1004.0 L2524.0 1016.5 L2528.0 1026.0 L2525.0 1040.0 L2531.5 1042.5 L2546.5 1041.5 L2551.5 1036.0 L2564.0 1033.5 L2586.5 1036.5 L2604.0 1041.0 L2588.0 1049.0 L2604.0 1057.5 L2605.5 1065.0 L2586.5 1067.5 L2554.0 1069.0 L2540.5 1072.5 L2544.0 1082.5 L2559.0 1090.0 L2599.0 1092.5 L2624.0 1096.0 L2644.0 1096.0 L2664.0 1102.5 L2676.5 1115.0 L2681.5 1135.0" fill="none" stroke="#000" stroke-width="2.00"/>
<path d="M2685.7 1134.0 L2684.0 1150.7 L2675.7 1167.3 L2664.0 1180.7 L2649.0 1192.3 L2632.3 1200.7 L2615.7 1206.5 L2599.0 1209.0 L2579.0 1211.5 L2567.3 1217.3 L2565.7 1224.0 L2574.0 1232.3 L2569.0 1237.3 L2555.7 1242.3 L2545.7 1247.3 L2535.7 1259.0 L2539.0 1267.3 L2560.7 1277.3 L2555.7 1285.7 L2537.3 1279.0 L2525.7 1292.3 L2517.3 1299.0 L2512.3 1304.0 L2519.0 1317.3 L2529.0 1325.7 L2545.7 1329.0 L2557.3 1332.3 L2565.7 1340.7 L2569.0 1355.7" fill="none" stroke="#000" stroke-width="2.00"/>
<path d="M2599.0 795.0 L2611.5 790.0 L2629.0 791.0 L2644.0 795.0 L2634.0 800.0 L2611.5 807.5 L2600.0 805.0Z" fill="none" stroke="#000" stroke-width="2.00"/>
<path d="M2581.5 927.5 L2594.0 902.5 L2614.0 897.5 L2626.5 899.0 L2634.0 912.5 L2635.0 935.0 L2626.5 952.5 L2611.5 955.0 L2599.0 945.0 L2584.0 935.0Z" fill="none" stroke="#000" stroke-width="2.00"/>
<path d="M2561.5 869.0 L2579.0 865.0 L2594.0 856.0" fill="none" stroke="#000" stroke-width="2.00"/>
<path d="M2561.5 869.0 L2589.0 880.0 L2621.5 889.0" fill="none" stroke="#000" stroke-width="2.00"/>
<path d="M2842.3 1342.3 L2865.7 1330.7 L2905.7 1312.3 L2914.0 1289.0 L2915.7 1247.3 L2922.3 1237.3 M2952.3 1197.3 L2959.0 1147.3 L2965.7 1105.7 L2982.3 1080.7 L3004.0 1074.0 L3032.3 1084.0 L3064.0 1109.0 L3090.7 1123.2 L3105.7 1146.5 L3135.7 1146.8 L3154.0 1152.3 L3158.2 1180.7 L3147.3 1214.0 L3135.7 1224.0 L3125.7 1244.0 L3122.3 1272.3 L3127.3 1305.7 L3134.0 1339.0 L3134.0 1339.0" fill="none" stroke="#000" stroke-width="2.00"/>
<path d="M3134.0 1339.0 L3145.7 1289.0 L3157.3 1282.3 L3172.3 1285.7 L3178.2 1239.0 L3179.8 1172.3 L3190.7 1130.7 L3194.0 1079.0 L3209.8 1062.3 L3209.8 1062.3" fill="none" stroke="#000" stroke-width="2.00"/>
<path d="M3214.0 681.0 L3191.5 675.0 L3179.0 666.0 L3164.0 662.5 L3150.5 672.5 L3149.0 695.0 L3141.5 720.0 L3136.5 750.0 L3139.0 772.5 L3134.0 795.0 L3138.0 810.0 L3143.0 825.0" fill="none" stroke="#000" stroke-width="2.00"/>
<path d="M3174.0 890.0 L3186.5 880.0 L3214.0 870.0" fill="none" stroke="#000" stroke-width="2.00"/>
<path d="M3164.0 905.0 L3175.0 895.0 L3173.0 905.0 L3184.0 910.0 L3180.0 927.5 L3165.0 917.5Z" fill="none" stroke="#000" stroke-width="2.00"/>
<path d="M3164.0 767.5 L3169.0 774.0 L3167.5 785.0 L3164.0 787.5Z" fill="none" stroke="#000" stroke-width="2.00"/>
<path d="M1910.0 301.0 L1921.5 322.5 L1934.0 340.0" fill="none" stroke="#000" stroke-width="2.00"/>
<path d="M1971.5 377.5 L1984.0 405.0 L1999.0 427.5 L2006.5 450.0 L2015.0 475.0 L2019.0 512.5 L2014.0 540.0 L2004.0 557.5 L1989.0 570.0 L1969.0 581.0 L1954.0 582.5 L1939.0 577.5 L1924.0 581.5 L1910.0 580.0" fill="none" stroke="#000" stroke-width="2.00"/>
<path d="M1910.0 546.0 L1924.0 546.5 L1940.0 551.0 L1949.0 535.0 L1954.0 530.0 L1961.0 515.0 L1962.0 497.5 L1959.0 482.5 L1955.0 468.5 L1939.0 477.5 L1926.5 476.0" fill="none" stroke="#000" stroke-width="2.00"/>
<path d="M2619.0 1198.3 L2624.1 1195.1 L2631.5 1190.3 L2639.0 1185.0 L2646.3 1179.2 L2653.8 1172.8 L2660.7 1166.7 L2666.9 1161.1 L2672.6 1155.7 L2677.3 1150.0 L2681.0 1143.7 L2683.7 1137.0 L2685.7 1130.0 L2687.0 1121.9 L2687.5 1113.5 L2687.3 1106.7 L2686.6 1102.7 L2685.1 1100.4 L2682.3 1098.3 L2677.5 1096.0 L2671.3 1094.0 L2665.7 1091.7 L2661.1 1089.1 L2657.0 1086.4 L2654.0 1083.3 L2652.3 1079.6 L2651.6 1075.4 L2651.5 1071.7 L2651.4 1068.5 L2651.8 1065.7 L2654.0 1063.3 L2658.5 1061.4 L2664.8 1059.8 L2672.3 1058.3 L2681.5 1057.0 L2691.9 1055.9 L2702.3 1055.0 L2712.6 1054.2 L2722.8 1053.6 L2732.3 1053.3 L2740.7 1053.2 L2748.3 1053.3 L2755.7 1054.2 L2762.9 1056.3 L2769.9 1059.1 L2777.3 1061.7 L2785.1 1063.6 L2793.3 1065.3 L2802.3 1066.7 L2812.8 1067.7 L2824.2 1068.5 L2835.7 1069.2 L2847.4 1069.5 L2859.1 1069.7 L2869.0 1070.0 L2875.9 1070.3 L2881.0 1070.9 L2885.7 1072.5 L2890.2 1075.7 L2894.4 1080.0 L2899.0 1085.0 L2904.4 1090.6 L2910.1 1096.8 L2915.7 1103.3 L2921.0 1110.3 L2926.2 1117.7 L2930.7 1125.0 L2934.1 1132.2 L2936.7 1139.4 L2939.0 1146.7 L2941.1 1154.1 L2942.8 1161.5 L2944.0 1168.3 L2944.6 1174.3 L2944.6 1179.8 L2944.0 1185.0 L2943.0 1190.2 L2941.3 1195.2 L2939.0 1200.0 L2935.7 1204.6 L2933.8 1206.9 M2916.8 1221.7 L2912.3 1225.0 L2909.4 1226.4 L2907.3 1227.1 L2905.7 1230.0 L2904.2 1236.9 L2903.1 1245.9 L2902.3 1255.0 L2902.1 1263.6 L2902.3 1272.3 L2902.3 1280.0 L2902.1 1286.2 L2901.7 1291.5 L2900.7 1296.7 L2898.6 1301.9 L2896.0 1307.0 L2894.0 1311.7 L2904.4 1316.0 L2915.3 1319.9 L2892.3 1323.3 L2802.3 1326.5 L2678.3 1329.1 L2585.7 1330.7 L2556.5 1330.6 L2558.6 1329.4 L2560.7 1328.2 L2551.8 1327.4 L2542.9 1326.7 L2535.7 1325.7 L2531.1 1324.4 L2528.2 1322.9 L2525.7 1320.7 L2522.9 1317.1 L2520.5 1312.9 L2519.0 1309.0 L2518.8 1305.9 L2519.6 1303.1 L2520.7 1300.7 L2521.9 1298.8 L2523.5 1297.2 L2525.7 1295.7 L2528.4 1293.7 L2531.7 1291.7 L2535.7 1290.7 L2540.7 1291.3 L2546.5 1293.0 L2552.3 1294.0 L2558.0 1293.9 L2563.6 1293.2 L2569.0 1292.3 L2574.4 1291.5 L2579.7 1290.5 L2584.0 1289.0 L2587.1 1286.6 L2589.4 1283.6 L2590.7 1280.7 L2591.0 1278.0 L2590.4 1275.2 L2589.0 1272.3 L2587.0 1268.7 L2584.2 1264.8 L2580.7 1262.3 L2576.1 1262.4 L2570.8 1263.9 L2565.7 1264.8 L2560.7 1264.5 L2556.0 1263.7 L2552.3 1262.3 L2550.2 1260.5 L2549.2 1258.2 L2549.0 1255.7 L2549.2 1253.0 L2550.2 1250.2 L2552.3 1247.3 L2556.2 1244.5 L2561.1 1241.7 L2565.7 1239.0 L2569.6 1236.7 L2573.1 1234.6 L2575.7 1232.3 L2576.7 1229.6 L2576.8 1226.8 L2577.3 1224.0 L2578.3 1221.3 L2579.7 1218.7 L2582.3 1216.5 L2587.0 1214.8 L2593.0 1213.5 L2599.0 1212.3 L2604.5 1211.3 L2610.0 1210.3 L2615.7 1209.0 L2621.7 1207.1 L2628.0 1204.9 L2634.0 1202.3 L2639.7 1199.3 L2645.3 1195.9 L2650.7 1192.3 L2655.9 1188.6 L2661.0 1184.7 L2665.7 1180.7 L2669.9 1176.5 L2673.8 1172.1 L2677.3 1167.3 L2680.7 1161.4 L2683.6 1155.1 L2685.7 1150.7 L2685.7 1150.7" fill="none" stroke="#000" stroke-width="2.00" stroke-dasharray="7.7 3.3"/>
<path d="M2619.0 1206.7 L2624.2 1203.3 L2631.6 1198.5 L2639.0 1193.3 L2645.8 1188.0 L2652.6 1182.2 L2659.0 1176.7 L2664.9 1171.9 L2670.5 1167.2 L2675.7 1161.7 L2680.7 1154.2 L2685.3 1145.8 L2689.0 1138.3 L2690.9 1132.7 L2691.9 1127.9 L2694.0 1123.3 L2698.7 1118.8 L2704.5 1114.4 L2709.0 1110.0 L2710.5 1105.5 L2710.8 1101.0 L2712.3 1096.7 L2716.0 1092.4 L2720.9 1088.3 L2727.3 1085.0 L2735.7 1082.5 L2745.6 1080.7 L2755.7 1080.0 L2765.7 1080.7 L2776.0 1082.5 L2785.7 1085.0 L2794.4 1088.4 L2802.5 1092.5 L2810.7 1096.7 L2819.0 1100.4 L2827.3 1104.2 L2835.7 1108.3 L2844.0 1113.1 L2852.3 1118.2 L2860.7 1123.3 L2869.2 1128.3 L2877.7 1133.3 L2885.7 1138.3 L2892.9 1143.4 L2899.6 1148.5 L2905.7 1153.3 L2911.4 1157.9 L2916.5 1162.3 L2920.7 1166.7 L2923.5 1171.1 L2925.4 1175.6 L2926.5 1180.0 L2927.0 1184.4 L2926.7 1188.9 L2925.7 1193.3 L2923.6 1197.7 L2920.6 1202.1 L2917.3 1206.7 L2913.4 1211.5 L2909.2 1216.5 L2905.7 1221.7 L2903.4 1226.8 L2901.8 1232.1 L2900.7 1238.3 L2899.9 1246.4 L2899.6 1255.3 L2899.6 1255.3 M2895.7 1280.0 L2894.7 1285.7 L2893.8 1291.4 L2892.3 1296.7 L2889.8 1301.4 L2886.7 1305.7 L2884.0 1310.0 L2889.7 1314.7 L2895.7 1319.3 L2879.0 1323.3 L2817.5 1326.6 L2733.1 1329.2 L2669.0 1330.7 L2645.6 1330.4 L2642.4 1329.0 L2640.7 1327.3 L2634.3 1325.9 L2629.4 1324.3 L2625.7 1322.3 L2623.0 1319.9 L2621.5 1317.0 L2620.7 1314.0 L2620.6 1310.7 L2621.3 1307.3 L2622.3 1304.0 L2623.9 1301.2 L2625.9 1298.5 L2627.3 1295.7 L2628.0 1292.5 L2628.1 1289.1 L2627.3 1285.7 L2625.1 1282.4 L2622.0 1279.1 L2619.0 1275.7 L2616.7 1271.8 L2614.6 1267.8 L2612.3 1264.0 L2609.7 1260.4 L2607.0 1257.0 L2604.0 1254.0 L2600.6 1251.6 L2597.0 1249.6 L2594.0 1247.3 L2591.7 1244.9 L2589.9 1242.2 L2589.0 1239.0 L2589.2 1234.7 L2590.4 1229.8 L2592.3 1225.7 L2594.8 1223.0 L2598.0 1221.1 L2602.3 1219.0 L2608.3 1216.4 L2615.3 1213.6 L2622.3 1210.7 L2629.1 1207.5 L2635.9 1204.2 L2642.3 1200.7 L2648.2 1197.0 L2653.7 1193.1 L2659.0 1189.0 L2664.7 1184.2 L2670.2 1179.2 L2674.0 1175.7 L2674.0 1175.7" fill="none" stroke="#000" stroke-width="2.00" stroke-dasharray="7.7 3.3"/>
<path d="M2619.0 1215.0C2622.6 1212.5 2633.7 1205.3 2640.7 1200.0C2647.6 1194.7 2655.1 1188.6 2660.7 1183.3C2666.2 1178.1 2670.4 1172.8 2674.0 1168.3C2677.6 1163.9 2679.3 1162.5 2682.3 1156.7C2685.4 1150.8 2688.4 1140.6 2692.3 1133.3C2696.2 1126.1 2700.4 1118.9 2705.7 1113.3C2710.9 1107.8 2716.8 1103.3 2724.0 1100.0C2731.2 1096.7 2740.1 1094.0 2749.0 1093.3C2757.9 1092.6 2768.4 1093.9 2777.3 1095.8C2786.2 1097.8 2794.0 1101.2 2802.3 1105.0C2810.7 1108.8 2819.0 1113.6 2827.3 1118.3C2835.7 1123.1 2844.0 1128.1 2852.3 1133.3C2860.7 1138.6 2869.6 1144.7 2877.3 1150.0C2885.1 1155.3 2893.4 1160.6 2899.0 1165.0C2904.6 1169.4 2908.0 1172.8 2910.7 1176.7C2913.3 1180.6 2915.1 1183.6 2914.8 1188.3C2914.6 1193.1 2911.6 1199.4 2909.0 1205.0C2906.4 1210.6 2901.5 1216.1 2899.0 1221.7C2896.5 1227.2 2895.1 1232.8 2894.0 1238.3C2892.9 1243.9 2892.9 1249.4 2892.3 1255.0C2891.8 1260.6 2891.8 1266.1 2890.7 1271.7C2889.6 1277.2 2888.2 1283.1 2885.7 1288.3C2883.2 1293.6 2879.0 1297.5 2875.7 1303.3C2872.3 1309.2 2891.8 1319.6 2865.7 1323.3C2839.6 1327.1 2749.0 1325.6 2719.0 1325.7C2689.0 1325.8 2695.4 1324.8 2685.7 1324.0C2675.9 1323.2 2668.2 1321.8 2660.7 1320.7C2653.2 1319.6 2644.8 1319.0 2640.7 1317.3C2636.5 1315.7 2636.2 1313.4 2635.7 1310.7C2635.1 1307.9 2636.2 1304.3 2637.3 1300.7C2638.4 1297.1 2642.3 1292.3 2642.3 1289.0C2642.3 1285.7 2639.6 1283.4 2637.3 1280.7C2635.1 1277.9 2632.1 1275.7 2629.0 1272.3C2625.9 1269.0 2622.6 1264.8 2619.0 1260.7C2615.4 1256.5 2609.8 1251.2 2607.3 1247.3C2604.8 1243.4 2604.0 1240.7 2604.0 1237.3C2604.0 1234.0 2604.8 1230.7 2607.3 1227.3C2609.8 1224.0 2613.7 1220.9 2619.0 1217.3C2624.3 1213.7 2632.9 1209.3 2639.0 1205.7C2645.1 1202.1 2650.1 1199.3 2655.7 1195.7C2661.2 1192.1 2669.6 1185.9 2672.3 1184.0" fill="none" stroke="#000" stroke-width="2.00" stroke-dasharray="7.7 3.3"/>
<path d="M2660.7 1230.0 L2663.4 1223.9 L2668.6 1217.2 L2674.0 1210.0 L2678.9 1202.0 L2684.1 1193.4 L2689.0 1185.0 L2693.6 1176.9 L2693.6 1176.9 M2713.1 1147.5 L2718.6 1142.5 L2724.9 1137.7 L2732.0 1133.4 L2739.5 1130.1 L2747.9 1127.6 L2756.4 1125.9 L2764.8 1125.3 L2773.2 1125.8 L2781.5 1127.2 L2789.8 1129.7 L2798.2 1133.4 L2806.5 1137.8 L2814.9 1142.3 L2823.5 1147.2 L2831.8 1152.4 L2839.4 1157.6 L2846.4 1163.0 L2852.8 1168.7 L2858.4 1174.8 L2863.4 1181.4 L2867.4 1188.2 L2870.2 1195.2 L2871.7 1202.4 L2872.3 1209.7 L2872.2 1217.0 L2871.4 1224.3 L2869.9 1231.5 L2867.9 1238.4 L2865.4 1245.1 L2862.3 1251.7 L2858.9 1258.4 L2855.1 1265.1 L2851.1 1271.8 L2846.9 1278.2 L2842.3 1284.5 L2837.8 1290.5 L2833.6 1296.1 L2829.5 1301.4 L2825.7 1306.2 L2822.6 1310.4 L2820.4 1314.3 L2817.7 1317.3 L2812.9 1319.0 L2805.8 1319.5 L2798.6 1318.9 L2793.5 1317.4 L2790.5 1314.7 L2787.6 1311.5 L2783.3 1308.5 L2778.0 1305.2 L2772.0 1302.5 L2765.9 1301.4 L2759.4 1302.0 L2752.6 1303.0 L2745.2 1303.5 L2736.9 1304.1 L2729.0 1303.9 L2722.9 1302.3 L2718.6 1299.2 L2714.6 1295.3 L2709.7 1291.3 L2704.0 1287.1 L2698.3 1282.5 L2693.3 1277.4 L2688.8 1272.0 L2684.5 1266.2 L2680.1 1260.3 L2675.4 1254.1 L2670.9 1247.9 L2667.1 1242.4 L2663.2 1237.6 L2660.7 1232.8 L2660.7 1230.0" fill="none" stroke="#000" stroke-width="2.00" stroke-dasharray="7.7 3.3"/>
<path d="M2719.0 1171.7 L2755.7 1147.5 L2799.0 1160.0 L2835.7 1188.3 L2846.5 1221.7 L2834.0 1256.7 L2814.0 1285.0 L2785.7 1265.0 L2755.7 1265.8 L2739.0 1250.0" fill="none" stroke="#000" stroke-width="2.00" stroke-dasharray="7.7 3.3"/>
<path d="M2619.0 1261.7C2621.2 1264.2 2628.4 1272.5 2632.3 1276.7C2636.2 1280.8 2640.4 1283.3 2642.3 1286.7C2644.3 1290.0 2644.8 1293.6 2644.0 1296.7C2643.2 1299.7 2638.2 1301.7 2637.3 1305.0C2636.5 1308.3 2638.7 1314.7 2639.0 1316.7" fill="none" stroke="#000" stroke-width="2.00" stroke-dasharray="7.7 3.3"/>
<path d="M1906.5 1140.0 L1924.0 1110.0 L1929.0 1065.0 L1941.5 1050.0 L1955.0 1042.5 L1959.0 1062.5 L1966.5 1085.0 L1981.5 1095.0 L1999.0 1100.0 L2014.0 1079.0 L2030.0 1072.5 L2058.0 1041.0 L2071.5 1041.0 L2089.0 1046.0 L2104.0 1055.0 L2114.0 1070.0 L2121.5 1090.0 L2126.5 1115.0 L2130.0 1150.0" fill="none" stroke="#000" stroke-width="2.00"/>
<path d="M2130.0 1150.0 L2130.4 1151.3 L2131.0 1153.4 L2131.3 1155.1 M2132.3 1180.7 L2132.7 1185.7 M2138.8 1231.0 L2140.7 1239.0 L2142.6 1247.6 L2144.7 1256.3 L2147.3 1264.0 L2150.7 1270.2 L2154.6 1275.4 L2159.0 1280.7 L2163.9 1286.3 L2169.3 1292.0 L2175.7 1297.3 L2183.7 1302.2 L2192.6 1306.7 L2200.7 1310.7 L2207.1 1313.9 L2212.7 1316.5 L2217.3 1319.0 L2220.7 1321.4 L2223.1 1323.6 L2225.7 1325.7 L2228.0 1327.5 L2230.6 1329.2 L2235.7 1330.7 L2245.1 1332.0 L2257.0 1333.1 L2268.0 1334.0 L2277.6 1334.7 L2286.3 1335.3 L2292.3 1335.7 L2292.3 1335.7" fill="none" stroke="#000" stroke-width="2.00"/>
<path d="M1987.3 1330.7 L1986.5 1327.3 L1985.0 1322.7 L1982.3 1319.0 L1977.6 1317.3 L1971.7 1316.6 L1968.6 1316.2 M1947.9 1307.1 L1947.4 1296.9 L1947.9 1285.7 L1948.3 1276.1 L1948.7 1267.3 L1949.8 1259.3 L1951.9 1252.3 L1955.1 1246.5 L1958.8 1241.4 L1962.5 1236.8 L1966.5 1233.0 L1970.5 1229.3 L1974.1 1225.3 L1977.4 1221.2 L1980.7 1216.6 L1983.9 1211.1 L1987.0 1204.6 L1990.4 1197.6 L1994.5 1190.2 L1999.3 1182.0 L2004.6 1174.1 L2010.2 1167.7 L2016.4 1162.5 L2022.7 1158.0 L2028.6 1153.3 L2034.3 1148.8 L2039.8 1144.4 L2044.7 1140.2 L2049.2 1136.1 L2053.5 1132.3 L2057.9 1129.2 L2062.3 1126.7 L2066.8 1124.7 L2071.2 1123.4 L2075.8 1122.8 L2080.2 1122.9 L2084.4 1123.7 L2088.3 1125.4 L2092.1 1127.7 L2096.0 1130.4 L2099.9 1133.6 L2103.8 1137.2 L2107.4 1140.8 L2110.9 1144.6 L2114.1 1148.6 L2117.2 1152.7 L2120.0 1156.5 L2122.7 1161.1 L2122.7 1161.1 M2128.8 1180.2 L2130.7 1189.0 L2132.0 1197.3 L2132.9 1205.7 L2134.0 1214.0 L2135.5 1222.4 L2137.1 1230.8 L2139.0 1239.0 L2140.9 1247.1 L2143.0 1255.1 L2145.7 1262.3 L2149.1 1268.5 L2153.0 1273.9 L2157.3 1279.0 L2161.9 1283.8 L2166.8 1288.1 L2172.3 1292.3 L2178.9 1296.4 L2186.0 1300.3 L2192.3 1304.0 L2197.3 1307.5 L2201.5 1310.9 L2205.7 1314.0 L2210.0 1316.8 L2214.3 1319.5 L2219.0 1322.3 L2223.7 1325.8 L2228.8 1329.4 L2235.7 1332.3 L2246.5 1334.1 L2259.0 1335.0 L2268.0 1335.7 L2268.0 1335.7" fill="none" stroke="#000" stroke-width="2.00" stroke-dasharray="7.7 3.3"/>
<path d="M1997.7 1307.1 L1998.2 1297.3 L1998.8 1288.9 L1999.6 1280.6 L2000.7 1272.3 L2002.1 1264.0 L2003.8 1255.7 L2005.7 1247.3 L2007.6 1238.9 L2009.7 1230.4 L2012.3 1222.3 L2015.7 1214.7 L2019.7 1207.5 L2024.0 1200.7 L2028.7 1194.1 L2033.8 1187.8 L2039.0 1182.3 L2044.4 1177.7 L2049.9 1173.9 L2055.7 1170.7 L2061.7 1168.0 L2067.8 1166.1 L2074.0 1164.8 L2080.2 1164.5 L2086.5 1164.8 L2092.3 1165.7 L2097.8 1166.8 L2102.8 1168.5 L2107.3 1170.7 L2111.2 1173.5 L2114.4 1176.9 L2117.3 1180.7 L2119.9 1184.6 L2122.1 1188.9 L2122.1 1188.9 M2127.3 1214.0 L2128.4 1222.0 L2129.4 1230.5 L2130.7 1239.0 L2132.1 1247.6 L2133.8 1256.3 L2135.7 1264.0 L2137.5 1270.4 L2139.6 1275.8 L2142.3 1280.7 L2146.2 1285.0 L2150.7 1288.8 L2155.7 1292.3 L2160.9 1295.9 L2166.4 1299.2 L2172.3 1302.3 L2178.9 1305.2 L2185.8 1307.8 L2192.3 1310.7 L2197.8 1313.8 L2203.0 1317.0 L2209.0 1320.7 L2216.4 1325.2 L2224.7 1330.2 L2234.0 1334.0 L2245.9 1336.0 L2258.9 1336.8 L2268.0 1337.3 L2268.0 1337.3" fill="none" stroke="#000" stroke-width="2.00" stroke-dasharray="7.7 3.3"/>
<path d="M2015.7 1330.7 L2016.6 1324.2 L2018.0 1314.9 L2019.0 1305.7 L2019.4 1297.3 L2019.5 1289.0 L2019.8 1280.7 L2020.4 1272.3 L2021.1 1264.0 L2022.3 1255.7 L2024.2 1247.1 L2026.5 1238.6 L2029.0 1230.7 L2031.5 1223.5 L2034.1 1216.9 L2037.3 1210.7 L2041.3 1204.6 L2045.8 1198.9 L2050.7 1194.0 L2055.9 1189.9 L2061.5 1186.5 L2067.3 1184.0 L2073.4 1182.5 L2079.6 1181.7 L2085.7 1181.5 L2091.5 1181.6 L2097.2 1182.1 L2102.3 1183.2 L2106.8 1184.5 L2110.7 1186.3 L2114.0 1189.0 L2116.7 1192.6 L2118.9 1197.1 L2120.7 1202.3 L2122.0 1208.3 L2123.0 1215.0 L2123.5 1218.6 M2132.9 1268.5 L2135.0 1276.1 L2136.8 1283.6 L2139.1 1289.9 L2142.7 1294.0 L2147.8 1295.6 L2153.2 1296.5 L2157.9 1298.5 L2162.2 1301.3 L2166.6 1304.2 L2171.5 1307.1 L2176.9 1309.8 L2182.7 1312.6 L2188.7 1315.3 L2195.0 1317.9 L2201.9 1320.7 L2209.6 1324.4 L2218.0 1329.3 L2227.3 1334.0 L2238.2 1336.8 L2251.8 1338.2 L2264.0 1338.8 L2268.0 1339.0" fill="none" stroke="#000" stroke-width="2.00" stroke-dasharray="7.7 3.3"/>
<path d="M2139.0 1190.0 L2138.7 1180.7 L2138.3 1167.8 L2138.2 1156.7 L2138.4 1150.2 L2138.9 1145.7 L2139.8 1140.0 L2141.3 1131.8 L2143.1 1122.5 L2145.7 1113.3 L2149.0 1104.8 L2153.0 1096.4 L2157.3 1088.3 L2162.0 1080.7 L2167.1 1073.4 L2172.3 1066.7 L2177.7 1060.5 L2183.3 1054.9 L2189.0 1050.0 L2195.8 1045.6 L2202.8 1042.0 L2207.3 1040.0 L2206.7 1041.2 L2203.6 1044.1 L2204.0 1045.0 L2211.3 1041.3 L2221.9 1035.5 L2231.5 1031.5 L2237.6 1030.8 L2242.6 1031.8 L2249.0 1033.5 L2257.5 1035.6 L2267.4 1038.5 L2279.0 1041.5 L2291.8 1044.7 L2306.2 1048.2 L2324.0 1051.5 L2324.0 1051.5 M2399.0 1060.0 L2416.2 1062.6 L2430.1 1065.0 L2444.0 1067.5 L2460.0 1070.0 L2476.0 1072.5 L2489.0 1075.0 L2497.4 1077.5 L2502.7 1080.0 L2506.5 1082.5 L2508.9 1085.2 L2509.7 1088.0 L2509.8 1090.7 L2510.0 1093.0 L2509.6 1095.1 L2507.3 1097.3 L2502.2 1099.8 L2495.3 1102.3 L2489.0 1104.8 L2483.9 1107.2 L2479.4 1109.5 L2475.7 1112.3 L2472.6 1115.9 L2470.2 1120.0 L2469.0 1124.0 L2469.2 1128.0 L2470.5 1131.9 L2472.3 1135.7 L2474.6 1139.4 L2477.3 1143.0 L2480.7 1145.7 L2484.7 1147.3 L2489.2 1148.0 L2494.0 1147.3 L2499.1 1145.0 L2504.3 1141.5 L2509.0 1137.3 L2512.6 1132.6 L2515.7 1127.3 L2519.0 1122.3 L2522.4 1118.1 L2526.0 1114.2 L2530.7 1110.7 L2537.3 1107.2 L2545.1 1104.0 L2552.3 1101.5 L2557.6 1100.0 L2562.4 1099.3 L2569.0 1099.0 L2578.9 1098.9 L2590.6 1099.2 L2602.3 1099.8 L2613.9 1100.7 L2625.5 1101.8 L2635.7 1103.2 L2643.5 1104.6 L2649.9 1106.1 L2655.7 1108.2 L2661.3 1110.8 L2666.4 1113.8 L2670.7 1117.3 L2674.0 1121.5 L2676.4 1126.1 L2678.2 1130.7 L2679.1 1135.1 L2679.3 1139.6 L2679.0 1144.0 L2678.4 1148.4 L2677.4 1152.8 L2675.7 1157.3 L2673.0 1162.3 L2669.5 1167.4 L2665.7 1172.3 L2661.6 1177.0 L2657.1 1181.5 L2652.3 1185.7 L2647.1 1189.3 L2641.6 1192.6 L2635.7 1195.7 L2629.6 1198.5 L2623.2 1201.1 L2615.7 1203.2 L2606.0 1204.6 L2595.3 1205.7 L2585.7 1206.5 L2578.0 1207.1 L2571.5 1207.6 L2565.7 1208.2 L2560.4 1208.8 L2555.9 1209.5 L2552.3 1210.7 L2549.9 1212.5 L2548.5 1214.7 L2548.2 1217.3 L2549.8 1220.5 L2552.5 1224.0 L2554.0 1227.3 L2553.4 1230.3 L2551.7 1233.0 L2549.0 1235.7 L2545.7 1238.5 L2541.5 1241.3 L2535.7 1243.2 L2526.4 1243.4 L2515.5 1242.8 L2507.3 1243.2 L2504.2 1245.5 L2503.8 1248.8 L2504.0 1252.3 L2504.1 1256.3 L2504.7 1260.5 L2505.7 1264.0 L2507.1 1266.0 L2508.8 1267.3 L2509.8 1269.0 L2509.2 1271.3 L2507.9 1273.9 L2507.3 1277.3 L2508.9 1282.1 L2511.3 1287.6 L2512.3 1292.3 L2510.5 1295.4 L2507.3 1297.8 L2505.7 1300.7 L2506.8 1304.8 L2509.4 1309.5 L2512.3 1314.0 L2515.3 1318.3 L2518.6 1322.3 L2522.3 1325.7 L2526.4 1327.9 L2530.9 1329.4 L2535.7 1330.7 L2541.3 1331.8 L2547.3 1332.7 L2552.3 1334.0 L2555.9 1335.7 L2558.6 1337.7 L2560.7 1340.7 L2562.3 1345.6 L2563.3 1351.5 L2564.0 1355.7 L2564.0 1355.7" fill="none" stroke="#000" stroke-width="2.00"/>
<path d="M2268.0 1330.7 L2258.6 1330.4 L2245.6 1329.9 L2235.7 1329.0 L2232.2 1327.8 L2231.8 1326.3 L2230.7 1324.0 L2227.5 1320.5 L2223.6 1316.2 L2219.0 1312.3 L2213.5 1309.4 L2207.3 1306.9 L2200.7 1304.0 L2193.5 1300.5 L2186.0 1296.6 L2179.0 1292.3 L2172.9 1287.8 L2167.3 1283.0 L2162.3 1277.3 L2158.0 1270.7 L2154.1 1263.4 L2150.7 1255.7 L2147.5 1247.9 L2144.6 1239.7 L2142.3 1230.7 L2141.5 1225.6 M2138.7 1181.1 L2139.0 1190.0 L2139.0 1190.0" fill="none" stroke="#000" stroke-width="2.00"/>
<path d="M2484.8 1124.0 L2489.0 1117.3 L2494.8 1113.7 L2502.3 1116.5 L2504.8 1122.3 L2499.0 1129.8 L2493.2 1132.7 L2487.3 1130.7Z" fill="none" stroke="#000" stroke-width="2.00"/>
<path d="M2154.8 1200.0 L2155.0 1193.9 L2155.3 1185.2 L2156.5 1176.7 L2158.8 1169.3 L2161.9 1162.0 L2165.7 1155.0 L2170.0 1148.1 L2175.0 1141.4 L2180.7 1135.0 L2187.2 1129.1 L2194.5 1123.5 L2202.3 1118.3 L2210.7 1113.5 L2219.6 1109.0 L2229.0 1105.0 L2239.1 1101.5 L2249.8 1098.4 L2260.7 1095.8 L2271.7 1093.9 L2282.8 1092.4 L2294.0 1091.7 L2305.1 1091.7 L2316.2 1092.3 L2327.3 1093.3 L2338.4 1094.6 L2349.6 1096.3 L2360.7 1098.3 L2372.1 1100.8 L2383.5 1103.6 L2394.0 1106.7 L2403.3 1109.8 L2411.7 1113.0 L2419.0 1116.7 L2425.2 1121.3 L2430.4 1126.4 L2434.0 1130.0 L2435.0 1130.3 L2434.5 1129.2 L2435.7 1130.7 L2439.9 1136.9 L2439.9 1136.9 M2474.0 1174.0 L2478.8 1178.4 L2482.4 1182.0 L2485.7 1185.7 L2488.9 1190.0 L2491.8 1194.6 L2494.0 1199.0 L2495.5 1203.1 L2496.3 1207.0 L2496.5 1210.7 L2496.6 1213.9 L2496.1 1216.9 L2494.0 1219.8 L2489.3 1222.9 L2483.0 1225.9 L2477.3 1229.0 L2472.6 1232.1 L2468.4 1235.4 L2465.7 1239.0 L2465.1 1243.1 L2466.0 1247.6 L2467.3 1252.3 L2469.0 1257.1 L2471.0 1262.1 L2472.3 1267.3 L2472.1 1272.9 L2471.1 1278.6 L2470.7 1284.0 L2471.3 1288.7 L2472.6 1293.0 L2474.0 1297.3 L2475.5 1301.7 L2477.1 1306.1 L2479.0 1310.7 L2480.7 1315.9 L2482.6 1321.2 L2485.7 1325.7 L2490.2 1328.7 L2495.8 1330.8 L2502.3 1332.3 L2510.0 1333.1 L2518.7 1333.4 L2527.3 1334.0 L2536.3 1335.0 L2545.4 1336.3 L2552.3 1339.0 L2556.2 1344.3 L2558.0 1350.9 L2559.0 1355.7 L2559.0 1355.7" fill="none" stroke="#000" stroke-width="2.00"/>
<path d="M2362.3 1323.3 L2355.7 1322.5 L2346.0 1321.4 L2335.7 1320.0 L2325.0 1318.6 L2313.7 1317.0 L2302.3 1315.0 L2291.2 1312.5 L2280.1 1309.7 L2269.0 1306.7 L2257.6 1303.5 L2246.3 1300.2 L2235.7 1296.7 L2226.2 1293.1 L2217.4 1289.3 L2209.0 1285.0 L2200.7 1279.9 L2192.8 1274.3 L2185.7 1268.3 L2179.4 1262.1 L2173.9 1255.5 L2169.0 1248.3 L2164.4 1240.3 L2160.4 1231.7 L2157.3 1223.3 L2155.7 1214.6 L2155.1 1206.0 L2154.8 1200.0 L2154.8 1200.0" fill="none" stroke="#000" stroke-width="2.00"/>
<path d="M2139.8 1190.0 L2139.8 1184.0 L2139.9 1175.3 L2140.7 1166.7 L2142.2 1158.8 L2144.4 1151.0 L2147.3 1143.3 L2151.0 1135.9 L2155.5 1128.6 L2160.7 1121.7 L2166.7 1115.1 L2173.4 1109.0 L2180.7 1103.3 L2188.6 1098.3 L2197.0 1093.8 L2205.7 1090.0 L2214.6 1086.9 L2223.8 1084.4 L2232.3 1082.5 L2239.4 1081.3 L2246.0 1080.6 L2254.0 1080.0 L2259.0 1079.7 M2319.6 1078.8 L2331.6 1079.7 L2343.4 1081.4 L2354.9 1083.3 L2366.4 1084.9 L2378.0 1086.5 L2388.9 1087.8 L2398.7 1088.7 L2407.5 1089.0 L2415.4 1089.3 L2422.3 1090.2 L2428.1 1091.6 L2433.2 1093.2 L2438.3 1094.9 L2443.7 1096.7 L2447.9 1098.7 L2449.1 1100.8 L2446.8 1102.7 L2444.3 1105.3 L2444.6 1110.0 L2447.2 1116.9 L2450.7 1124.1 L2453.8 1130.1 L2456.9 1135.0 L2460.4 1139.8 L2464.5 1145.0 L2469.4 1150.5 L2474.7 1156.1 L2480.0 1162.0 L2485.7 1168.1 L2491.3 1174.3 L2496.7 1180.4 L2502.2 1186.3 L2507.1 1192.4 L2510.6 1199.2 L2513.4 1206.9 L2514.4 1214.3 L2512.7 1219.9 L2507.9 1223.8 L2501.8 1227.2 L2496.1 1230.9 L2489.5 1234.6 L2484.0 1238.5 L2481.8 1243.0 L2483.0 1247.9 L2485.1 1253.0 L2485.9 1258.4 L2486.0 1264.1 L2485.8 1269.7 L2485.4 1274.7 L2484.3 1279.0 L2483.7 1283.3 L2484.8 1288.3 L2487.5 1293.8 L2490.8 1299.5 L2493.7 1305.2 L2496.3 1311.2 L2499.1 1316.7 L2502.4 1320.9 L2506.1 1324.0 L2510.2 1326.3 L2514.5 1328.2 L2519.0 1329.2 L2524.2 1330.1 L2531.1 1331.4 L2540.2 1333.0 L2549.0 1334.7 L2554.8 1336.6 L2558.0 1338.5 L2559.9 1340.8 L2561.3 1344.3 L2562.0 1349.4 L2562.2 1354.1 L2562.3 1355.7" fill="none" stroke="#000" stroke-width="2.00"/>
<path d="M2362.3 1321.7 L2355.7 1320.6 L2346.0 1319.2 L2335.7 1317.5 L2325.0 1315.8 L2313.7 1313.9 L2302.3 1311.7 L2291.2 1308.9 L2280.1 1305.7 L2269.0 1302.5 L2257.6 1299.3 L2246.3 1295.9 L2235.7 1292.5 L2226.2 1288.7 L2217.4 1284.8 L2209.0 1281.7 L2200.9 1280.6 L2193.1 1280.3 L2185.7 1278.3 L2178.5 1273.4 L2171.7 1266.8 L2165.7 1260.0 L2160.6 1253.6 L2156.3 1247.1 L2152.3 1240.0 L2148.5 1232.0 L2145.0 1223.5 L2142.3 1215.0 L2140.9 1205.7 L2140.2 1196.5 L2139.8 1190.0 L2139.8 1190.0" fill="none" stroke="#000" stroke-width="2.00"/>
<path d="M2174.0 1203.3 L2174.2 1196.7 L2175.0 1189.9 L2176.5 1183.3 L2178.8 1177.0 L2181.8 1170.9 L2185.7 1165.0 L2190.4 1159.1 L2196.0 1153.5 L2202.3 1148.3 L2209.5 1143.9 L2217.4 1140.0 L2225.7 1136.7 L2234.3 1134.0 L2243.3 1131.9 L2252.3 1130.0 L2261.3 1128.4 L2270.2 1127.0 L2279.0 1125.8 L2287.3 1124.7 L2295.5 1123.7 L2304.0 1123.3 L2313.3 1123.9 L2322.9 1125.1 L2332.3 1126.7 L2341.5 1128.5 L2350.4 1130.7 L2359.0 1133.3 L2367.3 1136.3 L2375.2 1139.6 L2382.3 1143.3 L2388.5 1147.4 L2393.9 1151.9 L2399.0 1156.7 L2403.9 1162.0 L2408.4 1167.7 L2412.3 1173.3 L2415.6 1179.0 L2418.3 1184.6 L2420.7 1190.0 L2423.0 1194.7 L2425.0 1199.2 L2425.7 1205.0 L2425.7 1205.0 M2403.8 1267.1 L2403.1 1270.5 L2402.3 1273.3 L2401.2 1275.7 L2400.0 1277.6 L2399.0 1280.0 L2398.6 1283.6 L2398.4 1287.7 L2397.3 1291.7 L2394.6 1295.3 L2391.0 1298.7 L2387.3 1301.7 L2384.6 1304.2 L2381.8 1306.3 L2377.3 1307.5 L2370.1 1307.3 L2361.2 1306.2 L2352.3 1305.0 L2344.0 1304.0 L2335.7 1302.8 L2327.3 1301.7 L2319.0 1300.8 L2310.7 1299.9 L2302.3 1298.3 L2294.0 1295.4 L2285.7 1291.8 L2277.3 1288.3 L2269.0 1285.5 L2260.7 1282.8 L2252.3 1280.0 L2243.9 1276.9 L2235.4 1273.6 L2227.3 1270.0 L2219.7 1265.9 L2212.4 1261.5 L2205.7 1256.7 L2199.6 1251.4 L2194.0 1245.8 L2189.0 1240.0 L2184.4 1234.0 L2180.4 1227.8 L2177.3 1221.7 L2175.4 1215.6 L2174.4 1209.6 L2174.0 1203.3 L2174.0 1203.3" fill="none" stroke="#000" stroke-width="2.00"/>
<path d="M2194.0 1198.3 L2194.9 1192.7 L2196.6 1187.4 L2199.0 1182.3 L2202.1 1177.4 L2206.1 1172.6 L2210.8 1168.0 L2216.1 1163.7 L2222.0 1159.8 L2228.3 1156.2 L2235.2 1153.1 L2242.9 1150.4 L2251.3 1148.3 L2260.6 1146.6 L2271.3 1145.2 L2284.1 1144.0 L2296.8 1143.4 L2307.2 1143.5 L2315.6 1144.3 L2323.3 1145.8 L2331.6 1147.7 L2340.1 1150.3 L2348.5 1153.4 L2356.1 1156.8 L2363.2 1160.6 L2369.5 1164.7 L2374.8 1168.6 L2379.1 1172.4 L2382.5 1176.3 L2385.4 1180.5 L2387.8 1184.9 L2389.4 1189.4 L2389.9 1193.9 L2389.3 1198.2 L2388.0 1202.7 L2386.7 1207.4 L2385.1 1212.5 L2383.3 1217.6 L2381.4 1222.3 L2379.3 1226.8 L2377.0 1231.1 L2374.2 1235.6 L2371.1 1240.2 L2367.6 1244.6 L2363.7 1248.5 L2359.6 1252.0 L2355.0 1255.1 L2349.5 1258.2 L2343.3 1261.1 L2336.2 1263.8 L2328.1 1266.2 L2318.6 1268.7 L2308.7 1270.5 L2299.4 1270.8 L2290.5 1269.6 L2281.7 1267.7 L2273.0 1265.5 L2264.4 1262.9 L2256.2 1259.9 L2248.7 1256.8 L2242.0 1253.6 L2235.6 1250.2 L2232.3 1248.3" fill="none" stroke="#000" stroke-width="2.00"/>
<path d="M2537.3 1164.0 L2540.6 1159.4 L2545.0 1154.1 L2549.0 1149.0 L2551.9 1144.3 L2554.4 1139.8 L2557.3 1135.7 L2560.9 1132.0 L2564.9 1128.6 L2569.0 1125.7 L2573.1 1123.2 L2577.3 1121.1 L2582.3 1119.0 L2588.3 1116.5 L2595.0 1114.1 L2602.3 1112.3 L2610.4 1111.5 L2610.4 1111.5 M2663.2 1140.7 L2664.9 1144.7 L2665.2 1147.6 L2664.8 1150.7 L2664.0 1154.5 L2662.6 1158.5 L2660.7 1162.3 L2658.3 1165.8 L2655.5 1169.1 L2652.3 1172.3 L2648.8 1175.8 L2644.9 1179.2 L2640.7 1182.3 L2635.9 1185.1 L2630.8 1187.7 L2625.7 1189.8 L2620.6 1191.7 L2615.5 1193.1 L2610.7 1194.0 L2606.2 1194.1 L2601.8 1193.6 L2597.3 1193.2 L2592.5 1193.3 L2587.5 1193.5 L2582.3 1193.2 L2576.8 1191.9 L2571.2 1190.0 L2565.7 1188.2 L2560.5 1186.4 L2555.4 1184.6 L2550.7 1183.2 L2545.9 1182.4 L2541.5 1181.8 L2538.2 1180.7 L2536.4 1178.3 L2535.8 1175.3 L2535.7 1172.3 L2535.5 1169.8 L2535.9 1167.3 L2537.3 1164.0 L2537.3 1164.0" fill="none" stroke="#000" stroke-width="2.00"/>
<path d="M2525.7 1167.3 L2526.4 1160.0 L2527.5 1153.5 L2529.0 1147.3 L2530.8 1141.3 L2533.0 1135.5 L2535.7 1130.7 L2538.8 1127.1 L2542.5 1124.3 L2547.3 1121.5 L2553.7 1118.3 L2553.7 1118.3 M2610.0 1108.0 L2617.3 1108.2 L2623.9 1108.3 L2629.9 1108.5 L2635.7 1109.0 L2635.7 1109.0 M2663.8 1118.9 L2667.4 1122.6 L2670.6 1127.0 L2673.1 1131.7 L2674.7 1136.2 L2675.3 1140.6 L2675.2 1145.0 L2674.3 1149.8 L2672.6 1154.8 L2670.3 1159.9 L2667.6 1164.7 L2664.6 1169.2 L2661.0 1173.6 L2656.8 1177.7 L2651.9 1181.8 L2646.7 1185.6 L2641.3 1189.0 L2635.8 1192.0 L2630.1 1194.6 L2624.7 1196.6 L2619.5 1197.9 L2613.9 1198.7 L2606.9 1199.1 L2598.5 1198.9 L2589.7 1198.4 L2581.8 1197.9 L2574.2 1197.2 L2567.2 1196.6 L2561.1 1196.4 L2555.9 1196.5 L2551.2 1196.9 L2546.9 1198.1 L2543.0 1200.4 L2539.2 1202.2 L2535.3 1201.9 L2530.8 1200.1 L2526.9 1196.6 L2525.0 1190.5 L2524.7 1181.4 L2525.3 1171.6 L2525.7 1167.3" fill="none" stroke="#000" stroke-width="2.00"/>
<path d="M2849.0 1341.5 L2899.0 1320.7 L2922.3 1304.0 L2919.0 1272.3 L2922.3 1247.3 L2922.3 1247.3 M2955.7 1214.0 L2969.0 1177.3 L2990.7 1149.8 L3018.2 1134.8 L3047.3 1152.3 L3074.0 1175.7 L3079.8 1189.0 M3092.3 1272.3 L3098.2 1317.3 L3087.3 1337.3 L3065.7 1340.7" fill="none" stroke="#000" stroke-width="2.00"/>
<path d="M2890.7 1337.3 L2950.7 1314.0 L2940.7 1280.7 L2944.0 1257.3 L2975.7 1245.7 L3004.0 1239.8 L3018.2 1189.8 L3028.2 1227.3 L3047.3 1244.8 L3060.7 1272.3 L3059.0 1302.3 L3032.3 1319.0 L3009.0 1332.3 L3015.7 1339.0" fill="none" stroke="#000" stroke-width="2.00"/>
<g transform="translate(2629.0 849.0) rotate(-8.0)"><text x="-23.22" y="10.66" font-size="30.95" textLength="46.44" lengthAdjust="spacingAndGlyphs" fill="#000">0.0</text></g>
<g transform="translate(3105.0 1277.0) rotate(80.0)"><text x="-23.22" y="10.66" font-size="30.95" textLength="46.44" lengthAdjust="spacingAndGlyphs" fill="#000">0.0</text></g>
<g transform="translate(3174.0 815.0) rotate(0.0)"><text x="-23.22" y="10.66" font-size="30.95" textLength="46.44" lengthAdjust="spacingAndGlyphs" fill="#000">0.0</text></g>
<g transform="translate(1969.0 337.0) rotate(0.0)"><text x="-23.22" y="10.66" font-size="30.95" textLength="46.44" lengthAdjust="spacingAndGlyphs" fill="#000">0.0</text></g>
<g transform="translate(1936.0 403.0) rotate(0.0)"><text x="-23.22" y="10.66" font-size="30.95" textLength="46.44" lengthAdjust="spacingAndGlyphs" fill="#000">0.0</text></g>
<g transform="translate(2702.0 1222.0) rotate(-82.0)"><text x="-28.49" y="10.66" font-size="30.95" textLength="56.97" lengthAdjust="spacingAndGlyphs" fill="#000">-5.0</text></g>
<g transform="translate(2698.0 1158.0) rotate(-75.0)"><text x="-28.49" y="10.66" font-size="30.95" textLength="56.97" lengthAdjust="spacingAndGlyphs" fill="#000">-3.0</text></g>
<g transform="translate(2126.0 1240.0) rotate(85.0)"><text x="-28.49" y="10.66" font-size="30.95" textLength="56.97" lengthAdjust="spacingAndGlyphs" fill="#000">-1.0</text></g>
<g transform="translate(2363.0 1048.0) rotate(-5.0)"><text x="-23.22" y="10.66" font-size="30.95" textLength="46.44" lengthAdjust="spacingAndGlyphs" fill="#000">0.2</text></g>
<g transform="translate(2289.0 1078.0) rotate(0.0)"><text x="-23.22" y="10.66" font-size="30.95" textLength="46.44" lengthAdjust="spacingAndGlyphs" fill="#000">0.6</text></g>
<g transform="translate(2453.0 1162.0) rotate(-55.0)"><text x="-23.22" y="10.66" font-size="30.95" textLength="46.44" lengthAdjust="spacingAndGlyphs" fill="#000">1.0</text></g>
<g transform="translate(2417.0 1236.0) rotate(80.0)"><text x="-23.22" y="10.66" font-size="30.95" textLength="46.44" lengthAdjust="spacingAndGlyphs" fill="#000">3.0</text></g>
<g transform="translate(2201.0 1233.0) rotate(-75.0)"><text x="-23.22" y="10.66" font-size="30.95" textLength="46.44" lengthAdjust="spacingAndGlyphs" fill="#000">5.0</text></g>
<g transform="translate(2581.0 1110.0) rotate(22.0)"><text x="-23.22" y="10.66" font-size="30.95" textLength="46.44" lengthAdjust="spacingAndGlyphs" fill="#000">0.6</text></g>
<g transform="translate(2641.0 1121.0) rotate(32.0)"><text x="-23.22" y="10.66" font-size="30.95" textLength="46.44" lengthAdjust="spacingAndGlyphs" fill="#000">1.0</text></g>
<g transform="translate(3076.0 1232.0) rotate(-80.0)"><text x="-23.22" y="10.66" font-size="30.95" textLength="46.44" lengthAdjust="spacingAndGlyphs" fill="#000">0.2</text></g>
<g transform="translate(2934.0 1228.0) rotate(58.0)"><text x="-23.22" y="10.66" font-size="30.95" textLength="46.44" lengthAdjust="spacingAndGlyphs" fill="#000">0.2</text></g>
<g transform="translate(2903.0 1268.0) rotate(85.0)"><text x="-23.22" y="10.66" font-size="30.95" textLength="46.44" lengthAdjust="spacingAndGlyphs" fill="#000">0.6</text></g>
<g fill="none" stroke="#000" stroke-width="2.7"><ellipse cx="1961.3" cy="1342.0" rx="7.2" ry="10.8" transform="rotate(53 1961.3 1342.0)"/><ellipse cx="1970.2" cy="1346.9" rx="7.2" ry="10.8" transform="rotate(-85 1970.2 1346.9)"/><ellipse cx="1949.6" cy="1328.7" rx="7.2" ry="10.8" transform="rotate(8 1949.6 1328.7)"/><ellipse cx="1972.2" cy="1326.3" rx="7.2" ry="10.8" transform="rotate(53 1972.2 1326.3)"/><ellipse cx="1929.9" cy="1327.8" rx="7.2" ry="10.8" transform="rotate(87 1929.9 1327.8)"/><ellipse cx="1936.0" cy="1348.0" rx="7.2" ry="10.8" transform="rotate(7 1936.0 1348.0)"/><ellipse cx="2020.7" cy="1348.2" rx="7.2" ry="10.8" transform="rotate(34 2020.7 1348.2)"/><ellipse cx="2124.1" cy="1339.9" rx="7.2" ry="10.8" transform="rotate(-25 2124.1 1339.9)"/><ellipse cx="1990.5" cy="1344.8" rx="7.2" ry="10.8" transform="rotate(-29 1990.5 1344.8)"/><ellipse cx="2095.7" cy="1336.7" rx="7.2" ry="10.8" transform="rotate(86 2095.7 1336.7)"/><ellipse cx="2044.9" cy="1343.5" rx="7.2" ry="10.8" transform="rotate(-88 2044.9 1343.5)"/><ellipse cx="2129.4" cy="1348.2" rx="7.2" ry="10.8" transform="rotate(-28 2129.4 1348.2)"/><ellipse cx="2109.6" cy="1347.2" rx="7.2" ry="10.8" transform="rotate(-83 2109.6 1347.2)"/><ellipse cx="2118.2" cy="1336.5" rx="7.2" ry="10.8" transform="rotate(20 2118.2 1336.5)"/><ellipse cx="2140.6" cy="1347.6" rx="7.2" ry="10.8" transform="rotate(8 2140.6 1347.6)"/><ellipse cx="2172.0" cy="1348.9" rx="7.2" ry="10.8" transform="rotate(-61 2172.0 1348.9)"/><ellipse cx="2163.5" cy="1345.7" rx="7.2" ry="10.8" transform="rotate(-8 2163.5 1345.7)"/><ellipse cx="2185.5" cy="1332.5" rx="7.2" ry="10.8" transform="rotate(42 2185.5 1332.5)"/><ellipse cx="2653.5" cy="1345.0" rx="7.2" ry="10.8" transform="rotate(-71 2653.5 1345.0)"/><ellipse cx="2719.9" cy="1346.2" rx="7.2" ry="10.8" transform="rotate(86 2719.9 1346.2)"/><ellipse cx="2612.7" cy="1332.8" rx="7.2" ry="10.8" transform="rotate(-22 2612.7 1332.8)"/><ellipse cx="2712.8" cy="1341.9" rx="7.2" ry="10.8" transform="rotate(-0 2712.8 1341.9)"/><ellipse cx="2605.0" cy="1344.9" rx="7.2" ry="10.8" transform="rotate(49 2605.0 1344.9)"/><ellipse cx="2659.5" cy="1344.4" rx="7.2" ry="10.8" transform="rotate(-25 2659.5 1344.4)"/><ellipse cx="2590.6" cy="1339.2" rx="7.2" ry="10.8" transform="rotate(49 2590.6 1339.2)"/><ellipse cx="2592.9" cy="1348.0" rx="7.2" ry="10.8" transform="rotate(27 2592.9 1348.0)"/><ellipse cx="2623.3" cy="1345.5" rx="7.2" ry="10.8" transform="rotate(27 2623.3 1345.5)"/><ellipse cx="2602.6" cy="1342.2" rx="7.2" ry="10.8" transform="rotate(43 2602.6 1342.2)"/><ellipse cx="2603.0" cy="1346.0" rx="7.2" ry="10.8" transform="rotate(67 2603.0 1346.0)"/><ellipse cx="2715.7" cy="1348.2" rx="7.2" ry="10.8" transform="rotate(3 2715.7 1348.2)"/><ellipse cx="2664.5" cy="1343.7" rx="7.2" ry="10.8" transform="rotate(41 2664.5 1343.7)"/><ellipse cx="2652.3" cy="1344.7" rx="7.2" ry="10.8" transform="rotate(25 2652.3 1344.7)"/><ellipse cx="2545.0" cy="1333.0" rx="7.2" ry="10.8" transform="rotate(-11 2545.0 1333.0)"/><ellipse cx="2579.4" cy="1343.0" rx="7.2" ry="10.8" transform="rotate(24 2579.4 1343.0)"/><ellipse cx="2597.1" cy="1333.4" rx="7.2" ry="10.8" transform="rotate(-55 2597.1 1333.4)"/><ellipse cx="2582.8" cy="1347.2" rx="7.2" ry="10.8" transform="rotate(-90 2582.8 1347.2)"/><ellipse cx="2787.3" cy="1326.8" rx="7.2" ry="10.8" transform="rotate(20 2787.3 1326.8)"/><ellipse cx="2867.3" cy="1335.6" rx="7.2" ry="10.8" transform="rotate(56 2867.3 1335.6)"/><ellipse cx="2786.5" cy="1329.3" rx="7.2" ry="10.8" transform="rotate(17 2786.5 1329.3)"/><ellipse cx="2880.8" cy="1326.0" rx="7.2" ry="10.8" transform="rotate(-71 2880.8 1326.0)"/><ellipse cx="2787.7" cy="1335.9" rx="7.2" ry="10.8" transform="rotate(-49 2787.7 1335.9)"/><ellipse cx="2827.2" cy="1332.0" rx="7.2" ry="10.8" transform="rotate(87 2827.2 1332.0)"/><ellipse cx="2771.6" cy="1337.0" rx="7.2" ry="10.8" transform="rotate(-68 2771.6 1337.0)"/><ellipse cx="2799.8" cy="1332.7" rx="7.2" ry="10.8" transform="rotate(51 2799.8 1332.7)"/><ellipse cx="2722.4" cy="1338.2" rx="7.2" ry="10.8" transform="rotate(-41 2722.4 1338.2)"/><ellipse cx="2860.7" cy="1331.7" rx="7.2" ry="10.8" transform="rotate(-42 2860.7 1331.7)"/><ellipse cx="2836.1" cy="1339.9" rx="7.2" ry="10.8" transform="rotate(44 2836.1 1339.9)"/><ellipse cx="2773.4" cy="1338.2" rx="7.2" ry="10.8" transform="rotate(-6 2773.4 1338.2)"/><ellipse cx="2802.0" cy="1347.1" rx="7.2" ry="10.8" transform="rotate(70 2802.0 1347.1)"/><ellipse cx="2847.5" cy="1340.5" rx="7.2" ry="10.8" transform="rotate(-3 2847.5 1340.5)"/><ellipse cx="3041.7" cy="1335.0" rx="7.2" ry="10.8" transform="rotate(63 3041.7 1335.0)"/><ellipse cx="3091.1" cy="1336.0" rx="7.2" ry="10.8" transform="rotate(-38 3091.1 1336.0)"/><ellipse cx="3125.7" cy="1329.3" rx="7.2" ry="10.8" transform="rotate(-4 3125.7 1329.3)"/><ellipse cx="3109.9" cy="1327.6" rx="7.2" ry="10.8" transform="rotate(-49 3109.9 1327.6)"/><ellipse cx="3106.7" cy="1341.3" rx="7.2" ry="10.8" transform="rotate(-85 3106.7 1341.3)"/><ellipse cx="3136.6" cy="1349.0" rx="7.2" ry="10.8" transform="rotate(36 3136.6 1349.0)"/><ellipse cx="3094.0" cy="1329.1" rx="7.2" ry="10.8" transform="rotate(-37 3094.0 1329.1)"/><ellipse cx="3004.0" cy="1340.0" rx="7.2" ry="10.8" transform="rotate(-15 3004.0 1340.0)"/><ellipse cx="2991.5" cy="1327.3" rx="7.2" ry="10.8" transform="rotate(14 2991.5 1327.3)"/><ellipse cx="3120.6" cy="1329.1" rx="7.2" ry="10.8" transform="rotate(-12 3120.6 1329.1)"/><ellipse cx="3143.3" cy="1344.8" rx="7.2" ry="10.8" transform="rotate(-63 3143.3 1344.8)"/><ellipse cx="3170.4" cy="1347.7" rx="7.2" ry="10.8" transform="rotate(10 3170.4 1347.7)"/></g>
<path d="M1985.7 1339.5 l9.1 3.0 M1915.0 1327.9 l20.5 -3.7 M1960.9 1325.4 l18.6 -7.8 M2011.9 1336.8 l16.2 -2.6 M2112.8 1342.2 l14.6 -2.2 M2102.5 1347.0 l17.6 -7.2 M2017.1 1348.4 l18.0 -4.5 M2068.7 1346.1 l17.6 -5.7 M2138.5 1333.4 l9.5 -3.3 M2198.8 1340.1 l11.3 -0.9 M2115.0 1347.4 l13.9 -5.4 M2566.9 1346.0 l14.2 -2.3 M2627.9 1343.9 l12.1 -0.2 M2556.0 1335.2 l19.6 4.5 M2542.1 1340.4 l17.1 -3.4 M2569.9 1345.9 l13.8 5.0 M2680.5 1341.0 l13.8 1.8 M2624.9 1334.3 l9.2 -3.4 M2623.8 1337.2 l16.2 1.5 M2590.1 1337.8 l18.7 -6.0 M2818.1 1333.8 l21.4 1.4 M2892.3 1348.3 l12.9 1.1 M2830.7 1329.2 l20.4 2.1 M2895.0 1334.7 l19.4 7.5 M2794.8 1333.3 l13.8 5.6 M2898.0 1332.7 l14.6 1.3 M2856.9 1332.9 l12.7 0.3 M2854.1 1339.6 l10.7 -4.2 M2722.6 1343.9 l16.0 -0.9 M3027.4 1345.1 l18.5 -6.7 M3059.6 1333.6 l15.6 -4.4 M3114.7 1331.0 l21.2 2.5 M3079.6 1327.0 l12.7 -4.1 M3076.0 1337.3 l12.4 4.5" fill="none" stroke="#000" stroke-width="2.2"/>
</g>
<rect x="1911.5" y="299.0" width="1297.0" height="1050.0" fill="none" stroke="#000" stroke-width="3.33"/>
<text x="1932.53" y="1409.00" font-size="44.17" textLength="87.93" lengthAdjust="spacingAndGlyphs" fill="#000">−80</text>
<text x="2078.23" y="1409.00" font-size="44.17" textLength="87.93" lengthAdjust="spacingAndGlyphs" fill="#000">−60</text>
<text x="2223.93" y="1409.00" font-size="44.17" textLength="87.93" lengthAdjust="spacingAndGlyphs" fill="#000">−40</text>
<text x="2369.63" y="1409.00" font-size="44.17" textLength="87.93" lengthAdjust="spacingAndGlyphs" fill="#000">−20</text>
<text x="2546.05" y="1409.00" font-size="44.17" textLength="26.51" lengthAdjust="spacingAndGlyphs" fill="#000">0</text>
<text x="2678.49" y="1409.00" font-size="44.17" textLength="53.02" lengthAdjust="spacingAndGlyphs" fill="#000">20</text>
<text x="2824.19" y="1409.00" font-size="44.17" textLength="53.02" lengthAdjust="spacingAndGlyphs" fill="#000">40</text>
<text x="2969.89" y="1409.00" font-size="44.17" textLength="53.02" lengthAdjust="spacingAndGlyphs" fill="#000">60</text>
<text x="3115.59" y="1409.00" font-size="44.17" textLength="53.02" lengthAdjust="spacingAndGlyphs" fill="#000">80</text>
<path d="M1976.5 1349.0 v14.6 M2122.2 1349.0 v14.6 M2267.9 1349.0 v14.6 M2413.6 1349.0 v14.6 M2559.3 1349.0 v14.6 M2705.0 1349.0 v14.6 M2850.7 1349.0 v14.6 M2996.4 1349.0 v14.6 M3142.1 1349.0 v14.6" stroke="#000" stroke-width="3.33" fill="none"/>
<text x="1787.98" y="314.50" font-size="44.17" textLength="53.02" lengthAdjust="spacingAndGlyphs" fill="#000">10</text>
<text x="1842.70" y="299.50" font-size="30.92" textLength="19.10" lengthAdjust="spacingAndGlyphs" fill="#000">−</text>
<text x="1864.00" y="299.50" font-size="30.92" textLength="18.56" lengthAdjust="spacingAndGlyphs" fill="#000">1</text>
<text x="1809.98" y="577.00" font-size="44.17" textLength="53.02" lengthAdjust="spacingAndGlyphs" fill="#000">10</text>
<text x="1864.00" y="562.00" font-size="30.92" textLength="18.56" lengthAdjust="spacingAndGlyphs" fill="#000">0</text>
<text x="1809.98" y="839.50" font-size="44.17" textLength="53.02" lengthAdjust="spacingAndGlyphs" fill="#000">10</text>
<text x="1864.00" y="824.50" font-size="30.92" textLength="18.56" lengthAdjust="spacingAndGlyphs" fill="#000">1</text>
<text x="1809.98" y="1102.00" font-size="44.17" textLength="53.02" lengthAdjust="spacingAndGlyphs" fill="#000">10</text>
<text x="1864.00" y="1087.00" font-size="30.92" textLength="18.56" lengthAdjust="spacingAndGlyphs" fill="#000">2</text>
<text x="1809.98" y="1364.50" font-size="44.17" textLength="53.02" lengthAdjust="spacingAndGlyphs" fill="#000">10</text>
<text x="1864.00" y="1349.50" font-size="30.92" textLength="18.56" lengthAdjust="spacingAndGlyphs" fill="#000">3</text>
<path d="M1911.5 299.0 h-14.6 M1911.5 561.5 h-14.6 M1911.5 824.0 h-14.6 M1911.5 1086.5 h-14.6 M1911.5 1349.0 h-14.6" stroke="#000" stroke-width="3.33" fill="none"/>
<path d="M1911.5 378.0 h-8.3 M1911.5 424.2 h-8.3 M1911.5 457.0 h-8.3 M1911.5 482.5 h-8.3 M1911.5 503.3 h-8.3 M1911.5 520.8 h-8.3 M1911.5 536.1 h-8.3 M1911.5 549.5 h-8.3 M1911.5 640.5 h-8.3 M1911.5 686.7 h-8.3 M1911.5 719.5 h-8.3 M1911.5 745.0 h-8.3 M1911.5 765.8 h-8.3 M1911.5 783.3 h-8.3 M1911.5 798.6 h-8.3 M1911.5 812.0 h-8.3 M1911.5 903.0 h-8.3 M1911.5 949.2 h-8.3 M1911.5 982.0 h-8.3 M1911.5 1007.5 h-8.3 M1911.5 1028.3 h-8.3 M1911.5 1045.8 h-8.3 M1911.5 1061.1 h-8.3 M1911.5 1074.5 h-8.3 M1911.5 1165.5 h-8.3 M1911.5 1211.7 h-8.3 M1911.5 1244.5 h-8.3 M1911.5 1270.0 h-8.3 M1911.5 1290.8 h-8.3 M1911.5 1308.3 h-8.3 M1911.5 1323.6 h-8.3 M1911.5 1337.0 h-8.3" stroke="#000" stroke-width="2.50" fill="none"/>
<text x="2474.26" y="1466.90" font-size="44.17" textLength="171.49" lengthAdjust="spacingAndGlyphs" fill="#000">Latitude</text>
<rect x="3215.6" y="1253.25" width="52.4" height="48.33" fill="#3a54a4"/>
<rect x="3215.6" y="1205.52" width="52.4" height="48.33" fill="#4471b2"/>
<rect x="3215.6" y="1157.79" width="52.4" height="48.33" fill="#588cc0"/>
<rect x="3215.6" y="1110.06" width="52.4" height="48.33" fill="#6ea6ce"/>
<rect x="3215.6" y="1062.34" width="52.4" height="48.33" fill="#87bdd9"/>
<rect x="3215.6" y="1014.61" width="52.4" height="48.33" fill="#a1d1e5"/>
<rect x="3215.6" y="966.88" width="52.4" height="48.33" fill="#bde2ee"/>
<rect x="3215.6" y="919.15" width="52.4" height="48.33" fill="#d6eef5"/>
<rect x="3215.6" y="871.43" width="52.4" height="48.33" fill="#e9f6e8"/>
<rect x="3215.6" y="823.70" width="52.4" height="48.33" fill="#f7fcce"/>
<rect x="3215.6" y="775.97" width="52.4" height="48.33" fill="#fff8b5"/>
<rect x="3215.6" y="728.25" width="52.4" height="48.33" fill="#feea9f"/>
<rect x="3215.6" y="680.52" width="52.4" height="48.33" fill="#fed889"/>
<rect x="3215.6" y="632.79" width="52.4" height="48.33" fill="#fdbf71"/>
<rect x="3215.6" y="585.06" width="52.4" height="48.33" fill="#fca55d"/>
<rect x="3215.6" y="537.34" width="52.4" height="48.33" fill="#f8864f"/>
<rect x="3215.6" y="489.61" width="52.4" height="48.33" fill="#f26841"/>
<rect x="3215.6" y="441.88" width="52.4" height="48.33" fill="#e44c34"/>
<rect x="3215.6" y="394.15" width="52.4" height="48.33" fill="#d62f27"/>
<rect x="3215.6" y="346.43" width="52.4" height="48.33" fill="#be1827"/>
<path d="M3215.6 1301.6 L3268.0 1301.6 L3241.8 1349.0 Z" fill="#313695"/>
<path d="M3215.6 346.4 L3268.0 346.4 L3241.8 299.0 Z" fill="#a50026"/>
<path d="M3215.6 1301.3 L3241.8 1349.0 L3268.0 1301.3 L3268.0 346.7 L3241.8 299.0 L3215.6 346.7 Z" fill="none" stroke="#000" stroke-width="3.33" stroke-linejoin="miter"/>
<text x="3297.67" y="1268.95" font-size="44.17" textLength="101.18" lengthAdjust="spacingAndGlyphs" fill="#000">−4.0</text>
<text x="3297.67" y="1125.76" font-size="44.17" textLength="101.18" lengthAdjust="spacingAndGlyphs" fill="#000">−1.0</text>
<text x="3297.67" y="982.58" font-size="44.17" textLength="101.18" lengthAdjust="spacingAndGlyphs" fill="#000">−0.4</text>
<text x="3297.67" y="839.40" font-size="44.17" textLength="66.26" lengthAdjust="spacingAndGlyphs" fill="#000">0.0</text>
<text x="3297.67" y="696.22" font-size="44.17" textLength="66.26" lengthAdjust="spacingAndGlyphs" fill="#000">0.4</text>
<text x="3297.67" y="553.04" font-size="44.17" textLength="66.26" lengthAdjust="spacingAndGlyphs" fill="#000">1.0</text>
<text x="3297.67" y="409.85" font-size="44.17" textLength="66.26" lengthAdjust="spacingAndGlyphs" fill="#000">4.0</text>
<path d="M3268.0 1253.5 h14.6 M3268.0 1110.4 h14.6 M3268.0 967.2 h14.6 M3268.0 824.0 h14.6 M3268.0 680.8 h14.6 M3268.0 537.6 h14.6 M3268.0 394.5 h14.6" stroke="#000" stroke-width="3.33" fill="none"/>
<path d="M3268.0 1301.3 h8.3 M3268.0 1205.8 h8.3 M3268.0 1158.1 h8.3 M3268.0 1062.6 h8.3 M3268.0 1014.9 h8.3 M3268.0 919.5 h8.3 M3268.0 871.7 h8.3 M3268.0 776.3 h8.3 M3268.0 728.5 h8.3 M3268.0 633.1 h8.3 M3268.0 585.4 h8.3 M3268.0 489.9 h8.3 M3268.0 442.2 h8.3 M3268.0 346.7 h8.3" stroke="#000" stroke-width="2.50" fill="none"/>
<text x="3189.35" y="288.40" font-size="44.17" textLength="78.65" lengthAdjust="spacingAndGlyphs" fill="#000">1e7</text>
<text x="3384.32" y="829.50" font-size="44.17" textLength="129.35" lengthAdjust="spacingAndGlyphs" fill="#000" transform="rotate(-90.00 3449.00 829.50)">m3/s2</text>
<g clip-path="url(#c2)">
<rect x="1052.0" y="1559.2" width="1297.0" height="1050.0" fill="#fff2f2"/>
<path d="M1622.5 1557.5 L1602.5 1586.0 L1597.5 1614.0 L1615.0 1622.5 L1635.0 1631.0 L1647.5 1642.5 L1666.5 1664.0 L1668.5 1689.0 L1650.0 1696.5 L1625.0 1700.0 L1600.0 1701.5 L1580.0 1700.0 L1561.5 1699.0 L1542.5 1711.5 L1552.5 1717.5 L1562.5 1726.0 L1586.5 1754.0 L1560.0 1772.5 L1549.0 1793.5 L1565.0 1801.5 L1590.0 1806.5 L1620.0 1805.0 L1665.0 1797.5 L1692.5 1796.5 L1707.5 1810.0 L1692.5 1827.5 L1677.5 1835.0 L1660.0 1837.0 L1640.0 1835.0 L1620.0 1826.5 L1610.0 1828.0 L1602.5 1834.0 L1594.0 1845.0 L1597.5 1862.5 L1605.0 1871.0 L1620.0 1876.5 L1605.0 1880.0 L1591.0 1885.0 L1562.5 1881.5 L1551.0 1875.0 L1547.5 1861.0 L1520.0 1854.0 L1503.5 1847.5 L1486.5 1861.0 L1492.5 1877.5 L1500.0 1892.5 L1501.5 1906.0 L1512.5 1920.0 L1518.5 1932.5 L1529.0 1945.0 L1549.0 1954.0 L1562.5 1967.5 L1577.5 1980.0 L1592.5 1991.5 L1605.0 2002.5 L1611.5 2012.5 L1619.0 2025.0 L1622.5 2037.5 L1633.5 2046.0 L1621.5 2056.0 L1622.5 2065.0 L1620.0 2075.0 L1627.0 2085.0 L1625.0 2092.5 L1616.5 2102.5 L1615.0 2110.0 L1620.0 2116.5 L1630.0 2120.0 L1647.5 2123.5 L1690.0 2125.0 L1730.0 2129.0 L1760.0 2134.0 L1780.0 2137.5 L1790.0 2146.0 L1775.0 2155.0 L1750.0 2157.5 L1715.0 2161.0 L1670.0 2165.0 L1630.0 2168.5 L1613.5 2171.5 L1613.5 2179.0 L1625.0 2185.0 L1640.0 2189.0 L1660.0 2190.0 L1690.0 2188.5 L1707.5 2190.0 L1732.5 2201.5 L1747.5 2196.0 L1742.5 2188.5 L1730.0 2186.0 L1710.0 2184.0 L1700.0 2179.0 L1707.5 2173.5 L1720.0 2173.0 L1740.0 2176.0 L1760.0 2181.5 L1775.0 2187.5 L1795.0 2193.5 L1810.0 2192.5 L1818.5 2187.5 L1822.5 2172.5 L1830.0 2162.5 L1852.5 2160.0 L1866.5 2171.5 L1867.5 2180.0 L1860.0 2187.5 L1861.0 2197.5 L1872.5 2210.0 L1882.5 2216.0 L1900.0 2217.5 L1917.5 2215.0 L1940.0 2211.0 L1955.0 2215.0 L1970.0 2204.0 L1985.0 2212.5 L2000.0 2219.0 L2015.0 2231.0 L2026.0 2246.0 L2032.5 2265.0 L2033.5 2285.0 L2031.0 2310.0 L2030.0 2335.0 L2015.0 2342.5 L1990.0 2332.5 L1970.0 2329.0 L1940.0 2336.0 L1925.0 2332.5 L1916.0 2325.0 L1917.5 2315.0 L1912.5 2302.5 L1912.5 2290.0 L1895.0 2273.5 L1880.0 2260.0 L1860.0 2252.5 L1830.0 2245.0 L1795.0 2239.0 L1774.0 2235.0 L1772.5 2226.0 L1760.0 2215.0 L1750.0 2207.5 L1737.5 2207.5 L1733.5 2214.0 L1736.5 2221.5 L1752.5 2228.5 L1761.5 2237.5 L1752.5 2250.0 L1735.0 2251.5 L1752.5 2257.5 L1737.5 2272.5 L1715.0 2277.5 L1700.0 2281.5 L1686.0 2285.0 L1692.5 2294.0 L1682.5 2301.5 L1655.0 2305.0 L1635.0 2306.5 L1620.0 2307.5 L1615.0 2310.0 L1620.0 2312.5 L1633.5 2311.0 L1640.0 2315.0 L1657.5 2319.0 L1680.0 2320.0 L1705.0 2317.5 L1730.0 2314.0 L1760.0 2315.0 L1785.0 2313.5 L1805.0 2320.0 L1825.0 2327.5 L1842.5 2334.0 L1845.0 2341.5 L1838.3 2349.0 L1833.3 2357.3 L1830.8 2365.7 L1835.0 2372.3 L1843.3 2377.3 L1865.0 2382.3 L1886.7 2387.3 L1910.0 2391.5 L1925.0 2389.0 L1933.3 2399.0 L1940.0 2414.0 L1955.0 2424.0 L1966.7 2440.7 L1976.7 2444.8 L1990.0 2448.2 L2000.0 2447.3 L2013.3 2440.7 L2031.7 2452.3 L2053.3 2458.2 L2071.7 2460.7 L2086.7 2457.3 L2100.0 2451.5 L2110.0 2440.7 L2118.3 2424.0 L2119.2 2410.7 L2117.5 2394.0 L2115.8 2380.7 L2111.7 2367.3 L2110.8 2357.3 L2106.7 2340.7 L2103.3 2324.0 L2101.5 2310.0 L2116.5 2295.0 L2126.5 2265.0 L2130.0 2239.0 L2126.5 2222.5 L2122.5 2200.0 L2116.5 2184.0 L2100.0 2175.0 L2085.0 2160.0 L2082.5 2125.0 L2085.0 2110.0 L2100.0 2107.5 L2116.5 2111.0 L2130.0 2124.0 L2145.0 2132.5 L2160.0 2134.0 L2175.0 2150.0 L2185.0 2177.5 L2192.5 2200.0 L2202.5 2214.0 L2217.5 2226.0 L2231.0 2227.5 L2241.5 2220.0 L2246.5 2212.5 L2261.0 2232.5 L2285.0 2234.0 L2305.0 2239.0 L2315.0 2244.0 L2320.0 2250.0 L2326.0 2242.5 L2329.0 2215.0 L2330.0 2175.0 L2332.5 2145.0 L2345.0 2140.0 L2355.0 2130.0 L2353.0 1555.2 L1622.5 1555.2Z" fill="#f0f0ff"/>
<path d="M1781.5 1845.0 L1788.5 1827.5 L1800.0 1825.5 L1816.0 1828.0 L1814.0 1846.0 L1795.0 1855.0Z" fill="#fff2f2"/>
<path d="M1756.0 1970.0 L1765.0 1947.5 L1780.0 1946.5 L1797.5 1956.0 L1796.5 1971.0 L1780.0 1977.5 L1765.0 1976.5Z" fill="#fff2f2"/>
<path d="M1721.0 1981.0 L1736.0 1975.0 L1750.0 1981.5 L1735.0 1983.5Z" fill="#fff2f2"/>
<path d="M1953.5 1980.0 L1970.0 1971.0 L1974.0 1992.5 L1971.0 2006.5Z" fill="#fff2f2"/>
<path d="M1696.0 2055.0 L1707.5 2050.0 L1719.0 2056.0 L1707.5 2060.0Z" fill="#fff2f2"/>
<path d="M1705.0 2082.5 L1717.5 2074.0 L1740.0 2070.0 L1765.0 2069.0 L1780.0 2071.0 L1803.5 2084.0 L1795.0 2092.5 L1780.0 2096.5 L1750.0 2091.0 L1715.0 2088.5Z" fill="#fff2f2"/>
<path d="M1661.5 2251.0 L1677.5 2241.5 L1691.0 2245.0 L1685.0 2254.0 L1665.0 2255.0Z" fill="#f0f0ff"/>
<path d="M1647.5 2285.0 L1662.5 2283.0 L1672.5 2285.0 L1660.0 2289.0Z" fill="#f0f0ff"/>
<path d="M1312.5 1585.0 L1329.0 1580.0 L1340.0 1586.0 L1329.0 1595.0 L1314.0 1615.0Z" fill="#f0f0ff"/>
<path d="M2355.0 1565.0 L2335.0 1569.0 L2330.0 1585.0 L2329.0 1640.0 L2320.0 1646.5 L2316.0 1635.0 L2315.0 1614.0 L2305.0 1600.0 L2295.0 1555.0 L2355.0 1555.0Z" fill="#fff2f2"/>
<path d="M2355.0 1709.0 L2334.0 1709.0 L2332.5 1722.5 L2333.5 1736.0 L2355.0 1733.5Z" fill="#fff2f2"/>
<path d="M2355.0 1849.0 L2334.0 1850.0 L2331.5 1865.0 L2335.0 1881.5 L2355.0 1891.0Z" fill="#fff2f2"/>
<path d="M2355.0 1917.5 L2335.0 1916.5 L2334.0 1927.5Z" fill="#fff2f2"/>
<path d="M2305.0 2018.5 L2321.0 2024.0 L2326.0 2036.0 L2324.0 2045.0 L2306.0 2055.0 L2312.5 2067.5 L2327.5 2082.5 L2331.0 2095.0 L2330.0 2102.5 L2320.0 2111.0 L2305.0 2116.5 L2300.0 2095.0 L2302.5 2070.0 L2305.0 2055.0 L2302.5 2037.5Z" fill="#fff2f2"/>
<path d="M1047.5 1557.5 L1189.0 1557.5 L1172.5 1587.5 L1167.5 1600.0 L1157.5 1615.0 L1154.0 1626.0 L1140.0 1619.0 L1125.0 1625.0 L1112.5 1640.0 L1095.0 1649.0 L1081.0 1646.0 L1066.0 1655.0 L1059.0 1667.5 L1054.0 1685.0 L1047.5 1700.0Z" fill="#f0f0ff"/>
<path d="M1055.0 1557.5 L1059.0 1585.0 L1080.0 1602.5 L1095.0 1606.0 L1107.5 1602.5 L1124.0 1606.0 L1132.5 1585.0 L1134.0 1557.5Z" fill="#fff2f2"/>
<path d="M1047.5 1737.5 L1066.0 1755.0 L1094.0 1768.5 L1097.0 1775.0 L1081.0 1792.5 L1047.5 1805.0Z" fill="#f0f0ff"/>
<path d="M1047.5 1840.0 L1057.5 1861.0 L1065.0 1862.5 L1080.0 1851.5 L1095.0 1850.0 L1112.5 1858.5 L1117.5 1877.5 L1116.0 1892.5 L1110.0 1911.0 L1100.0 1920.0 L1094.0 1930.0 L1087.5 1932.5 L1084.0 1950.0 L1081.0 1965.0 L1067.5 1979.0 L1057.5 1982.5 L1055.0 2000.0 L1047.5 2020.0Z" fill="#f0f0ff"/>
<path d="M1046.7 2370.7 L1055.8 2374.0 L1060.8 2382.3 L1066.7 2384.8 L1073.3 2390.7 L1080.8 2394.0 L1088.3 2407.3 L1096.7 2422.3 L1106.7 2432.3 L1124.2 2443.7 L1128.3 2439.0 L1138.3 2434.0 L1153.3 2431.5 L1167.5 2424.8 L1181.7 2425.7 L1194.2 2431.5 L1195.8 2439.8 L1193.3 2450.7 L1186.7 2465.7 L1179.2 2480.7 L1175.0 2494.0 L1173.3 2507.3 L1171.7 2524.0 L1171.3 2537.3 L1172.5 2544.0 L1195.0 2560.7 L1211.7 2558.7 L1216.7 2570.7 L1221.7 2580.7 L1231.7 2584.8 L1255.0 2586.5 L1256.7 2589.0 L1246.7 2592.3 L1226.7 2594.0 L1208.3 2597.3 L1183.3 2605.7 L1141.7 2602.3 L1116.7 2600.7 L1096.7 2594.0 L1095.0 2589.0 L1081.7 2580.7 L1080.0 2572.3 L1100.0 2557.3 L1130.0 2536.5 L1126.7 2527.3 L1123.3 2515.7 L1116.7 2499.0 L1110.0 2484.0 L1101.7 2474.8 L1095.0 2467.3 L1081.7 2461.5 L1070.0 2455.7 L1065.8 2451.0 L1056.7 2455.7 L1046.7 2463.2Z" fill="#f0f0ff"/>
<path d="M1196.7 2439.0 L1200.8 2430.7 L1225.8 2422.3 L1237.5 2431.5 L1238.0 2439.0 L1234.2 2449.0 L1225.8 2457.3 L1210.0 2449.8 L1202.5 2445.7Z" fill="#f0f0ff"/>
<path d="M1140.8 2505.7C1140.8 2501.8 1141.4 2498.9 1143.3 2495.7C1145.3 2492.5 1150.3 2486.5 1152.5 2486.5C1154.7 2486.5 1155.8 2491.6 1156.7 2495.7C1157.5 2499.7 1157.5 2505.4 1157.5 2510.7C1157.5 2515.9 1157.4 2522.6 1156.7 2527.3C1156.0 2532.1 1154.7 2538.2 1153.3 2539.0C1151.9 2539.8 1150.0 2535.7 1148.3 2532.3C1146.7 2529.0 1144.6 2523.4 1143.3 2519.0C1142.1 2514.6 1140.8 2509.6 1140.8 2505.7Z" fill="#d6d6ff"/>
<path d="M1409.0 2522.3 L1383.3 2517.3 L1370.0 2510.7 L1355.0 2503.2 L1333.3 2499.0 L1320.0 2494.0 L1310.0 2485.7 L1303.3 2474.0 L1300.0 2460.7 L1300.8 2447.3 L1303.3 2434.0 L1307.5 2420.7 L1315.0 2407.3 L1320.0 2394.0 L1328.3 2382.3 L1341.7 2371.5 L1353.3 2366.5 L1360.8 2359.0 L1365.0 2349.0 L1367.5 2334.0 L1373.3 2322.3 L1385.0 2305.0 L1400.0 2292.5 L1415.0 2285.0 L1450.0 2280.0 L1474.0 2272.5 L1490.0 2280.0 L1502.5 2285.0 L1515.0 2300.0 L1540.0 2310.0 L1570.0 2317.5 L1615.0 2332.5 L1665.0 2340.0 L1677.5 2350.0 L1685.0 2360.7 L1690.0 2374.0 L1709.0 2382.3 L1713.3 2387.3 L1725.0 2394.0 L1736.7 2397.3 L1750.0 2395.7 L1775.0 2394.8 L1800.0 2395.7 L1815.0 2398.2 L1821.7 2405.7 L1818.3 2414.0 L1810.0 2424.0 L1800.0 2434.0 L1786.7 2442.3 L1766.7 2450.7 L1750.0 2462.3 L1736.7 2467.3 L1721.7 2473.2 L1706.7 2470.7 L1691.7 2471.5 L1690.0 2474.0 L1694.2 2480.7 L1706.7 2488.2 L1721.7 2498.2 L1736.7 2507.3 L1751.7 2512.3 L1766.7 2515.7 L1783.3 2511.5 L1795.0 2509.8 L1808.3 2513.2 L1810.0 2522.3 L1806.7 2529.0 L1808.3 2537.3 L1820.0 2545.7 L1833.3 2552.3 L1845.0 2559.0 L1833.3 2567.3 L1827.5 2574.0 L1830.0 2580.7 L1841.7 2584.0 L1858.3 2583.2 L1870.0 2580.7 L1875.0 2590.7 L1871.7 2617.3 L1496.7 2617.3 L1493.3 2599.0 L1500.0 2592.3 L1495.0 2587.3 L1483.3 2577.3 L1470.0 2572.3 L1456.7 2569.0 L1448.3 2560.7 L1446.7 2550.7 L1440.0 2540.7 L1430.0 2524.0 L1416.7 2527.3Z" fill="#f0f0ff"/>
<path d="M1493.3 2320.7 L1473.3 2329.0 L1466.7 2335.7 L1453.3 2342.3 L1444.2 2349.8 L1428.3 2348.7 L1425.8 2355.7 L1425.8 2365.7 L1430.0 2369.0 L1445.0 2366.5 L1451.7 2384.0 L1463.3 2402.3 L1476.7 2419.0 L1491.7 2433.2 L1510.0 2439.0 L1523.3 2446.5 L1531.7 2465.7 L1548.3 2469.0 L1550.8 2473.2 L1547.5 2481.5 L1531.7 2479.8 L1530.0 2486.5 L1536.7 2502.3 L1550.0 2514.0 L1571.7 2524.0 L1586.7 2535.7 L1596.7 2547.3 L1610.0 2555.7 L1619.2 2560.7 L1633.3 2552.3 L1650.0 2540.7 L1666.7 2537.3 L1683.3 2532.3 L1709.0 2517.3 L1713.3 2519.0 L1712.5 2505.7 L1721.7 2498.2 L1706.7 2488.2 L1693.3 2490.7 L1678.3 2490.7 L1663.3 2484.8 L1650.0 2480.7 L1641.7 2479.0 L1616.7 2474.0 L1600.0 2465.7 L1586.7 2455.7 L1579.2 2440.7 L1580.8 2424.0 L1575.0 2404.0 L1569.2 2390.7 L1568.3 2380.7 L1561.7 2370.7 L1556.7 2358.2 L1548.3 2350.7 L1541.7 2342.3 L1531.7 2335.7 L1513.3 2329.0Z" fill="#fff2f2"/>
<path d="M1664.2 2559.8 L1673.3 2554.8 L1693.3 2556.5 L1706.7 2545.7 L1723.3 2539.8 L1736.7 2534.8 L1748.3 2540.7 L1759.2 2545.7 L1754.2 2552.3 L1766.7 2554.8 L1793.3 2555.7 L1800.8 2562.3 L1804.2 2569.0 L1798.3 2577.3 L1790.0 2584.0 L1766.7 2588.2 L1750.0 2587.3 L1716.7 2585.7 L1691.7 2584.8 L1675.0 2581.5 L1667.5 2575.7Z" fill="#fff2f2"/>
<path d="M2352.5 2317.3 L2345.0 2324.0 L2340.0 2334.0 L2335.0 2342.3 L2333.3 2365.7 L2331.7 2399.0 L2328.3 2424.0 L2323.3 2440.7 L2321.7 2474.0 L2324.2 2507.3 L2326.7 2532.3 L2323.3 2555.7 L2316.7 2570.7 L2305.0 2583.2 L2296.7 2575.7 L2289.2 2569.0 L2285.8 2579.0 L2285.0 2584.0 L2273.3 2602.3 L2263.3 2606.5 L2250.0 2617.3 L2352.5 2617.3Z" fill="#f0f0ff"/>
<path d="M2154.2 2574.0 L2156.7 2565.7 L2161.7 2557.3 L2173.3 2550.7 L2188.3 2542.3 L2203.3 2544.0 L2213.3 2552.3 L2215.8 2559.0 L2211.7 2567.3 L2208.3 2579.0 L2203.3 2584.0 L2195.0 2589.0 L2188.3 2593.2 L2175.0 2593.2 L2165.0 2587.3 L2158.3 2580.7Z" fill="#f0f0ff"/>
<path d="M1314.2 2460.7C1313.6 2455.5 1314.6 2446.8 1316.7 2440.7C1318.8 2434.6 1322.2 2429.3 1326.7 2424.0C1331.1 2418.7 1336.7 2413.3 1343.3 2409.0C1350.0 2404.7 1358.3 2400.5 1366.7 2398.2C1375.0 2395.8 1385.0 2395.2 1393.3 2394.8C1401.7 2394.4 1409.4 2393.7 1416.7 2395.7C1423.9 2397.6 1431.7 2404.0 1436.7 2406.5C1441.7 2409.0 1443.1 2407.8 1446.7 2410.7C1450.3 2413.6 1453.9 2419.0 1458.3 2424.0C1462.8 2429.0 1469.9 2435.1 1473.3 2440.7C1476.8 2446.2 1477.8 2451.8 1479.2 2457.3C1480.6 2462.9 1481.2 2469.0 1481.7 2474.0C1482.1 2479.0 1479.7 2484.0 1481.7 2487.3C1483.6 2490.7 1488.9 2491.5 1493.3 2494.0C1497.8 2496.5 1504.4 2499.3 1508.3 2502.3C1512.2 2505.4 1513.9 2509.0 1516.7 2512.3C1519.4 2515.7 1519.4 2519.6 1525.0 2522.3C1530.6 2525.1 1542.5 2525.9 1550.0 2529.0C1557.5 2532.1 1564.4 2536.2 1570.0 2540.7C1575.6 2545.1 1578.3 2550.9 1583.3 2555.7C1588.3 2560.4 1594.7 2565.1 1600.0 2569.0C1605.3 2572.9 1615.0 2575.4 1615.0 2579.0C1615.0 2582.6 1605.3 2587.6 1600.0 2590.7C1594.7 2593.7 1591.7 2595.9 1583.3 2597.3C1575.0 2598.7 1559.2 2600.1 1550.0 2599.0C1540.8 2597.9 1533.9 2593.2 1528.3 2590.7C1522.8 2588.2 1520.3 2586.8 1516.7 2584.0C1513.1 2581.2 1509.2 2577.9 1506.7 2574.0C1504.2 2570.1 1503.3 2565.4 1501.7 2560.7C1500.0 2555.9 1499.7 2550.1 1496.7 2545.7C1493.6 2541.2 1486.7 2538.4 1483.3 2534.0C1480.0 2529.6 1480.0 2522.6 1476.7 2519.0C1473.3 2515.4 1468.3 2513.3 1463.3 2512.3C1458.3 2511.4 1452.2 2514.8 1446.7 2513.2C1441.1 2511.5 1436.4 2503.7 1430.0 2502.3C1423.6 2500.9 1415.7 2504.0 1408.3 2504.8C1401.0 2505.7 1392.8 2509.1 1385.8 2507.3C1378.9 2505.5 1371.8 2497.9 1366.7 2494.0C1361.5 2490.1 1360.0 2486.5 1355.0 2484.0C1350.0 2481.5 1342.5 2481.1 1336.7 2479.0C1330.8 2476.9 1323.8 2474.6 1320.0 2471.5C1316.2 2468.4 1314.7 2465.8 1314.2 2460.7Z" fill="#d6d6ff" stroke="#d6d6ff" stroke-width="11" stroke-linejoin="round"/>
<path d="M1314.2 2460.7C1313.6 2455.5 1314.6 2446.8 1316.7 2440.7C1318.8 2434.6 1322.2 2429.3 1326.7 2424.0C1331.1 2418.7 1336.7 2413.3 1343.3 2409.0C1350.0 2404.7 1358.3 2400.5 1366.7 2398.2C1375.0 2395.8 1385.0 2395.2 1393.3 2394.8C1401.7 2394.4 1409.4 2393.7 1416.7 2395.7C1423.9 2397.6 1431.7 2404.0 1436.7 2406.5C1441.7 2409.0 1443.1 2407.8 1446.7 2410.7C1450.3 2413.6 1453.9 2419.0 1458.3 2424.0C1462.8 2429.0 1469.9 2435.1 1473.3 2440.7C1476.8 2446.2 1477.8 2451.8 1479.2 2457.3C1480.6 2462.9 1481.2 2469.0 1481.7 2474.0C1482.1 2479.0 1479.7 2484.0 1481.7 2487.3C1483.6 2490.7 1488.9 2491.5 1493.3 2494.0C1497.8 2496.5 1504.4 2499.3 1508.3 2502.3C1512.2 2505.4 1513.9 2509.0 1516.7 2512.3C1519.4 2515.7 1519.4 2519.6 1525.0 2522.3C1530.6 2525.1 1542.5 2525.9 1550.0 2529.0C1557.5 2532.1 1564.4 2536.2 1570.0 2540.7C1575.6 2545.1 1578.3 2550.9 1583.3 2555.7C1588.3 2560.4 1594.7 2565.1 1600.0 2569.0C1605.3 2572.9 1615.0 2575.4 1615.0 2579.0C1615.0 2582.6 1605.3 2587.6 1600.0 2590.7C1594.7 2593.7 1591.7 2595.9 1583.3 2597.3C1575.0 2598.7 1559.2 2600.1 1550.0 2599.0C1540.8 2597.9 1533.9 2593.2 1528.3 2590.7C1522.8 2588.2 1520.3 2586.8 1516.7 2584.0C1513.1 2581.2 1509.2 2577.9 1506.7 2574.0C1504.2 2570.1 1503.3 2565.4 1501.7 2560.7C1500.0 2555.9 1499.7 2550.1 1496.7 2545.7C1493.6 2541.2 1486.7 2538.4 1483.3 2534.0C1480.0 2529.6 1480.0 2522.6 1476.7 2519.0C1473.3 2515.4 1468.3 2513.3 1463.3 2512.3C1458.3 2511.4 1452.2 2514.8 1446.7 2513.2C1441.1 2511.5 1436.4 2503.7 1430.0 2502.3C1423.6 2500.9 1415.7 2504.0 1408.3 2504.8C1401.0 2505.7 1392.8 2509.1 1385.8 2507.3C1378.9 2505.5 1371.8 2497.9 1366.7 2494.0C1361.5 2490.1 1360.0 2486.5 1355.0 2484.0C1350.0 2481.5 1342.5 2481.1 1336.7 2479.0C1330.8 2476.9 1323.8 2474.6 1320.0 2471.5C1316.2 2468.4 1314.7 2465.8 1314.2 2460.7Z" fill="#babaff"/>
<path d="M1323.7 2449.0C1323.8 2447.6 1323.9 2446.2 1324.3 2444.5C1324.8 2442.7 1325.5 2440.4 1326.2 2438.6C1327.0 2436.8 1327.8 2435.1 1328.6 2433.6C1329.4 2432.1 1330.2 2430.9 1331.1 2429.7C1332.0 2428.4 1333.0 2427.2 1334.1 2426.0C1335.2 2424.9 1336.4 2423.7 1337.7 2422.6C1338.9 2421.5 1340.3 2420.5 1341.6 2419.4C1343.0 2418.3 1344.4 2417.3 1345.8 2416.2C1347.3 2415.2 1348.8 2414.1 1350.4 2413.1C1351.9 2412.0 1353.6 2410.9 1355.3 2409.9C1356.9 2408.9 1358.9 2407.9 1360.4 2407.1C1362.0 2406.3 1363.2 2405.7 1364.6 2405.1C1365.9 2404.5 1367.3 2404.0 1368.6 2403.6C1369.9 2403.1 1371.0 2402.8 1372.5 2402.4C1374.1 2402.1 1376.2 2401.7 1377.9 2401.5C1379.6 2401.3 1380.8 2401.2 1382.8 2401.0C1384.8 2400.9 1387.1 2400.8 1389.8 2400.7C1392.6 2400.6 1396.3 2400.4 1399.4 2400.4C1402.6 2400.4 1405.6 2400.3 1408.6 2400.7C1411.7 2401.1 1415.3 2401.8 1417.7 2402.6C1420.0 2403.3 1421.3 2404.3 1422.6 2405.2C1424.0 2406.1 1424.9 2407.0 1425.9 2407.9C1426.9 2408.8 1427.8 2409.8 1428.8 2410.6C1429.8 2411.4 1430.8 2412.2 1431.8 2412.8C1432.9 2413.4 1434.0 2413.7 1435.1 2414.1C1436.2 2414.4 1436.9 2414.1 1438.7 2414.8C1440.4 2415.5 1443.9 2417.3 1445.6 2418.3C1447.4 2419.3 1447.9 2419.9 1449.1 2420.9C1450.2 2421.9 1451.3 2423.1 1452.5 2424.3C1453.6 2425.6 1454.8 2426.9 1455.9 2428.3C1457.1 2429.6 1458.5 2431.2 1459.5 2432.6C1460.6 2433.9 1461.2 2434.9 1462.3 2436.4C1463.3 2437.9 1464.7 2439.8 1465.9 2441.8C1467.0 2443.9 1468.3 2446.6 1469.1 2448.8C1469.9 2451.0 1470.2 2453.1 1470.6 2455.1C1471.0 2457.1 1471.3 2458.7 1471.4 2460.5C1471.6 2462.3 1471.6 2464.1 1471.6 2465.8C1471.5 2467.6 1471.4 2468.9 1471.1 2471.0C1470.9 2473.1 1470.5 2476.5 1470.1 2478.3C1469.7 2480.0 1469.2 2480.5 1468.8 2481.5C1468.4 2482.6 1471.7 2482.1 1467.6 2484.8C1463.6 2487.5 1448.6 2495.5 1444.6 2498.0C1440.5 2500.5 1443.6 2499.3 1443.1 2499.8C1442.6 2500.2 1442.4 2500.8 1441.6 2500.7C1440.8 2500.6 1439.3 2499.7 1438.3 2499.1C1437.3 2498.5 1436.6 2497.9 1435.6 2497.2C1434.5 2496.5 1433.0 2495.5 1431.9 2494.9C1430.9 2494.4 1430.0 2494.0 1429.2 2493.9C1428.3 2493.7 1427.6 2493.8 1426.8 2494.0C1426.0 2494.2 1425.4 2494.5 1424.6 2494.8C1423.8 2495.1 1423.3 2495.5 1422.2 2495.8C1421.1 2496.1 1420.0 2496.4 1418.1 2496.7C1416.2 2497.1 1413.5 2497.5 1410.9 2497.9C1408.4 2498.2 1405.8 2498.5 1403.0 2498.8C1400.2 2499.1 1397.5 2500.2 1394.0 2499.9C1390.4 2499.6 1384.4 2498.1 1381.5 2497.1C1378.6 2496.1 1378.0 2495.0 1376.6 2494.0C1375.2 2493.0 1374.4 2492.2 1373.2 2491.0C1371.9 2489.9 1370.3 2488.3 1369.0 2487.1C1367.7 2485.9 1366.5 2484.7 1365.4 2483.7C1364.3 2482.8 1363.2 2482.0 1362.2 2481.3C1361.2 2480.7 1360.3 2480.2 1359.3 2479.6C1358.3 2479.1 1357.3 2478.5 1356.2 2478.0C1355.2 2477.5 1354.1 2477.0 1352.9 2476.6C1351.8 2476.1 1350.6 2475.6 1349.4 2475.2C1348.2 2474.7 1347.1 2474.3 1345.8 2473.9C1344.5 2473.4 1343.0 2472.9 1341.5 2472.3C1340.0 2471.7 1338.1 2470.8 1336.8 2470.1C1335.6 2469.5 1334.9 2468.9 1334.0 2468.3C1333.0 2467.7 1333.0 2468.8 1331.3 2466.3C1329.6 2463.8 1325.1 2456.3 1323.8 2453.4C1322.5 2450.5 1323.6 2450.5 1323.7 2449.0Z" fill="#a0a0ff"/>
<path d="M1332.5 2450.7C1331.9 2445.9 1333.8 2438.7 1336.7 2434.0C1339.6 2429.3 1345.0 2426.2 1350.0 2422.3C1355.0 2418.4 1361.1 2413.3 1366.7 2410.7C1372.2 2408.0 1375.3 2406.9 1383.3 2406.5C1391.4 2406.1 1407.5 2405.9 1415.0 2408.2C1422.5 2410.4 1423.3 2417.2 1428.3 2419.8C1433.3 2422.5 1440.0 2420.5 1445.0 2424.0C1450.0 2427.5 1455.3 2434.3 1458.3 2440.7C1461.4 2447.1 1463.6 2455.7 1463.3 2462.3C1463.1 2469.0 1459.6 2475.2 1456.7 2480.7C1453.8 2486.1 1450.3 2494.0 1445.8 2494.8C1441.4 2495.7 1434.9 2486.4 1430.0 2485.7C1425.1 2485.0 1424.0 2489.7 1416.7 2490.7C1409.3 2491.6 1393.6 2493.4 1385.8 2491.5C1378.1 2489.6 1375.1 2482.5 1370.0 2479.0C1364.9 2475.5 1360.0 2473.4 1355.0 2470.7C1350.0 2467.9 1343.8 2465.7 1340.0 2462.3C1336.2 2459.0 1333.1 2455.4 1332.5 2450.7Z" fill="#8686ff"/>
<path d="M1342.9 2442.5C1342.7 2438.9 1345.7 2437.0 1346.8 2435.2C1347.8 2433.4 1348.4 2432.8 1349.3 2431.6C1350.2 2430.4 1351.4 2429.1 1352.3 2428.0C1353.2 2427.0 1353.8 2426.2 1354.8 2425.2C1355.8 2424.2 1357.1 2423.0 1358.2 2422.1C1359.2 2421.2 1360.0 2420.6 1361.1 2419.8C1362.3 2419.0 1363.7 2418.0 1365.1 2417.3C1366.4 2416.5 1367.6 2415.9 1369.2 2415.2C1370.7 2414.6 1372.6 2413.8 1374.5 2413.3C1376.4 2412.8 1378.5 2412.5 1380.4 2412.2C1382.3 2411.9 1384.2 2411.8 1385.9 2411.8C1387.7 2411.7 1389.3 2411.6 1391.1 2411.6C1393.0 2411.6 1394.6 2411.7 1396.8 2411.8C1399.0 2411.9 1402.0 2412.1 1404.2 2412.3C1406.3 2412.6 1407.4 2412.4 1409.7 2413.2C1412.0 2414.0 1416.2 2416.2 1418.0 2417.3C1419.8 2418.3 1419.7 2418.7 1420.5 2419.4C1421.3 2420.1 1422.1 2421.0 1422.7 2421.7C1423.3 2422.4 1423.7 2422.9 1424.3 2423.5C1424.8 2424.1 1425.3 2424.7 1425.8 2425.2C1426.4 2425.8 1426.9 2426.4 1427.4 2426.9C1427.9 2427.5 1428.3 2428.1 1428.8 2428.6C1429.3 2429.2 1429.8 2429.8 1430.2 2430.3C1430.6 2430.8 1430.5 2431.2 1431.2 2431.7C1431.8 2432.2 1431.6 2431.6 1434.0 2433.3C1436.5 2435.1 1443.5 2439.8 1446.0 2442.0C1448.6 2444.2 1448.5 2445.3 1449.3 2446.6C1450.0 2447.8 1450.4 2448.7 1450.6 2449.5C1450.8 2450.3 1450.7 2450.7 1450.5 2451.2C1450.3 2451.8 1449.9 2452.4 1449.4 2452.8C1449.0 2453.1 1451.0 2450.1 1447.9 2453.4C1444.8 2456.6 1433.9 2469.0 1430.8 2472.3C1427.8 2475.7 1429.8 2473.1 1429.5 2473.6C1429.1 2474.1 1429.0 2474.6 1428.8 2475.2C1428.6 2475.7 1428.5 2476.2 1428.2 2476.8C1427.8 2477.3 1427.2 2477.8 1426.8 2478.2C1426.5 2478.6 1426.4 2479.0 1426.0 2479.4C1425.6 2479.8 1425.2 2480.2 1424.7 2480.6C1424.2 2481.0 1423.9 2481.3 1423.1 2481.7C1422.3 2482.2 1421.9 2482.6 1420.0 2483.2C1418.1 2483.7 1414.2 2484.6 1411.9 2484.9C1409.5 2485.2 1408.2 2485.0 1405.9 2485.0C1403.6 2485.0 1400.6 2485.0 1398.1 2484.9C1395.6 2484.8 1393.8 2485.2 1391.0 2484.3C1388.2 2483.5 1383.5 2481.0 1381.3 2479.9C1379.2 2478.8 1379.2 2478.5 1378.1 2477.8C1377.1 2477.1 1376.1 2476.3 1375.0 2475.6C1374.0 2474.9 1373.0 2474.3 1371.9 2473.6C1370.7 2472.8 1369.3 2472.0 1368.0 2471.1C1366.7 2470.3 1365.4 2469.5 1364.1 2468.7C1362.8 2467.8 1361.6 2467.0 1360.4 2466.2C1359.2 2465.3 1357.9 2464.4 1356.9 2463.7C1355.8 2462.9 1355.1 2462.3 1354.1 2461.6C1353.1 2460.9 1351.8 2460.1 1350.8 2459.3C1349.7 2458.5 1349.2 2459.6 1347.9 2456.8C1346.6 2454.0 1343.1 2446.1 1342.9 2442.5Z" fill="#6a6aff"/>
<path d="M1351.7 2445.7C1351.4 2440.9 1355.0 2433.3 1358.3 2429.0C1361.7 2424.7 1366.1 2421.8 1371.7 2419.8C1377.2 2417.8 1384.7 2416.9 1391.7 2417.0C1398.6 2417.1 1408.1 2418.4 1413.3 2420.7C1418.6 2422.9 1420.6 2427.1 1423.3 2430.7C1426.1 2434.3 1427.1 2438.6 1430.0 2442.3C1432.9 2446.1 1440.6 2450.4 1440.8 2453.2C1441.1 2455.9 1434.2 2456.1 1431.7 2459.0C1429.2 2461.9 1428.3 2467.5 1425.8 2470.7C1423.3 2473.9 1422.4 2477.2 1416.7 2478.2C1411.0 2479.1 1398.6 2478.0 1391.7 2476.5C1384.7 2475.0 1380.3 2472.2 1375.0 2469.0C1369.7 2465.8 1363.9 2461.2 1360.0 2457.3C1356.1 2453.4 1351.9 2450.4 1351.7 2445.7Z" fill="#5050ff"/>
<path d="M1363.3 2451.9C1363.1 2451.3 1363.2 2452.3 1362.9 2450.1C1362.6 2448.0 1361.3 2441.3 1361.4 2438.9C1361.4 2436.4 1362.4 2436.7 1363.2 2435.5C1364.0 2434.3 1365.0 2432.8 1366.4 2431.7C1367.7 2430.5 1369.6 2429.3 1371.1 2428.5C1372.6 2427.7 1374.0 2427.2 1375.6 2426.6C1377.2 2426.1 1379.1 2425.6 1380.7 2425.3C1382.3 2425.0 1383.7 2424.8 1385.2 2424.8C1386.8 2424.7 1388.3 2424.8 1389.8 2425.0C1391.4 2425.1 1393.1 2425.4 1394.5 2425.7C1395.9 2426.0 1397.0 2426.4 1398.5 2426.7C1399.9 2427.1 1400.9 2426.9 1403.4 2427.8C1405.8 2428.8 1411.1 2431.5 1413.2 2432.6C1415.4 2433.6 1415.3 2433.6 1416.4 2434.2C1417.4 2434.9 1418.6 2435.7 1419.5 2436.4C1420.4 2437.2 1421.1 2437.9 1421.6 2438.6C1422.2 2439.2 1422.6 2440.0 1422.8 2440.6C1423.1 2441.2 1423.2 2441.7 1423.3 2442.4C1423.5 2443.1 1423.7 2444.1 1423.9 2444.8C1424.0 2445.4 1424.1 2444.5 1424.2 2446.5C1424.3 2448.5 1424.5 2454.9 1424.5 2456.9C1424.5 2458.9 1424.4 2458.1 1424.3 2458.6C1424.2 2459.2 1424.1 2459.7 1423.8 2460.2C1423.6 2460.6 1423.3 2461.1 1422.9 2461.3C1422.5 2461.6 1421.9 2461.8 1421.3 2461.8C1420.7 2461.8 1422.1 2460.4 1419.4 2461.3C1416.7 2462.3 1408.3 2466.6 1405.2 2467.5C1402.1 2468.5 1402.4 2467.2 1400.8 2467.2C1399.2 2467.1 1397.2 2467.2 1395.6 2467.3C1394.0 2467.4 1392.5 2467.6 1391.0 2467.7C1389.6 2467.7 1388.2 2467.9 1386.9 2467.8C1385.5 2467.7 1384.3 2467.5 1383.0 2467.2C1381.7 2466.8 1380.4 2466.3 1379.1 2465.7C1377.8 2465.1 1376.4 2464.3 1375.2 2463.6C1374.0 2462.9 1373.1 2462.3 1372.0 2461.6C1371.0 2460.8 1369.6 2459.8 1368.7 2459.0C1367.8 2458.3 1367.1 2457.6 1366.5 2457.0C1365.9 2456.5 1365.7 2456.1 1365.3 2455.5C1364.8 2454.9 1364.2 2454.1 1363.9 2453.5C1363.5 2452.8 1363.4 2452.4 1363.3 2451.9Z" fill="#3434ff"/>
<path d="M1367.5 2447.3C1367.5 2444.3 1368.6 2439.8 1371.7 2437.3C1374.7 2434.8 1380.8 2432.3 1385.8 2432.3C1390.8 2432.3 1396.5 2435.9 1401.7 2437.3C1406.8 2438.7 1413.9 2438.4 1416.7 2440.7C1419.4 2442.9 1418.3 2447.6 1418.3 2450.7C1418.3 2453.7 1419.4 2458.0 1416.7 2459.0C1413.9 2460.0 1406.8 2455.9 1401.7 2456.5C1396.5 2457.1 1390.8 2462.5 1385.8 2462.3C1380.8 2462.2 1374.7 2458.2 1371.7 2455.7C1368.6 2453.2 1367.5 2450.4 1367.5 2447.3Z" fill="#1a1aff"/>
<path d="M1516.7 2552.3C1519.2 2548.7 1528.3 2547.3 1533.3 2545.7C1538.3 2544.0 1542.5 2541.2 1546.7 2542.3C1550.8 2543.4 1557.8 2549.0 1558.3 2552.3C1558.9 2555.7 1554.2 2559.6 1550.0 2562.3C1545.8 2565.1 1538.6 2568.2 1533.3 2569.0C1528.1 2569.8 1521.1 2570.1 1518.3 2567.3C1515.6 2564.6 1514.2 2555.9 1516.7 2552.3Z" fill="#a0a0ff"/>
<path d="M1534.2 2581.5C1532.5 2579.3 1535.4 2576.6 1540.0 2574.0C1544.6 2571.4 1556.7 2565.9 1561.7 2565.7C1566.7 2565.4 1567.5 2569.8 1570.0 2572.3C1572.5 2574.8 1576.1 2578.4 1576.7 2580.7C1577.2 2582.9 1577.8 2584.6 1573.3 2585.7C1568.9 2586.8 1556.5 2588.0 1550.0 2587.3C1543.5 2586.6 1535.8 2583.7 1534.2 2581.5Z" fill="#d6d6ff"/>
<path d="M1493.3 2454.0C1493.6 2452.1 1496.7 2448.7 1500.0 2448.2C1503.3 2447.6 1510.3 2449.1 1513.3 2450.7C1516.4 2452.2 1518.9 2455.4 1518.3 2457.3C1517.8 2459.3 1513.3 2461.9 1510.0 2462.3C1506.7 2462.8 1501.1 2461.2 1498.3 2459.8C1495.6 2458.4 1493.1 2455.9 1493.3 2454.0Z" fill="#d6d6ff"/>
<path d="M1575.0 2360.7C1577.2 2353.7 1583.1 2350.4 1590.0 2349.0C1596.9 2347.6 1606.7 2351.5 1616.7 2352.3C1626.7 2353.2 1641.7 2351.8 1650.0 2354.0C1658.3 2356.2 1660.3 2360.9 1666.7 2365.7C1673.1 2370.4 1685.0 2377.6 1688.3 2382.3C1691.7 2387.1 1688.9 2390.4 1686.7 2394.0C1684.4 2397.6 1681.1 2401.8 1675.0 2404.0C1668.9 2406.2 1658.6 2406.2 1650.0 2407.3C1641.4 2408.4 1630.0 2409.0 1623.3 2410.7C1616.7 2412.3 1611.9 2414.0 1610.0 2417.3C1608.1 2420.7 1607.8 2426.2 1611.7 2430.7C1615.6 2435.1 1626.9 2439.8 1633.3 2444.0C1639.7 2448.2 1646.4 2452.1 1650.0 2455.7C1653.6 2459.3 1656.1 2463.4 1655.0 2465.7C1653.9 2467.9 1649.7 2468.2 1643.3 2469.0C1636.9 2469.8 1624.4 2471.8 1616.7 2470.7C1608.9 2469.6 1602.2 2467.3 1596.7 2462.3C1591.1 2457.3 1586.1 2448.2 1583.3 2440.7C1580.6 2433.2 1581.1 2425.7 1580.0 2417.3C1578.9 2409.0 1577.5 2400.1 1576.7 2390.7C1575.8 2381.2 1572.8 2367.6 1575.0 2360.7Z" fill="#d6d6ff"/>
<path d="M1585.0 2397.3C1584.4 2393.3 1584.7 2386.8 1586.7 2382.3C1588.6 2377.9 1591.9 2373.9 1596.7 2370.7C1601.4 2367.5 1608.9 2363.9 1615.0 2363.2C1621.1 2362.5 1631.4 2363.9 1633.3 2366.5C1635.3 2369.1 1629.4 2375.2 1626.7 2379.0C1623.9 2382.8 1619.7 2385.9 1616.7 2389.0C1613.6 2392.1 1610.6 2395.0 1608.3 2397.3C1606.1 2399.7 1606.4 2401.6 1603.3 2403.2C1600.3 2404.7 1593.1 2407.5 1590.0 2406.5C1586.9 2405.5 1585.6 2401.4 1585.0 2397.3Z" fill="#babaff"/>
<path d="M1597.5 2446.5C1596.7 2443.2 1600.4 2439.4 1603.3 2439.0C1606.2 2438.6 1610.6 2441.5 1615.0 2444.0C1619.4 2446.5 1626.4 2450.9 1630.0 2454.0C1633.6 2457.1 1636.1 2460.1 1636.7 2462.3C1637.2 2464.6 1636.1 2466.4 1633.3 2467.3C1630.6 2468.3 1624.2 2469.6 1620.0 2468.2C1615.8 2466.8 1612.1 2462.6 1608.3 2459.0C1604.6 2455.4 1598.3 2449.8 1597.5 2446.5Z" fill="#babaff"/>
<path d="M1666.7 2444.0C1665.0 2437.1 1665.6 2428.4 1670.0 2424.0C1674.4 2419.6 1682.8 2418.4 1693.3 2417.3C1703.9 2416.2 1723.9 2413.4 1733.3 2417.3C1742.8 2421.2 1750.0 2434.0 1750.0 2440.7C1750.0 2447.3 1741.7 2455.1 1733.3 2457.3C1725.0 2459.6 1708.9 2452.6 1700.0 2454.0C1691.1 2455.4 1685.6 2467.3 1680.0 2465.7C1674.4 2464.0 1668.3 2450.9 1666.7 2444.0Z" fill="#d6d6ff"/>
<path d="M1666.7 2440.7C1667.2 2435.7 1667.5 2430.9 1671.7 2427.3C1675.8 2423.7 1684.2 2421.8 1691.7 2419.0C1699.2 2416.2 1708.1 2413.7 1716.7 2410.7C1725.3 2407.6 1733.6 2402.9 1743.3 2400.7C1753.1 2398.4 1765.6 2397.5 1775.0 2397.3C1784.4 2397.2 1793.9 2397.3 1800.0 2399.8C1806.1 2402.3 1810.6 2407.8 1811.7 2412.3C1812.8 2416.9 1810.0 2422.9 1806.7 2427.3C1803.3 2431.8 1798.3 2435.4 1791.7 2439.0C1785.0 2442.6 1773.6 2446.2 1766.7 2449.0C1759.7 2451.8 1757.5 2454.3 1750.0 2455.7C1742.5 2457.1 1730.0 2457.9 1721.7 2457.3C1713.3 2456.8 1706.4 2451.5 1700.0 2452.3C1693.6 2453.2 1688.6 2461.5 1683.3 2462.3C1678.1 2463.2 1671.1 2460.9 1668.3 2457.3C1665.6 2453.7 1666.1 2445.7 1666.7 2440.7Z" fill="#d6d6ff"/>
<path d="M1675.0 2434.0C1675.6 2430.1 1674.7 2428.7 1678.3 2427.3C1681.9 2425.9 1690.3 2427.3 1696.7 2425.7C1703.1 2424.0 1710.0 2419.8 1716.7 2417.3C1723.3 2414.8 1731.1 2412.9 1736.7 2410.7C1742.2 2408.4 1743.6 2405.5 1750.0 2404.0C1756.4 2402.5 1767.5 2401.5 1775.0 2401.5C1782.5 2401.5 1789.7 2401.8 1795.0 2404.0C1800.3 2406.2 1805.8 2410.9 1806.7 2414.8C1807.5 2418.7 1803.9 2423.6 1800.0 2427.3C1796.1 2431.1 1788.9 2434.6 1783.3 2437.3C1777.8 2440.1 1772.2 2441.8 1766.7 2444.0C1761.1 2446.2 1757.2 2449.3 1750.0 2450.7C1742.8 2452.1 1730.8 2453.2 1723.3 2452.3C1715.8 2451.5 1710.8 2446.5 1705.0 2445.7C1699.2 2444.8 1692.8 2445.1 1688.3 2447.3C1683.9 2449.6 1680.6 2458.4 1678.3 2459.0C1676.1 2459.6 1675.6 2454.8 1675.0 2450.7C1674.4 2446.5 1674.4 2437.9 1675.0 2434.0Z" fill="#babaff"/>
<path d="M1708.3 2432.3C1708.3 2429.0 1710.8 2427.1 1716.7 2424.0C1722.5 2420.9 1735.0 2416.8 1743.3 2414.0C1751.7 2411.2 1759.2 2408.2 1766.7 2407.3C1774.2 2406.5 1783.3 2407.3 1788.3 2409.0C1793.3 2410.7 1796.1 2414.6 1796.7 2417.3C1797.2 2420.1 1795.0 2422.9 1791.7 2425.7C1788.3 2428.4 1782.2 2431.8 1776.7 2434.0C1771.1 2436.2 1765.0 2437.3 1758.3 2439.0C1751.7 2440.7 1743.6 2443.2 1736.7 2444.0C1729.7 2444.8 1721.4 2445.9 1716.7 2444.0C1711.9 2442.1 1708.3 2435.7 1708.3 2432.3Z" fill="#a0a0ff"/>
<path d="M1738.3 2429.0C1737.2 2425.7 1740.3 2422.1 1743.3 2419.0C1746.4 2415.9 1750.6 2412.1 1756.7 2410.7C1762.8 2409.3 1774.4 2409.3 1780.0 2410.7C1785.6 2412.1 1788.6 2416.5 1790.0 2419.0C1791.4 2421.5 1790.6 2423.4 1788.3 2425.7C1786.1 2427.9 1780.8 2430.7 1776.7 2432.3C1772.5 2434.0 1767.8 2434.6 1763.3 2435.7C1758.9 2436.8 1754.2 2440.1 1750.0 2439.0C1745.8 2437.9 1739.4 2432.3 1738.3 2429.0Z" fill="#8686ff"/>
<path d="M1716.7 2432.3C1716.7 2430.0 1718.1 2426.9 1721.7 2426.5C1725.3 2426.1 1736.9 2428.0 1738.3 2429.8C1739.7 2431.6 1732.8 2435.5 1730.0 2437.3C1727.2 2439.1 1723.9 2441.5 1721.7 2440.7C1719.4 2439.8 1716.7 2434.7 1716.7 2432.3Z" fill="#8686ff"/>
<path d="M1748.3 2424.0C1748.3 2421.8 1752.5 2418.6 1756.7 2417.3C1760.8 2416.1 1769.2 2415.7 1773.3 2416.5C1777.5 2417.3 1782.2 2420.2 1781.7 2422.3C1781.1 2424.4 1774.2 2427.6 1770.0 2429.0C1765.8 2430.4 1760.3 2431.5 1756.7 2430.7C1753.1 2429.8 1748.3 2426.2 1748.3 2424.0Z" fill="#6a6aff"/>
<path d="M1645.8 2431.5 L1654.2 2430.7 L1648.3 2439.8Z" fill="#fff2f2"/>
<path d="M1657.5 2423.2 L1663.3 2419.0 L1663.3 2428.2Z" fill="#fff2f2"/>
<path d="M1940.0 2387.3C1939.4 2379.3 1942.2 2373.2 1946.7 2369.0C1951.1 2364.8 1959.2 2362.6 1966.7 2362.3C1974.2 2362.1 1984.6 2365.4 1991.7 2367.3C1998.7 2369.3 2002.1 2371.5 2009.0 2374.0C2015.9 2376.5 2026.5 2377.6 2033.3 2382.3C2040.2 2387.1 2046.7 2395.4 2050.0 2402.3C2053.3 2409.3 2054.7 2417.6 2053.3 2424.0C2051.9 2430.4 2047.8 2436.2 2041.7 2440.7C2035.6 2445.1 2025.0 2450.7 2016.7 2450.7C2008.3 2450.7 2000.0 2444.0 1991.7 2440.7C1983.3 2437.3 1973.6 2434.6 1966.7 2430.7C1959.7 2426.8 1954.4 2424.6 1950.0 2417.3C1945.6 2410.1 1940.6 2395.4 1940.0 2387.3Z" fill="#d6d6ff"/>
<path d="M1951.7 2404.0C1951.4 2400.1 1952.2 2396.8 1955.0 2394.0C1957.8 2391.2 1963.1 2387.9 1968.3 2387.3C1973.6 2386.8 1981.7 2389.0 1986.7 2390.7C1991.7 2392.3 1995.7 2394.0 1998.3 2397.3C2001.0 2400.7 2002.5 2406.2 2002.5 2410.7C2002.5 2415.1 2001.5 2420.7 1998.3 2424.0C1995.1 2427.3 1988.6 2430.1 1983.3 2430.7C1978.1 2431.2 1971.1 2429.6 1966.7 2427.3C1962.2 2425.1 1959.2 2421.2 1956.7 2417.3C1954.2 2413.4 1951.9 2407.9 1951.7 2404.0Z" fill="#babaff"/>
<path d="M1965.0 2410.7C1964.7 2408.4 1969.2 2404.6 1971.7 2404.0C1974.2 2403.4 1978.3 2405.7 1980.0 2407.3C1981.7 2409.0 1982.8 2412.3 1981.7 2414.0C1980.6 2415.7 1976.1 2417.9 1973.3 2417.3C1970.6 2416.8 1965.3 2412.9 1965.0 2410.7Z" fill="#a0a0ff"/>
<path d="M1990.0 2370.7C1992.2 2359.8 1996.9 2373.2 2003.3 2375.7C2009.7 2378.2 2021.7 2384.8 2028.3 2385.7C2035.0 2386.5 2037.2 2380.1 2043.3 2380.7C2049.4 2381.2 2058.3 2386.2 2065.0 2389.0C2071.7 2391.8 2078.1 2393.7 2083.3 2397.3C2088.6 2400.9 2093.6 2406.2 2096.7 2410.7C2099.7 2415.1 2101.7 2419.3 2101.7 2424.0C2101.7 2428.7 2099.7 2434.6 2096.7 2439.0C2093.6 2443.4 2088.9 2447.9 2083.3 2450.7C2077.8 2453.4 2070.6 2456.2 2063.3 2455.7C2056.1 2455.1 2046.7 2451.2 2040.0 2447.3C2033.3 2443.4 2027.8 2437.1 2023.3 2432.3C2018.9 2427.6 2016.1 2419.3 2013.3 2419.0C2010.6 2418.7 2009.2 2427.3 2006.7 2430.7C2004.2 2434.0 2001.1 2437.3 1998.3 2439.0C1995.6 2440.7 1991.4 2452.1 1990.0 2440.7C1988.6 2429.3 1987.8 2381.5 1990.0 2370.7Z" fill="#d6d6ff"/>
<path d="M2032.5 2420.7C2032.5 2417.6 2033.2 2413.7 2035.0 2410.7C2036.8 2407.6 2039.7 2403.7 2043.3 2402.3C2046.9 2400.9 2052.2 2401.8 2056.7 2402.3C2061.1 2402.9 2065.8 2403.7 2070.0 2405.7C2074.2 2407.6 2078.6 2410.7 2081.7 2414.0C2084.7 2417.3 2087.2 2421.8 2088.3 2425.7C2089.4 2429.6 2089.7 2434.0 2088.3 2437.3C2086.9 2440.7 2083.1 2443.8 2080.0 2445.7C2076.9 2447.6 2073.9 2448.5 2070.0 2448.7C2066.1 2448.8 2061.1 2448.1 2056.7 2446.5C2052.2 2444.9 2046.9 2441.9 2043.3 2439.0C2039.7 2436.1 2036.8 2432.1 2035.0 2429.0C2033.2 2425.9 2032.5 2423.7 2032.5 2420.7Z" fill="#babaff"/>
<path d="M2047.5 2424.0C2048.3 2421.6 2053.2 2416.8 2056.7 2416.5C2060.1 2416.2 2065.4 2420.0 2068.3 2422.3C2071.2 2424.7 2073.9 2428.2 2074.2 2430.7C2074.4 2433.2 2072.4 2436.5 2070.0 2437.3C2067.6 2438.2 2063.1 2436.8 2060.0 2435.7C2056.9 2434.6 2053.8 2432.6 2051.7 2430.7C2049.6 2428.7 2046.7 2426.4 2047.5 2424.0Z" fill="#a0a0ff"/>
<path d="M1980.0 2394.0C1981.7 2388.2 1986.9 2394.8 1990.0 2395.7C1993.1 2396.5 1996.2 2397.1 1998.3 2399.0C2000.4 2400.9 2001.9 2403.7 2002.5 2407.3C2003.1 2410.9 2002.6 2417.3 2001.7 2420.7C2000.7 2424.0 1998.6 2425.8 1996.7 2427.3C1994.7 2428.9 1992.8 2429.3 1990.0 2429.8C1987.2 2430.4 1981.7 2436.6 1980.0 2430.7C1978.3 2424.7 1978.3 2399.8 1980.0 2394.0Z" fill="#babaff"/>
<path d="M1741.7 2522.3C1742.5 2520.1 1751.4 2519.3 1758.3 2519.0C1765.3 2518.7 1777.8 2519.8 1783.3 2520.7C1788.9 2521.5 1792.2 2522.1 1791.7 2524.0C1791.1 2525.9 1786.4 2530.9 1780.0 2532.3C1773.6 2533.7 1759.7 2534.0 1753.3 2532.3C1746.9 2530.7 1740.8 2524.6 1741.7 2522.3Z" fill="#d6d6ff"/>
<path d="M1660.0 2539.0C1661.7 2536.8 1668.9 2534.3 1675.0 2534.0C1681.1 2533.7 1692.5 2535.7 1696.7 2537.3C1700.8 2539.0 1702.2 2542.1 1700.0 2544.0C1697.8 2545.9 1689.2 2548.4 1683.3 2549.0C1677.5 2549.6 1668.9 2549.0 1665.0 2547.3C1661.1 2545.7 1658.3 2541.2 1660.0 2539.0Z" fill="#d6d6ff"/>
<path d="M1181.7 2515.7C1182.2 2508.7 1183.3 2504.3 1185.0 2499.0C1186.7 2493.7 1189.7 2487.2 1191.7 2484.0C1193.6 2480.8 1193.6 2479.8 1196.7 2479.8C1199.7 2479.8 1205.0 2482.2 1210.0 2484.0C1215.0 2485.8 1221.7 2490.7 1226.7 2490.7C1231.7 2490.7 1235.8 2486.8 1240.0 2484.0C1244.2 2481.2 1246.9 2476.6 1251.7 2474.0C1256.4 2471.4 1263.3 2467.6 1268.3 2468.7C1273.3 2469.8 1276.4 2478.4 1281.7 2480.7C1286.9 2482.9 1295.3 2479.3 1300.0 2482.3C1304.7 2485.4 1306.1 2494.8 1310.0 2499.0C1313.9 2503.2 1316.7 2505.1 1323.3 2507.3C1330.0 2509.6 1341.4 2510.4 1350.0 2512.3C1358.6 2514.3 1366.7 2517.1 1375.0 2519.0C1383.3 2520.9 1393.1 2521.5 1400.0 2524.0C1406.9 2526.5 1411.7 2530.4 1416.7 2534.0C1421.7 2537.6 1427.2 2541.8 1430.0 2545.7C1432.8 2549.6 1432.2 2553.4 1433.3 2557.3C1434.4 2561.2 1437.2 2565.4 1436.7 2569.0C1436.1 2572.6 1436.1 2576.5 1430.0 2579.0C1423.9 2581.5 1410.6 2583.2 1400.0 2584.0C1389.4 2584.8 1372.2 2584.4 1366.7 2584.0C1361.1 2583.6 1372.2 2582.3 1366.7 2581.5C1361.1 2580.7 1344.4 2579.1 1333.3 2579.0C1322.2 2578.9 1311.1 2580.9 1300.0 2580.7C1288.9 2580.4 1276.4 2578.4 1266.7 2577.3C1256.9 2576.2 1247.2 2575.9 1241.7 2574.0C1236.1 2572.1 1235.0 2569.0 1233.3 2565.7C1231.7 2562.3 1233.1 2558.4 1231.7 2554.0C1230.3 2549.6 1228.3 2542.9 1225.0 2539.0C1221.7 2535.1 1215.3 2529.8 1211.7 2530.7C1208.1 2531.5 1206.4 2540.4 1203.3 2544.0C1200.3 2547.6 1196.9 2552.9 1193.3 2552.3C1189.7 2551.8 1183.6 2546.8 1181.7 2540.7C1179.7 2534.6 1181.1 2522.6 1181.7 2515.7Z" fill="#ffd8d8"/>
<path d="M1245.0 2529.0 L1247.5 2515.7 L1254.2 2502.3 L1269.2 2496.5 L1283.3 2512.3 L1298.3 2503.2 L1306.7 2522.3 L1313.3 2541.5 L1326.7 2537.3 L1341.7 2528.2 L1356.7 2523.2 L1356.7 2522.3 L1371.7 2532.3 L1398.3 2544.0 L1408.3 2557.3 L1414.2 2569.0 L1410.0 2574.0 L1400.0 2578.2 L1375.0 2575.7 L1366.7 2575.7 L1343.3 2571.5 L1326.7 2569.0 L1298.3 2575.7 L1286.7 2569.8 L1280.0 2560.7 L1269.2 2553.2 L1258.3 2559.0 L1255.0 2564.8 L1253.3 2554.0 L1250.0 2542.3Z" fill="#ffbcbc"/>
<path d="M1340.0 2554.0C1338.9 2550.1 1340.6 2547.1 1343.3 2544.0C1346.1 2540.9 1352.2 2536.5 1356.7 2535.7C1361.1 2534.8 1365.8 2536.8 1370.0 2539.0C1374.2 2541.2 1378.9 2545.4 1381.7 2549.0C1384.4 2552.6 1386.4 2557.3 1386.7 2560.7C1386.9 2564.0 1386.7 2567.1 1383.3 2569.0C1380.0 2570.9 1372.2 2572.6 1366.7 2572.3C1361.1 2572.1 1354.4 2570.4 1350.0 2567.3C1345.6 2564.3 1341.1 2557.9 1340.0 2554.0Z" fill="#ffa2a2"/>
<path d="M1340.0 2537.3C1343.3 2531.5 1354.2 2534.8 1360.0 2535.7C1365.8 2536.5 1370.8 2539.3 1375.0 2542.3C1379.2 2545.4 1382.9 2550.4 1385.0 2554.0C1387.1 2557.6 1388.3 2561.2 1387.5 2564.0C1386.7 2566.8 1384.6 2569.3 1380.0 2570.7C1375.4 2572.1 1366.7 2572.3 1360.0 2572.3C1353.3 2572.3 1343.3 2576.5 1340.0 2570.7C1336.7 2564.8 1336.7 2543.2 1340.0 2537.3Z" fill="#ffa2a2"/>
<path d="M1466.7 2379.0C1467.2 2374.6 1470.0 2370.9 1473.3 2367.3C1476.7 2363.7 1480.8 2359.8 1486.7 2357.3C1492.5 2354.8 1500.6 2352.6 1508.3 2352.3C1516.1 2352.1 1526.9 2352.9 1533.3 2355.7C1539.7 2358.4 1542.2 2363.2 1546.7 2369.0C1551.1 2374.8 1556.1 2383.2 1560.0 2390.7C1563.9 2398.2 1567.5 2407.3 1570.0 2414.0C1572.5 2420.7 1574.4 2425.1 1575.0 2430.7C1575.6 2436.2 1576.1 2443.7 1573.3 2447.3C1570.6 2450.9 1563.6 2452.3 1558.3 2452.3C1553.1 2452.3 1548.6 2449.6 1541.7 2447.3C1534.7 2445.1 1524.2 2442.1 1516.7 2439.0C1509.2 2435.9 1502.8 2433.7 1496.7 2429.0C1490.6 2424.3 1484.4 2416.5 1480.0 2410.7C1475.6 2404.8 1472.2 2399.3 1470.0 2394.0C1467.8 2388.7 1466.1 2383.4 1466.7 2379.0Z" fill="#ffd8d8"/>
<path d="M1478.3 2389.0 L1483.3 2379.0 L1500.0 2365.7 L1516.7 2362.3 L1533.3 2367.3 L1545.0 2382.3 L1555.0 2402.3 L1565.8 2422.3 L1561.7 2442.3 L1546.7 2446.5 L1531.7 2441.5 L1513.3 2430.7 L1498.3 2424.0 L1486.7 2410.7Z" fill="#ffbcbc"/>
<path d="M1493.3 2394.0C1492.8 2388.4 1496.7 2383.7 1500.0 2380.7C1503.3 2377.6 1508.3 2375.7 1513.3 2375.7C1518.3 2375.7 1525.6 2377.3 1530.0 2380.7C1534.4 2384.0 1536.7 2390.1 1540.0 2395.7C1543.3 2401.2 1547.5 2408.7 1550.0 2414.0C1552.5 2419.3 1555.6 2423.7 1555.0 2427.3C1554.4 2430.9 1550.6 2434.6 1546.7 2435.7C1542.8 2436.8 1536.7 2435.7 1531.7 2434.0C1526.7 2432.3 1521.4 2429.0 1516.7 2425.7C1511.9 2422.3 1507.2 2419.3 1503.3 2414.0C1499.4 2408.7 1493.9 2399.6 1493.3 2394.0Z" fill="#ffa2a2"/>
<path d="M1515.8 2400.7 L1531.7 2399.0 L1540.0 2415.7 L1532.5 2424.8 L1520.0 2414.8 L1515.0 2407.3Z" fill="#ff8888"/>
<path d="M1550.0 2500.7C1550.6 2496.5 1554.7 2488.4 1558.3 2484.0C1561.9 2479.6 1566.4 2475.9 1571.7 2474.0C1576.9 2472.1 1582.5 2471.2 1590.0 2472.3C1597.5 2473.4 1606.7 2477.9 1616.7 2480.7C1626.7 2483.4 1640.3 2486.2 1650.0 2489.0C1659.7 2491.8 1667.8 2494.6 1675.0 2497.3C1682.2 2500.1 1689.4 2502.1 1693.3 2505.7C1697.2 2509.3 1700.0 2515.9 1698.3 2519.0C1696.7 2522.1 1690.0 2521.8 1683.3 2524.0C1676.7 2526.2 1665.6 2528.7 1658.3 2532.3C1651.1 2535.9 1646.4 2542.1 1640.0 2545.7C1633.6 2549.3 1625.6 2554.0 1620.0 2554.0C1614.4 2554.0 1611.1 2549.6 1606.7 2545.7C1602.2 2541.8 1599.2 2535.4 1593.3 2530.7C1587.5 2525.9 1578.1 2520.9 1571.7 2517.3C1565.3 2513.7 1558.6 2511.8 1555.0 2509.0C1551.4 2506.2 1549.4 2504.8 1550.0 2500.7Z" fill="#ffd8d8"/>
<path d="M1564.2 2504.8 L1575.0 2489.0 L1590.0 2476.5 L1616.7 2483.2 L1645.0 2490.7 L1661.7 2497.3 L1666.7 2504.0 L1653.3 2514.0 L1636.7 2529.0 L1619.2 2538.2 L1606.7 2525.7 L1586.7 2515.7Z" fill="#ffbcbc"/>
<path d="M1583.3 2502.3C1582.8 2498.7 1586.7 2491.6 1590.0 2489.0C1593.3 2486.4 1597.5 2486.2 1603.3 2486.5C1609.2 2486.8 1617.8 2488.9 1625.0 2490.7C1632.2 2492.5 1641.7 2495.1 1646.7 2497.3C1651.7 2499.6 1655.6 2501.5 1655.0 2504.0C1654.4 2506.5 1648.1 2509.6 1643.3 2512.3C1638.6 2515.1 1632.2 2519.6 1626.7 2520.7C1621.1 2521.8 1615.6 2520.7 1610.0 2519.0C1604.4 2517.3 1597.8 2513.4 1593.3 2510.7C1588.9 2507.9 1583.9 2505.9 1583.3 2502.3Z" fill="#ffa2a2"/>
<path d="M1600.0 2496.5 L1608.3 2491.5 L1623.3 2494.0 L1636.7 2498.2 L1639.2 2504.8 L1619.2 2509.0 L1608.3 2504.8Z" fill="#ff8888"/>
<path d="M1645.0 2490.7C1646.9 2485.4 1652.5 2490.7 1656.7 2492.3C1660.8 2494.0 1667.5 2498.2 1670.0 2500.7C1672.5 2503.2 1672.8 2504.6 1671.7 2507.3C1670.6 2510.1 1667.8 2514.6 1663.3 2517.3C1658.9 2520.1 1648.1 2528.4 1645.0 2524.0C1641.9 2519.6 1643.1 2495.9 1645.0 2490.7Z" fill="#ffd8d8"/>
<path d="M1645.0 2494.0 L1650.0 2494.0 L1660.0 2497.3 L1666.7 2504.0 L1661.7 2512.3 L1650.0 2519.0 L1645.0 2519.8Z" fill="#ffbcbc"/>
<path d="M1678.3 2334.0C1679.7 2330.4 1690.3 2331.4 1700.0 2330.7C1709.7 2330.0 1725.6 2329.6 1736.7 2329.8C1747.8 2330.1 1757.5 2330.8 1766.7 2332.3C1775.8 2333.9 1783.9 2335.9 1791.7 2339.0C1799.4 2342.1 1808.3 2346.2 1813.3 2350.7C1818.3 2355.1 1820.0 2360.9 1821.7 2365.7C1823.3 2370.4 1824.2 2375.4 1823.3 2379.0C1822.5 2382.6 1820.6 2385.4 1816.7 2387.3C1812.8 2389.3 1806.7 2390.5 1800.0 2390.7C1793.3 2390.8 1785.0 2389.6 1776.7 2388.2C1768.3 2386.8 1758.3 2384.4 1750.0 2382.3C1741.7 2380.2 1734.2 2378.4 1726.7 2375.7C1719.2 2372.9 1710.8 2369.6 1705.0 2365.7C1699.2 2361.8 1696.1 2357.6 1691.7 2352.3C1687.2 2347.1 1676.9 2337.6 1678.3 2334.0Z" fill="#ffd8d8"/>
<path d="M1709.2 2350.7 L1721.7 2344.8 L1736.7 2339.0 L1765.0 2339.0 L1783.3 2344.8 L1800.0 2351.5 L1810.0 2359.0 L1813.3 2372.3 L1810.0 2380.7 L1795.0 2384.8 L1775.0 2379.0 L1750.0 2372.3 L1733.3 2369.0 L1720.0 2366.5Z" fill="#ffbcbc"/>
<path d="M1730.0 2354.8C1730.6 2351.9 1733.9 2347.6 1740.0 2345.7C1746.1 2343.7 1758.1 2342.1 1766.7 2343.2C1775.3 2344.3 1785.8 2349.1 1791.7 2352.3C1797.5 2355.5 1800.6 2358.7 1801.7 2362.3C1802.8 2365.9 1801.9 2372.1 1798.3 2374.0C1794.7 2375.9 1786.9 2375.1 1780.0 2374.0C1773.1 2372.9 1763.9 2369.1 1756.7 2367.3C1749.4 2365.5 1741.1 2365.2 1736.7 2363.2C1732.2 2361.1 1729.4 2357.8 1730.0 2354.8Z" fill="#ffa2a2"/>
<path d="M1750.0 2358.2 L1765.0 2353.2 L1775.8 2358.2 L1765.0 2364.0Z" fill="#ff8888"/>
<path d="M1673.3 2564.0C1675.3 2561.2 1686.1 2561.8 1691.7 2560.7C1697.2 2559.6 1700.3 2559.4 1706.7 2557.3C1713.1 2555.2 1723.3 2549.8 1730.0 2548.2C1736.7 2546.5 1743.3 2545.2 1746.7 2547.3C1750.0 2549.4 1746.7 2558.2 1750.0 2560.7C1753.3 2563.2 1761.1 2562.3 1766.7 2562.3C1772.2 2562.3 1778.6 2559.8 1783.3 2560.7C1788.1 2561.5 1793.9 2564.8 1795.0 2567.3C1796.1 2569.8 1794.2 2573.2 1790.0 2575.7C1785.8 2578.2 1779.4 2581.1 1770.0 2582.3C1760.6 2583.6 1745.0 2583.4 1733.3 2583.2C1721.7 2582.9 1708.9 2581.6 1700.0 2580.7C1691.1 2579.7 1684.4 2580.1 1680.0 2577.3C1675.6 2574.6 1671.4 2566.8 1673.3 2564.0Z" fill="#ffd8d8"/>
<path d="M1677.5 2574.0 L1683.3 2569.0 L1700.0 2564.0 L1716.7 2556.5 L1735.8 2551.5 L1741.7 2560.7 L1743.3 2569.8 L1750.0 2577.3 L1765.0 2574.8 L1771.7 2579.0 L1768.3 2584.8 L1750.0 2583.2 L1716.7 2581.5 L1691.7 2580.7Z" fill="#ffbcbc"/>
<path d="M1688.3 2575.7C1687.5 2574.1 1694.7 2571.8 1700.0 2570.7C1705.3 2569.6 1713.9 2568.7 1720.0 2569.0C1726.1 2569.3 1731.7 2570.5 1736.7 2572.3C1741.7 2574.1 1750.6 2578.3 1750.0 2579.8C1749.4 2581.4 1740.8 2581.5 1733.3 2581.5C1725.8 2581.5 1712.5 2580.8 1705.0 2579.8C1697.5 2578.9 1689.2 2577.2 1688.3 2575.7Z" fill="#ffa2a2"/>
<path d="M1845.0 2572.3C1845.6 2570.4 1847.8 2567.9 1850.0 2567.3C1852.2 2566.8 1856.4 2567.6 1858.3 2569.0C1860.3 2570.4 1862.5 2573.7 1861.7 2575.7C1860.8 2577.6 1855.8 2580.1 1853.3 2580.7C1850.8 2581.2 1848.1 2580.4 1846.7 2579.0C1845.3 2577.6 1844.4 2574.3 1845.0 2572.3Z" fill="#ffd8d8"/>
<path d="M1723.3 2488.2C1722.8 2485.4 1728.3 2483.3 1733.3 2480.7C1738.3 2478.0 1747.2 2475.4 1753.3 2472.3C1759.4 2469.3 1763.9 2465.9 1770.0 2462.3C1776.1 2458.7 1784.2 2454.6 1790.0 2450.7C1795.8 2446.8 1800.6 2442.9 1805.0 2439.0C1809.4 2435.1 1813.1 2431.8 1816.7 2427.3C1820.3 2422.9 1823.9 2417.1 1826.7 2412.3C1829.4 2407.6 1829.4 2402.1 1833.3 2399.0C1837.2 2395.9 1841.7 2394.6 1850.0 2394.0C1858.3 2393.4 1873.3 2394.8 1883.3 2395.7C1893.3 2396.5 1903.3 2397.6 1910.0 2399.0C1916.7 2400.4 1919.4 2400.9 1923.3 2404.0C1927.2 2407.1 1930.3 2412.9 1933.3 2417.3C1936.4 2421.8 1938.1 2426.8 1941.7 2430.7C1945.3 2434.6 1950.8 2436.8 1955.0 2440.7C1959.2 2444.6 1960.8 2452.1 1966.7 2454.0C1972.5 2455.9 1982.2 2452.9 1990.0 2452.3C1997.8 2451.8 2005.0 2449.8 2013.3 2450.7C2021.7 2451.5 2030.3 2455.1 2040.0 2457.3C2049.7 2459.6 2061.7 2464.0 2071.7 2464.0C2081.7 2464.0 2091.4 2461.8 2100.0 2457.3C2108.6 2452.9 2116.1 2445.1 2123.3 2437.3C2130.6 2429.6 2137.5 2414.8 2143.3 2410.7C2149.2 2406.5 2154.4 2414.6 2158.3 2412.3C2162.2 2410.1 2164.2 2402.5 2166.7 2397.3C2169.2 2392.2 2169.4 2382.6 2173.3 2381.5C2177.2 2380.4 2182.8 2386.9 2190.0 2390.7C2197.2 2394.4 2209.7 2397.6 2216.7 2404.0C2223.6 2410.4 2227.2 2424.3 2231.7 2429.0C2236.1 2433.7 2240.3 2429.8 2243.3 2432.3C2246.4 2434.8 2248.3 2438.4 2250.0 2444.0C2251.7 2449.6 2253.1 2456.5 2253.3 2465.7C2253.6 2474.8 2252.8 2490.1 2251.7 2499.0C2250.6 2507.9 2250.0 2517.3 2246.7 2519.0C2243.3 2520.7 2236.1 2507.9 2231.7 2509.0C2227.2 2510.1 2224.7 2522.6 2220.0 2525.7C2215.3 2528.7 2209.7 2526.2 2203.3 2527.3C2196.9 2528.4 2188.1 2530.1 2181.7 2532.3C2175.3 2534.6 2169.7 2536.5 2165.0 2540.7C2160.3 2544.8 2156.7 2551.8 2153.3 2557.3C2150.0 2562.9 2145.6 2569.3 2145.0 2574.0C2144.4 2578.7 2146.7 2582.3 2150.0 2585.7C2153.3 2589.0 2158.3 2592.1 2165.0 2594.0C2171.7 2595.9 2183.1 2597.3 2190.0 2597.3C2196.9 2597.3 2199.7 2595.1 2206.7 2594.0C2213.6 2592.9 2224.7 2590.4 2231.7 2590.7C2238.6 2590.9 2245.8 2593.4 2248.3 2595.7C2250.8 2597.9 2253.6 2600.4 2246.7 2604.0C2239.7 2607.6 2269.2 2615.1 2206.7 2617.3C2144.2 2619.6 1927.2 2621.8 1871.7 2617.3C1816.1 2612.9 1873.3 2596.8 1873.3 2590.7C1873.3 2584.6 1867.8 2582.3 1871.7 2580.7C1875.6 2579.0 1891.1 2581.8 1896.7 2580.7C1902.2 2579.6 1902.8 2576.5 1905.0 2574.0C1907.2 2571.5 1911.4 2570.4 1910.0 2565.7C1908.6 2560.9 1901.7 2550.9 1896.7 2545.7C1891.7 2540.4 1885.6 2535.1 1880.0 2534.0C1874.4 2532.9 1868.3 2537.6 1863.3 2539.0C1858.3 2540.4 1854.2 2543.4 1850.0 2542.3C1845.8 2541.2 1842.5 2535.4 1838.3 2532.3C1834.2 2529.3 1828.1 2527.6 1825.0 2524.0C1821.9 2520.4 1822.8 2514.0 1820.0 2510.7C1817.2 2507.3 1813.1 2505.4 1808.3 2504.0C1803.6 2502.6 1798.6 2501.8 1791.7 2502.3C1784.7 2502.9 1773.1 2507.1 1766.7 2507.3C1760.3 2507.6 1758.3 2505.7 1753.3 2504.0C1748.3 2502.3 1741.7 2500.0 1736.7 2497.3C1731.7 2494.7 1723.9 2490.9 1723.3 2488.2Z" fill="#ffd8d8"/>
<path d="M1730.8 2488.2 L1736.7 2482.3 L1756.7 2474.0 L1773.3 2464.0 L1793.3 2452.3 L1808.3 2440.7 L1820.0 2427.3 L1830.0 2414.0 L1838.3 2403.2 L1863.3 2397.3 L1891.7 2399.8 L1913.3 2403.2 L1926.7 2412.3 L1936.7 2427.3 L1948.3 2440.7 L1960.0 2450.7 L1975.0 2455.7 L1993.3 2457.3 L2013.3 2457.3 L2040.0 2464.0 L2071.7 2470.7 L2100.0 2467.3 L2120.0 2450.7 L2143.3 2429.8 L2158.3 2432.7 L2173.3 2421.5 L2201.7 2429.0 L2213.3 2437.3 L2221.7 2447.3 L2225.8 2462.3 L2226.7 2477.3 L2223.3 2492.3 L2213.3 2504.0 L2188.3 2517.3 L2173.3 2529.0 L2158.3 2530.7 L2150.0 2542.3 L2140.0 2557.3 L2131.7 2570.7 L2130.8 2579.0 L2136.7 2585.7 L2146.7 2590.7 L2136.7 2597.3 L2133.3 2617.3 L1883.3 2617.3 L1886.7 2594.0 L1900.0 2584.0 L1913.3 2570.7 L1923.3 2557.3 L1933.3 2545.7 L1948.3 2535.7 L1948.3 2530.7 L1940.0 2524.0 L1920.0 2529.0 L1903.3 2539.0 L1896.7 2545.7 L1888.3 2535.7 L1881.7 2523.2 L1866.7 2534.0 L1853.3 2542.3 L1843.3 2535.7 L1838.3 2527.3 L1840.0 2515.7 L1830.0 2505.7 L1810.0 2500.7 L1791.7 2499.0 L1766.7 2504.0 L1750.0 2500.7 L1736.7 2496.5Z" fill="#ffbcbc"/>
<path d="M1758.4 2481.5 L1759.5 2480.2 L1761.6 2479.4 L1774.4 2494.4 L1781.8 2493.5 L1786.7 2490.5 L1787.6 2466.1 L1796.2 2459.3 L1806.3 2450.7 L1814.5 2442.5 L1822.4 2433.5 L1829.4 2425.1 L1836.2 2416.8 L1845.3 2408.0 L1852.6 2404.8 L1861.8 2402.7 L1874.3 2402.1 L1886.2 2403.2 L1897.2 2404.7 L1907.7 2406.6 L1917.9 2410.9 L1923.7 2416.9 L1928.3 2424.8 L1931.9 2431.5 L1937.0 2439.2 L1942.9 2445.9 L1950.0 2452.2 L1958.1 2456.7 L1968.1 2460.0 L1980.5 2462.1 L1993.3 2463.2 L2003.1 2463.3 L2014.3 2464.2 L2028.2 2467.7 L2041.2 2471.0 L2057.5 2474.5 L2071.7 2476.5 L2079.7 2475.9 L2086.6 2475.1 L2092.2 2476.8 L2097.9 2477.6 L2105.7 2474.2 L2114.4 2467.8 L2126.9 2455.5 L2137.7 2445.7 L2153.6 2443.9 L2157.7 2445.9 L2162.2 2442.4 L2167.0 2438.5 L2170.3 2439.3 L2188.1 2439.9 L2193.9 2444.1 L2208.4 2462.1 L2210.0 2466.1 L2210.5 2471.7 L2198.4 2494.7 L2191.6 2501.8 L2187.7 2506.6 L2184.2 2510.7 L2181.2 2514.2 L2178.0 2516.6 L2173.1 2516.4 L2160.0 2518.6 L2156.6 2522.0 L2153.7 2526.8 L2149.8 2531.6 L2145.7 2537.0 L2141.0 2542.9 L2137.1 2546.7 L2131.8 2550.2 L2126.3 2553.3 L2121.0 2555.5 L2116.6 2557.9 L2114.5 2561.0 L2113.6 2564.4 L2113.1 2567.7 L2113.6 2570.6 L2115.6 2574.3 L2118.5 2577.8 L2122.2 2580.9 L2125.7 2583.8 L2128.1 2586.7 L2130.0 2595.7 L2127.7 2596.6 L2116.8 2608.6 L2122.4 2613.3 L2106.5 2618.0 L2005.3 2620.0 L1896.4 2617.8 L1884.2 2601.9 L1900.5 2589.9 L1906.5 2583.9 L1913.5 2577.4 L1919.7 2569.9 L1926.3 2561.2 L1933.2 2552.3 L1941.7 2544.2 L1948.4 2539.6 L1952.1 2536.8 L1952.4 2536.6 L1951.3 2535.9 L1948.5 2530.5 L1942.7 2523.4 L1940.5 2520.7 L1937.0 2519.1 L1925.2 2519.7 L1914.2 2521.0 L1909.6 2520.7 L1891.6 2515.6 L1889.1 2513.5 L1887.1 2511.2 L1885.1 2508.0 L1882.5 2505.2 L1876.2 2504.6 L1846.9 2497.5 L1840.0 2495.1 L1832.7 2493.7 L1821.8 2495.4 L1809.2 2497.2 L1799.9 2496.0 L1791.7 2494.8 L1784.8 2495.5 L1777.9 2497.0 L1769.8 2499.3 L1762.6 2500.1 L1760.2 2498.0Z" fill="#ffa2a2"/>
<path d="M1761.7 2488.2 L1765.0 2485.7 L1780.0 2486.5 L1791.7 2474.0 L1810.0 2455.7 L1826.7 2437.3 L1841.7 2420.7 L1853.3 2410.7 L1873.3 2406.5 L1896.7 2409.0 L1915.0 2414.8 L1923.3 2427.3 L1931.7 2444.0 L1945.0 2457.3 L1966.7 2465.7 L1993.3 2469.0 L2013.3 2470.7 L2040.0 2477.3 L2071.7 2482.3 L2086.7 2479.8 L2100.0 2486.5 L2120.0 2474.0 L2143.3 2452.3 L2158.3 2459.0 L2173.3 2445.7 L2183.3 2454.0 L2191.7 2465.7 L2194.2 2472.3 L2186.7 2490.7 L2180.0 2504.0 L2173.3 2511.5 L2158.3 2507.3 L2150.0 2522.3 L2140.0 2534.0 L2130.0 2542.3 L2115.0 2545.7 L2100.0 2548.2 L2095.8 2557.3 L2096.7 2567.3 L2106.7 2579.0 L2120.0 2587.3 L2123.3 2594.0 L2113.3 2599.0 L2110.0 2617.3 L1896.7 2617.3 L1903.3 2594.0 L1916.7 2580.7 L1930.0 2564.0 L1943.3 2547.3 L1955.0 2539.0 L1953.3 2537.3 L1943.3 2522.3 L1936.7 2514.0 L1910.0 2512.3 L1900.0 2507.3 L1891.7 2499.0 L1883.3 2487.3 L1858.3 2485.7 L1836.7 2482.3 L1810.0 2494.0 L1791.7 2490.7 L1776.7 2492.3 L1763.3 2496.5Z" fill="#ff8888"/>
<path d="M1819.5 2452.6 L1820.9 2449.1 L1821.9 2446.0 L1824.9 2441.3 L1828.6 2436.5 L1832.7 2431.8 L1837.6 2426.7 L1842.0 2422.8 L1847.7 2418.6 L1856.4 2414.4 L1866.7 2412.5 L1876.7 2411.8 L1886.5 2412.0 L1895.5 2413.0 L1901.0 2414.2 L1905.4 2415.9 L1909.0 2418.4 L1915.0 2426.7 L1916.7 2432.5 L1918.7 2439.1 L1919.9 2444.3 L1921.0 2448.4 L1922.3 2451.3 L1925.1 2454.9 L1928.2 2457.9 L1933.1 2461.5 L1939.6 2465.5 L1946.4 2468.2 L1956.2 2471.1 L1965.2 2472.7 L1972.4 2472.8 L1977.7 2471.5 L1984.0 2471.1 L1989.4 2472.2 L1996.2 2474.4 L1999.8 2476.7 L2001.2 2479.7 L2002.7 2482.2 L2009.3 2482.9 L2017.2 2482.4 L2025.8 2482.5 L2033.2 2483.7 L2040.9 2485.3 L2049.5 2487.1 L2060.5 2489.4 L2069.2 2491.2 L2075.7 2491.6 L2079.9 2491.1 L2090.5 2493.0 L2092.3 2494.2 L2092.8 2495.6 L2093.9 2497.5 L2094.2 2499.6 L2094.2 2501.9 L2095.4 2534.8 L2093.8 2537.2 L2092.1 2539.7 L2090.5 2542.2 L2088.7 2545.1 L2087.5 2547.6 L2086.4 2550.2 L2085.7 2552.9 L2085.4 2556.6 L2085.8 2559.9 L2086.9 2563.5 L2089.0 2567.6 L2092.3 2572.4 L2096.2 2576.9 L2100.8 2580.9 L2104.3 2583.9 L2105.2 2585.4 L2103.5 2585.4 L2105.0 2596.5 L2107.7 2601.3 L2101.4 2615.4 L2070.4 2618.9 L2000.9 2620.0 L1923.3 2618.7 L1897.5 2615.6 L1902.3 2601.8 L1912.5 2592.6 L1918.9 2585.3 L1925.7 2576.9 L1932.0 2568.3 L1937.4 2560.3 L1942.6 2552.7 L1948.4 2546.6 L1954.2 2542.5 L1957.0 2539.6 L1956.7 2537.5 L1953.2 2533.4 L1950.6 2528.6 L1947.1 2521.7 L1944.1 2514.7 L1942.1 2510.7 L1940.7 2507.4 L1938.3 2505.7 L1932.1 2506.6 L1924.2 2509.1 L1918.2 2510.2 L1912.1 2509.7 L1906.7 2507.9 L1902.3 2504.7 L1899.3 2501.3 L1896.5 2497.3 L1893.1 2490.8 L1890.9 2486.6 L1889.0 2484.1 L1886.1 2482.1 L1883.4 2481.0 L1879.0 2480.6 L1873.9 2481.1 L1866.9 2481.2 L1856.0 2480.0 L1846.6 2477.6 L1838.9 2475.9 L1834.7 2474.4 L1821.1 2457.2 L1819.6 2455.9 L1819.0 2454.8Z" fill="#ff6c6c"/>
<path d="M1823.3 2455.7 L1825.0 2444.0 L1835.0 2430.7 L1850.0 2420.7 L1873.3 2417.3 L1896.7 2417.3 L1906.7 2424.0 L1910.0 2440.7 L1911.7 2455.7 L1920.0 2465.7 L1940.0 2475.7 L1966.7 2479.8 L1983.3 2474.0 L1998.3 2482.3 L2003.3 2495.7 L2023.3 2490.7 L2045.0 2494.0 L2071.7 2500.7 L2085.8 2500.7 L2090.0 2507.3 L2090.8 2519.0 L2085.0 2530.7 L2078.3 2542.3 L2075.0 2552.3 L2078.3 2564.0 L2090.0 2579.0 L2101.7 2589.0 L2096.7 2594.0 L2090.0 2617.3 L1910.0 2617.3 L1916.7 2597.3 L1933.3 2574.0 L1946.7 2552.3 L1958.3 2540.7 L1953.3 2529.0 L1946.7 2510.7 L1940.0 2497.3 L1920.0 2507.3 L1906.7 2504.0 L1900.0 2494.0 L1893.3 2480.7 L1883.3 2474.8 L1866.7 2476.5 L1841.7 2470.7 L1826.7 2462.3Z" fill="#ff5252"/>
<path d="M1833.8 2445.0C1833.9 2444.2 1834.2 2443.5 1834.5 2442.7C1834.8 2441.9 1835.1 2441.1 1835.6 2440.2C1836.1 2439.3 1836.8 2438.2 1837.5 2437.4C1838.1 2436.5 1838.6 2435.9 1839.3 2435.0C1840.1 2434.1 1841.0 2433.2 1842.0 2432.3C1842.9 2431.3 1843.9 2430.4 1845.1 2429.5C1846.3 2428.6 1847.7 2427.5 1849.0 2426.8C1850.3 2426.0 1851.6 2425.3 1852.7 2424.8C1853.9 2424.3 1854.9 2423.9 1855.8 2423.6C1856.8 2423.3 1857.3 2423.1 1858.3 2422.9C1859.3 2422.7 1860.5 2422.5 1861.8 2422.3C1863.1 2422.1 1864.2 2422.0 1866.2 2421.9C1868.1 2421.7 1870.9 2421.5 1873.5 2421.4C1876.1 2421.2 1879.1 2421.0 1882.0 2421.0C1884.9 2420.9 1888.5 2420.8 1891.0 2421.0C1893.5 2421.1 1895.4 2421.3 1897.1 2421.8C1898.8 2422.3 1900.3 2423.0 1901.3 2423.9C1902.3 2424.7 1902.7 2425.7 1903.0 2426.7C1903.4 2427.7 1903.4 2428.7 1903.5 2429.9C1903.6 2431.1 1903.6 2432.3 1903.7 2433.8C1903.8 2435.2 1903.9 2436.7 1903.9 2438.6C1903.9 2440.4 1903.9 2442.9 1903.8 2444.9C1903.7 2446.9 1903.5 2449.0 1903.3 2450.6C1903.1 2452.3 1903.0 2453.8 1902.8 2454.9C1902.6 2456.0 1902.5 2456.5 1902.3 2457.1C1902.1 2457.6 1903.3 2456.5 1901.6 2458.1C1899.9 2459.6 1894.1 2464.8 1892.1 2466.2C1890.2 2467.7 1890.9 2466.7 1889.8 2467.0C1888.8 2467.3 1887.4 2467.7 1885.8 2468.1C1884.2 2468.5 1882.3 2468.9 1880.2 2469.4C1878.2 2469.9 1875.6 2470.6 1873.4 2471.0C1871.1 2471.3 1868.7 2471.6 1866.7 2471.6C1864.7 2471.6 1863.0 2471.2 1861.4 2470.8C1859.8 2470.5 1858.4 2469.9 1857.0 2469.4C1855.5 2468.8 1854.1 2468.2 1852.8 2467.6C1851.5 2467.0 1850.2 2466.4 1849.1 2465.9C1847.9 2465.4 1846.9 2464.9 1845.9 2464.4C1844.9 2463.9 1844.0 2463.4 1843.3 2462.9C1842.6 2462.5 1842.2 2462.1 1841.6 2461.6C1840.9 2461.1 1840.2 2460.6 1839.5 2460.0C1838.8 2459.4 1838.6 2459.7 1837.6 2458.2C1836.6 2456.8 1834.1 2453.0 1833.4 2451.2C1832.7 2449.4 1833.5 2448.3 1833.5 2447.3C1833.6 2446.2 1833.6 2445.8 1833.8 2445.0Z" fill="#ff3636"/>
<path d="M1837.5 2447.3C1837.5 2444.3 1839.0 2440.7 1841.7 2437.3C1844.3 2434.0 1849.2 2429.6 1853.3 2427.3C1857.5 2425.1 1859.4 2424.6 1866.7 2424.0C1873.9 2423.4 1891.0 2422.3 1896.7 2424.0C1902.4 2425.7 1900.6 2428.7 1900.8 2434.0C1901.1 2439.3 1899.9 2450.9 1898.3 2455.7C1896.8 2460.4 1896.9 2460.1 1891.7 2462.3C1886.4 2464.6 1873.6 2469.0 1866.7 2469.0C1859.7 2469.0 1854.2 2464.6 1850.0 2462.3C1845.8 2460.1 1843.8 2458.2 1841.7 2455.7C1839.6 2453.2 1837.5 2450.4 1837.5 2447.3Z" fill="#ff1c1c"/>
<path d="M1844.2 2447.3C1844.3 2444.8 1845.1 2441.8 1847.5 2439.0C1849.9 2436.2 1855.1 2432.3 1858.3 2430.7C1861.5 2429.0 1861.4 2429.0 1866.7 2429.0C1871.9 2429.0 1885.6 2429.0 1890.0 2430.7C1894.4 2432.3 1893.1 2435.4 1893.3 2439.0C1893.6 2442.6 1893.1 2449.3 1891.7 2452.3C1890.3 2455.4 1889.2 2455.2 1885.0 2457.3C1880.8 2459.5 1872.2 2465.1 1866.7 2465.3C1861.1 2465.6 1855.0 2460.9 1851.7 2459.0C1848.3 2457.1 1847.9 2455.9 1846.7 2454.0C1845.4 2452.1 1844.0 2449.8 1844.2 2447.3Z" fill="#ff0000"/>
<path d="M1850.8 2447.3 L1853.3 2440.7 L1866.7 2434.0 L1883.3 2439.0 L1886.7 2445.7 L1881.7 2452.3 L1866.7 2461.5 L1853.3 2455.7Z" fill="#fff"/>
<path d="M1951.2 2507.9 L1951.4 2502.9 L1952.4 2498.2 L1960.1 2488.6 L1966.1 2485.5 L1972.4 2482.8 L1978.5 2481.7 L1988.5 2482.8 L1995.3 2486.9 L1997.5 2489.1 L1998.8 2491.8 L2001.6 2494.9 L2006.7 2497.9 L2012.4 2500.2 L2017.3 2502.5 L2022.1 2504.8 L2029.4 2507.2 L2033.6 2509.3 L2036.5 2511.3 L2036.6 2514.1 L2034.1 2518.4 L2030.7 2522.7 L2019.5 2526.2 L2016.0 2527.6 L2013.8 2529.5 L2013.2 2532.9 L2034.7 2553.9 L2034.6 2557.3 L2016.8 2579.2 L2015.4 2581.2 L2012.9 2583.8 L2003.7 2586.9 L1999.8 2589.0 L1994.8 2588.4 L1977.1 2564.1 L1975.0 2566.4 L1985.4 2595.7 L1993.3 2602.7 L1983.2 2606.0 L1968.1 2607.2 L1960.8 2606.4 L1959.6 2602.8 L1953.1 2583.0 L1957.0 2575.1 L1964.8 2564.2 L1970.1 2557.2 L1971.1 2551.9 L1970.0 2547.1 L1967.7 2544.2 L1963.6 2544.6 L1958.1 2547.6 L1952.0 2552.9 L1946.9 2561.0 L1942.8 2569.6 L1938.0 2579.3 L1933.2 2589.5 L1928.2 2598.0 L1922.3 2603.9 L1917.1 2606.1 L1915.3 2604.4 L1917.6 2597.3 L1922.2 2587.2 L1927.6 2579.1 L1933.9 2571.7 L1939.8 2564.1 L1945.6 2554.4 L1951.1 2545.7 L1955.7 2539.1 L1957.9 2537.3 L1959.2 2536.6 L1958.7 2533.9 L1956.2 2529.4 L1954.0 2524.2 L1952.7 2518.6 L1951.6 2512.0Z" fill="#ff3636"/>
<path d="M1953.3 2507.3 L1958.3 2494.0 L1975.0 2484.0 L1993.3 2487.3 L2000.0 2494.0 L2015.0 2504.0 L2028.3 2514.0 L2035.0 2521.5 L2026.7 2537.3 L2016.7 2544.0 L2017.5 2557.3 L2013.3 2565.7 L2000.0 2575.7 L1983.3 2574.0 L1990.0 2597.3 L1960.0 2600.7 L1963.3 2582.3 L1976.7 2560.7 L1971.7 2545.7 L1955.0 2552.3 L1943.3 2574.0 L1931.7 2600.7 L1916.7 2607.3 L1923.3 2584.0 L1940.0 2564.0 L1953.3 2540.7 L1960.0 2535.7 L1955.0 2524.0Z" fill="#ff1c1c"/>
<path d="M1960.0 2509.0C1960.3 2505.7 1960.6 2502.1 1963.3 2499.0C1966.1 2495.9 1972.2 2491.8 1976.7 2490.7C1981.1 2489.6 1985.8 2490.1 1990.0 2492.3C1994.2 2494.6 1999.2 2498.7 2001.7 2504.0C2004.2 2509.3 2005.3 2517.9 2005.0 2524.0C2004.7 2530.1 2003.1 2537.3 2000.0 2540.7C1996.9 2544.0 1990.6 2544.0 1986.7 2544.0C1982.8 2544.0 1980.0 2543.2 1976.7 2540.7C1973.3 2538.2 1969.2 2532.6 1966.7 2529.0C1964.2 2525.4 1962.8 2522.3 1961.7 2519.0C1960.6 2515.7 1959.7 2512.3 1960.0 2509.0Z" fill="#ff0000"/>
<path d="M1967.5 2512.3C1967.8 2509.6 1967.4 2506.8 1970.0 2504.0C1972.6 2501.2 1980.0 2495.1 1983.3 2495.7C1986.7 2496.2 1988.3 2503.2 1990.0 2507.3C1991.7 2511.5 1993.3 2516.8 1993.3 2520.7C1993.3 2524.6 1991.7 2528.2 1990.0 2530.7C1988.3 2533.2 1986.1 2535.9 1983.3 2535.7C1980.6 2535.4 1975.8 2531.5 1973.3 2529.0C1970.8 2526.5 1969.3 2523.4 1968.3 2520.7C1967.4 2517.9 1967.2 2515.1 1967.5 2512.3Z" fill="#fff"/>
<path d="M1933.3 2600.7 L1943.3 2577.3 L1955.0 2554.0 L1970.0 2547.3 L1976.7 2557.3 L1966.7 2564.0 L1960.0 2580.7 L1956.7 2600.7Z" fill="#fff"/>
<path d="M2163.3 2477.3C2163.1 2472.3 2165.0 2467.3 2166.7 2464.0C2168.3 2460.7 2171.2 2456.5 2173.3 2457.3C2175.4 2458.2 2178.1 2464.8 2179.2 2469.0C2180.3 2473.2 2180.7 2477.6 2180.0 2482.3C2179.3 2487.1 2176.9 2495.4 2175.0 2497.3C2173.1 2499.3 2170.3 2497.3 2168.3 2494.0C2166.4 2490.7 2163.6 2482.3 2163.3 2477.3Z" fill="#ff6c6c"/>
<path d="M2042.5 2581.5 L2056.7 2574.8 L2070.0 2577.3 L2082.5 2584.8 L2076.7 2588.2 L2056.7 2587.3Z" fill="#ff0000"/>
<path d="M1871.7 2560.7 L1881.7 2549.0 L1896.7 2554.0 L1903.3 2544.0 L1916.7 2532.3 L1933.3 2524.0 L1943.3 2523.2 L1950.0 2530.7 L1943.3 2538.2 L1926.7 2544.0 L1920.0 2555.7 L1910.0 2565.7 L1905.0 2574.0 L1896.7 2580.7 L1881.7 2583.2 L1871.7 2579.0Z" fill="#f0f0ff"/>
<path d="M1903.3 2547.3C1903.3 2544.3 1906.7 2541.8 1910.0 2539.0C1913.3 2536.2 1918.3 2532.8 1923.3 2530.7C1928.3 2528.6 1936.7 2526.2 1940.0 2526.5C1943.3 2526.8 1944.4 2530.5 1943.3 2532.3C1942.2 2534.1 1937.2 2535.7 1933.3 2537.3C1929.4 2539.0 1923.1 2539.6 1920.0 2542.3C1916.9 2545.1 1916.7 2551.5 1915.0 2554.0C1913.3 2556.5 1911.9 2558.4 1910.0 2557.3C1908.1 2556.2 1903.3 2550.4 1903.3 2547.3Z" fill="#babaff"/>
<path d="M1880.0 2574.0C1880.0 2572.1 1880.8 2567.9 1883.3 2565.7C1885.8 2563.4 1891.9 2560.1 1895.0 2560.7C1898.1 2561.2 1901.1 2566.5 1901.7 2569.0C1902.2 2571.5 1901.4 2574.3 1898.3 2575.7C1895.3 2577.1 1886.4 2577.6 1883.3 2577.3C1880.3 2577.1 1880.0 2575.9 1880.0 2574.0Z" fill="#babaff"/>
<path d="M2235.0 2569.0C2236.7 2565.8 2242.8 2564.3 2246.7 2564.8C2250.6 2565.4 2255.3 2569.7 2258.3 2572.3C2261.4 2575.0 2264.7 2577.9 2265.0 2580.7C2265.3 2583.4 2263.1 2586.8 2260.0 2589.0C2256.9 2591.2 2250.6 2594.8 2246.7 2594.0C2242.8 2593.2 2238.6 2588.2 2236.7 2584.0C2234.7 2579.8 2233.3 2572.2 2235.0 2569.0Z" fill="#ffd8d8"/>
<path d="M2201.7 2597.3C2204.4 2595.1 2216.9 2593.2 2223.3 2592.3C2229.7 2591.5 2235.8 2591.5 2240.0 2592.3C2244.2 2593.2 2247.1 2595.4 2248.3 2597.3C2249.6 2599.3 2254.4 2602.6 2247.5 2604.0C2240.6 2605.4 2214.3 2606.8 2206.7 2605.7C2199.0 2604.6 2198.9 2599.6 2201.7 2597.3Z" fill="#ffbcbc"/>
<path d="M1375.0 2600.7 L1400.0 2594.0 L1430.0 2588.2 L1450.0 2592.3 L1475.0 2595.7 L1486.7 2602.3 L1490.0 2617.3 L1366.7 2617.3Z" fill="#ffbcbc"/>
<path d="M1391.7 2603.2 L1425.0 2596.5 L1458.3 2599.0 L1480.0 2606.5 L1483.3 2617.3 L1383.3 2617.3Z" fill="#ff6c6c"/>
<path d="M1416.7 2605.7 L1436.7 2601.5 L1458.3 2604.8 L1466.7 2617.3 L1408.3 2617.3Z" fill="#ff1c1c"/>
<path d="M1256.7 2604.0 L1350.0 2603.2 L1430.0 2601.5 L1440.8 2604.0 L1430.0 2607.3 L1350.0 2609.2 L1256.7 2609.2Z" fill="#fff"/>
<path d="M1508.3 2599.0 L1533.3 2594.8 L1566.7 2594.8 L1586.7 2599.0 L1590.0 2617.3 L1506.7 2617.3Z" fill="#babaff"/>
<path d="M1525.0 2603.2 L1550.0 2599.8 L1580.0 2602.3 L1583.3 2617.3 L1521.7 2617.3Z" fill="#6a6aff"/>
<path d="M1600.0 2605.7 L1620.0 2595.7 L1650.0 2590.7 L1683.3 2593.2 L1709.0 2594.8 L1747.3 2594.0 L1752.3 2617.3 L1596.7 2617.3Z" fill="#ffbcbc"/>
<path d="M1613.3 2607.3 L1636.7 2599.8 L1666.7 2598.2 L1700.0 2602.3 L1742.3 2603.2 L1745.7 2617.3 L1610.0 2617.3Z" fill="#ff6c6c"/>
<path d="M1636.7 2608.2 L1666.7 2604.8 L1700.0 2607.3 L1725.7 2617.3 L1633.3 2617.3Z" fill="#ff1c1c"/>
<path d="M1663.3 2557.3C1666.1 2555.0 1675.7 2556.5 1683.3 2554.8C1690.9 2553.2 1700.7 2548.9 1709.0 2547.3C1717.3 2545.8 1726.5 2544.0 1733.3 2545.7C1740.2 2547.3 1750.0 2552.6 1750.0 2557.3C1750.0 2562.1 1741.7 2569.6 1733.3 2574.0C1725.0 2578.4 1709.4 2583.2 1700.0 2584.0C1690.6 2584.8 1682.2 2581.5 1676.7 2579.0C1671.1 2576.5 1668.9 2572.6 1666.7 2569.0C1664.4 2565.4 1660.6 2559.7 1663.3 2557.3Z" fill="#ffd8d8"/>
<path d="M1676.7 2574.0C1676.9 2571.6 1686.7 2569.6 1693.3 2567.3C1700.0 2565.1 1710.0 2561.2 1716.7 2560.7C1723.3 2560.1 1733.3 2561.2 1733.3 2564.0C1733.3 2566.8 1723.6 2574.4 1716.7 2577.3C1709.7 2580.2 1698.3 2582.1 1691.7 2581.5C1685.0 2580.9 1676.4 2576.4 1676.7 2574.0Z" fill="#ffa2a2"/>
<path d="M1688.3 2594.0 L1716.7 2592.3 L1766.7 2592.3 L1816.7 2591.5 L1858.3 2594.0 L1871.7 2600.7 L1870.0 2617.3 L1696.7 2617.3Z" fill="#babaff"/>
<path d="M1705.0 2600.7 L1733.3 2598.2 L1783.3 2599.0 L1833.3 2600.7 L1858.3 2617.3 L1703.3 2617.3Z" fill="#8686ff"/>
<path d="M1716.7 2604.8 L1741.7 2602.3 L1775.0 2604.0 L1783.3 2617.3 L1713.3 2617.3Z" fill="#3434ff"/>
<path d="M1046.7 2548.2 L1066.7 2549.0 L1068.3 2554.0 L1078.3 2557.3 L1066.7 2564.0 L1080.0 2572.3 L1081.7 2580.7 L1095.0 2589.0 L1096.7 2594.0 L1116.7 2600.7 L1141.7 2604.0 L1183.3 2605.7 L1216.7 2606.5 L1350.0 2605.7 L1350.0 2617.3 L1046.7 2617.3Z" fill="#fff"/>
<path d="M1080.0 2572.3 L1100.0 2564.0 L1130.0 2560.7 L1150.0 2565.7 L1153.3 2580.7 L1166.7 2590.7 L1183.3 2599.0 L1143.3 2604.0 L1116.7 2600.7 L1096.7 2594.0 L1081.7 2580.7Z" fill="#babaff"/>
<path d="M1105.0 2580.7 L1125.0 2572.3 L1143.3 2574.0 L1150.0 2584.0 L1153.3 2597.3 L1133.3 2600.7 L1116.7 2595.7Z" fill="#6a6aff"/>
<path d="M1128.3 2585.7 L1140.0 2580.7 L1148.3 2587.3 L1145.0 2597.3 L1133.3 2597.3Z" fill="#1a1aff"/>
<path d="M1081.7 2557.3 L1090.0 2553.2 L1095.0 2557.3 L1105.0 2560.7 L1096.7 2569.0 L1088.3 2564.0Z" fill="#ff5252"/>
<path d="M1083.3 2548.2 L1095.0 2546.5 L1116.7 2554.0 L1130.0 2559.0 L1121.7 2559.8 L1100.0 2555.7Z" fill="#ffbcbc"/>
<path d="M1156.7 2550.7 L1166.7 2546.5 L1193.3 2557.3 L1196.7 2560.7 L1176.7 2562.3 L1160.0 2559.0Z" fill="#fff"/>
<path d="M1166.7 2553.2 L1178.3 2554.0 L1173.3 2557.3Z" fill="#ff0000"/>
<path d="M1128.3 2564.0 L1140.0 2560.7 L1150.0 2564.8 L1140.0 2569.0Z" fill="#fff"/>
<path d="M1123.3 2549.0 L1143.3 2539.0 L1148.3 2544.0 L1138.3 2550.7 L1128.3 2554.0Z" fill="#fff"/>
<path d="M1315.0 2590.7 L1320.0 2584.8 L1350.0 2583.2 L1383.3 2584.0 L1386.7 2587.3 L1380.0 2594.0 L1358.3 2597.3 L1333.3 2594.8Z" fill="#f0f0ff"/>
<path d="M1323.3 2592.3C1320.8 2591.1 1336.1 2588.0 1343.3 2587.3C1350.6 2586.6 1361.1 2587.6 1366.7 2588.2C1372.2 2588.7 1378.1 2589.6 1376.7 2590.7C1375.3 2591.8 1367.2 2594.6 1358.3 2594.8C1349.4 2595.1 1325.8 2593.6 1323.3 2592.3Z" fill="#babaff"/>
<path d="M1233.3 2599.0 L1283.3 2594.0 L1333.3 2597.3 L1383.3 2599.0 L1416.7 2597.3 L1416.7 2617.3 L1216.7 2617.3Z" fill="#a0a0ff"/>
<path d="M1266.7 2602.3 L1316.7 2599.8 L1366.7 2602.3 L1416.7 2601.5 L1416.7 2617.3 L1258.3 2617.3Z" fill="#5050ff"/>
<path d="M1366.7 2597.3 L1409.0 2589.0 L1433.3 2585.7 L1433.3 2607.3 L1375.0 2607.3Z" fill="#ffa2a2"/>
<path d="M1622.5 1557.5 L1602.5 1586.0 L1597.5 1614.0 L1615.0 1622.5 L1635.0 1631.0 L1647.5 1642.5 L1666.5 1664.0 L1668.5 1689.0 L1650.0 1696.5 L1625.0 1700.0 L1600.0 1701.5 L1580.0 1700.0 L1561.5 1699.0 L1542.5 1711.5 L1552.5 1717.5 L1562.5 1726.0 L1586.5 1754.0 L1560.0 1772.5 L1549.0 1793.5 L1565.0 1801.5 L1590.0 1806.5 L1620.0 1805.0 L1665.0 1797.5 L1692.5 1796.5 L1707.5 1810.0 L1692.5 1827.5 L1677.5 1835.0 L1660.0 1837.0 L1640.0 1835.0 L1620.0 1826.5 L1610.0 1828.0 L1602.5 1834.0 L1594.0 1845.0 L1597.5 1862.5 L1605.0 1871.0 L1620.0 1876.5 L1605.0 1880.0 L1591.0 1885.0 L1562.5 1881.5 L1551.0 1875.0 L1547.5 1861.0 L1520.0 1854.0 L1503.5 1847.5 L1486.5 1861.0 L1492.5 1877.5 L1500.0 1892.5 L1501.5 1906.0 L1512.5 1920.0 L1518.5 1932.5 L1529.0 1945.0 L1549.0 1954.0 L1562.5 1967.5 L1577.5 1980.0 L1592.5 1991.5 L1605.0 2002.5 L1611.5 2012.5 L1619.0 2025.0 L1622.5 2037.5 L1633.5 2046.0 L1621.5 2056.0 L1622.5 2065.0 L1620.0 2075.0 L1627.0 2085.0 L1625.0 2092.5 L1616.5 2102.5 L1615.0 2110.0 L1620.0 2116.5 L1630.0 2120.0 L1647.5 2123.5 L1690.0 2125.0 L1730.0 2129.0 L1760.0 2134.0 L1780.0 2137.5 L1790.0 2146.0 L1775.0 2155.0 L1750.0 2157.5 L1715.0 2161.0 L1670.0 2165.0 L1630.0 2168.5 L1613.5 2171.5 L1613.5 2179.0 L1625.0 2185.0 L1640.0 2189.0 L1660.0 2190.0 L1690.0 2188.5 L1707.5 2190.0 L1732.5 2201.5 L1747.5 2196.0 L1742.5 2188.5 L1730.0 2186.0 L1710.0 2184.0 L1700.0 2179.0 L1707.5 2173.5 L1720.0 2173.0 L1740.0 2176.0 L1760.0 2181.5 L1775.0 2187.5 L1795.0 2193.5 L1810.0 2192.5 L1818.5 2187.5 L1822.5 2172.5 L1830.0 2162.5 L1852.5 2160.0 L1866.5 2171.5 L1867.5 2180.0 L1860.0 2187.5 L1861.0 2197.5 L1872.5 2210.0 L1882.5 2216.0 L1900.0 2217.5 L1917.5 2215.0 L1940.0 2211.0 L1955.0 2215.0 L1970.0 2204.0 L1985.0 2212.5 L2000.0 2219.0 L2015.0 2231.0 L2026.0 2246.0 L2032.5 2265.0 L2033.5 2285.0 L2031.0 2310.0 L2030.0 2335.0 L2015.0 2342.5 L1990.0 2332.5 L1970.0 2329.0 L1940.0 2336.0 L1925.0 2332.5 L1916.0 2325.0 L1917.5 2315.0 L1912.5 2302.5 L1912.5 2290.0 L1895.0 2273.5 L1880.0 2260.0 L1860.0 2252.5 L1830.0 2245.0 L1795.0 2239.0 L1774.0 2235.0 L1772.5 2226.0 L1760.0 2215.0 L1750.0 2207.5 L1737.5 2207.5 L1733.5 2214.0 L1736.5 2221.5 L1752.5 2228.5 L1761.5 2237.5 L1752.5 2250.0 L1735.0 2251.5 L1752.5 2257.5 L1737.5 2272.5 L1715.0 2277.5 L1700.0 2281.5 L1686.0 2285.0 L1692.5 2294.0 L1682.5 2301.5 L1655.0 2305.0 L1635.0 2306.5 L1620.0 2307.5 L1615.0 2310.0 L1620.0 2312.5 L1633.5 2311.0 L1640.0 2315.0 L1657.5 2319.0 L1680.0 2320.0 L1705.0 2317.5 L1730.0 2314.0 L1760.0 2315.0 L1785.0 2313.5 L1805.0 2320.0 L1825.0 2327.5 L1842.5 2334.0 L1845.0 2341.5 L1838.3 2349.0 L1833.3 2357.3 L1830.8 2365.7 L1835.0 2372.3 L1843.3 2377.3 L1865.0 2382.3 L1886.7 2387.3 L1910.0 2391.5 L1925.0 2389.0 L1933.3 2399.0 L1940.0 2414.0 L1955.0 2424.0 L1966.7 2440.7 L1976.7 2444.8 L1990.0 2448.2 L2000.0 2447.3 L2013.3 2440.7 L2031.7 2452.3 L2053.3 2458.2 L2071.7 2460.7 L2086.7 2457.3 L2100.0 2451.5 L2110.0 2440.7 L2118.3 2424.0 L2119.2 2410.7 L2117.5 2394.0 L2115.8 2380.7 L2111.7 2367.3 L2110.8 2357.3 L2106.7 2340.7 L2103.3 2324.0 L2101.5 2310.0 L2116.5 2295.0 L2126.5 2265.0 L2130.0 2239.0 L2126.5 2222.5 L2122.5 2200.0 L2116.5 2184.0 L2100.0 2175.0 L2085.0 2160.0 L2082.5 2125.0 L2085.0 2110.0 L2100.0 2107.5 L2116.5 2111.0 L2130.0 2124.0 L2145.0 2132.5 L2160.0 2134.0 L2175.0 2150.0 L2185.0 2177.5 L2192.5 2200.0 L2202.5 2214.0 L2217.5 2226.0 L2231.0 2227.5 L2241.5 2220.0 L2246.5 2212.5 L2261.0 2232.5 L2285.0 2234.0 L2305.0 2239.0 L2315.0 2244.0 L2320.0 2250.0 L2326.0 2242.5 L2329.0 2215.0 L2330.0 2175.0 L2332.5 2145.0 L2345.0 2140.0 L2355.0 2130.0" fill="none" stroke="#000" stroke-width="2.30" stroke-linejoin="round"/>
<path d="M1781.5 1845.0 L1788.5 1827.5 L1800.0 1825.5 L1816.0 1828.0 L1814.0 1846.0 L1795.0 1855.0Z" fill="none" stroke="#000" stroke-width="2.30" stroke-linejoin="round"/>
<path d="M1756.0 1970.0 L1765.0 1947.5 L1780.0 1946.5 L1797.5 1956.0 L1796.5 1971.0 L1780.0 1977.5 L1765.0 1976.5Z" fill="none" stroke="#000" stroke-width="2.30" stroke-linejoin="round"/>
<path d="M1721.0 1981.0 L1736.0 1975.0 L1750.0 1981.5 L1735.0 1983.5Z" fill="none" stroke="#000" stroke-width="2.30" stroke-linejoin="round"/>
<path d="M1953.5 1980.0 L1970.0 1971.0 L1974.0 1992.5 L1971.0 2006.5Z" fill="none" stroke="#000" stroke-width="2.30" stroke-linejoin="round"/>
<path d="M1696.0 2055.0 L1707.5 2050.0 L1719.0 2056.0 L1707.5 2060.0Z" fill="none" stroke="#000" stroke-width="2.30" stroke-linejoin="round"/>
<path d="M1705.0 2082.5 L1717.5 2074.0 L1740.0 2070.0 L1765.0 2069.0 L1780.0 2071.0 L1803.5 2084.0 L1795.0 2092.5 L1780.0 2096.5 L1750.0 2091.0 L1715.0 2088.5Z" fill="none" stroke="#000" stroke-width="2.30" stroke-linejoin="round"/>
<path d="M1661.5 2251.0 L1677.5 2241.5 L1691.0 2245.0 L1685.0 2254.0 L1665.0 2255.0Z" fill="none" stroke="#000" stroke-width="2.30" stroke-linejoin="round"/>
<path d="M1647.5 2285.0 L1662.5 2283.0 L1672.5 2285.0 L1660.0 2289.0Z" fill="none" stroke="#000" stroke-width="2.30" stroke-linejoin="round"/>
<path d="M1312.5 1585.0 L1329.0 1580.0 L1340.0 1586.0 L1329.0 1595.0 L1314.0 1615.0Z" fill="none" stroke="#000" stroke-width="2.30" stroke-linejoin="round"/>
<path d="M1610.0 2004.0 L1621.5 2004.0" fill="none" stroke="#000" stroke-width="2.30" stroke-linejoin="round"/>
<path d="M1746.0 1945.0 L1759.0 1945.0" fill="none" stroke="#000" stroke-width="2.30" stroke-linejoin="round"/>
<path d="M2355.0 1565.0 L2335.0 1569.0 L2330.0 1585.0 L2329.0 1640.0 L2320.0 1646.5 L2316.0 1635.0 L2315.0 1614.0 L2305.0 1600.0 L2295.0 1555.0 L2355.0 1555.0Z" fill="none" stroke="#000" stroke-width="2.30" stroke-linejoin="round"/>
<path d="M2355.0 1709.0 L2334.0 1709.0 L2332.5 1722.5 L2333.5 1736.0 L2355.0 1733.5Z" fill="none" stroke="#000" stroke-width="2.30" stroke-linejoin="round"/>
<path d="M2355.0 1849.0 L2334.0 1850.0 L2331.5 1865.0 L2335.0 1881.5 L2355.0 1891.0Z" fill="none" stroke="#000" stroke-width="2.30" stroke-linejoin="round"/>
<path d="M2355.0 1917.5 L2335.0 1916.5 L2334.0 1927.5Z" fill="none" stroke="#000" stroke-width="2.30" stroke-linejoin="round"/>
<path d="M2305.0 2018.5 L2321.0 2024.0 L2326.0 2036.0 L2324.0 2045.0 L2306.0 2055.0 L2312.5 2067.5 L2327.5 2082.5 L2331.0 2095.0 L2330.0 2102.5 L2320.0 2111.0 L2305.0 2116.5 L2300.0 2095.0 L2302.5 2070.0 L2305.0 2055.0 L2302.5 2037.5Z" fill="none" stroke="#000" stroke-width="2.30" stroke-linejoin="round"/>
<path d="M1189.0 1557.5 L1172.5 1587.5 L1167.5 1600.0 L1157.5 1615.0 L1154.0 1626.0 L1140.0 1619.0 L1125.0 1625.0 L1112.5 1640.0 L1095.0 1649.0 L1081.0 1646.0 L1066.0 1655.0 L1059.0 1667.5 L1054.0 1685.0" fill="none" stroke="#000" stroke-width="2.30" stroke-linejoin="round"/>
<path d="M1055.0 1557.5 L1059.0 1585.0 L1080.0 1602.5 L1095.0 1606.0 L1107.5 1602.5 L1124.0 1606.0 L1132.5 1585.0 L1134.0 1557.5" fill="none" stroke="#000" stroke-width="2.30" stroke-linejoin="round"/>
<path d="M1047.5 1737.5 L1066.0 1755.0 L1094.0 1768.5 L1097.0 1775.0 L1081.0 1792.5 L1047.5 1805.0" fill="none" stroke="#000" stroke-width="2.30" stroke-linejoin="round"/>
<path d="M1047.5 1840.0 L1057.5 1861.0 L1065.0 1862.5 L1080.0 1851.5 L1095.0 1850.0 L1112.5 1858.5 L1117.5 1877.5 L1116.0 1892.5 L1110.0 1911.0 L1100.0 1920.0 L1094.0 1930.0 L1087.5 1932.5 L1084.0 1950.0 L1081.0 1965.0 L1067.5 1979.0 L1057.5 1982.5 L1055.0 2000.0 L1047.5 2020.0" fill="none" stroke="#000" stroke-width="2.30" stroke-linejoin="round"/>
<path d="M1046.7 2370.7 L1055.8 2374.0 L1060.8 2382.3 L1066.7 2384.8 L1073.3 2390.7 L1080.8 2394.0 L1088.3 2407.3 L1096.7 2422.3 L1106.7 2432.3 L1124.2 2443.7 L1128.3 2439.0 L1138.3 2434.0 L1153.3 2431.5 L1167.5 2424.8 L1181.7 2425.7 L1194.2 2431.5 L1195.8 2439.8 L1193.3 2450.7 L1186.7 2465.7 L1179.2 2480.7 L1175.0 2494.0 L1173.3 2507.3 L1171.7 2524.0 L1171.3 2537.3 L1172.5 2544.0" fill="none" stroke="#000" stroke-width="2.30" stroke-linejoin="round"/>
<path d="M1172.5 2544.0 L1195.0 2560.7 L1211.7 2558.7 L1216.7 2570.7 L1221.7 2580.7 L1231.7 2584.8 L1255.0 2586.5 L1256.7 2589.0 L1246.7 2592.3 L1226.7 2594.0 L1208.3 2597.3 L1183.3 2605.7" fill="none" stroke="#000" stroke-width="2.30" stroke-linejoin="round"/>
<path d="M1100.0 2557.3 L1130.0 2536.5 L1126.7 2527.3 L1123.3 2515.7 L1116.7 2499.0 L1110.0 2484.0 L1101.7 2474.8 L1095.0 2467.3 L1081.7 2461.5 L1070.0 2455.7 L1065.8 2451.0 L1056.7 2455.7 L1046.7 2463.2" fill="none" stroke="#000" stroke-width="2.30" stroke-linejoin="round"/>
<path d="M1196.7 2439.0 L1200.8 2430.7 L1225.8 2422.3 L1237.5 2431.5 L1238.0 2439.0 L1234.2 2449.0 L1225.8 2457.3 L1210.0 2449.8 L1202.5 2445.7Z" fill="none" stroke="#000" stroke-width="2.30" stroke-linejoin="round"/>
<path d="M1409.0 2522.3 L1383.3 2517.3 L1370.0 2510.7 L1355.0 2503.2 L1333.3 2499.0 L1320.0 2494.0 L1310.0 2485.7 L1303.3 2474.0 L1300.0 2460.7 L1300.8 2447.3 L1303.3 2434.0 L1307.5 2420.7 L1315.0 2407.3 L1320.0 2394.0 L1328.3 2382.3 L1341.7 2371.5 L1353.3 2366.5 L1360.8 2359.0 L1365.0 2349.0 L1367.5 2334.0 L1373.3 2322.3 L1385.0 2305.0 L1400.0 2292.5 L1415.0 2285.0 L1450.0 2280.0 L1474.0 2272.5 L1490.0 2280.0 L1502.5 2285.0 L1515.0 2300.0 L1540.0 2310.0 L1570.0 2317.5 L1615.0 2332.5 L1665.0 2340.0 L1677.5 2350.0 L1685.0 2360.7 L1690.0 2374.0 L1709.0 2382.3 L1713.3 2387.3 L1725.0 2394.0 L1736.7 2397.3 L1750.0 2395.7 L1775.0 2394.8 L1800.0 2395.7 L1815.0 2398.2 L1821.7 2405.7 L1818.3 2414.0 L1810.0 2424.0 L1800.0 2434.0 L1786.7 2442.3 L1766.7 2450.7 L1750.0 2462.3 L1736.7 2467.3 L1721.7 2473.2 L1706.7 2470.7 L1691.7 2471.5 L1690.0 2474.0 L1694.2 2480.7 L1706.7 2488.2 L1721.7 2498.2 L1736.7 2507.3 L1751.7 2512.3 L1766.7 2515.7 L1783.3 2511.5 L1795.0 2509.8 L1808.3 2513.2 L1810.0 2522.3 L1806.7 2529.0 L1808.3 2537.3 L1820.0 2545.7 L1833.3 2552.3 L1845.0 2559.0 L1833.3 2567.3 L1827.5 2574.0 L1830.0 2580.7 L1841.7 2584.0 L1858.3 2583.2 L1870.0 2580.7 L1875.0 2590.7" fill="none" stroke="#000" stroke-width="2.30" stroke-linejoin="round"/>
<path d="M1493.3 2599.0 L1500.0 2592.3 L1495.0 2587.3 L1483.3 2577.3 L1470.0 2572.3 L1456.7 2569.0 L1448.3 2560.7 L1446.7 2550.7 L1440.0 2540.7 L1430.0 2524.0 L1416.7 2527.3" fill="none" stroke="#000" stroke-width="2.30" stroke-linejoin="round"/>
<path d="M1493.3 2320.7 L1473.3 2329.0 L1466.7 2335.7 L1453.3 2342.3 L1444.2 2349.8 L1428.3 2348.7 L1425.8 2355.7 L1425.8 2365.7 L1430.0 2369.0 L1445.0 2366.5 L1451.7 2384.0 L1463.3 2402.3 L1476.7 2419.0 L1491.7 2433.2 L1510.0 2439.0 L1523.3 2446.5 L1531.7 2465.7 L1548.3 2469.0 L1550.8 2473.2 L1547.5 2481.5 L1531.7 2479.8 L1530.0 2486.5 L1536.7 2502.3 L1550.0 2514.0 L1571.7 2524.0 L1586.7 2535.7 L1596.7 2547.3 L1610.0 2555.7 L1619.2 2560.7 L1633.3 2552.3 L1650.0 2540.7 L1666.7 2537.3 L1683.3 2532.3 L1709.0 2517.3 L1713.3 2519.0 L1712.5 2505.7 L1721.7 2498.2" fill="none" stroke="#000" stroke-width="2.30" stroke-linejoin="round"/>
<path d="M1706.7 2488.2 L1693.3 2490.7 L1678.3 2490.7 L1663.3 2484.8 L1650.0 2480.7 L1641.7 2479.0 L1616.7 2474.0 L1600.0 2465.7 L1586.7 2455.7 L1579.2 2440.7 L1580.8 2424.0 L1575.0 2404.0 L1569.2 2390.7 L1568.3 2380.7 L1561.7 2370.7 L1556.7 2358.2 L1548.3 2350.7 L1541.7 2342.3 L1531.7 2335.7 L1513.3 2329.0 L1493.3 2320.7" fill="none" stroke="#000" stroke-width="2.30" stroke-linejoin="round"/>
<path d="M1664.2 2559.8 L1673.3 2554.8 L1693.3 2556.5 L1706.7 2545.7 L1723.3 2539.8 L1736.7 2534.8 L1748.3 2540.7 L1759.2 2545.7 L1754.2 2552.3 L1766.7 2554.8 L1793.3 2555.7 L1800.8 2562.3 L1804.2 2569.0 L1798.3 2577.3 L1790.0 2584.0 L1766.7 2588.2 L1750.0 2587.3 L1716.7 2585.7 L1691.7 2584.8 L1675.0 2581.5 L1667.5 2575.7Z" fill="none" stroke="#000" stroke-width="2.30" stroke-linejoin="round"/>
<path d="M2352.5 2317.3 L2345.0 2324.0 L2340.0 2334.0 L2335.0 2342.3 L2333.3 2365.7 L2331.7 2399.0 L2328.3 2424.0 L2323.3 2440.7 L2321.7 2474.0 L2324.2 2507.3 L2326.7 2532.3 L2323.3 2555.7 L2316.7 2570.7 L2305.0 2583.2 L2296.7 2575.7 L2289.2 2569.0 L2285.8 2579.0 L2285.0 2584.0 L2273.3 2602.3 L2263.3 2606.5" fill="none" stroke="#000" stroke-width="2.30" stroke-linejoin="round"/>
<path d="M2154.2 2574.0 L2156.7 2565.7 L2161.7 2557.3 L2173.3 2550.7 L2188.3 2542.3 L2203.3 2544.0 L2213.3 2552.3 L2215.8 2559.0 L2211.7 2567.3 L2208.3 2579.0 L2203.3 2584.0 L2195.0 2589.0 L2188.3 2593.2 L2175.0 2593.2 L2165.0 2587.3 L2158.3 2580.7Z" fill="none" stroke="#000" stroke-width="2.30" stroke-linejoin="round"/>
<path d="M1314.2 2460.7C1313.6 2455.5 1314.6 2446.8 1316.7 2440.7C1318.8 2434.6 1322.2 2429.3 1326.7 2424.0C1331.1 2418.7 1336.7 2413.3 1343.3 2409.0C1350.0 2404.7 1358.3 2400.5 1366.7 2398.2C1375.0 2395.8 1385.0 2395.2 1393.3 2394.8C1401.7 2394.4 1409.4 2393.7 1416.7 2395.7C1423.9 2397.6 1431.7 2404.0 1436.7 2406.5C1441.7 2409.0 1443.1 2407.8 1446.7 2410.7C1450.3 2413.6 1453.9 2419.0 1458.3 2424.0C1462.8 2429.0 1469.9 2435.1 1473.3 2440.7C1476.8 2446.2 1477.8 2451.8 1479.2 2457.3C1480.6 2462.9 1481.2 2469.0 1481.7 2474.0C1482.1 2479.0 1479.7 2484.0 1481.7 2487.3C1483.6 2490.7 1488.9 2491.5 1493.3 2494.0C1497.8 2496.5 1504.4 2499.3 1508.3 2502.3C1512.2 2505.4 1513.9 2509.0 1516.7 2512.3C1519.4 2515.7 1519.4 2519.6 1525.0 2522.3C1530.6 2525.1 1542.5 2525.9 1550.0 2529.0C1557.5 2532.1 1564.4 2536.2 1570.0 2540.7C1575.6 2545.1 1578.3 2550.9 1583.3 2555.7C1588.3 2560.4 1594.7 2565.1 1600.0 2569.0C1605.3 2572.9 1615.0 2575.4 1615.0 2579.0C1615.0 2582.6 1605.3 2587.6 1600.0 2590.7C1594.7 2593.7 1591.7 2595.9 1583.3 2597.3C1575.0 2598.7 1559.2 2600.1 1550.0 2599.0C1540.8 2597.9 1533.9 2593.2 1528.3 2590.7C1522.8 2588.2 1520.3 2586.8 1516.7 2584.0C1513.1 2581.2 1509.2 2577.9 1506.7 2574.0C1504.2 2570.1 1503.3 2565.4 1501.7 2560.7C1500.0 2555.9 1499.7 2550.1 1496.7 2545.7C1493.6 2541.2 1486.7 2538.4 1483.3 2534.0C1480.0 2529.6 1480.0 2522.6 1476.7 2519.0C1473.3 2515.4 1468.3 2513.3 1463.3 2512.3C1458.3 2511.4 1452.2 2514.8 1446.7 2513.2C1441.1 2511.5 1436.4 2503.7 1430.0 2502.3C1423.6 2500.9 1415.7 2504.0 1408.3 2504.8C1401.0 2505.7 1392.8 2509.1 1385.8 2507.3C1378.9 2505.5 1371.8 2497.9 1366.7 2494.0C1361.5 2490.1 1360.0 2486.5 1355.0 2484.0C1350.0 2481.5 1342.5 2481.1 1336.7 2479.0C1330.8 2476.9 1323.8 2474.6 1320.0 2471.5C1316.2 2468.4 1314.7 2465.8 1314.2 2460.7Z" fill="none" stroke="#000" stroke-width="2.30" stroke-linejoin="round" stroke-dasharray="10 4.3"/>
<path d="M1332.5 2450.7C1331.9 2445.9 1333.8 2438.7 1336.7 2434.0C1339.6 2429.3 1345.0 2426.2 1350.0 2422.3C1355.0 2418.4 1361.1 2413.3 1366.7 2410.7C1372.2 2408.0 1375.3 2406.9 1383.3 2406.5C1391.4 2406.1 1407.5 2405.9 1415.0 2408.2C1422.5 2410.4 1423.3 2417.2 1428.3 2419.8C1433.3 2422.5 1440.0 2420.5 1445.0 2424.0C1450.0 2427.5 1455.3 2434.3 1458.3 2440.7C1461.4 2447.1 1463.6 2455.7 1463.3 2462.3C1463.1 2469.0 1459.6 2475.2 1456.7 2480.7C1453.8 2486.1 1450.3 2494.0 1445.8 2494.8C1441.4 2495.7 1434.9 2486.4 1430.0 2485.7C1425.1 2485.0 1424.0 2489.7 1416.7 2490.7C1409.3 2491.6 1393.6 2493.4 1385.8 2491.5C1378.1 2489.6 1375.1 2482.5 1370.0 2479.0C1364.9 2475.5 1360.0 2473.4 1355.0 2470.7C1350.0 2467.9 1343.8 2465.7 1340.0 2462.3C1336.2 2459.0 1333.1 2455.4 1332.5 2450.7Z" fill="none" stroke="#000" stroke-width="2.30" stroke-linejoin="round" stroke-dasharray="10 4.3"/>
<path d="M1351.7 2445.7C1351.4 2440.9 1355.0 2433.3 1358.3 2429.0C1361.7 2424.7 1366.1 2421.8 1371.7 2419.8C1377.2 2417.8 1384.7 2416.9 1391.7 2417.0C1398.6 2417.1 1408.1 2418.4 1413.3 2420.7C1418.6 2422.9 1420.6 2427.1 1423.3 2430.7C1426.1 2434.3 1427.1 2438.6 1430.0 2442.3C1432.9 2446.1 1440.6 2450.4 1440.8 2453.2C1441.1 2455.9 1434.2 2456.1 1431.7 2459.0C1429.2 2461.9 1428.3 2467.5 1425.8 2470.7C1423.3 2473.9 1422.4 2477.2 1416.7 2478.2C1411.0 2479.1 1398.6 2478.0 1391.7 2476.5C1384.7 2475.0 1380.3 2472.2 1375.0 2469.0C1369.7 2465.8 1363.9 2461.2 1360.0 2457.3C1356.1 2453.4 1351.9 2450.4 1351.7 2445.7Z" fill="none" stroke="#000" stroke-width="2.30" stroke-linejoin="round" stroke-dasharray="10 4.3"/>
<path d="M1367.5 2447.3C1367.5 2444.3 1368.6 2439.8 1371.7 2437.3C1374.7 2434.8 1380.8 2432.3 1385.8 2432.3C1390.8 2432.3 1396.5 2435.9 1401.7 2437.3C1406.8 2438.7 1413.9 2438.4 1416.7 2440.7C1419.4 2442.9 1418.3 2447.6 1418.3 2450.7C1418.3 2453.7 1419.4 2458.0 1416.7 2459.0C1413.9 2460.0 1406.8 2455.9 1401.7 2456.5C1396.5 2457.1 1390.8 2462.5 1385.8 2462.3C1380.8 2462.2 1374.7 2458.2 1371.7 2455.7C1368.6 2453.2 1367.5 2450.4 1367.5 2447.3Z" fill="none" stroke="#000" stroke-width="2.30" stroke-linejoin="round" stroke-dasharray="10 4.3"/>
<path d="M1534.2 2581.5 L1540.0 2574.0 L1561.7 2565.7 L1570.0 2572.3 L1576.7 2580.7 L1573.3 2585.7 L1550.0 2587.3Z" fill="none" stroke="#000" stroke-width="2.30" stroke-linejoin="round" stroke-dasharray="10 4.3"/>
<path d="M1585.0 2397.3C1584.4 2393.3 1584.7 2386.8 1586.7 2382.3C1588.6 2377.9 1591.9 2373.9 1596.7 2370.7C1601.4 2367.5 1608.9 2363.9 1615.0 2363.2C1621.1 2362.5 1631.4 2363.9 1633.3 2366.5C1635.3 2369.1 1629.4 2375.2 1626.7 2379.0C1623.9 2382.8 1619.7 2385.9 1616.7 2389.0C1613.6 2392.1 1610.6 2395.0 1608.3 2397.3C1606.1 2399.7 1606.4 2401.6 1603.3 2403.2C1600.3 2404.7 1593.1 2407.5 1590.0 2406.5C1586.9 2405.5 1585.6 2401.4 1585.0 2397.3Z" fill="none" stroke="#000" stroke-width="2.30" stroke-linejoin="round" stroke-dasharray="10 4.3"/>
<path d="M1597.5 2446.5C1596.7 2443.2 1600.4 2439.4 1603.3 2439.0C1606.2 2438.6 1610.6 2441.5 1615.0 2444.0C1619.4 2446.5 1626.4 2450.9 1630.0 2454.0C1633.6 2457.1 1636.1 2460.1 1636.7 2462.3C1637.2 2464.6 1636.1 2466.4 1633.3 2467.3C1630.6 2468.3 1624.2 2469.6 1620.0 2468.2C1615.8 2466.8 1612.1 2462.6 1608.3 2459.0C1604.6 2455.4 1598.3 2449.8 1597.5 2446.5Z" fill="none" stroke="#000" stroke-width="2.30" stroke-linejoin="round" stroke-dasharray="10 4.3"/>
<path d="M1675.0 2434.0C1675.6 2430.1 1674.7 2428.7 1678.3 2427.3C1681.9 2425.9 1690.3 2427.3 1696.7 2425.7C1703.1 2424.0 1710.0 2419.8 1716.7 2417.3C1723.3 2414.8 1731.1 2412.9 1736.7 2410.7C1742.2 2408.4 1743.6 2405.5 1750.0 2404.0C1756.4 2402.5 1767.5 2401.5 1775.0 2401.5C1782.5 2401.5 1789.7 2401.8 1795.0 2404.0C1800.3 2406.2 1805.8 2410.9 1806.7 2414.8C1807.5 2418.7 1803.9 2423.6 1800.0 2427.3C1796.1 2431.1 1788.9 2434.6 1783.3 2437.3C1777.8 2440.1 1772.2 2441.8 1766.7 2444.0C1761.1 2446.2 1757.2 2449.3 1750.0 2450.7C1742.8 2452.1 1730.8 2453.2 1723.3 2452.3C1715.8 2451.5 1710.8 2446.5 1705.0 2445.7C1699.2 2444.8 1692.8 2445.1 1688.3 2447.3C1683.9 2449.6 1680.6 2458.4 1678.3 2459.0C1676.1 2459.6 1675.6 2454.8 1675.0 2450.7C1674.4 2446.5 1674.4 2437.9 1675.0 2434.0Z" fill="none" stroke="#000" stroke-width="2.30" stroke-linejoin="round" stroke-dasharray="10 4.3"/>
<path d="M1738.3 2429.0C1737.2 2425.7 1740.3 2422.1 1743.3 2419.0C1746.4 2415.9 1750.6 2412.1 1756.7 2410.7C1762.8 2409.3 1774.4 2409.3 1780.0 2410.7C1785.6 2412.1 1788.6 2416.5 1790.0 2419.0C1791.4 2421.5 1790.6 2423.4 1788.3 2425.7C1786.1 2427.9 1780.8 2430.7 1776.7 2432.3C1772.5 2434.0 1767.8 2434.6 1763.3 2435.7C1758.9 2436.8 1754.2 2440.1 1750.0 2439.0C1745.8 2437.9 1739.4 2432.3 1738.3 2429.0Z" fill="none" stroke="#000" stroke-width="2.30" stroke-linejoin="round" stroke-dasharray="10 4.3"/>
<path d="M1716.7 2432.3C1716.7 2430.0 1718.1 2426.9 1721.7 2426.5C1725.3 2426.1 1736.9 2428.0 1738.3 2429.8C1739.7 2431.6 1732.8 2435.5 1730.0 2437.3C1727.2 2439.1 1723.9 2441.5 1721.7 2440.7C1719.4 2439.8 1716.7 2434.7 1716.7 2432.3Z" fill="none" stroke="#000" stroke-width="2.30" stroke-linejoin="round" stroke-dasharray="10 4.3"/>
<path d="M1645.8 2431.5 L1654.2 2430.7 L1648.3 2439.8Z" fill="none" stroke="#000" stroke-width="2.30" stroke-linejoin="round"/>
<path d="M1657.5 2423.2 L1663.3 2419.0 L1663.3 2428.2Z" fill="none" stroke="#000" stroke-width="2.30" stroke-linejoin="round"/>
<path d="M1951.7 2404.0C1951.4 2400.1 1952.2 2396.8 1955.0 2394.0C1957.8 2391.2 1963.1 2387.9 1968.3 2387.3C1973.6 2386.8 1981.7 2389.0 1986.7 2390.7C1991.7 2392.3 1995.7 2394.0 1998.3 2397.3C2001.0 2400.7 2002.5 2406.2 2002.5 2410.7C2002.5 2415.1 2001.5 2420.7 1998.3 2424.0C1995.1 2427.3 1988.6 2430.1 1983.3 2430.7C1978.1 2431.2 1971.1 2429.6 1966.7 2427.3C1962.2 2425.1 1959.2 2421.2 1956.7 2417.3C1954.2 2413.4 1951.9 2407.9 1951.7 2404.0Z" fill="none" stroke="#000" stroke-width="2.30" stroke-linejoin="round" stroke-dasharray="10 4.3"/>
<path d="M2032.5 2420.7C2032.5 2417.6 2033.2 2413.7 2035.0 2410.7C2036.8 2407.6 2039.7 2403.7 2043.3 2402.3C2046.9 2400.9 2052.2 2401.8 2056.7 2402.3C2061.1 2402.9 2065.8 2403.7 2070.0 2405.7C2074.2 2407.6 2078.6 2410.7 2081.7 2414.0C2084.7 2417.3 2087.2 2421.8 2088.3 2425.7C2089.4 2429.6 2089.7 2434.0 2088.3 2437.3C2086.9 2440.7 2083.1 2443.8 2080.0 2445.7C2076.9 2447.6 2073.9 2448.5 2070.0 2448.7C2066.1 2448.8 2061.1 2448.1 2056.7 2446.5C2052.2 2444.9 2046.9 2441.9 2043.3 2439.0C2039.7 2436.1 2036.8 2432.1 2035.0 2429.0C2033.2 2425.9 2032.5 2423.7 2032.5 2420.7Z" fill="none" stroke="#000" stroke-width="2.30" stroke-linejoin="round" stroke-dasharray="10 4.3"/>
<path d="M1990.0 2395.7C1991.4 2396.2 1996.2 2397.1 1998.3 2399.0C2000.4 2400.9 2001.9 2403.7 2002.5 2407.3C2003.1 2410.9 2002.6 2417.3 2001.7 2420.7C2000.7 2424.0 1998.6 2425.8 1996.7 2427.3C1994.7 2428.9 1991.1 2429.4 1990.0 2429.8" fill="none" stroke="#000" stroke-width="2.30" stroke-linejoin="round" stroke-dasharray="10 4.3"/>
<path d="M1245.0 2529.0 L1247.5 2515.7 L1254.2 2502.3 L1269.2 2496.5 L1283.3 2512.3 L1298.3 2503.2 L1306.7 2522.3 L1313.3 2541.5 L1326.7 2537.3 L1341.7 2528.2 L1356.7 2523.2 L1356.7 2522.3 L1371.7 2532.3 L1398.3 2544.0 L1408.3 2557.3 L1414.2 2569.0 L1410.0 2574.0 L1400.0 2578.2 L1375.0 2575.7 L1366.7 2575.7 L1343.3 2571.5 L1326.7 2569.0 L1298.3 2575.7 L1286.7 2569.8 L1280.0 2560.7 L1269.2 2553.2 L1258.3 2559.0 L1255.0 2564.8 L1253.3 2554.0 L1250.0 2542.3Z" fill="none" stroke="#000" stroke-width="2.30" stroke-linejoin="round"/>
<path d="M1478.3 2389.0 L1483.3 2379.0 L1500.0 2365.7 L1516.7 2362.3 L1533.3 2367.3 L1545.0 2382.3 L1555.0 2402.3 L1565.8 2422.3 L1561.7 2442.3 L1546.7 2446.5 L1531.7 2441.5 L1513.3 2430.7 L1498.3 2424.0 L1486.7 2410.7Z" fill="none" stroke="#000" stroke-width="2.30" stroke-linejoin="round"/>
<path d="M1515.8 2400.7 L1531.7 2399.0 L1540.0 2415.7 L1532.5 2424.8 L1520.0 2414.8 L1515.0 2407.3Z" fill="none" stroke="#000" stroke-width="2.30" stroke-linejoin="round"/>
<path d="M1564.2 2504.8 L1575.0 2489.0 L1590.0 2476.5 L1616.7 2483.2 L1645.0 2490.7 L1661.7 2497.3 L1666.7 2504.0 L1653.3 2514.0 L1636.7 2529.0 L1619.2 2538.2 L1606.7 2525.7 L1586.7 2515.7Z" fill="none" stroke="#000" stroke-width="2.30" stroke-linejoin="round"/>
<path d="M1600.0 2496.5 L1608.3 2491.5 L1623.3 2494.0 L1636.7 2498.2 L1639.2 2504.8 L1619.2 2509.0 L1608.3 2504.8Z" fill="none" stroke="#000" stroke-width="2.30" stroke-linejoin="round"/>
<path d="M1650.0 2494.0 L1660.0 2497.3 L1666.7 2504.0 L1661.7 2512.3 L1650.0 2519.0" fill="none" stroke="#000" stroke-width="2.30" stroke-linejoin="round"/>
<path d="M1709.2 2350.7 L1721.7 2344.8 L1736.7 2339.0 L1765.0 2339.0 L1783.3 2344.8 L1800.0 2351.5 L1810.0 2359.0 L1813.3 2372.3 L1810.0 2380.7 L1795.0 2384.8 L1775.0 2379.0 L1750.0 2372.3 L1733.3 2369.0 L1720.0 2366.5Z" fill="none" stroke="#000" stroke-width="2.30" stroke-linejoin="round"/>
<path d="M1750.0 2358.2 L1765.0 2353.2 L1775.8 2358.2 L1765.0 2364.0Z" fill="none" stroke="#000" stroke-width="2.30" stroke-linejoin="round"/>
<path d="M1677.5 2574.0 L1683.3 2569.0 L1700.0 2564.0 L1716.7 2556.5 L1735.8 2551.5 L1741.7 2560.7 L1743.3 2569.8 L1750.0 2577.3 L1765.0 2574.8 L1771.7 2579.0 L1768.3 2584.8 L1750.0 2583.2 L1716.7 2581.5 L1691.7 2580.7Z" fill="none" stroke="#000" stroke-width="2.30" stroke-linejoin="round"/>
<path d="M1730.8 2488.2 L1736.7 2482.3 L1756.7 2474.0 L1773.3 2464.0 L1793.3 2452.3 L1808.3 2440.7 L1820.0 2427.3 L1830.0 2414.0 L1838.3 2403.2 L1863.3 2397.3 L1891.7 2399.8 L1913.3 2403.2 L1926.7 2412.3 L1936.7 2427.3 L1948.3 2440.7 L1960.0 2450.7 L1975.0 2455.7 L1993.3 2457.3 L2013.3 2457.3 L2040.0 2464.0 L2071.7 2470.7 L2100.0 2467.3 L2120.0 2450.7 L2143.3 2429.8 L2158.3 2432.7 L2173.3 2421.5 L2201.7 2429.0 L2213.3 2437.3 L2221.7 2447.3 L2225.8 2462.3 L2226.7 2477.3 L2223.3 2492.3 L2213.3 2504.0 L2188.3 2517.3 L2173.3 2529.0 L2158.3 2530.7 L2150.0 2542.3 L2140.0 2557.3 L2131.7 2570.7 L2130.8 2579.0 L2136.7 2585.7 L2146.7 2590.7 L2136.7 2597.3 L2133.3 2617.3 L1883.3 2617.3 L1886.7 2594.0 L1900.0 2584.0 L1913.3 2570.7 L1923.3 2557.3 L1933.3 2545.7 L1948.3 2535.7 L1948.3 2530.7 L1940.0 2524.0 L1920.0 2529.0 L1903.3 2539.0 L1896.7 2545.7 L1888.3 2535.7 L1881.7 2523.2 L1866.7 2534.0 L1853.3 2542.3 L1843.3 2535.7 L1838.3 2527.3 L1840.0 2515.7 L1830.0 2505.7 L1810.0 2500.7 L1791.7 2499.0 L1766.7 2504.0 L1750.0 2500.7 L1736.7 2496.5Z" fill="none" stroke="#000" stroke-width="2.30" stroke-linejoin="round"/>
<path d="M1761.7 2488.2 L1765.0 2485.7 L1780.0 2486.5 L1791.7 2474.0 L1810.0 2455.7 L1826.7 2437.3 L1841.7 2420.7 L1853.3 2410.7 L1873.3 2406.5 L1896.7 2409.0 L1915.0 2414.8 L1923.3 2427.3 L1931.7 2444.0 L1945.0 2457.3 L1966.7 2465.7 L1993.3 2469.0 L2013.3 2470.7 L2040.0 2477.3 L2071.7 2482.3 L2086.7 2479.8 L2100.0 2486.5 L2120.0 2474.0 L2143.3 2452.3 L2158.3 2459.0 L2173.3 2445.7 L2183.3 2454.0 L2191.7 2465.7 L2194.2 2472.3 L2186.7 2490.7 L2180.0 2504.0 L2173.3 2511.5 L2158.3 2507.3 L2150.0 2522.3 L2140.0 2534.0 L2130.0 2542.3 L2115.0 2545.7 L2100.0 2548.2 L2095.8 2557.3 L2096.7 2567.3 L2106.7 2579.0 L2120.0 2587.3 L2123.3 2594.0 L2113.3 2599.0 L2110.0 2617.3 L1896.7 2617.3 L1903.3 2594.0 L1916.7 2580.7 L1930.0 2564.0 L1943.3 2547.3 L1955.0 2539.0 L1953.3 2537.3 L1943.3 2522.3 L1936.7 2514.0 L1910.0 2512.3 L1900.0 2507.3 L1891.7 2499.0 L1883.3 2487.3 L1858.3 2485.7 L1836.7 2482.3 L1810.0 2494.0 L1791.7 2490.7 L1776.7 2492.3 L1763.3 2496.5Z" fill="none" stroke="#000" stroke-width="2.30" stroke-linejoin="round"/>
<path d="M1823.3 2455.7 L1825.0 2444.0 L1835.0 2430.7 L1850.0 2420.7 L1873.3 2417.3 L1896.7 2417.3 L1906.7 2424.0 L1910.0 2440.7 L1911.7 2455.7 L1920.0 2465.7 L1940.0 2475.7 L1966.7 2479.8 L1983.3 2474.0 L1998.3 2482.3 L2003.3 2495.7 L2023.3 2490.7 L2045.0 2494.0 L2071.7 2500.7 L2085.8 2500.7 L2090.0 2507.3 L2090.8 2519.0 L2085.0 2530.7 L2078.3 2542.3 L2075.0 2552.3 L2078.3 2564.0 L2090.0 2579.0 L2101.7 2589.0 L2096.7 2594.0 L2090.0 2617.3 L1910.0 2617.3 L1916.7 2597.3 L1933.3 2574.0 L1946.7 2552.3 L1958.3 2540.7 L1953.3 2529.0 L1946.7 2510.7 L1940.0 2497.3 L1920.0 2507.3 L1906.7 2504.0 L1900.0 2494.0 L1893.3 2480.7 L1883.3 2474.8 L1866.7 2476.5 L1841.7 2470.7 L1826.7 2462.3Z" fill="none" stroke="#000" stroke-width="2.30" stroke-linejoin="round"/>
<path d="M1837.5 2447.3C1837.5 2444.3 1839.0 2440.7 1841.7 2437.3C1844.3 2434.0 1849.2 2429.6 1853.3 2427.3C1857.5 2425.1 1859.4 2424.6 1866.7 2424.0C1873.9 2423.4 1891.0 2422.3 1896.7 2424.0C1902.4 2425.7 1900.6 2428.7 1900.8 2434.0C1901.1 2439.3 1899.9 2450.9 1898.3 2455.7C1896.8 2460.4 1896.9 2460.1 1891.7 2462.3C1886.4 2464.6 1873.6 2469.0 1866.7 2469.0C1859.7 2469.0 1854.2 2464.6 1850.0 2462.3C1845.8 2460.1 1843.8 2458.2 1841.7 2455.7C1839.6 2453.2 1837.5 2450.4 1837.5 2447.3Z" fill="none" stroke="#000" stroke-width="2.30" stroke-linejoin="round"/>
<path d="M1850.8 2447.3 L1853.3 2440.7 L1866.7 2434.0 L1883.3 2439.0 L1886.7 2445.7 L1881.7 2452.3 L1866.7 2461.5 L1853.3 2455.7Z" fill="none" stroke="#000" stroke-width="2.30" stroke-linejoin="round"/>
<path d="M1967.5 2512.3C1967.8 2509.6 1967.4 2506.8 1970.0 2504.0C1972.6 2501.2 1980.0 2495.1 1983.3 2495.7C1986.7 2496.2 1988.3 2503.2 1990.0 2507.3C1991.7 2511.5 1993.3 2516.8 1993.3 2520.7C1993.3 2524.6 1991.7 2528.2 1990.0 2530.7C1988.3 2533.2 1986.1 2535.9 1983.3 2535.7C1980.6 2535.4 1975.8 2531.5 1973.3 2529.0C1970.8 2526.5 1969.3 2523.4 1968.3 2520.7C1967.4 2517.9 1967.2 2515.1 1967.5 2512.3Z" fill="none" stroke="#000" stroke-width="2.30" stroke-linejoin="round"/>
<path d="M1933.3 2600.7 L1943.3 2577.3 L1955.0 2554.0 L1970.0 2547.3 L1976.7 2557.3 L1966.7 2564.0 L1960.0 2580.7 L1956.7 2600.7Z" fill="none" stroke="#000" stroke-width="2.30" stroke-linejoin="round"/>
<path d="M1953.3 2507.3 L1958.3 2494.0 L1975.0 2484.0 L1993.3 2487.3 L2000.0 2494.0 L2015.0 2504.0 L2028.3 2514.0 L2035.0 2521.5 L2026.7 2537.3 L2016.7 2544.0 L2017.5 2557.3 L2013.3 2565.7 L2000.0 2575.7 L1983.3 2574.0 L1990.0 2597.3 L1960.0 2600.7 L1963.3 2582.3 L1976.7 2560.7 L1971.7 2545.7 L1955.0 2552.3 L1943.3 2574.0 L1931.7 2600.7 L1916.7 2607.3 L1923.3 2584.0 L1940.0 2564.0 L1953.3 2540.7 L1960.0 2535.7 L1955.0 2524.0Z" fill="none" stroke="#000" stroke-width="2.30" stroke-linejoin="round"/>
<path d="M2042.5 2581.5 L2056.7 2574.8 L2070.0 2577.3 L2082.5 2584.8 L2076.7 2588.2 L2056.7 2587.3Z" fill="none" stroke="#000" stroke-width="2.30" stroke-linejoin="round"/>
<path d="M1871.7 2560.7 L1881.7 2549.0 L1896.7 2554.0 L1903.3 2544.0 L1916.7 2532.3 L1933.3 2524.0 L1943.3 2523.2 L1950.0 2530.7 L1943.3 2538.2 L1926.7 2544.0 L1920.0 2555.7 L1910.0 2565.7 L1905.0 2574.0 L1896.7 2580.7 L1881.7 2583.2 L1871.7 2579.0Z" fill="none" stroke="#000" stroke-width="2.30" stroke-linejoin="round"/>
<path d="M1903.3 2547.3C1903.3 2544.3 1906.7 2541.8 1910.0 2539.0C1913.3 2536.2 1918.3 2532.8 1923.3 2530.7C1928.3 2528.6 1936.7 2526.2 1940.0 2526.5C1943.3 2526.8 1944.4 2530.5 1943.3 2532.3C1942.2 2534.1 1937.2 2535.7 1933.3 2537.3C1929.4 2539.0 1923.1 2539.6 1920.0 2542.3C1916.9 2545.1 1916.7 2551.5 1915.0 2554.0C1913.3 2556.5 1911.9 2558.4 1910.0 2557.3C1908.1 2556.2 1903.3 2550.4 1903.3 2547.3Z" fill="none" stroke="#000" stroke-width="2.30" stroke-linejoin="round" stroke-dasharray="10 4.3"/>
<path d="M1880.0 2574.0C1880.0 2572.1 1880.8 2567.9 1883.3 2565.7C1885.8 2563.4 1891.9 2560.1 1895.0 2560.7C1898.1 2561.2 1901.1 2566.5 1901.7 2569.0C1902.2 2571.5 1901.4 2574.3 1898.3 2575.7C1895.3 2577.1 1886.4 2577.6 1883.3 2577.3C1880.3 2577.1 1880.0 2575.9 1880.0 2574.0Z" fill="none" stroke="#000" stroke-width="2.30" stroke-linejoin="round" stroke-dasharray="10 4.3"/>
<path d="M1688.3 2592.3 L1716.7 2590.7 L1766.7 2590.7 L1816.7 2589.8 L1858.3 2592.3" fill="none" stroke="#000" stroke-width="2.30" stroke-linejoin="round" stroke-dasharray="10 4.3"/>
<path d="M1705.0 2599.0 L1733.3 2596.5 L1783.3 2597.3 L1833.3 2599.0" fill="none" stroke="#000" stroke-width="2.30" stroke-linejoin="round" stroke-dasharray="10 4.3"/>
<path d="M1156.7 2550.7 L1166.7 2546.5 L1193.3 2557.3 L1196.7 2560.7 L1176.7 2562.3 L1160.0 2559.0Z" fill="none" stroke="#000" stroke-width="2.30" stroke-linejoin="round"/>
<path d="M1123.3 2549.0 L1128.3 2554.0 L1138.3 2550.7 L1148.3 2544.0 L1143.3 2539.0" fill="none" stroke="#000" stroke-width="2.30" stroke-linejoin="round"/>
<path d="M1121.1 2568.9 L1129.3 2565.1 M1145.9 2578.2 L1150.5 2578.2 M1087.7 2581.1 L1092.0 2579.3 M1132.9 2598.2 L1137.8 2596.8 M1156.5 2603.4 L1165.0 2602.5 M1100.2 2567.4 L1106.3 2569.5 M1104.4 2587.5 L1113.3 2586.4 M1147.2 2565.1 L1151.7 2563.7 M1120.0 2587.7 L1127.4 2586.2 M1176.0 2592.6 L1182.0 2593.1 M1144.6 2600.3 L1154.0 2598.2 M1132.1 2595.1 L1137.4 2595.1 M1087.9 2591.3 L1097.8 2592.0 M1164.5 2588.1 L1173.0 2587.7 M1181.3 2603.3 L1188.9 2604.5 M1090.4 2592.7 L1098.4 2597.0 M1128.3 2591.3 L1132.7 2591.1 M1102.9 2567.4 L1107.4 2568.6 M1098.4 2573.1 L1105.0 2575.6 M1092.7 2581.8 L1100.4 2584.9 M1178.9 2599.8 L1185.1 2599.2 M1125.2 2600.6 L1135.9 2596.8 M1103.9 2572.4 L1109.8 2572.3 M1152.1 2573.7 L1156.2 2573.4 M1126.4 2586.9 L1137.5 2589.0 M1143.5 2589.1 L1151.8 2585.1 M1185.4 2596.9 L1192.4 2596.2 M1095.4 2589.8 L1099.6 2587.9 M1107.7 2569.4 L1113.7 2566.5 M1083.4 2568.9 L1088.2 2568.2 M1086.3 2600.2 L1094.5 2597.2 M1112.8 2577.4 L1119.2 2574.8 M1182.4 2605.4 L1190.0 2605.2 M1093.4 2566.8 L1099.9 2565.2 M1086.0 2603.5 L1093.7 2600.7 M1146.7 2563.5 L1153.9 2567.2 M1113.8 2578.2 L1119.0 2579.7 M1145.5 2596.1 L1151.9 2594.3 M1178.0 2605.0 L1188.1 2608.2 M1178.8 2594.4 L1184.7 2594.5 M1124.8 2563.6 L1129.1 2562.6 M1113.6 2592.3 L1124.9 2591.7 M1192.7 2605.1 L1203.9 2603.6 M1109.1 2572.2 L1114.5 2570.5 M1156.1 2601.3 L1166.6 2601.1 M1159.5 2597.0 L1164.3 2597.8 M1104.2 2596.5 L1110.5 2598.5 M1130.2 2603.4 L1139.2 2600.2 M1098.2 2568.9 L1108.6 2572.2 M1100.4 2598.1 L1111.8 2600.0 M1124.2 2586.1 L1128.8 2583.7 M1144.8 2602.8 L1151.7 2605.5 M1112.7 2575.0 L1118.7 2575.5 M1113.6 2580.5 L1118.3 2582.5 M1124.6 2582.2 L1132.5 2585.5 M1132.4 2602.1 L1140.3 2602.4 M1144.4 2563.1 L1151.5 2560.8 M1083.8 2597.0 L1089.2 2596.8 M1121.4 2584.8 L1129.4 2587.1 M1095.7 2586.6 L1101.6 2585.3 M1148.9 2595.3 L1159.9 2594.6 M1143.1 2592.4 L1150.6 2592.6 M1139.1 2603.1 L1147.9 2606.6 M1148.6 2603.2 L1158.4 2599.5 M1097.5 2581.5 L1102.1 2580.3 M1091.9 2591.3 L1101.1 2595.2 M1101.4 2593.4 L1109.9 2590.2 M1186.3 2604.3 L1191.6 2606.8 M1129.8 2583.4 L1140.8 2587.2 M1102.2 2581.0 L1110.1 2579.7 M1106.2 2576.1 L1114.7 2571.7 M1148.0 2581.4 L1152.2 2580.7 M1090.8 2605.0 L1099.8 2609.6 M1095.6 2573.8 L1099.8 2575.1 M1114.9 2567.9 L1121.6 2570.9 M1100.8 2602.2 L1109.0 2603.8 M1093.8 2564.8 L1103.1 2564.1 M1091.8 2603.0 L1100.3 2605.6 M1093.1 2599.4 L1097.5 2601.1 M1136.3 2577.0 L1143.8 2580.5 M1114.6 2567.9 L1122.4 2565.8 M1096.1 2569.3 L1100.4 2568.0 M1119.7 2575.6 L1129.4 2573.5 M1141.7 2570.0 L1147.7 2566.9 M1112.6 2563.0 L1122.2 2563.5 M1105.4 2582.9 L1115.8 2578.6 M1141.1 2598.5 L1148.2 2598.5 M1163.6 2604.9 L1169.9 2607.1 M1165.8 2589.9 L1172.9 2588.8 M1089.7 2568.0 L1094.2 2569.1 M1113.2 2569.4 L1117.7 2571.0 M1116.2 2572.8 L1122.6 2572.6 M1101.7 2581.7 L1107.2 2584.4 M1111.9 2604.2 L1118.3 2603.3 M1083.5 2578.9 L1091.2 2578.9 M1106.8 2584.2 L1110.9 2583.2 M1093.8 2579.6 L1097.8 2577.6 M1118.8 2572.4 L1127.4 2572.7 M1170.9 2590.8 L1179.8 2594.4 M1128.8 2576.5 L1139.6 2572.5 M1167.8 2590.2 L1172.1 2591.7 M1168.9 2597.5 L1174.2 2597.7 M1142.2 2598.5 L1151.8 2601.8 M1151.5 2601.0 L1160.6 2602.8 M1110.2 2563.7 L1115.3 2563.0 M1095.6 2598.6 L1103.9 2599.6 M1156.4 2591.8 L1163.3 2588.1 M1176.4 2594.8 L1184.3 2595.0 M1092.0 2573.8 L1101.2 2571.0 M1169.6 2604.6 L1177.5 2603.7 M1139.2 2592.0 L1149.1 2593.1 M1100.5 2573.3 L1110.1 2571.4 M1149.6 2562.9 L1154.1 2561.8" stroke="#000" stroke-width="2.6" fill="none"/>
<path d="M1952.8 2605.5 h29.6 M1514.5 2604.1 h22.9 M1716.3 2600.9 h36.6 M1409.1 2607.8 h38.0 M1200.1 2603.7 h34.2 M1421.3 2607.6 h14.7 M1848.7 2601.1 h24.8 M2275.7 2601.1 h24.3 M2199.9 2605.6 h15.4 M2212.4 2603.9 h8.8 M1184.1 2603.9 h22.4 M1527.2 2601.1 h19.0 M1543.5 2606.7 h8.1 M2043.3 2606.7 h11.8 M2245.4 2605.7 h17.3 M1608.1 2603.1 h40.0 M1857.6 2602.9 h21.7 M1496.4 2600.4 h11.3 M2139.9 2602.3 h37.9 M1466.7 2602.1 h24.4 M1398.3 2603.0 h38.6 M2196.9 2606.5 h28.2 M2007.5 2600.4 h31.4 M1698.5 2606.0 h28.6 M1509.1 2600.4 h37.7 M1326.4 2603.8 h19.0 M1522.4 2605.9 h39.2 M1479.2 2605.2 h17.6 M1820.9 2603.2 h13.4 M1365.9 2601.7 h37.0 M1751.6 2601.8 h37.0 M1401.3 2600.7 h18.9 M1284.8 2601.9 h16.3 M1835.1 2607.1 h32.0 M1654.7 2603.3 h24.8 M1613.4 2602.7 h10.0 M1499.1 2607.7 h12.0 M1758.9 2605.0 h35.6 M1428.4 2602.2 h16.0 M1639.7 2603.6 h38.5 M2156.0 2607.0 h8.7 M1217.1 2605.7 h36.7 M1724.3 2604.7 h8.0 M1630.2 2607.4 h34.4 M2163.8 2607.8 h16.0 M1305.4 2601.2 h24.7 M1964.4 2607.5 h31.1 M1924.5 2606.1 h22.6 M1814.2 2600.3 h33.0 M1447.5 2607.4 h28.7 M1529.3 2601.0 h16.1 M1911.7 2605.6 h11.6 M1260.9 2604.2 h26.7 M1626.3 2601.8 h27.2 M1192.0 2602.4 h22.7 M2282.8 2605.2 h23.2 M1450.0 2602.0 h38.7 M1990.4 2602.5 h8.7 M1753.1 2605.4 h21.4 M1475.8 2605.3 h37.6 M1440.8 2600.3 h18.8 M1663.6 2605.5 h14.3 M2096.6 2605.9 h24.2 M1416.0 2607.8 h18.0 M2123.0 2601.8 h15.1 M2054.5 2602.4 h38.5 M1750.1 2601.5 h15.1 M1659.6 2605.3 h38.4 M1348.3 2603.1 h14.8 M1249.2 2603.1 h36.7 M2196.1 2605.9 h39.9 M1944.1 2603.0 h20.0 M1561.5 2601.4 h8.1 M1501.8 2602.8 h38.6 M1322.3 2607.7 h14.6 M1590.1 2606.6 h34.3 M1677.3 2600.4 h23.2 M1608.6 2607.4 h14.2 M1598.9 2607.2 h9.0 M1652.4 2606.5 h32.5 M1226.7 2600.3 h10.0 M2238.1 2602.1 h36.8 M1569.9 2602.2 h38.6 M1889.5 2602.1 h30.9 M1544.0 2602.2 h8.1 M2049.0 2607.3 h28.3 M1726.5 2607.7 h38.5 M1624.5 2602.0 h21.8 M1747.5 2607.4 h13.9 M2103.0 2605.9 h34.3 M2068.7 2604.9 h18.5 M1547.5 2602.9 h33.0 M1270.9 2601.6 h32.1 M1464.4 2600.5 h9.1 M1815.5 2602.6 h39.4 M2196.0 2607.9 h16.5 M1276.7 2600.8 h24.0 M1996.2 2603.6 h15.5 M1659.4 2605.0 h29.6 M2040.2 2606.8 h29.3 M1319.3 2606.7 h17.4 M1831.9 2603.0 h31.6 M1409.1 2602.0 h15.9 M1356.3 2607.1 h26.5 M1555.3 2603.2 h39.8 M1763.4 2601.9 h33.9 M1931.3 2607.9 h11.3 M1726.0 2606.6 h34.9 M1317.1 2601.5 h39.1 M1850.7 2607.4 h19.9 M2176.0 2603.6 h16.3 M2074.4 2607.6 h11.4 M1865.6 2605.0 h15.0 M1604.0 2601.1 h14.5 M1473.2 2604.8 h28.9 M1414.0 2600.1 h18.5 M1960.1 2601.5 h18.0 M1413.9 2606.4 h25.5 M1252.8 2600.8 h20.6 M1812.7 2605.1 h10.9 M1368.2 2605.6 h21.1 M1505.8 2602.5 h38.5 M1539.2 2604.5 h19.4 M1658.9 2606.9 h39.9 M1598.3 2601.6 h31.3 M1414.2 2600.0 h36.9 M1667.3 2606.6 h21.0 M2195.3 2603.7 h13.2 M1197.1 2604.4 h28.5 M1606.5 2604.0 h12.7 M1505.8 2604.2 h37.6 M1305.1 2603.9 h33.8 M1241.4 2607.4 h20.4 M2219.9 2605.0 h13.1 M2083.7 2601.8 h20.9 M2153.3 2606.6 h13.9 M1430.9 2603.2 h24.6 M1621.1 2601.0 h15.9 M2013.6 2607.2 h9.3" stroke="#000" stroke-width="1.8" fill="none"/>
<path d="M1315.0 2590.7 L1320.0 2584.8 L1350.0 2583.2 L1383.3 2584.0 L1386.7 2587.3 L1380.0 2594.0 L1358.3 2597.3 L1333.3 2594.8Z" fill="none" stroke="#000" stroke-width="2.30" stroke-linejoin="round"/>
<path d="M1323.3 2594.0 L1343.3 2589.0 L1358.3 2590.7 L1373.3 2589.0" fill="none" stroke="#000" stroke-width="2.30" stroke-linejoin="round" stroke-dasharray="10 4.3"/>
</g>
<rect x="1052.0" y="1559.2" width="1297.0" height="1050.0" fill="none" stroke="#000" stroke-width="3.33"/>
<text x="1073.03" y="2669.20" font-size="44.17" textLength="87.93" lengthAdjust="spacingAndGlyphs" fill="#000">−80</text>
<text x="1218.73" y="2669.20" font-size="44.17" textLength="87.93" lengthAdjust="spacingAndGlyphs" fill="#000">−60</text>
<text x="1364.43" y="2669.20" font-size="44.17" textLength="87.93" lengthAdjust="spacingAndGlyphs" fill="#000">−40</text>
<text x="1510.13" y="2669.20" font-size="44.17" textLength="87.93" lengthAdjust="spacingAndGlyphs" fill="#000">−20</text>
<text x="1686.55" y="2669.20" font-size="44.17" textLength="26.51" lengthAdjust="spacingAndGlyphs" fill="#000">0</text>
<text x="1818.99" y="2669.20" font-size="44.17" textLength="53.02" lengthAdjust="spacingAndGlyphs" fill="#000">20</text>
<text x="1964.69" y="2669.20" font-size="44.17" textLength="53.02" lengthAdjust="spacingAndGlyphs" fill="#000">40</text>
<text x="2110.39" y="2669.20" font-size="44.17" textLength="53.02" lengthAdjust="spacingAndGlyphs" fill="#000">60</text>
<text x="2256.09" y="2669.20" font-size="44.17" textLength="53.02" lengthAdjust="spacingAndGlyphs" fill="#000">80</text>
<path d="M1117.0 2609.2 v14.6 M1262.7 2609.2 v14.6 M1408.4 2609.2 v14.6 M1554.1 2609.2 v14.6 M1699.8 2609.2 v14.6 M1845.5 2609.2 v14.6 M1991.2 2609.2 v14.6 M2136.9 2609.2 v14.6 M2282.6 2609.2 v14.6" stroke="#000" stroke-width="3.33" fill="none"/>
<text x="928.48" y="1574.70" font-size="44.17" textLength="53.02" lengthAdjust="spacingAndGlyphs" fill="#000">10</text>
<text x="983.20" y="1559.70" font-size="30.92" textLength="19.10" lengthAdjust="spacingAndGlyphs" fill="#000">−</text>
<text x="1004.50" y="1559.70" font-size="30.92" textLength="18.56" lengthAdjust="spacingAndGlyphs" fill="#000">1</text>
<text x="950.48" y="1837.20" font-size="44.17" textLength="53.02" lengthAdjust="spacingAndGlyphs" fill="#000">10</text>
<text x="1004.50" y="1822.20" font-size="30.92" textLength="18.56" lengthAdjust="spacingAndGlyphs" fill="#000">0</text>
<text x="950.48" y="2099.70" font-size="44.17" textLength="53.02" lengthAdjust="spacingAndGlyphs" fill="#000">10</text>
<text x="1004.50" y="2084.70" font-size="30.92" textLength="18.56" lengthAdjust="spacingAndGlyphs" fill="#000">1</text>
<text x="950.48" y="2362.20" font-size="44.17" textLength="53.02" lengthAdjust="spacingAndGlyphs" fill="#000">10</text>
<text x="1004.50" y="2347.20" font-size="30.92" textLength="18.56" lengthAdjust="spacingAndGlyphs" fill="#000">2</text>
<text x="950.48" y="2624.70" font-size="44.17" textLength="53.02" lengthAdjust="spacingAndGlyphs" fill="#000">10</text>
<text x="1004.50" y="2609.70" font-size="30.92" textLength="18.56" lengthAdjust="spacingAndGlyphs" fill="#000">3</text>
<path d="M1052.0 1559.2 h-14.6 M1052.0 1821.7 h-14.6 M1052.0 2084.2 h-14.6 M1052.0 2346.7 h-14.6 M1052.0 2609.2 h-14.6" stroke="#000" stroke-width="3.33" fill="none"/>
<path d="M1052.0 1638.2 h-8.3 M1052.0 1684.4 h-8.3 M1052.0 1717.2 h-8.3 M1052.0 1742.7 h-8.3 M1052.0 1763.5 h-8.3 M1052.0 1781.0 h-8.3 M1052.0 1796.3 h-8.3 M1052.0 1809.7 h-8.3 M1052.0 1900.7 h-8.3 M1052.0 1946.9 h-8.3 M1052.0 1979.7 h-8.3 M1052.0 2005.2 h-8.3 M1052.0 2026.0 h-8.3 M1052.0 2043.5 h-8.3 M1052.0 2058.8 h-8.3 M1052.0 2072.2 h-8.3 M1052.0 2163.2 h-8.3 M1052.0 2209.4 h-8.3 M1052.0 2242.2 h-8.3 M1052.0 2267.7 h-8.3 M1052.0 2288.5 h-8.3 M1052.0 2306.0 h-8.3 M1052.0 2321.3 h-8.3 M1052.0 2334.7 h-8.3 M1052.0 2425.7 h-8.3 M1052.0 2471.9 h-8.3 M1052.0 2504.7 h-8.3 M1052.0 2530.2 h-8.3 M1052.0 2551.0 h-8.3 M1052.0 2568.5 h-8.3 M1052.0 2583.8 h-8.3 M1052.0 2597.2 h-8.3" stroke="#000" stroke-width="2.50" fill="none"/>
<text x="1614.76" y="2727.10" font-size="44.17" textLength="171.49" lengthAdjust="spacingAndGlyphs" fill="#000">Latitude</text>
<rect x="2356.1" y="2556.40" width="52.4" height="53.10" fill="#0000ff"/>
<rect x="2356.1" y="2503.90" width="52.4" height="53.10" fill="#1a1aff"/>
<rect x="2356.1" y="2451.40" width="52.4" height="53.10" fill="#3434ff"/>
<rect x="2356.1" y="2398.90" width="52.4" height="53.10" fill="#5050ff"/>
<rect x="2356.1" y="2346.40" width="52.4" height="53.10" fill="#6a6aff"/>
<rect x="2356.1" y="2293.90" width="52.4" height="53.10" fill="#8686ff"/>
<rect x="2356.1" y="2241.40" width="52.4" height="53.10" fill="#a0a0ff"/>
<rect x="2356.1" y="2188.90" width="52.4" height="53.10" fill="#babaff"/>
<rect x="2356.1" y="2136.40" width="52.4" height="53.10" fill="#d6d6ff"/>
<rect x="2356.1" y="2083.90" width="52.4" height="53.10" fill="#f0f0ff"/>
<rect x="2356.1" y="2031.40" width="52.4" height="53.10" fill="#fff2f2"/>
<rect x="2356.1" y="1978.90" width="52.4" height="53.10" fill="#ffd8d8"/>
<rect x="2356.1" y="1926.40" width="52.4" height="53.10" fill="#ffbcbc"/>
<rect x="2356.1" y="1873.90" width="52.4" height="53.10" fill="#ffa2a2"/>
<rect x="2356.1" y="1821.40" width="52.4" height="53.10" fill="#ff8888"/>
<rect x="2356.1" y="1768.90" width="52.4" height="53.10" fill="#ff6c6c"/>
<rect x="2356.1" y="1716.40" width="52.4" height="53.10" fill="#ff5252"/>
<rect x="2356.1" y="1663.90" width="52.4" height="53.10" fill="#ff3636"/>
<rect x="2356.1" y="1611.40" width="52.4" height="53.10" fill="#ff1c1c"/>
<rect x="2356.1" y="1558.90" width="52.4" height="53.10" fill="#ff0000"/>
<rect x="2356.1" y="1559.2" width="52.4" height="1050.0" fill="none" stroke="#000" stroke-width="3.33"/>
<text x="2438.17" y="2572.10" font-size="44.17" textLength="101.18" lengthAdjust="spacingAndGlyphs" fill="#000">−1.8</text>
<text x="2438.17" y="2414.60" font-size="44.17" textLength="101.18" lengthAdjust="spacingAndGlyphs" fill="#000">−1.2</text>
<text x="2438.17" y="2257.10" font-size="44.17" textLength="101.18" lengthAdjust="spacingAndGlyphs" fill="#000">−0.6</text>
<text x="2438.17" y="2099.60" font-size="44.17" textLength="66.26" lengthAdjust="spacingAndGlyphs" fill="#000">0.0</text>
<text x="2438.17" y="1942.10" font-size="44.17" textLength="66.26" lengthAdjust="spacingAndGlyphs" fill="#000">0.6</text>
<text x="2438.17" y="1784.60" font-size="44.17" textLength="66.26" lengthAdjust="spacingAndGlyphs" fill="#000">1.2</text>
<text x="2438.17" y="1627.10" font-size="44.17" textLength="66.26" lengthAdjust="spacingAndGlyphs" fill="#000">1.8</text>
<path d="M2408.5 2556.7 h14.6 M2408.5 2399.2 h14.6 M2408.5 2241.7 h14.6 M2408.5 2084.2 h14.6 M2408.5 1926.7 h14.6 M2408.5 1769.2 h14.6 M2408.5 1611.7 h14.6" stroke="#000" stroke-width="3.33" fill="none"/>
<text x="2329.85" y="1548.60" font-size="44.17" textLength="78.65" lengthAdjust="spacingAndGlyphs" fill="#000">1e7</text>
<text x="2524.82" y="2089.70" font-size="44.17" textLength="129.35" lengthAdjust="spacingAndGlyphs" fill="#000" transform="rotate(-90.00 2589.50 2089.70)">m3/s2</text>
<text x="193.40" y="225.60" font-size="44.17" font-weight="bold" textLength="97.87" lengthAdjust="spacingAndGlyphs" fill="#000">Test</text>
<text x="303.27" y="225.60" font-size="44.17" textLength="14.04" lengthAdjust="spacingAndGlyphs" fill="#000">:</text>
<text x="324.27" y="225.60" font-size="44.17" textLength="166.97" lengthAdjust="spacingAndGlyphs" fill="#000">FHISTC_</text>
<text x="491.24" y="225.60" font-size="44.17" textLength="154.38" lengthAdjust="spacingAndGlyphs" fill="#000">WAma_</text>
<text x="645.62" y="225.60" font-size="44.17" textLength="205.30" lengthAdjust="spacingAndGlyphs" fill="#000">ne16pg3_</text>
<text x="850.92" y="225.60" font-size="44.17" textLength="126.30" lengthAdjust="spacingAndGlyphs" fill="#000">ctem_</text>
<text x="977.22" y="225.60" font-size="44.17" textLength="218.08" lengthAdjust="spacingAndGlyphs" fill="#000">esmfzm02</text>
<text x="194.00" y="274.60" font-size="44.17" textLength="128.70" lengthAdjust="spacingAndGlyphs" fill="#000">years:</text>
<text x="335.95" y="274.60" font-size="44.17" textLength="227.11" lengthAdjust="spacingAndGlyphs" fill="#000">1979-1979</text>
<text x="1914.40" y="225.60" font-size="44.17" font-weight="bold" textLength="195.92" lengthAdjust="spacingAndGlyphs" fill="#000">Baseline</text>
<text x="2119.32" y="225.60" font-size="44.17" textLength="14.04" lengthAdjust="spacingAndGlyphs" fill="#000">:</text>
<text x="2140.32" y="225.60" font-size="44.17" textLength="166.97" lengthAdjust="spacingAndGlyphs" fill="#000">FHISTC_</text>
<text x="2307.30" y="225.60" font-size="44.17" textLength="154.38" lengthAdjust="spacingAndGlyphs" fill="#000">WAma_</text>
<text x="2461.67" y="225.60" font-size="44.17" textLength="205.30" lengthAdjust="spacingAndGlyphs" fill="#000">ne16pg3_</text>
<text x="2666.98" y="225.60" font-size="44.17" textLength="126.30" lengthAdjust="spacingAndGlyphs" fill="#000">ctem_</text>
<text x="2793.28" y="225.60" font-size="44.17" textLength="190.04" lengthAdjust="spacingAndGlyphs" fill="#000">sphzm01</text>
<text x="1913.00" y="274.60" font-size="44.17" textLength="128.70" lengthAdjust="spacingAndGlyphs" fill="#000">years:</text>
<text x="2054.95" y="274.60" font-size="44.17" textLength="227.11" lengthAdjust="spacingAndGlyphs" fill="#000">1979-1979</text>
<g transform="rotate(-90.00 63.50 824.50)"><text x="-85.94" y="824.50" font-size="44.17" textLength="177.92" lengthAdjust="spacingAndGlyphs" fill="#000">Pressure</text>
<text x="105.23" y="824.50" font-size="44.17" textLength="107.71" lengthAdjust="spacingAndGlyphs" fill="#000">[hPa]</text></g>
<text x="1525.20" y="1537.20" font-size="44.17" font-weight="bold" textLength="95.87" lengthAdjust="spacingAndGlyphs" fill="#000">Test</text>
<text x="1635.50" y="1537.20" font-size="44.17" textLength="31.50" lengthAdjust="spacingAndGlyphs" fill="#000">−</text>
<text x="1679.70" y="1537.20" font-size="44.17" font-weight="bold" textLength="199.42" lengthAdjust="spacingAndGlyphs" fill="#000">Baseline</text>
</svg>
</body></html>
